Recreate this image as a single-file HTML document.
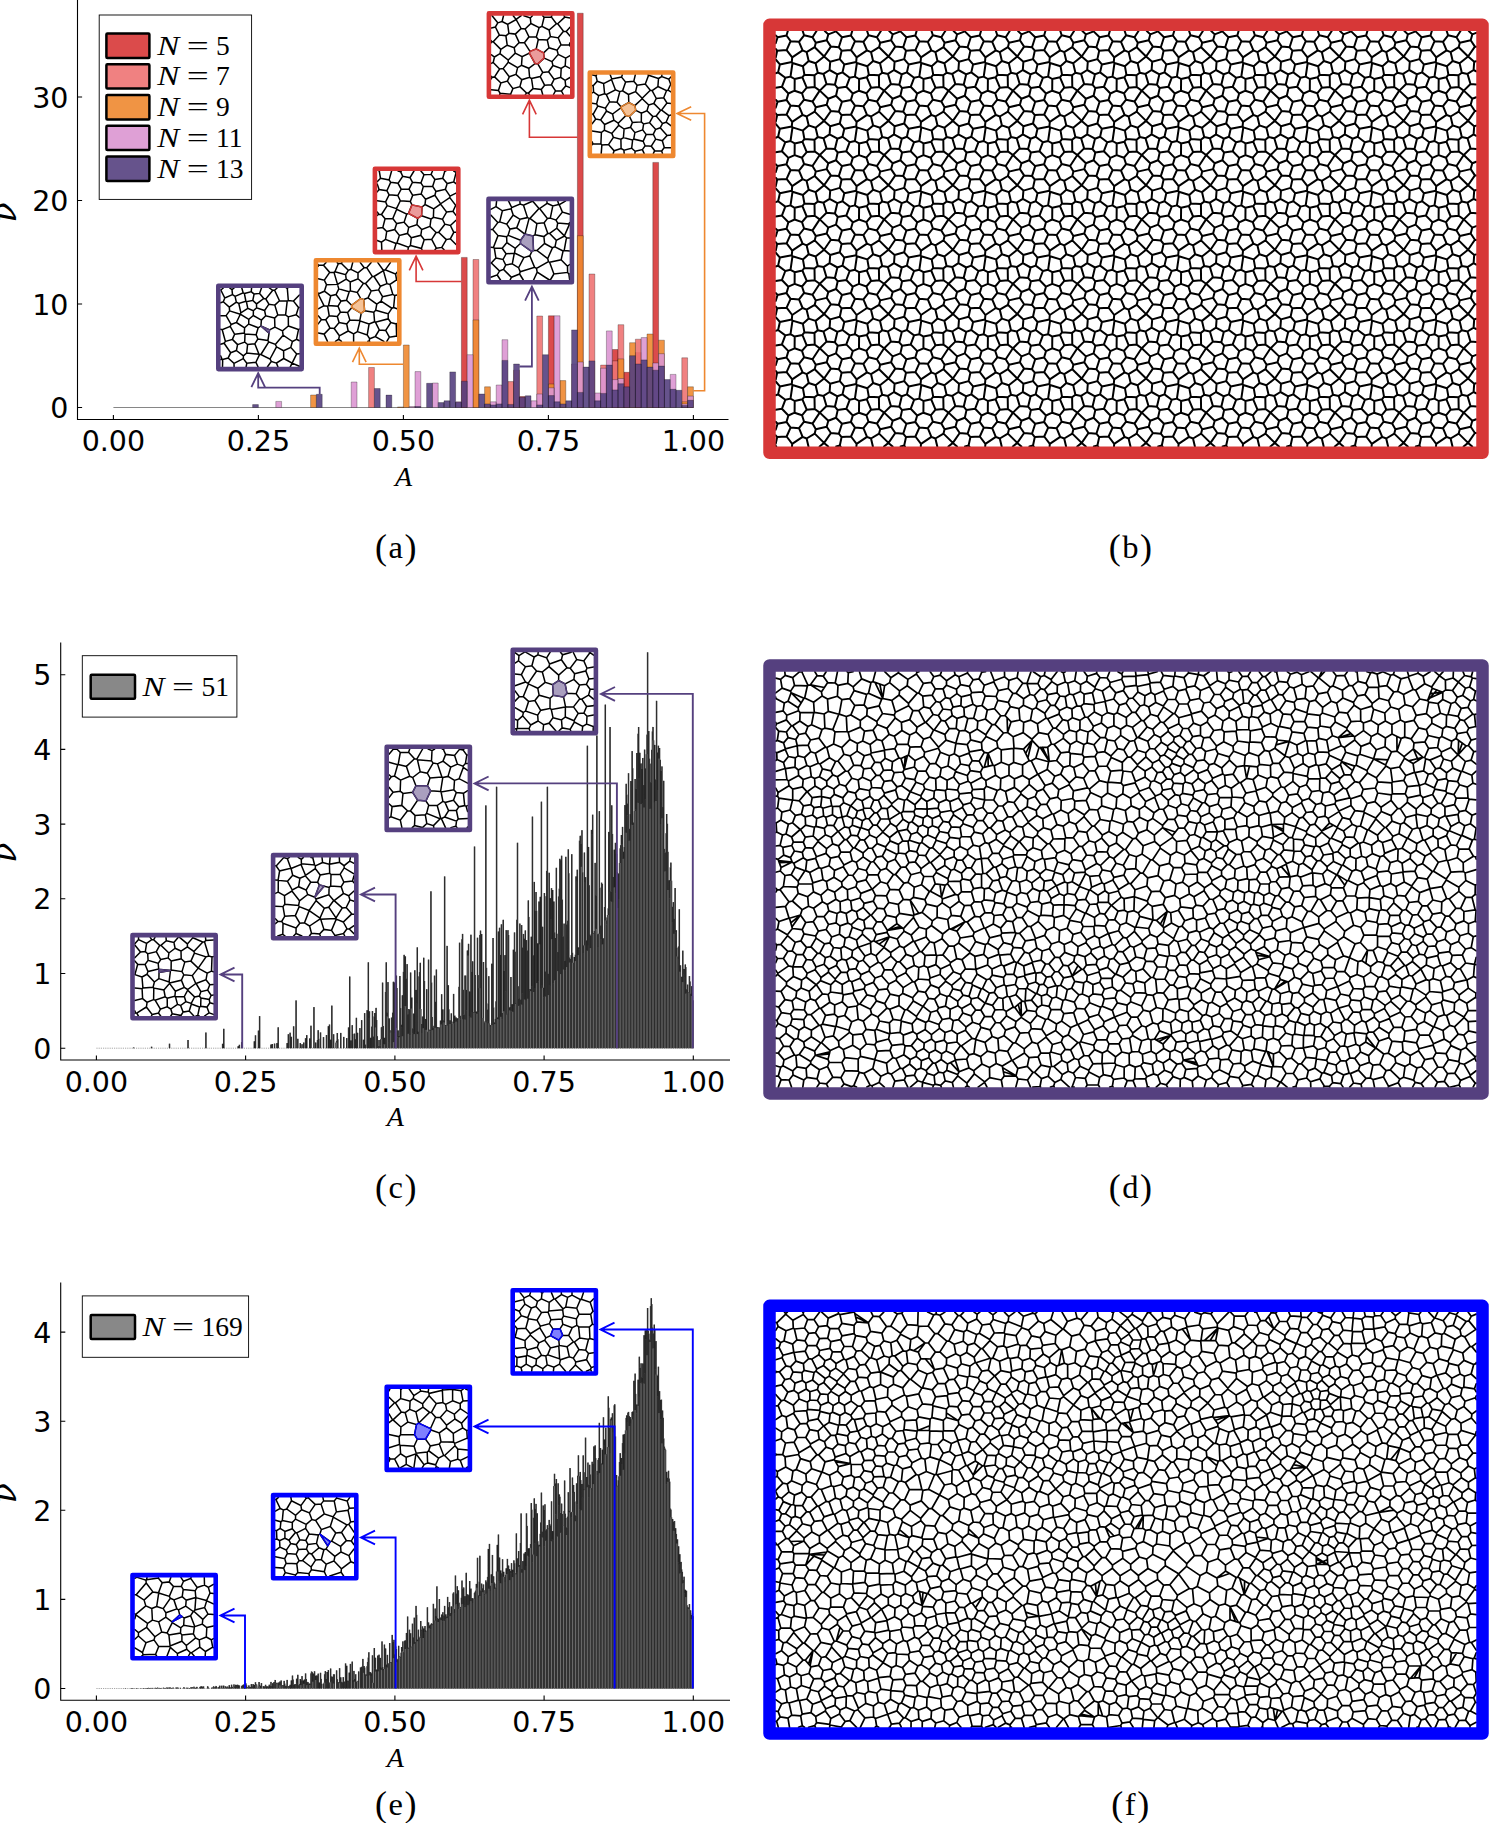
<!DOCTYPE html>
<html><head><meta charset="utf-8"><title>figure</title>
<style>html,body{margin:0;padding:0;background:#fff}svg{display:block}</style></head>
<body>
<svg width="1489" height="1823" viewBox="0 0 1489 1823">
<rect width="1489" height="1823" fill="#fff"/>
<path d="M77.5 -2 V419.5 H728.5" fill="none" stroke="#000" stroke-width="1.1"/>
<path d="M113.4 419.5v-4.6M258.4 419.5v-4.6M403.4 419.5v-4.6M548.4 419.5v-4.6M693.4 419.5v-4.6M77.5 407.5h4.6M77.5 304h4.6M77.5 200.5h4.6M77.5 97h4.6" fill="none" stroke="#000" stroke-width="1.1"/>
<g font-family='"DejaVu Sans","Liberation Sans",sans-serif' font-size="28.5" fill="#000">
<text x="113.4" y="451.3" text-anchor="middle">0.00</text>
<text x="258.4" y="451.3" text-anchor="middle">0.25</text>
<text x="403.4" y="451.3" text-anchor="middle">0.50</text>
<text x="548.4" y="451.3" text-anchor="middle">0.75</text>
<text x="693.4" y="451.3" text-anchor="middle">1.00</text>
<text x="68.4" y="418.1" text-anchor="end">0</text>
<text x="68.4" y="314.6" text-anchor="end">10</text>
<text x="68.4" y="211.1" text-anchor="end">20</text>
<text x="68.4" y="107.6" text-anchor="end">30</text>
</g>
<path d="M113.4 407.5H693.4" stroke="#000" stroke-width="0.6" stroke-opacity="0.8"/>
<path d="M461.4 407.5v-150.1h5.8v150.1zM519.4 407.5v-10.9h5.8v10.9zM548.4 407.5v-91.7h5.8v91.7zM577.4 407.5v-394.3h5.8v394.3zM612.2 407.5v-58h5.8v58zM623.8 407.5v-35.2h5.8v35.2zM635.4 407.5v-54.9h5.8v54.9zM652.8 407.5v-245.1h5.8v245.1z" fill="#D73737" fill-opacity="0.9" stroke="#000" stroke-opacity="0.55" stroke-width="0.5"/>
<path d="M368.6 407.5v-40h5.8v40zM473 407.5v-148h5.8v148zM507.8 407.5v-25.9h5.8v25.9zM513.6 407.5v-37.3h5.8v37.3zM536.8 407.5v-91.5h5.8v91.5zM589 407.5v-133.5h5.8v133.5zM600.6 407.5v-42.4h5.8v42.4zM612.2 407.5v-46.6h5.8v46.6zM618 407.5v-82.8h5.8v82.8zM635.4 407.5v-68.3h5.8v68.3zM681.8 407.5v-49.7h5.8v49.7z" fill="#EE7373" fill-opacity="0.9" stroke="#000" stroke-opacity="0.55" stroke-width="0.5"/>
<path d="M310.6 407.5v-12.5h5.8v12.5zM397.6 407.5v-0.6h5.8v0.6zM403.4 407.5v-62.5h5.8v62.5zM473 407.5v-87.6h5.8v87.6zM484.6 407.5v-20.7h5.8v20.7zM548.4 407.5v-23.5h5.8v23.5zM560 407.5v-26.9h5.8v26.9zM577.4 407.5v-171.8h5.8v171.8zM618 407.5v-48.6h5.8v48.6zM629.6 407.5v-64.8h5.8v64.8zM647 407.5v-73.5h5.8v73.5zM658.6 407.5v-67.3h5.8v67.3zM681.8 407.5v-5.7h5.8v5.7zM687.6 407.5v-20.7h5.8v20.7z" fill="#EE8830" fill-opacity="0.9" stroke="#000" stroke-opacity="0.55" stroke-width="0.5"/>
<path d="M275.8 407.5v-6.1h5.8v6.1zM351.2 407.5v-25.5h5.8v25.5zM409.2 407.5v-1h5.8v1zM415 407.5v-35.9h5.8v35.9zM432.4 407.5v-24.5h5.8v24.5zM455.6 407.5v-5.7h5.8v5.7zM467.2 407.5v-52.8h5.8v52.8zM490.4 407.5v-5.7h5.8v5.7zM496.2 407.5v-22.5h5.8v22.5zM502 407.5v-67.8h5.8v67.8zM531 407.5v-6.7h5.8v6.7zM536.8 407.5v-13.5h5.8v13.5zM548.4 407.5v-19.7h5.8v19.7zM554.2 407.5v-91.7h5.8v91.7zM571.6 407.5v-43.5h5.8v43.5zM577.4 407.5v-45.5h5.8v45.5zM594.8 407.5v-14.5h5.8v14.5zM600.6 407.5v-39.3h5.8v39.3zM606.4 407.5v-76.6h5.8v76.6zM612.2 407.5v-27.9h5.8v27.9zM618 407.5v-29h5.8v29zM641.2 407.5v-69.9h5.8v69.9zM652.8 407.5v-44.5h5.8v44.5zM658.6 407.5v-53.8h5.8v53.8zM670.2 407.5v-33.1h5.8v33.1zM681.8 407.5v-3.6h5.8v3.6zM687.6 407.5v-11.4h5.8v11.4z" fill="#DC96D2" fill-opacity="0.9" stroke="#000" stroke-opacity="0.55" stroke-width="0.5"/>
<path d="M252.6 407.5v-2.9h5.8v2.9zM316.4 407.5v-13.2h5.8v13.2zM374.4 407.5v-19h5.8v19zM386 407.5v-12.4h5.8v12.4zM415 407.5v-1h5.8v1zM426.6 407.5v-24.2h5.8v24.2zM438.2 407.5v-4.9h5.8v4.9zM444 407.5v-6.7h5.8v6.7zM449.8 407.5v-35.6h5.8v35.6zM455.6 407.5v-5.2h5.8v5.2zM461.4 407.5v-26.3h5.8v26.3zM478.8 407.5v-13.5h5.8v13.5zM484.6 407.5v-3.6h5.8v3.6zM490.4 407.5v-2.6h5.8v2.6zM496.2 407.5v-3.6h5.8v3.6zM502 407.5v-47.1h5.8v47.1zM507.8 407.5v-3.1h5.8v3.1zM513.6 407.5v-43.5h5.8v43.5zM519.4 407.5v-10.3h5.8v10.3zM525.2 407.5v-11.7h5.8v11.7zM536.8 407.5v-2.6h5.8v2.6zM542.6 407.5v-52.8h5.8v52.8zM548.4 407.5v-11.9h5.8v11.9zM554.2 407.5v-5.7h5.8v5.7zM560 407.5v-3.6h5.8v3.6zM565.8 407.5v-6.7h5.8v6.7zM571.6 407.5v-77.6h5.8v77.6zM577.4 407.5v-15.1h5.8v15.1zM583.2 407.5v-40.4h5.8v40.4zM589 407.5v-46.6h5.8v46.6zM594.8 407.5v-6.7h5.8v6.7zM600.6 407.5v-14.1h5.8v14.1zM606.4 407.5v-42.4h5.8v42.4zM612.2 407.5v-17.6h5.8v17.6zM618 407.5v-23.8h5.8v23.8zM623.8 407.5v-20.7h5.8v20.7zM629.6 407.5v-51.8h5.8v51.8zM635.4 407.5v-43.5h5.8v43.5zM641.2 407.5v-47.6h5.8v47.6zM647 407.5v-40.4h5.8v40.4zM652.8 407.5v-37.3h5.8v37.3zM658.6 407.5v-41.4h5.8v41.4zM664.4 407.5v-27.9h5.8v27.9zM670.2 407.5v-18.2h5.8v18.2zM676 407.5v-17.2h5.8v17.2zM681.8 407.5v-2.1h5.8v2.1zM687.6 407.5v-7.2h5.8v7.2z" fill="#55407F" fill-opacity="0.9" stroke="#000" stroke-opacity="0.55" stroke-width="0.5"/>
<path d="M577.4 137.3 L529.4 137.3 L529.4 100.2 M536.2 114.4 L529.4 100.2 L522.6 114.4" fill="none" stroke="#D73737" stroke-width="1.6" stroke-linejoin="miter"/>
<path d="M693.4 390.8 L704.6 390.8 L704.6 113.5 L677 113.5 M691.2 106.7 L677 113.5 L691.2 120.3" fill="none" stroke="#EE8830" stroke-width="1.6" stroke-linejoin="miter"/>
<path d="M461.4 281.5 L416.1 281.5 L416.1 256.2 M422.9 270.4 L416.1 256.2 L409.3 270.4" fill="none" stroke="#D73737" stroke-width="1.6" stroke-linejoin="miter"/>
<path d="M519.4 366.5 L531.9 366.5 L531.9 286.5 M538.7 300.7 L531.9 286.5 L525.1 300.7" fill="none" stroke="#55407F" stroke-width="1.8" stroke-linejoin="miter"/>
<path d="M403.4 364.2 L359.3 364.2 L359.3 348 M366.1 362.2 L359.3 348 L352.5 362.2" fill="none" stroke="#EE8830" stroke-width="1.6" stroke-linejoin="miter"/>
<path d="M319.7 394.2 L319.7 387.6 L258.2 387.6 L258.2 373 M265 387.2 L258.2 373 L251.4 387.2" fill="none" stroke="#55407F" stroke-width="1.8" stroke-linejoin="miter"/>
<rect x="486.6" y="11.1" width="88" height="88" fill="#fff"/>
<g transform="translate(491.2 15.7) scale(.1)"><path d="M0 122l42-9l24-41l-57-72M0 249l9 12l-9 8M0 390l33 23l55-34l8-42l64-42l-13-94l-65-7l-62 66l76 77M0 477l20-9l13-55M0 607l10 8l-10 17M0 740l72 7l17 28l105 10l23-56l70-20l19-69l78-24l19 12l15 101l83 9l14 50M9 261l11-1M10 615l24-3l63 61l65-19l55 75M20 468l64 65l35-4l62 82l-19 43M34 612l50-79M42 113l40 81M66 72l43-14l14-58M72 747l25-74M85 788l4-13M88 379l82 64l70-69l69 36l72-36l7-17l-56-87l-52-1l-50 52l10 53M109 58l56 28l84-48l50 90l-58 56l-64-8l-12-90M119 529l52-64l93 54l39-23l6-86M147 201l30-25M160 295l70 26M170 443l1 22M181 611l67-24l58 53M194 785l2 3M220 0l29 37l51-37M241 184l39 85M248 587l16-68M249 37l0 1M287 709l67 65l17 0l11 14M299 128l40 5l39 78l-46 59M303 496l73 30l63-47l-58-105M327 0l64 22l21-22M339 133l58-55l82 42l-28 94l20 24l-21 94l-62 25M342 788l12-14M371 774l47-45M376 526l8 90M378 211l73 3M391 22l6 56M403 628l87-19l25-42l59-6l55 75l-27 54l-68 5l-44-86M439 479l27 3l64-58l-6-52l-74-40M466 482l49 85M471 238l90 6l31-36l78 13l28 69l-39 55l-81-24l-17-77M479 120l28-13l72 36l73-63l-51-68l-72 4l-22 91M501 738l33-43M515 0l14 16M524 372l54-51M530 424l78 36l62-73l-11-42M574 561l44-63l-10-38M579 143l13 65M601 12l6-12M602 690l41 62l-20 36M618 498l82 30l40-26l5-78l43-25M629 636l66-19l44 29l49-28M643 752l59 1l19 35M652 80l13 1l58 75l27 1l38 45M665 81l71-67l52 8M670 221l53-65M670 387l75 37M695 617l5-89M698 290l82 2l8-21M702 753l43-51l43 17M728 0l8 14M739 646l6 56M740 502l48 24M750 157l38-41M780 292l8 11" fill="none" stroke="#000" stroke-width="15" stroke-linecap="round"/></g>
<polygon points="537.8,63.9 544.2,58.1 543.6,52.9 536.2,48.9 530,51.4 529.3,53.1 535.1,63.6" fill="#D73737" fill-opacity="0.5" stroke="#D73737" stroke-width="1.3" stroke-linejoin="round"/>
<rect x="488.9" y="13.4" width="83.4" height="83.4" fill="none" stroke="#D73737" stroke-width="4.6" stroke-linejoin="round"/>
<rect x="587.5" y="70.2" width="88" height="88" fill="#fff"/>
<g transform="translate(592.1 74.8) scale(.1)"><path d="M0 0l39 10l6-10M0 107l11 3l4 63l51 35l59-18l-10-102l-64-24l-40 46M0 181l15-8M0 285l45 7l21-84M0 393l10 2l47-83l-12-20M0 490l36-47l-26-48M0 562l93 15l-5 115l-79-1l-9-20M0 700l9-9M36 443l50 8l58-89l61 30l13 62l-93 43l-39-46M39 10l12 54M57 312l76 22l42-64l-33-73l92-46l43 17l-27 106l-75-4M88 692l10 9l-7 87M93 577l30-23l2-57M98 701l66-3l56 62l70-23l-2-91l-75-20l-49 72M115 88l79-40l40 103M123 554l74 32l70-81l-6-21l-43-30M125 190l17 7M133 334l11 28M181 0l16 42l98-19l7-23M194 48l3-6M197 586l16 40M205 392l83-62l1-10l-39-46M211 788l9-28M261 484l76-76l36 8l64-61l56 28l56-23l17-58l-65-63l-74 69l10 47M267 505l53 37l64-17l19-48l-30-61M277 168l28-8l59 37l3 80l-78 43M288 330l49 78M288 646l25-18l92 24l-9 82l-78 20l3 34M290 737l28 17M295 23l40 50l-30 87M313 628l7-86M335 73l82-9l15-64M364 197l71-29l66 67l0 4M367 277l60 31M384 525l44 53l-12 65l94 22l31-68l-35-46l-78 27M396 734l34 31l-2 23M403 477l89-6l1-88M405 652l11-9M417 64l33 40l-15 64M430 765l73-17l18 40M450 104l82-12l50 63l18 3l58-41l6-80l-99-33l-33 88M492 471l23 21l60-13l33-61l33-6l63 75l-23 43l-45 16l-61-67M501 235l81-80M503 748l27-38l62 4l34 45l-14 29M506 551l9-59M510 665l20 45M541 597l71-3l24 50l66 15l20 68l66 2M549 360l59 58M558 0l6 3l1-3M564 3l1 1M566 302l51-16l25-49l74-7l33 52l-54 70l73 57l20-7M592 714l44-70M600 158l42 79M612 594l24-48M617 286l68 68l10-2M626 759l70 3l26-35M641 412l44-58M658 117l86 42l-28 71M664 37l32-20l71 27l21-22M681 530l69 76l-48 53M696 17l2-17M696 762l8 26M704 487l36-13l28-65M740 474l48 34M744 159l15-6l29 18M749 282l39 5M750 606l36-4l2-4M759 153l27-59l-19-50M786 94l2 0M786 602l2 3" fill="none" stroke="#000" stroke-width="15" stroke-linecap="round"/></g>
<polygon points="620.9,107.8 621,106.8 628.8,102.5 634.8,105.6 635.8,110.3 629.4,116.4 625.8,115.6" fill="#EE8830" fill-opacity="0.5" stroke="#EE8830" stroke-width="1.3" stroke-linejoin="round"/>
<rect x="589.8" y="72.5" width="83.4" height="83.4" fill="none" stroke="#EE8830" stroke-width="4.6" stroke-linejoin="round"/>
<rect x="372.6" y="166.4" width="88" height="88" fill="#fff"/>
<g transform="translate(377.2 171) scale(.1)"><path d="M0 107l33-34l-12-72l-4-1M0 131l19 54l78 12l22 41l-35 71l-84-12M0 209l19-24M0 410l16 22l-16 13M0 572l56-6l39 39l-12 79l-40 28l-43-17M16 432l27 3l36 42l-23 89M21 1l2-1M33 73l86 16l16 24l-38 84M43 435l57-89l-16-37M43 712l3 75l-1 1M46 787l1 1M79 477l77-2l39-92l100 49l-26 80l-74 14l-39-51M83 684l106 41l-19 63M95 605l80-20l20-59M100 346l93 31l38-79l-25-53l-87-7M119 89l25-89M135 113l73 10l32 59l78 0l35-69l-25-46l-73-14l-47 70M175 585l47 59l81-20l38 44l-9 77l-20 17l-115-42l25-76M189 725l8-5M193 377l2 6M206 245l34-63M208 0l27 9l20 44M231 298l100 6l16 35l101 21l-4 87l-39 27l-92-50l34-85M235 9l6-9M269 512l46 52l82-28l8-62M295 432l18-8M303 624l12-60M308 788l4-26M318 182l37 61l-24 61M328 67l40-67M332 745l110 29l6 14M341 668l95-25l9-58l83-31l61 61l-44 68l-75 4l-34-44M353 113l84 6l24 37l-21 73l44 53l-6 53l-30 25M355 243l85-14M397 536l48 49M437 0l31 38l71-4l14-34M437 119l31-81M442 774l28-87M444 447l94 34l-10 73M461 156l94-3l22-68l-38-51M478 335l87 44l68-48l61 79l-41 72l24 50l55 13l56-53M484 282l93-39l57 85l92-62l2-15l-46-68l-95 21l-10 39M538 481l24-18l91 19M545 683l46 89l-13 16M555 153l32 51M562 463l3-84M577 85l78-12l21-70l-3-3M589 615l26-2l62-81M591 772l55-8l45-78l40-8l57 57M615 613l76 73M633 331l1-3M646 764l23 24M655 73l45 53l65-17l23-90M676 3l11-3M682 183l18-57M694 410l64-7l30 41M726 266l59 77l-27 60M728 251l60-30M731 678l35-65l22-1M732 545l34 68M765 0l23 14M765 109l23 18M785 343l3-1" fill="none" stroke="#000" stroke-width="15" stroke-linecap="round"/></g>
<polygon points="421.6,215.7 422,207 411.9,204.9 408.5,213.4 417.7,218.4" fill="#D73737" fill-opacity="0.5" stroke="#D73737" stroke-width="1.3" stroke-linejoin="round"/>
<rect x="374.9" y="168.7" width="83.4" height="83.4" fill="none" stroke="#D73737" stroke-width="4.6" stroke-linejoin="round"/>
<rect x="486.2" y="196.6" width="88" height="88" fill="#fff"/>
<g transform="translate(490.8 201.2) scale(.1)"><path d="M0 82l52-28l6-54M0 138l70 76l-51 68l-19 2M0 461l26 2l9 7l79 0l47-56l84 58l51-49l2-32l-125-50l-15 14l3 59M0 617l5 0l82 81l-23 40l-64 23M5 617l46-49l-16-98M19 282l53 62l-46 119M51 568l71 15l31-57l-39-56M52 54l64 42l87-20l6-13l84-35l34 13l88-41M64 738l33 50M70 214l19-7l27-111M72 344l86 11M87 698l40-16l79 79l82-33l37 60M89 207l70 22l65-90l68 42l75-17l-40-123M122 583l27 55l-22 44M149 638l66-12l20-106l2-2l94 46l-53 102l-63-40M153 526l82-6M159 229l33 50l67-13l33-85M173 341l19-62M178 0l31 63M193 788l13-27M203 76l21 63M237 518l8-46M259 266l82 64l1-1l41-157l-16-8M278 666l16 40l144-44l19 11l120-68l11 6l43 117l137-16l-1-61l21-18M288 728l6-22M291 0l2 28M296 423l114 81l17-11l34 0l108 80l48-107l-79-43l-77 70M298 391l43-61M331 564l59-18l20-42M342 329l79 18l21-11l19-112l-70-52l91-99l-62-73M383 172l8 0M390 546l48 116M421 347l6 146M428 788l36-79l123 79M442 336l89 18l39-32l-37-107l-72 9M457 673l7 36M482 73l6 0l75-52l-2-21M488 73l78 101l-33 41M531 354l7 69M563 21l57 26l60-14l-10-33M566 174l29-5l25-122M569 573l8 32M570 322l19 0l66 69l82-43l20 17l31 3M588 611l115-25l20-88l11-5l23-128M589 322l71-52l76 77l49-113l-2-6l-114-9l-9 51M595 169l57 20l17 30M595 788l36-60M617 466l25-10l13-65M642 456l81 42M652 189l64-80l72 21M680 33l5 2l61-35M685 35l31 74M703 586l64 65M734 493l54 4M736 347l1 1M768 712l13 18l7-2M781 730l7 53M783 228l5-14M785 234l3 2" fill="none" stroke="#000" stroke-width="15" stroke-linecap="round"/></g>
<polygon points="520.6,240.3 524.9,234.2 525,234.1 532.9,235.9 533.5,250.5 531.8,251.6 520.4,243.5" fill="#55407F" fill-opacity="0.5" stroke="#55407F" stroke-width="1.3" stroke-linejoin="round"/>
<rect x="488.5" y="198.9" width="83.4" height="83.4" fill="none" stroke="#55407F" stroke-width="4.6" stroke-linejoin="round"/>
<rect x="313.6" y="258" width="88" height="88" fill="#fff"/>
<g transform="translate(318.2 262.6) scale(.1)"><path d="M0 20l4 5l-4 12M0 161l61 15l54-78l-62-71l-49-2M0 304l5 7l-3 8l56 112l-58 31M0 320l2-1M0 532l32 38l-32 43M0 705l59 10l59-60l-43-84l-43-1M5 311l57-25l63 46l-22 98l95 6l24 59l-31 44l-81-8l-16-95l9-6M53 27l26-27M58 431l36 5M59 715l34 73M61 176l22 45l110-3l-35-120l-43 0M62 286l21-65M75 571l35-40M118 655l42 4l49-60l76 15l15 70l-88 48l-52-73M125 332l53-13l28-56l104 28l-27 86l-55 8l-50-66M158 98l9-7l34-80l-11-11M167 91l107 30l27-44l27-10l17-67M172 788l33-22l28 22M191 539l18 60M198 436l30-51M201 11l29-4l7-7M205 766l7-34M206 263l-13-45l87-52l40 28l2 89l68 15l62-90l21 1l68-71l17 1l64 98l-18 36l-74 11l-57-75M222 495l72 5l41-49l-1-24l91-68l30 10l9 112l-34 26l-95-56M230 7l71 70M274 121l6 45M283 377l51 50M285 614l32-39l99 5l2 3l91 31l-19 109l-98-33l26-107M294 500l23 75M300 684l54 28l38-22M310 291l12-8M320 194l78-32l54 46M328 67l70 36l62-52l25 0l45-51M354 712l0 76M390 298l35 61M398 103l0 59M416 580l14-73M421 0l39 51M455 369l43-16l88 62l-11 61l-19 20l8 95l8 5l128-34l0-49l-125-37M464 481l92 15M485 51l56 87M490 723l25 39l56-23l86 49M496 788l14-8l5 8M498 353l32-69M509 614l55-23M510 780l5-18M558 139l94-59l36 130l29 8l67-44l-10-59l-104-42l-17 6l-1 1M571 739l40-66l-39-77M586 415l43-30l108 72l-37 56M596 0l57 79M604 273l39 68l-14 44M611 673l64 5l37 68l72-12l-4-121l-54-14l-51 79M622 237l66-27M643 341l103-23l-29-100M670 73l52-73M686 788l26-42M700 562l26 37M737 457l17-8l12-119l-20-12M754 449l34 12M766 330l22-5M774 115l14-18M780 613l8-4M784 174l4 2M784 734l4 2" fill="none" stroke="#000" stroke-width="15" stroke-linecap="round"/></g>
<polygon points="361.2,313.3 351.7,307.7 351.6,305.3 360.7,298.5 363.7,299.5 364.6,310.7" fill="#EE8830" fill-opacity="0.5" stroke="#EE8830" stroke-width="1.3" stroke-linejoin="round"/>
<rect x="315.9" y="260.3" width="83.4" height="83.4" fill="none" stroke="#EE8830" stroke-width="4.6" stroke-linejoin="round"/>
<rect x="216" y="283.4" width="88" height="88" fill="#fff"/>
<g transform="translate(220.6 288) scale(.1)"><path d="M0 20l2 0l25-20M0 147l27-9l60 53l3 38l-35 47l-55 2M0 413l16 5l80-34l44 78l-22 52l-70 20l-32-116M0 563l35-11l66 95l-26 53l-54 15l-6-3l-15-33M0 715l15-3M2 20l40 80l77-34l-5-50l-23-16M19 788l2-73M27 138l15-38M35 552l13-18M55 276l50 89l-9 19M75 700l59 53l93-47l1-27l-70-54l12-59l-52-52M87 191l70-49l-12-58l81-35l12 6l15 78l-71 22l-25-13M90 229l107 33l-39 83l-53 20M101 647l57-22M114 16l21-16M119 66l26 18M134 753l1 35M140 462l97-11l3-53l-82-53M170 566l71-26l29 25l72-7l31-49l-18-41l-111-7l-3 79M182 155l21 93l69-44l56 23l-1 48l-45 38l-85-51l6-14M212 0l14 49M227 706l35 47l91-11l21 46M228 679l33-29l123 12l5 4l-36 76M237 451l7 10M238 55l68-19l4-36M240 398l41-38l95 38l-21 70M253 133l5 4l64-13l13-63l-29-25M255 788l7-35M258 137l14 67M261 650l9-85M281 360l1-47M322 124l37 35l73-54l20 5l70-87l18-1l49 105l77 4l11-6l-10-122l-9-3M327 275l81 46l-5 59l87 39l-17 107l9 13l65 25l12 24l71 40l1 77l-73 46l15 37M328 227l32-29l80 27l43-63l59 9l30 99l78-1l27 20l1 91l-59 49l-76-38l-3-90l32-31M335 61l55-7l19-54M342 558l42 104M359 159l1 39M373 509l100 17M376 398l27-18M389 666l14-1l91 45l13 24l51 17M390 54l42 51M403 665l79-126M408 321l43-43l89 23M440 225l11 53M452 110l31 52M469 788l38-54M488 0l34 23M490 419l53-28M494 710l65-122M540 22l25-22M542 171l47-44M547 564l78-92l93 63l-16 59l59 65l27-2M619 429l6 43M630 628l72-34M631 705l84 46l-18 37M650 269l16-138M667 3l5-3M677 125l52 6l50 64l-23 72l32 28M677 289l79-22M678 380l101 36l-20 97l29 14M718 535l41-22M729 131l59-61M761 659l-46 92l73 32M779 195l9-1M779 416l9-6M403 380L485 451" fill="none" stroke="#000" stroke-width="15" stroke-linecap="round"/></g>
<polygon points="260.9,326 269.6,329.9 269.1,333.1" fill="#55407F" fill-opacity="0.5" stroke="#55407F" stroke-width="1.3" stroke-linejoin="round"/>
<rect x="218.3" y="285.7" width="83.4" height="83.4" fill="none" stroke="#55407F" stroke-width="4.6" stroke-linejoin="round"/>
<rect x="99.2" y="15" width="152.4" height="184.4" fill="#fff" stroke="#000" stroke-width="0.9"/>
<rect x="106.4" y="33.6" width="43" height="24.3" rx="1" fill="#D73737" fill-opacity="0.9" stroke="#000" stroke-width="2.5" stroke-linejoin="round"/>
<g font-family='"Liberation Serif","DejaVu Serif",serif' font-size="27.5" fill="#000"><text transform="translate(157.2 54.6) scale(1.2 1)" font-style="italic">N</text><text transform="translate(186.8 54.6) scale(1.42 1)">=</text><text x="216.1" y="54.6">5</text></g>
<rect x="106.4" y="64.3" width="43" height="24.3" rx="1" fill="#EE7373" fill-opacity="0.9" stroke="#000" stroke-width="2.5" stroke-linejoin="round"/>
<g font-family='"Liberation Serif","DejaVu Serif",serif' font-size="27.5" fill="#000"><text transform="translate(157.2 85.3) scale(1.2 1)" font-style="italic">N</text><text transform="translate(186.8 85.3) scale(1.42 1)">=</text><text x="216.1" y="85.3">7</text></g>
<rect x="106.4" y="95.1" width="43" height="24.3" rx="1" fill="#EE8830" fill-opacity="0.9" stroke="#000" stroke-width="2.5" stroke-linejoin="round"/>
<g font-family='"Liberation Serif","DejaVu Serif",serif' font-size="27.5" fill="#000"><text transform="translate(157.2 116.1) scale(1.2 1)" font-style="italic">N</text><text transform="translate(186.8 116.1) scale(1.42 1)">=</text><text x="216.1" y="116.1">9</text></g>
<rect x="106.4" y="125.8" width="43" height="24.3" rx="1" fill="#DC96D2" fill-opacity="0.9" stroke="#000" stroke-width="2.5" stroke-linejoin="round"/>
<g font-family='"Liberation Serif","DejaVu Serif",serif' font-size="27.5" fill="#000"><text transform="translate(157.2 146.8) scale(1.2 1)" font-style="italic">N</text><text transform="translate(186.8 146.8) scale(1.42 1)">=</text><text x="216.1" y="146.8">11</text></g>
<rect x="106.4" y="156.6" width="43" height="24.3" rx="1" fill="#55407F" fill-opacity="0.9" stroke="#000" stroke-width="2.5" stroke-linejoin="round"/>
<g font-family='"Liberation Serif","DejaVu Serif",serif' font-size="27.5" fill="#000"><text transform="translate(157.2 177.6) scale(1.2 1)" font-style="italic">N</text><text transform="translate(186.8 177.6) scale(1.42 1)">=</text><text x="216.1" y="177.6">13</text></g>
<text x="403.5" y="486.3" text-anchor="middle" font-family='"Liberation Serif","DejaVu Serif",serif' font-style="italic" font-size="28">A</text>
<text transform="translate(16 222.4) rotate(-90)" font-family='"DejaVu Serif","Liberation Serif",serif' font-style="italic" font-size="33">ν</text>
<path d="M96.4 1048.2H693.3" stroke="#000" stroke-width="0.5" stroke-dasharray="1.2 1" stroke-opacity="0.7"/>
<path d="M133.41 1048.2V1047.5H134.00V1048.2ZM151.31 1048.2V1046.7H151.91V1048.2ZM169.22 1048.2V1043.7H169.82V1048.2ZM187.73 1048.2V1040H188.32V1048.2ZM205.63 1048.2V1032.5H206.23V1048.2ZM222.35 1048.2V1043.8H222.94V1048.2ZM223.54 1048.2V1028.8H224.14V1048.2ZM237.87 1048.2V1046.2H238.46V1048.2ZM239.06 1048.2V1044.8H239.66V1048.2ZM241.45 1048.2V1042.2H242.04V1048.2ZM253.98 1048.2V1041.3H254.58V1048.2ZM255.18 1048.2V1035.3H255.77V1048.2ZM258.16 1048.2V1030.6H258.76V1048.2ZM259.35 1048.2V1016.1H259.95V1048.2ZM270.69 1048.2V1044.6H271.29V1048.2ZM271.89 1048.2V1044H272.49V1048.2ZM274.28 1048.2V1043.6H274.87V1048.2ZM276.66 1048.2V1043.1H277.26V1048.2ZM277.86 1048.2V1027.3H278.45V1048.2ZM286.81 1048.2V1043.1H287.41V1048.2ZM288.00 1048.2V1034.2H288.60V1048.2ZM289.80 1048.2V1032.7H290.39V1048.2ZM290.99 1048.2V1036.8H291.59V1048.2ZM293.38 1048.2V1026.3H293.97V1048.2ZM295.76 1048.2V1000.4H296.36V1048.2ZM297.56 1048.2V1038.8H298.15V1048.2ZM299.94 1048.2V1043.1H300.54V1048.2ZM301.73 1048.2V1044.2H302.33V1048.2ZM303.52 1048.2V1042.5H304.12V1048.2ZM305.31 1048.2V1038.2H305.91V1048.2ZM306.51 1048.2V1035.1H307.11V1048.2ZM309.49 1048.2V1038.4H310.09V1048.2ZM310.69 1048.2V1025.7H311.28V1048.2ZM313.67 1048.2V1007.1H314.27V1048.2ZM315.46 1048.2V1042.5H316.06V1048.2ZM317.25 1048.2V1040H317.85V1030.2H318.45V1038.7H319.04V1048.2ZM320.24 1048.2V1032.4H320.83V1048.2ZM323.22 1048.2V1037.1H323.82V1048.2ZM326.21 1048.2V1035H326.80V1048.2ZM328.00 1048.2V1026.2H328.59V1048.2ZM329.19 1048.2V1024.5H329.79V1048.2ZM330.38 1048.2V1039.7H330.98V1048.2ZM331.58 1048.2V1005.6H332.18V1048.2ZM333.37 1048.2V1034.2H333.97V1048.2ZM335.76 1048.2V1042.6H336.35V1040.8H336.95V1033H337.55V1039.2H338.14V1048.2ZM340.53 1048.2V1032.9H341.13V1048.2ZM343.52 1048.2V1036.9H344.11V1048.2ZM346.50 1048.2V1038.1H347.10V1048.2ZM348.29 1048.2V1027.4H348.89V1048.2ZM349.49 1048.2V976.5H350.08V1048.2ZM350.68 1048.2V1040.4H351.28V1048.2ZM351.87 1048.2V1025.2H352.47V1033.8H353.07V1048.2ZM354.26 1048.2V1033.6H354.86V1048.2ZM355.45 1048.2V1039.2H356.05V1017.8H356.65V1048.2ZM357.25 1048.2V1032.8H357.84V1048.2ZM359.63 1048.2V1028.1H360.23V1048.2ZM361.42 1048.2V1020.1H362.02V1048.2ZM363.21 1048.2V1039.7H363.81V1048.2ZM364.41 1048.2V1013.1H365.00V1044.6H365.60V1048.2ZM366.80 1048.2V1010.2H367.39V1048.2ZM367.99 1048.2V962.3H368.59V1018.6H369.18V1011.3H369.78V1048.2ZM370.38 1048.2V1037.8H370.97V1048.2ZM371.57 1048.2V1026.6H372.17V1011H372.76V1047.7H373.36V1036.4H373.96V1016.5H374.56V1013H375.15V1027.5H375.75V1007.9H376.35V1020H376.94V1036.1H377.54V1046.3H378.14V1045.9H378.73V1040.1H379.33V1045.5H379.93V1045.6H380.52V1039.2H381.12V1027.3H381.72V1026.8H382.32V982.6H382.91V1026H383.51V1044.3H384.11V1037.8H384.70V1044.5H385.30V991.9H385.90V962.3H386.49V1016.6H387.09V1012.5H387.69V982.1H388.28V1042.8H388.88V1018.4H389.48V1033H390.07V1032.8H390.67V1030.2H391.27V1017.6H391.87V1018.7H392.46V1012.7H393.06V981.7H393.66V1042.2H394.25V982.5H394.85V1033.7H395.45V1027.9H396.04V975.6H396.64V988H397.24V1037.4H397.83V1030.4H398.43V1035.9H399.03V1037.4H399.63V976H400.22V1008.1H400.82V1024.7H401.42V1027.3H402.01V995.3H402.61V1036.3H403.21V971.9H403.80V954.8H404.40V1006.2H405.00V956.3H405.59V978.8H406.19V1006.5H406.79V964.2H407.38V1014.2H407.98V1033.9H408.58V1009H409.18V1009.5H409.77V1035.5H410.37V972.5H410.97V1008.7H411.56V997.6H412.16V1033.5H412.76V1028.5H413.35V1013.6H413.95V1034.2H414.55V970.2H415.14V1032.8H415.74V989.9H416.34V1003.9H416.94V947.4H417.53V1034.1H418.13V1031.5H418.73V976.3H419.32V972.1H419.92V962.8H420.52V1008.9H421.11V1024H421.71V1033H422.31V1016.5H422.90V1028.3H423.50V957.7H424.10V981H424.70V1030.1H425.29V1019H425.89V1029.9H426.49V989.2H427.08V1031.7H427.68V1032.2H428.28V959.6H428.87V1030.6H429.47V1029.7H430.07V1031.3H430.66V891.3H431.26V982.5H431.86V1017H432.45V1030.2H433.05V1027.6H433.65V1025.8H434.25V975.6H434.84V1001.8H435.44V1027.9H436.04V969.5H436.63V1028H437.23V1027.1H437.83V1028.4H438.42V1027.3H439.02V1027.4H439.62V1028.5H440.21V1020.6H440.81V1024.6H441.41V994.2H442.01V1023.1H442.60V1009.4H443.20V1022.5H443.80V1020.3H444.39V876.4H444.99V1026.3H445.59V1025H446.18V1025.5H446.78V945.9H447.38V1021H447.97V985.2H448.57V1009.3H449.17V1024H449.76V1020.3H450.36V1020.2H450.96V1013.3H451.56V1023.8H452.15V1023.5H452.75V1021.6H453.35V993.9H453.94V1023.2H454.54V1015.7H455.14V1021H455.73V1017.4H456.33V1021.8H456.93V1018.4H457.52V1020.3H458.12V1017.9H458.72V986.8H459.32V942.7H459.91V1015.8H460.51V1019.3H461.11V1019.2H461.70V939.2H462.30V933.9H462.90V989.8H463.49V1014.7H464.09V1019.6H464.69V975.5H465.28V975.6H465.88V989.9H466.48V1010.3H467.07V950.5H467.67V955.7H468.27V943.8H468.87V1016.1H469.46V991.5H470.06V1017.7H470.66V934.7H471.25V971.8H471.85V1012H472.45V961.3H473.04V1012.8H473.64V1012H474.24V846.5H474.83V975H475.43V1013.4H476.03V1011.6H476.63V1013.8H477.22V937.7H477.82V975.1H478.42V1012.3H479.01V988.2H479.61V935H480.21V930.6H480.80V1018.1H481.40V934.1H482.00V1018.1H482.59V1018.2H483.19V962H483.79V1021.4H484.38V1022.4H484.98V1022.5H485.58V805.4H486.18V967.8H486.77V1009.6H487.37V1021.6H487.97V1003.5H488.56V976.1H489.16V1023.4H489.76V1027.7H490.35V1025H490.95V1025H491.55V963.7H492.14V1025H492.74V938H493.34V1007.4H493.94V1024.2H494.53V1022.4H495.13V1019H495.73V1001.2H496.32V786.8H496.92V1017.4H497.52V1019.1H498.11V931.5H498.71V1020.5H499.31V927.7H499.90V954.9H500.50V1016.9H501.10V924.3H501.70V1019.2H502.29V1013.1H502.89V919.8H503.49V1011.4H504.08V971.1H504.68V955.1H505.28V991.5H505.87V930.1H506.47V1013.9H507.07V1014.5H507.66V930.2H508.26V934.9H508.86V1007.6H509.45V1010.5H510.05V1006.9H510.65V977H511.25V1011.4H511.84V1004.2H512.44V1011.8H513.04V949.7H513.63V1006.6H514.23V932.4H514.83V951.7H515.42V1004H516.02V1003.4H516.62V919.7H517.21V842.8H517.81V986.2H518.41V998.5H519.01V1005.9H519.60V923.6H520.20V999.6H520.80V1004.7H521.39V925.1H521.99V993.3H522.59V947.6H523.18V934H523.78V999.6H524.38V938.6H524.97V930.4H525.57V1000.8H526.17V940.1H526.76V950.5H527.36V998.8H527.96V900.4H528.56V916.9H529.15V990.5H529.75V989.2H530.35V991.2H530.94V936.7H531.54V986.2H532.14V816.6H532.73V955.3H533.33V992H533.93V881.9H534.52V988H535.12V910.7H535.72V892H536.32V910.7H536.91V983.1H537.51V943.3H538.11V981.7H538.70V901.5H539.30V944.4H539.90V896.8H540.49V988.9H541.09V801.7H541.69V985.1H542.28V926.8H542.88V987.8H543.48V997.7H544.08V893H544.67V996.6H545.27V971.6H545.87V896.1H546.46V871H547.06V786.8H547.66V995.1H548.25V973.7H548.85V872.7H549.45V985.9H550.04V898.1H550.64V919.2H551.24V888.1H551.83V939.2H552.43V890.1H553.03V983.2H553.63V901.5H554.22V932.3H554.82V980.4H555.42V938H556.01V867.8H556.61V933.7H557.21V952.1H557.80V971.1H558.40V896.4H559.00V888.6H559.59V858.8H560.19V860.2H560.79V974.1H561.39V855.7H561.98V899.5H562.58V936.5H563.18V969.6H563.77V923.6H564.37V960.7H564.97V970.5H565.56V856.8H566.16V924.6H566.76V967.1H567.35V920.8H567.95V849.3H568.55V873.2H569.14V957.5H569.74V962.6H570.34V958.9H570.94V955.1H571.53V854.2H572.13V952.7H572.73V962.8H573.32V962.6H573.92V957H574.52V961.1H575.11V954.5H575.71V876.5H576.31V881.9H576.90V869.7H577.50V955.1H578.10V947.4H578.70V949.5H579.29V840.7H579.89V835.7H580.49V843.9H581.08V866.9H581.68V830.2H582.28V872.3H582.87V953.6H583.47V945.4H584.07V852.6H584.66V882.8H585.26V877.2H585.86V940.4H586.45V950.8H587.05V745.7H587.65V945.9H588.25V846.9H588.84V885.2H589.44V934.3H590.04V935.6H590.63V948.1H591.23V829.9H591.83V834.2H592.42V814.7H593.02V933.2H593.62V933.8H594.21V931.1H594.81V862.9H595.41V928.9H596.01V895.4H596.60V727H597.20V934.2H597.80V947H598.39V933.8H598.99V811.1H599.59V887.6H600.18V925.6H600.78V939.2H601.38V882.7H601.97V883.9H602.57V944.5H603.17V938.6H603.76V938H604.36V907H604.96V704.6H605.56V920.5H606.15V924.4H606.75V917.4H607.35V915H607.94V908.3H608.54V831.9H609.14V892.6H609.73V727H610.33V901.7H610.93V891.5H611.52V805.3H612.12V833.9H612.72V902.8H613.32V877H613.91V849.7H614.51V887.5H615.11V842.9H615.70V893.6H616.30V854H616.90V872.2H617.49V908H618.09V873.4H618.69V899H619.28V863H619.88V848.3H620.48V845.2H621.08V835H621.67V844.4H622.27V826.9H622.87V851.8H623.46V858.9H624.06V846.9H624.66V805.1H625.25V832.8H625.85V783.8H626.45V794.6H627.04V815.4H627.64V803.6H628.24V773.2H628.83V828.8H629.43V840.8H630.03V814.1H630.63V781.1H631.22V824.9H631.82V751.1H632.42V768.2H633.01V825.2H633.61V822.5H634.21V811.1H634.80V779H635.40V809.5H636.00V788.9H636.59V753H637.19V802.9H637.79V733.7H638.39V727H638.98V778.1H639.58V752.7H640.18V804.1H640.77V763.4H641.37V769H641.97V803.6H642.56V757.9H643.16V785H643.76V807.6H644.35V749.6H644.95V799.6H645.55V768.5H646.14V754.2H646.74V734.6H647.34V652.3H647.94V731.8H648.53V731H649.13V758.6H649.73V763.6H650.32V808.9H650.92V782.3H651.52V749.8H652.11V731.3H652.71V727H653.31V740.3H653.90V802.9H654.50V744.9H655.10V801H655.70V779.4H656.29V700.8H656.89V752.5H657.49V790.1H658.08V745.7H658.68V758.7H659.28V748H659.87V759.8H660.47V824H661.07V770.7H661.66V766.4H662.26V818.3H662.86V807.1H663.45V780.8H664.05V848.9H664.65V852.4H665.25V871.5H665.84V833.2H666.44V814H667.04V823.7H667.63V851.8H668.23V890H668.83V880.2H669.42V898.2H670.02V867.4H670.62V862.6H671.21V880.7H671.81V922H672.41V906.8H673.01V902.2H673.60V933.9H674.20V919H674.80V888H675.39V932.2H675.99V930.2H676.59V947.6H677.18V956.4H677.78V959.1H678.38V946.3H678.97V909.2H679.57V971.8H680.17V965.3H680.77V977.9H681.36V976.7H681.96V982.1H682.56V950.6H683.15V974.9H683.75V968.9H684.35V977.8H684.94V964.4H685.54V967.1H686.14V993.6H686.73V989.3H687.33V984.6H687.93V992.5H688.52V992.2H689.12V976.1H689.72V981.4H690.32V993.6H690.91V996.1H691.51V986.1H692.11V995.9H692.70V1000.3H693.30V1048.2Z" fill="#8c8c8c"/>
<path d="M317.85 1048.2v-8.2M318.45 1048.2v-9.5M336.35 1048.2v-5.6M336.95 1048.2v-7.4M337.55 1048.2v-9M352.47 1048.2v-14.4M356.05 1048.2v-9M365.00 1048.2v-3.6M368.59 1048.2v-29.6M369.18 1048.2v-29.6M372.17 1048.2v-21.6M372.76 1048.2v-.5M373.36 1048.2v-.5M373.96 1048.2v-11.8M374.56 1048.2v-31.7M375.15 1048.2v-20.7M375.75 1048.2v-20.7M376.35 1048.2v-28.2M376.94 1048.2v-12.1M377.54 1048.2v-1.9M378.14 1048.2v-1.9M378.73 1048.2v-2.3M379.33 1048.2v-2.7M379.93 1048.2v-2.6M380.52 1048.2v-2.6M381.12 1048.2v-9M381.72 1048.2v-20.9M382.32 1048.2v-21.4M382.91 1048.2v-22.2M383.51 1048.2v-3.9M384.11 1048.2v-3.9M384.70 1048.2v-3.7M385.30 1048.2v-3.7M385.90 1048.2v-56.3M386.49 1048.2v-31.6M387.09 1048.2v-31.6M387.69 1048.2v-35.7M388.28 1048.2v-5.4M388.88 1048.2v-5.4M389.48 1048.2v-15.2M390.07 1048.2v-15.2M390.67 1048.2v-15.4M391.27 1048.2v-18M391.87 1048.2v-29.5M392.46 1048.2v-29.5M393.06 1048.2v-35.5M393.66 1048.2v-6M394.25 1048.2v-6M394.85 1048.2v-14.5M395.45 1048.2v-14.5M396.04 1048.2v-20.3M396.64 1048.2v-60.2M397.24 1048.2v-10.8M397.83 1048.2v-10.8M398.43 1048.2v-12.3M399.03 1048.2v-10.8M399.63 1048.2v-10.8M400.22 1048.2v-40.1M400.82 1048.2v-23.5M401.42 1048.2v-20.9M402.01 1048.2v-20.9M402.61 1048.2v-11.9M403.21 1048.2v-11.9M403.80 1048.2v-76.3M404.40 1048.2v-42M405.00 1048.2v-42M405.59 1048.2v-69.4M406.19 1048.2v-41.7M406.79 1048.2v-41.7M407.38 1048.2v-34M407.98 1048.2v-14.3M408.58 1048.2v-14.3M409.18 1048.2v-38.7M409.77 1048.2v-12.7M410.37 1048.2v-12.7M410.97 1048.2v-39.5M411.56 1048.2v-39.5M412.16 1048.2v-14.7M412.76 1048.2v-14.7M413.35 1048.2v-19.7M413.95 1048.2v-14M414.55 1048.2v-14M415.14 1048.2v-15.4M415.74 1048.2v-15.4M416.34 1048.2v-44.3M416.94 1048.2v-44.3M417.53 1048.2v-14.1M418.13 1048.2v-14.1M418.73 1048.2v-16.7M419.32 1048.2v-71.9M419.92 1048.2v-76.1M420.52 1048.2v-39.3M421.11 1048.2v-24.2M421.71 1048.2v-15.2M422.31 1048.2v-15.2M422.90 1048.2v-19.9M423.50 1048.2v-19.9M424.10 1048.2v-67.2M424.70 1048.2v-18.1M425.29 1048.2v-18.1M425.89 1048.2v-18.3M426.49 1048.2v-18.3M427.08 1048.2v-16.5M427.68 1048.2v-16M428.28 1048.2v-16M428.87 1048.2v-17.6M429.47 1048.2v-17.6M430.07 1048.2v-16.9M430.66 1048.2v-16.9M431.26 1048.2v-65.7M431.86 1048.2v-31.2M432.45 1048.2v-18M433.05 1048.2v-18M433.65 1048.2v-20.6M434.25 1048.2v-22.4M434.84 1048.2v-46.4M435.44 1048.2v-20.3M436.04 1048.2v-20.3M436.63 1048.2v-20.2M437.23 1048.2v-20.2M437.83 1048.2v-19.8M438.42 1048.2v-19.8M439.02 1048.2v-20.8M439.62 1048.2v-19.7M440.21 1048.2v-19.7M440.81 1048.2v-23.6M441.41 1048.2v-23.6M442.01 1048.2v-25.1M442.60 1048.2v-25.1M443.20 1048.2v-25.7M443.80 1048.2v-25.7M444.39 1048.2v-27.9M444.99 1048.2v-21.9M445.59 1048.2v-21.9M446.18 1048.2v-22.7M446.78 1048.2v-22.7M447.38 1048.2v-27.2M447.97 1048.2v-27.2M448.57 1048.2v-38.9M449.17 1048.2v-24.2M449.76 1048.2v-24.2M450.36 1048.2v-27.9M450.96 1048.2v-28M451.56 1048.2v-24.4M452.15 1048.2v-24.4M452.75 1048.2v-24.7M453.35 1048.2v-26.6M453.94 1048.2v-25M454.54 1048.2v-25M455.14 1048.2v-27.2M455.73 1048.2v-27.2M456.33 1048.2v-26.4M456.93 1048.2v-26.4M457.52 1048.2v-27.9M458.12 1048.2v-27.9M458.72 1048.2v-30.3M459.32 1048.2v-61.4M459.91 1048.2v-32.4M460.51 1048.2v-28.9M461.11 1048.2v-28.9M461.70 1048.2v-29M462.30 1048.2v-109M462.90 1048.2v-58.4M463.49 1048.2v-33.5M464.09 1048.2v-28.6M464.69 1048.2v-28.6M465.28 1048.2v-72.6M465.88 1048.2v-58.3M466.48 1048.2v-37.9M467.07 1048.2v-37.9M467.67 1048.2v-92.5M468.27 1048.2v-92.5M468.87 1048.2v-32.1M469.46 1048.2v-32.1M470.06 1048.2v-30.5M470.66 1048.2v-30.5M471.25 1048.2v-76.4M471.85 1048.2v-36.2M472.45 1048.2v-36.2M473.04 1048.2v-35.4M473.64 1048.2v-35.4M474.24 1048.2v-36.2M474.83 1048.2v-73.2M475.43 1048.2v-34.8M476.03 1048.2v-34.8M476.63 1048.2v-34.4M477.22 1048.2v-34.4M477.82 1048.2v-73.1M478.42 1048.2v-35.9M479.01 1048.2v-35.9M479.61 1048.2v-60M480.21 1048.2v-113.2M480.80 1048.2v-30.1M481.40 1048.2v-30.1M482.00 1048.2v-30.1M482.59 1048.2v-30M483.19 1048.2v-30M483.79 1048.2v-26.8M484.38 1048.2v-25.8M484.98 1048.2v-25.7M485.58 1048.2v-25.7M486.18 1048.2v-80.4M486.77 1048.2v-38.6M487.37 1048.2v-26.6M487.97 1048.2v-26.6M488.56 1048.2v-44.7M489.16 1048.2v-24.8M489.76 1048.2v-20.5M490.35 1048.2v-20.5M490.95 1048.2v-23.2M491.55 1048.2v-23.2M492.14 1048.2v-23.2M492.74 1048.2v-23.2M493.34 1048.2v-40.8M493.94 1048.2v-24M494.53 1048.2v-24M495.13 1048.2v-25.8M495.73 1048.2v-29.2M496.32 1048.2v-47M496.92 1048.2v-30.8M497.52 1048.2v-29.1M498.11 1048.2v-29.1M498.71 1048.2v-27.7M499.31 1048.2v-27.7M499.90 1048.2v-93.3M500.50 1048.2v-31.3M501.10 1048.2v-31.3M501.70 1048.2v-29M502.29 1048.2v-29M502.89 1048.2v-35.1M503.49 1048.2v-36.8M504.08 1048.2v-36.8M504.68 1048.2v-77.1M505.28 1048.2v-56.7M505.87 1048.2v-56.7M506.47 1048.2v-34.3M507.07 1048.2v-33.7M507.66 1048.2v-33.7M508.26 1048.2v-113.3M508.86 1048.2v-40.6M509.45 1048.2v-37.7M510.05 1048.2v-37.7M510.65 1048.2v-41.3M511.25 1048.2v-36.8M511.84 1048.2v-36.8M512.44 1048.2v-36.4M513.04 1048.2v-36.4M513.63 1048.2v-41.6M514.23 1048.2v-41.6M514.83 1048.2v-96.5M515.42 1048.2v-44.2M516.02 1048.2v-44.2M516.62 1048.2v-44.8M517.21 1048.2v-128.5M517.81 1048.2v-62M518.41 1048.2v-49.7M519.01 1048.2v-42.3M519.60 1048.2v-42.3M520.20 1048.2v-48.6M520.80 1048.2v-43.5M521.39 1048.2v-43.5M521.99 1048.2v-54.9M522.59 1048.2v-54.9M523.18 1048.2v-100.6M523.78 1048.2v-48.6M524.38 1048.2v-48.6M524.97 1048.2v-109.6M525.57 1048.2v-47.4M526.17 1048.2v-47.4M526.76 1048.2v-97.7M527.36 1048.2v-49.4M527.96 1048.2v-49.4M528.56 1048.2v-131.3M529.15 1048.2v-57.7M529.75 1048.2v-57.7M530.35 1048.2v-57M530.94 1048.2v-57M531.54 1048.2v-62M532.14 1048.2v-62M532.73 1048.2v-92.9M533.33 1048.2v-56.2M533.93 1048.2v-56.2M534.52 1048.2v-60.2M535.12 1048.2v-60.2M535.72 1048.2v-137.5M536.32 1048.2v-137.5M536.91 1048.2v-65.1M537.51 1048.2v-65.1M538.11 1048.2v-66.5M538.70 1048.2v-66.5M539.30 1048.2v-103.8M539.90 1048.2v-103.8M540.49 1048.2v-59.3M541.09 1048.2v-59.3M541.69 1048.2v-63.1M542.28 1048.2v-63.1M542.88 1048.2v-60.4M543.48 1048.2v-50.5M544.08 1048.2v-50.5M544.67 1048.2v-51.6M545.27 1048.2v-51.6M545.87 1048.2v-76.6M546.46 1048.2v-152.1M547.06 1048.2v-177.2M547.66 1048.2v-53.1M548.25 1048.2v-53.1M548.85 1048.2v-74.5M549.45 1048.2v-62.3M550.04 1048.2v-62.3M550.64 1048.2v-129M551.24 1048.2v-129M551.83 1048.2v-109M552.43 1048.2v-109M553.03 1048.2v-65M553.63 1048.2v-65M554.22 1048.2v-115.9M554.82 1048.2v-67.8M555.42 1048.2v-67.8M556.01 1048.2v-110.2M556.61 1048.2v-114.5M557.21 1048.2v-96.1M557.80 1048.2v-77.1M558.40 1048.2v-77.1M559.00 1048.2v-151.8M559.59 1048.2v-159.6M560.19 1048.2v-188M560.79 1048.2v-74.1M561.39 1048.2v-74.1M561.98 1048.2v-148.7M562.58 1048.2v-111.7M563.18 1048.2v-78.6M563.77 1048.2v-78.6M564.37 1048.2v-87.5M564.97 1048.2v-77.7M565.56 1048.2v-77.7M566.16 1048.2v-123.6M566.76 1048.2v-81.1M567.35 1048.2v-81.1M567.95 1048.2v-127.4M568.55 1048.2v-175M569.14 1048.2v-90.7M569.74 1048.2v-85.6M570.34 1048.2v-85.6M570.94 1048.2v-89.3M571.53 1048.2v-93.1M572.13 1048.2v-95.5M572.73 1048.2v-85.4M573.32 1048.2v-85.4M573.92 1048.2v-85.6M574.52 1048.2v-87.1M575.11 1048.2v-87.1M575.71 1048.2v-93.7M576.31 1048.2v-166.3M576.90 1048.2v-166.3M577.50 1048.2v-93.1M578.10 1048.2v-93.1M578.70 1048.2v-98.7M579.29 1048.2v-98.7M579.89 1048.2v-207.5M580.49 1048.2v-204.3M581.08 1048.2v-181.3M581.68 1048.2v-181.3M582.28 1048.2v-175.9M582.87 1048.2v-94.6M583.47 1048.2v-94.6M584.07 1048.2v-102.8M584.66 1048.2v-165.4M585.26 1048.2v-165.4M585.86 1048.2v-107.8M586.45 1048.2v-97.4M587.05 1048.2v-97.4M587.65 1048.2v-102.3M588.25 1048.2v-102.3M588.84 1048.2v-163M589.44 1048.2v-113.9M590.04 1048.2v-112.6M590.63 1048.2v-100.1M591.23 1048.2v-100.1M591.83 1048.2v-214M592.42 1048.2v-214M593.02 1048.2v-115M593.62 1048.2v-114.4M594.21 1048.2v-114.4M594.81 1048.2v-117.1M595.41 1048.2v-119.3M596.01 1048.2v-119.3M596.60 1048.2v-152.8M597.20 1048.2v-114M597.80 1048.2v-101.2M598.39 1048.2v-101.2M598.99 1048.2v-114.4M599.59 1048.2v-160.6M600.18 1048.2v-122.6M600.78 1048.2v-109M601.38 1048.2v-109M601.97 1048.2v-164.3M602.57 1048.2v-103.7M603.17 1048.2v-103.7M603.76 1048.2v-109.6M604.36 1048.2v-110.2M604.96 1048.2v-141.2M605.56 1048.2v-127.7M606.15 1048.2v-123.8M606.75 1048.2v-123.8M607.35 1048.2v-130.8M607.94 1048.2v-133.2M608.54 1048.2v-139.9M609.14 1048.2v-155.6M609.73 1048.2v-155.6M610.33 1048.2v-146.5M610.93 1048.2v-146.5M611.52 1048.2v-156.7M612.12 1048.2v-214.3M612.72 1048.2v-145.4M613.32 1048.2v-145.4M613.91 1048.2v-171.2M614.51 1048.2v-160.7M615.11 1048.2v-160.7M615.70 1048.2v-154.6M616.30 1048.2v-154.6M616.90 1048.2v-176M617.49 1048.2v-140.2M618.09 1048.2v-140.2M618.69 1048.2v-149.2M619.28 1048.2v-149.2M619.88 1048.2v-185.2M620.48 1048.2v-199.9M621.08 1048.2v-203M621.67 1048.2v-203.8M622.27 1048.2v-203.8M622.87 1048.2v-196.4M623.46 1048.2v-189.3M624.06 1048.2v-189.3M624.66 1048.2v-201.3M625.25 1048.2v-215.4M625.85 1048.2v-215.4M626.45 1048.2v-253.6M627.04 1048.2v-232.8M627.64 1048.2v-232.8M628.24 1048.2v-244.6M628.83 1048.2v-219.4M629.43 1048.2v-207.4M630.03 1048.2v-207.4M630.63 1048.2v-234.1M631.22 1048.2v-223.3M631.82 1048.2v-223.3M632.42 1048.2v-280M633.01 1048.2v-223M633.61 1048.2v-223M634.21 1048.2v-225.7M634.80 1048.2v-237.1M635.40 1048.2v-238.7M636.00 1048.2v-238.7M636.59 1048.2v-259.3M637.19 1048.2v-245.3M637.79 1048.2v-245.3M638.39 1048.2v-314.5M638.98 1048.2v-270.1M639.58 1048.2v-270.1M640.18 1048.2v-244.1M640.77 1048.2v-244.1M641.37 1048.2v-279.2M641.97 1048.2v-244.6M642.56 1048.2v-244.6M643.16 1048.2v-263.2M643.76 1048.2v-240.6M644.35 1048.2v-240.6M644.95 1048.2v-248.6M645.55 1048.2v-248.6M646.14 1048.2v-279.7M646.74 1048.2v-294M647.34 1048.2v-313.6M647.94 1048.2v-316.4M648.53 1048.2v-316.4M649.13 1048.2v-289.6M649.73 1048.2v-284.6M650.32 1048.2v-239.3M650.92 1048.2v-239.3M651.52 1048.2v-265.9M652.11 1048.2v-298.4M652.71 1048.2v-316.9M653.31 1048.2v-307.9M653.90 1048.2v-245.3M654.50 1048.2v-245.3M655.10 1048.2v-247.2M655.70 1048.2v-247.2M656.29 1048.2v-268.8M656.89 1048.2v-295.7M657.49 1048.2v-258.1M658.08 1048.2v-258.1M658.68 1048.2v-289.5M659.28 1048.2v-289.5M659.87 1048.2v-288.4M660.47 1048.2v-224.2M661.07 1048.2v-224.2M661.66 1048.2v-277.5M662.26 1048.2v-229.9M662.86 1048.2v-229.9M663.45 1048.2v-241.1M664.05 1048.2v-199.3M664.65 1048.2v-195.8M665.25 1048.2v-176.7M665.84 1048.2v-176.7M666.44 1048.2v-215M667.04 1048.2v-224.5M667.63 1048.2v-196.4M668.23 1048.2v-158.2M668.83 1048.2v-158.2M669.42 1048.2v-150M670.02 1048.2v-150M670.62 1048.2v-180.8M671.21 1048.2v-167.5M671.81 1048.2v-126.2M672.41 1048.2v-126.2M673.01 1048.2v-141.4M673.60 1048.2v-114.3M674.20 1048.2v-114.3M674.80 1048.2v-129.2M675.39 1048.2v-116M675.99 1048.2v-116M676.59 1048.2v-100.6M677.18 1048.2v-91.8M677.78 1048.2v-89.1M678.38 1048.2v-89.1M678.97 1048.2v-101.9M679.57 1048.2v-76.4M680.17 1048.2v-76.4M680.77 1048.2v-70.3M681.36 1048.2v-70.3M681.96 1048.2v-66.1M682.56 1048.2v-66.1M683.15 1048.2v-73.3M683.75 1048.2v-73.3M684.35 1048.2v-70.4M684.94 1048.2v-70.4M685.54 1048.2v-81.1M686.14 1048.2v-54.6M686.73 1048.2v-54.6M687.33 1048.2v-58.9M687.93 1048.2v-55.7M688.52 1048.2v-55.7M689.12 1048.2v-56M689.72 1048.2v-66.8M690.32 1048.2v-54.6M690.91 1048.2v-52.1M691.51 1048.2v-52.1M692.11 1048.2v-52.3M692.70 1048.2v-47.9" fill="none" stroke="#000" stroke-width="0.5"/>
<path d="M133.41 1048.2v-.7M134.00 1048.2v-.7M151.31 1048.2v-1.5M151.91 1048.2v-1.5M169.22 1048.2v-4.5M169.82 1048.2v-4.5M187.73 1048.2v-8.2M188.32 1048.2v-8.2M205.63 1048.2v-15.7M206.23 1048.2v-15.7M222.35 1048.2v-4.4M222.94 1048.2v-4.4M223.54 1048.2v-19.4M224.14 1048.2v-19.4M237.87 1048.2v-2M238.46 1048.2v-2M239.06 1048.2v-3.4M239.66 1048.2v-3.4M241.45 1048.2v-6M242.04 1048.2v-6M253.98 1048.2v-6.9M254.58 1048.2v-6.9M255.18 1048.2v-12.9M255.77 1048.2v-12.9M258.16 1048.2v-17.6M258.76 1048.2v-17.6M259.35 1048.2v-32.1M259.95 1048.2v-32.1M270.69 1048.2v-3.6M271.29 1048.2v-3.6M271.89 1048.2v-4.2M272.49 1048.2v-4.2M274.28 1048.2v-4.6M274.87 1048.2v-4.6M276.66 1048.2v-5.1M277.26 1048.2v-5.1M277.86 1048.2v-20.9M278.45 1048.2v-20.9M286.81 1048.2v-5.1M287.41 1048.2v-5.1M288.00 1048.2v-14M288.60 1048.2v-14M289.80 1048.2v-15.5M290.39 1048.2v-15.5M290.99 1048.2v-11.4M291.59 1048.2v-11.4M293.38 1048.2v-21.9M293.97 1048.2v-21.9M295.76 1048.2v-47.8M296.36 1048.2v-47.8M297.56 1048.2v-9.4M298.15 1048.2v-9.4M299.94 1048.2v-5.1M300.54 1048.2v-5.1M301.73 1048.2v-4M302.33 1048.2v-4M303.52 1048.2v-5.7M304.12 1048.2v-5.7M305.31 1048.2v-10M305.91 1048.2v-10M306.51 1048.2v-13.1M307.11 1048.2v-13.1M309.49 1048.2v-9.8M310.09 1048.2v-9.8M310.69 1048.2v-22.5M311.28 1048.2v-22.5M313.67 1048.2v-41.1M314.27 1048.2v-41.1M315.46 1048.2v-5.7M316.06 1048.2v-5.7M317.25 1048.2v-8.2M317.85 1040v-9.8M318.45 1038.7v-8.5M319.04 1048.2v-9.5M320.24 1048.2v-15.8M320.83 1048.2v-15.8M323.22 1048.2v-11.1M323.82 1048.2v-11.1M326.21 1048.2v-13.2M326.80 1048.2v-13.2M328.00 1048.2v-22M328.59 1048.2v-22M329.19 1048.2v-23.7M329.79 1048.2v-23.7M330.38 1048.2v-8.5M330.98 1048.2v-8.5M331.58 1048.2v-42.6M332.18 1048.2v-42.6M333.37 1048.2v-14M333.97 1048.2v-14M335.76 1048.2v-5.6M336.35 1042.6v-1.8M336.95 1040.8v-7.8M337.55 1039.2v-6.2M338.14 1048.2v-9M340.53 1048.2v-15.3M341.13 1048.2v-15.3M343.52 1048.2v-11.3M344.11 1048.2v-11.3M346.50 1048.2v-10.1M347.10 1048.2v-10.1M348.29 1048.2v-20.8M348.89 1048.2v-20.8M349.49 1048.2v-71.7M350.08 1048.2v-71.7M350.68 1048.2v-7.8M351.28 1048.2v-7.8M351.87 1048.2v-23M352.47 1033.8v-8.7M353.07 1048.2v-14.4M354.26 1048.2v-14.6M354.86 1048.2v-14.6M355.45 1048.2v-9M356.05 1039.2v-21.4M356.65 1048.2v-30.4M357.25 1048.2v-15.4M357.84 1048.2v-15.4M359.63 1048.2v-20.1M360.23 1048.2v-20.1M361.42 1048.2v-28.1M362.02 1048.2v-28.1M363.21 1048.2v-8.5M363.81 1048.2v-8.5M364.41 1048.2v-35.1M365.00 1044.6v-31.5M365.60 1048.2v-3.6M366.80 1048.2v-38M367.39 1048.2v-38M367.99 1048.2v-85.9M368.59 1018.6v-56.3M369.18 1018.6v-7.3M369.78 1048.2v-36.9M370.38 1048.2v-10.4M370.97 1048.2v-10.4M371.57 1048.2v-21.6M372.17 1026.6v-15.6M372.76 1047.7v-36.6M373.36 1047.7v-11.2M373.96 1036.4v-20M374.56 1016.5v-3.5M375.15 1027.5v-14.5M375.75 1027.5v-19.6M376.35 1020v-12.2M376.94 1036.1v-16.1M377.54 1046.3v-10.1M378.14 1046.3v-.4M378.73 1045.9v-5.9M379.33 1045.5v-5.5M380.52 1045.6v-6.4M381.12 1039.2v-11.9M381.72 1027.3v-.4M382.32 1026.8v-44.2M382.91 1026v-43.4M383.51 1044.3v-18.3M384.11 1044.3v-6.5M384.70 1044.5v-6.7M385.30 1044.5v-52.6M385.90 991.9v-29.6M386.49 1016.6v-54.3M387.09 1016.6v-4.1M387.69 1012.5v-30.4M388.28 1042.8v-60.7M388.88 1042.8v-24.4M389.48 1033v-14.6M390.67 1032.8v-2.6M391.27 1030.2v-12.6M391.87 1018.7v-1.1M392.46 1018.7v-6.1M393.06 1012.7v-30.9M393.66 1042.2v-60.5M394.25 1042.2v-59.7M394.85 1033.7v-51.3M395.45 1033.7v-5.8M396.04 1027.9v-52.3M396.64 988v-12.4M397.24 1037.4v-49.4M397.83 1037.4v-7M398.43 1035.9v-5.5M399.03 1037.4v-1.5M399.63 1037.4v-61.4M400.22 1008.1v-32.1M400.82 1024.7v-16.6M401.42 1027.3v-2.6M402.01 1027.3v-32M402.61 1036.3v-41.1M403.21 1036.3v-64.5M403.80 971.9v-17M404.40 1006.2v-51.4M405.00 1006.2v-49.9M405.59 978.8v-22.4M406.19 1006.5v-27.8M406.79 1006.5v-42.4M407.38 1014.2v-50.1M407.98 1033.9v-19.6M408.58 1033.9v-24.9M409.18 1009.5v-.5M409.77 1035.5v-26M410.37 1035.5v-63M410.97 1008.7v-36.2M411.56 1008.7v-11.1M412.16 1033.5v-36M412.76 1033.5v-5.1M413.35 1028.5v-14.9M413.95 1034.2v-20.6M414.55 1034.2v-63.9M415.14 1032.8v-62.6M415.74 1032.8v-42.9M416.34 1003.9v-14M416.94 1003.9v-56.6M417.53 1034.1v-86.8M418.13 1034.1v-2.6M418.73 1031.5v-55.2M419.32 976.3v-4.2M419.92 972.1v-9.3M420.52 1008.9v-46.1M421.11 1024v-15M421.71 1033v-9M422.31 1033v-16.5M422.90 1028.3v-11.8M423.50 1028.3v-70.6M424.10 981v-23.3M424.70 1030.1v-49.1M425.29 1030.1v-11.1M425.89 1029.9v-11M426.49 1029.9v-40.7M427.08 1031.7v-42.5M427.68 1032.2v-.5M428.28 1032.2v-72.6M428.87 1030.6v-71M429.47 1030.6v-.9M430.07 1031.3v-1.5M430.66 1031.3v-140M431.26 982.5v-91.2M431.86 1017v-34.5M432.45 1030.2v-13.2M433.05 1030.2v-2.6M433.65 1027.6v-1.8M434.25 1025.8v-50.2M434.84 1001.8v-26.1M435.44 1027.9v-26.1M436.04 1027.9v-58.4M436.63 1028v-58.5M437.23 1028v-.9M437.83 1028.4v-1.2M438.42 1028.4v-1M439.62 1028.5v-1.1M440.21 1028.5v-7.9M440.81 1024.6v-4M441.41 1024.6v-30.4M442.01 1023.1v-28.9M442.60 1023.1v-13.7M443.20 1022.5v-13.1M443.80 1022.5v-2.2M444.39 1020.3v-143.9M444.99 1026.3v-149.9M445.59 1026.3v-1.3M446.18 1025.5v-.5M446.78 1025.5v-79.7M447.38 1021v-75.1M447.97 1021v-35.8M448.57 1009.3v-24.1M449.17 1024v-14.7M449.76 1024v-3.7M450.96 1020.2v-6.9M451.56 1023.8v-10.4M452.75 1023.5v-1.9M453.35 1021.6v-27.7M453.94 1023.2v-29.3M454.54 1023.2v-7.5M455.14 1021v-5.4M455.73 1021v-3.6M456.33 1021.8v-4.4M456.93 1021.8v-3.4M457.52 1020.3v-1.9M458.12 1020.3v-2.3M458.72 1017.9v-31.1M459.32 986.8v-44.1M459.91 1015.8v-73.2M460.51 1019.3v-3.5M461.70 1019.2v-80M462.30 939.2v-5.3M462.90 989.8v-55.9M463.49 1014.7v-24.9M464.09 1019.6v-4.9M464.69 1019.6v-44.1M465.88 989.9v-14.4M466.48 1010.3v-20.4M467.07 1010.3v-59.8M467.67 955.7v-5.3M468.27 955.7v-11.9M468.87 1016.1v-72.2M469.46 1016.1v-24.6M470.06 1017.7v-26.2M470.66 1017.7v-83M471.25 971.8v-37.1M471.85 1012v-40.2M472.45 1012v-50.7M473.04 1012.8v-51.5M473.64 1012.8v-.7M474.24 1012v-165.5M474.83 975v-128.5M475.43 1013.4v-38.4M476.03 1013.4v-1.8M476.63 1013.8v-2.2M477.22 1013.8v-76.1M477.82 975.1v-37.4M478.42 1012.3v-37.2M479.01 1012.3v-24.1M479.61 988.2v-53.2M480.21 935v-4.4M480.80 1018.1v-87.5M481.40 1018.1v-84M482.00 1018.1v-84.1M483.19 1018.2v-56.2M483.79 1021.4v-59.4M484.38 1022.4v-1M485.58 1022.5v-217.1M486.18 967.8v-162.4M486.77 1009.6v-41.8M487.37 1021.6v-12M487.97 1021.6v-18.2M488.56 1003.5v-27.3M489.16 1023.4v-47.2M489.76 1027.7v-4.3M490.35 1027.7v-2.7M491.55 1025v-61.3M492.14 1025v-61.3M492.74 1025v-87M493.34 1007.4v-69.4M493.94 1024.2v-16.8M494.53 1024.2v-1.8M495.13 1022.4v-3.5M495.73 1019v-17.7M496.32 1001.2v-214.5M496.92 1017.4v-230.6M497.52 1019.1v-1.7M498.11 1019.1v-87.6M498.71 1020.5v-89M499.31 1020.5v-92.7M499.90 954.9v-27.2M500.50 1016.9v-62M501.10 1016.9v-92.6M501.70 1019.2v-94.9M502.29 1019.2v-6.2M502.89 1013.1v-93.3M503.49 1011.4v-91.6M504.08 1011.4v-40.4M504.68 971.1v-15.9M505.28 991.5v-36.4M505.87 991.5v-61.4M506.47 1013.9v-83.7M507.07 1014.5v-.7M507.66 1014.5v-84.3M508.26 934.9v-4.8M508.86 1007.6v-72.6M509.45 1010.5v-3M510.05 1010.5v-3.7M510.65 1006.9v-29.9M511.25 1011.4v-34.4M511.84 1011.4v-7.2M512.44 1011.8v-7.6M513.04 1011.8v-62.1M513.63 1006.6v-56.9M514.23 1006.6v-74.2M514.83 951.7v-19.3M515.42 1004v-52.3M516.02 1004v-.6M516.62 1003.4v-83.7M517.21 919.7v-76.9M517.81 986.2v-143.5M518.41 998.5v-12.3M519.01 1005.9v-7.4M519.60 1005.9v-82.4M520.20 999.6v-76M520.80 1004.7v-5.1M521.39 1004.7v-79.6M521.99 993.3v-68.2M522.59 993.3v-45.7M523.18 947.6v-13.7M523.78 999.6v-65.6M524.38 999.6v-60.9M524.97 938.6v-8.2M525.57 1000.8v-70.4M526.17 1000.8v-60.7M526.76 950.5v-10.4M527.36 998.8v-48.3M527.96 998.8v-98.4M528.56 916.9v-16.6M529.15 990.5v-73.6M529.75 990.5v-1.3M530.35 991.2v-2.1M530.94 991.2v-54.5M531.54 986.2v-49.5M532.14 986.2v-169.6M532.73 955.3v-138.7M533.33 992v-36.7M533.93 992v-110.1M534.52 988v-106.1M535.12 988v-77.3M535.72 910.7v-18.7M536.32 910.7v-18.7M536.91 983.1v-72.4M537.51 983.1v-39.7M538.11 981.7v-38.4M538.70 981.7v-80.2M539.30 944.4v-42.9M539.90 944.4v-47.6M540.49 988.9v-92.1M541.09 988.9v-187.2M541.69 985.1v-183.5M542.28 985.1v-58.4M542.88 987.8v-61M543.48 997.7v-9.9M544.08 997.7v-104.7M544.67 996.6v-103.6M545.27 996.6v-25.1M545.87 971.6v-75.4M546.46 896.1v-25.2M547.06 871v-84.2M547.66 995.1v-208.4M548.25 995.1v-21.4M548.85 973.7v-101M549.45 985.9v-113.1M550.04 985.9v-87.7M550.64 919.2v-21M551.24 919.2v-31M551.83 939.2v-51.1M552.43 939.2v-49.2M553.03 983.2v-93.2M553.63 983.2v-81.7M554.22 932.3v-30.8M554.82 980.4v-48M555.42 980.4v-42.4M556.01 938v-70.2M556.61 933.7v-65.9M557.21 952.1v-18.4M557.80 971.1v-19M558.40 971.1v-74.7M559.00 896.4v-7.8M559.59 888.6v-29.8M560.19 860.2v-1.4M560.79 974.1v-113.9M561.39 974.1v-118.4M561.98 899.5v-43.8M562.58 936.5v-36.9M563.18 969.6v-33.1M563.77 969.6v-46M564.37 960.7v-37.1M564.97 970.5v-9.8M565.56 970.5v-113.7M566.16 924.6v-67.8M566.76 967.1v-42.6M567.35 967.1v-46.4M567.95 920.8v-71.5M568.55 873.2v-23.9M569.14 957.5v-84.3M569.74 962.6v-5.1M570.34 962.6v-3.7M570.94 958.9v-3.8M571.53 955.1v-100.9M572.13 952.7v-98.5M572.73 962.8v-10.1M573.92 962.6v-5.7M574.52 961.1v-4.1M575.11 961.1v-6.5M575.71 954.5v-78.1M576.31 881.9v-5.5M576.90 881.9v-12.2M577.50 955.1v-85.4M578.10 955.1v-7.7M578.70 949.5v-2.1M579.29 949.5v-108.9M579.89 840.7v-4.9M580.49 843.9v-8.2M581.08 866.9v-23M581.68 866.9v-36.7M582.28 872.3v-42.1M582.87 953.6v-81.3M583.47 953.6v-8.2M584.07 945.4v-92.9M584.66 882.8v-30.3M585.26 882.8v-5.7M585.86 940.4v-63.2M586.45 950.8v-10.4M587.05 950.8v-205.1M587.65 945.9v-200.2M588.25 945.9v-99M588.84 885.2v-38.2M589.44 934.3v-49.1M590.04 935.6v-1.3M590.63 948.1v-12.5M591.23 948.1v-118.2M591.83 834.2v-4.3M592.42 834.2v-19.5M593.02 933.2v-118.6M593.62 933.8v-.6M594.21 933.8v-2.8M594.81 931.1v-68.2M595.41 928.9v-66.1M596.01 928.9v-33.5M596.60 895.4v-168.5M597.20 934.2v-207.2M597.80 947v-12.8M598.39 947v-13.3M598.99 933.8v-122.6M599.59 887.6v-76.5M600.18 925.6v-38M600.78 939.2v-13.7M601.38 939.2v-56.6M601.97 883.9v-1.2M602.57 944.5v-60.6M603.17 944.5v-5.9M603.76 938.6v-.6M604.36 938v-31M604.96 907v-202.4M605.56 920.5v-215.9M606.15 924.4v-3.9M606.75 924.4v-7M607.35 917.4v-2.4M607.94 915v-6.7M608.54 908.3v-76.4M609.14 892.6v-60.7M609.73 892.6v-165.6M610.33 901.7v-174.7M610.93 901.7v-10.2M611.52 891.5v-86.2M612.12 833.9v-28.6M612.72 902.8v-68.9M613.32 902.8v-25.8M613.91 877v-27.3M614.51 887.5v-37.9M615.11 887.5v-44.7M615.70 893.6v-50.8M616.30 893.6v-39.7M616.90 872.2v-18.2M617.49 908v-35.8M618.09 908v-34.5M618.69 899v-25.5M619.28 899v-36M619.88 863v-14.7M620.48 848.3v-3.1M621.08 845.2v-10.2M621.67 844.4v-9.4M622.27 844.4v-17.5M622.87 851.8v-24.9M623.46 858.9v-7.2M624.06 858.9v-12M624.66 846.9v-41.8M625.25 832.8v-27.7M625.85 832.8v-49M626.45 794.6v-10.8M627.04 815.4v-20.8M627.64 815.4v-11.8M628.24 803.6v-30.4M628.83 828.8v-55.6M629.43 840.8v-12M630.03 840.8v-26.7M630.63 814.1v-33.1M631.22 824.9v-43.8M631.82 824.9v-73.8M632.42 768.2v-17.1M633.01 825.2v-57M633.61 825.2v-2.7M634.21 822.5v-11.4M634.80 811.1v-32.1M635.40 809.5v-30.5M636.00 809.5v-20.6M636.59 788.9v-35.9M637.19 802.9v-49.9M637.79 802.9v-69.2M638.39 733.7v-6.7M638.98 778.1v-51.1M639.58 778.1v-25.4M640.18 804.1v-51.3M640.77 804.1v-40.6M641.37 769v-5.6M641.97 803.6v-34.6M642.56 803.6v-45.6M643.16 785v-27.1M643.76 807.6v-22.5M644.35 807.6v-58M644.95 799.6v-50M645.55 799.6v-31.2M646.14 768.5v-14.3M646.74 754.2v-19.6M647.34 734.6v-82.3M647.94 731.8v-79.5M648.53 731.8v-.7M649.13 758.6v-27.6M649.73 763.6v-5M650.32 808.9v-45.3M650.92 808.9v-26.6M651.52 782.3v-32.5M652.11 749.8v-18.4M652.71 731.3v-4.4M653.31 740.3v-13.3M653.90 802.9v-62.6M654.50 802.9v-58M655.10 801v-56.1M655.70 801v-21.6M656.29 779.4v-78.6M656.89 752.5v-51.6M657.49 790.1v-37.6M658.08 790.1v-44.4M658.68 758.7v-13M659.28 758.7v-10.7M659.87 759.8v-11.8M660.47 824v-64.2M661.07 824v-53.3M661.66 770.7v-4.3M662.26 818.3v-51.9M662.86 818.3v-11.2M663.45 807.1v-26.3M664.05 848.9v-68.1M664.65 852.4v-3.6M665.25 871.5v-19M665.84 871.5v-38.3M666.44 833.2v-19.2M667.04 823.7v-9.7M667.63 851.8v-28.1M668.23 890v-38.2M668.83 890v-9.7M669.42 898.2v-18M670.02 898.2v-30.9M670.62 867.4v-4.8M671.21 880.7v-18.1M671.81 922v-41.3M672.41 922v-15.2M673.01 906.8v-4.7M673.60 933.9v-31.8M674.20 933.9v-15M674.80 919v-30.9M675.39 932.2v-44.2M675.99 932.2v-2M676.59 947.6v-17.4M677.18 956.4v-8.8M677.78 959.1v-2.6M678.38 959.1v-12.7M678.97 946.3v-37.1M679.57 971.8v-62.5M680.17 971.8v-6.5M680.77 977.9v-12.6M681.36 977.9v-1.1M681.96 982.1v-5.3M682.56 982.1v-31.4M683.15 974.9v-24.3M683.75 974.9v-6M684.35 977.8v-8.8M684.94 977.8v-13.3M685.54 967.1v-2.7M686.14 993.6v-26.5M686.73 993.6v-4.3M687.33 989.3v-4.7M687.93 992.5v-7.9M688.52 992.5v-.4M689.12 992.2v-16.1M689.72 981.4v-5.3M690.32 993.6v-12.2M690.91 996.1v-2.5M691.51 996.1v-9.9M692.11 995.9v-9.8M692.70 1000.3v-4.4M693.30 1048.2v-47.9" fill="none" stroke="#000" stroke-width="0.7"/>
<path d="M336.65 1048.2v-5.6M375.45 1048.2v-20.7M381.42 1048.2v-9M384.40 1048.2v-3.7M387.39 1048.2v-31.6M390.37 1048.2v-15.2M393.36 1048.2v-6M396.34 1048.2v-20.3M399.33 1048.2v-10.8M402.31 1048.2v-11.9M405.30 1048.2v-42M408.28 1048.2v-14.3M411.26 1048.2v-39.5M414.25 1048.2v-14M417.23 1048.2v-14.1M420.22 1048.2v-39.3M423.20 1048.2v-19.9M426.19 1048.2v-18.3M429.17 1048.2v-17.6M432.16 1048.2v-18M435.14 1048.2v-20.3M438.13 1048.2v-19.8M441.11 1048.2v-23.6M444.09 1048.2v-25.7M447.08 1048.2v-22.7M450.06 1048.2v-24.2M453.05 1048.2v-24.7M456.03 1048.2v-26.4M459.02 1048.2v-30.3M462.00 1048.2v-29M464.99 1048.2v-28.6M467.97 1048.2v-92.5M470.95 1048.2v-30.5M473.94 1048.2v-35.4M476.92 1048.2v-34.4M479.91 1048.2v-60M482.89 1048.2v-30M485.88 1048.2v-25.7M488.86 1048.2v-24.8M491.85 1048.2v-23.2M494.83 1048.2v-24M497.82 1048.2v-29.1M500.80 1048.2v-31.3M503.78 1048.2v-36.8M506.77 1048.2v-33.7M509.75 1048.2v-37.7M512.74 1048.2v-36.4M515.72 1048.2v-44.2M518.71 1048.2v-42.3M521.69 1048.2v-43.5M524.68 1048.2v-48.6M527.66 1048.2v-49.4M530.64 1048.2v-57M533.63 1048.2v-56.2M536.61 1048.2v-65.1M539.60 1048.2v-103.8M542.58 1048.2v-60.4M545.57 1048.2v-51.6M548.55 1048.2v-53.1M551.54 1048.2v-109M554.52 1048.2v-67.8M557.51 1048.2v-77.1M560.49 1048.2v-74.1M563.47 1048.2v-78.6M566.46 1048.2v-81.1M569.44 1048.2v-85.6M572.43 1048.2v-85.4M575.41 1048.2v-87.1M578.40 1048.2v-93.1M581.38 1048.2v-181.3M584.37 1048.2v-102.8M587.35 1048.2v-97.4M590.33 1048.2v-100.1M593.32 1048.2v-114.4M596.30 1048.2v-119.3M599.29 1048.2v-114.4M602.27 1048.2v-103.7M605.26 1048.2v-127.7M608.24 1048.2v-133.2M611.23 1048.2v-146.5M614.21 1048.2v-160.7M617.20 1048.2v-140.2M620.18 1048.2v-185.2M623.16 1048.2v-189.3M626.15 1048.2v-215.4M629.13 1048.2v-207.4M632.12 1048.2v-223.3M635.10 1048.2v-237.1M638.09 1048.2v-245.3M641.07 1048.2v-244.1M644.06 1048.2v-240.6M647.04 1048.2v-294M650.02 1048.2v-239.3M653.01 1048.2v-307.9M655.99 1048.2v-247.2M658.98 1048.2v-289.5M661.96 1048.2v-229.9M664.95 1048.2v-176.7M667.93 1048.2v-158.2M670.92 1048.2v-167.5M673.90 1048.2v-114.3M676.89 1048.2v-91.8M679.87 1048.2v-76.4M682.85 1048.2v-66.1M685.84 1048.2v-54.6M688.82 1048.2v-55.7M691.81 1048.2v-52.1" fill="none" stroke="#848484" stroke-width="0.72"/>
<path d="M60.7 642.5 V1060 H730" fill="none" stroke="#000" stroke-width="1.1"/>
<path d="M96.4 1060v-4.6M245.6 1060v-4.6M394.9 1060v-4.6M544.1 1060v-4.6M693.3 1060v-4.6M60.7 1048.2h4.6M60.7 973.5h4.6M60.7 898.8h4.6M60.7 824.1h4.6M60.7 749.4h4.6M60.7 674.7h4.6" fill="none" stroke="#000" stroke-width="1.1"/>
<g font-family='"DejaVu Sans","Liberation Sans",sans-serif' font-size="28.5" fill="#000">
<text x="96.4" y="1091.8" text-anchor="middle">0.00</text>
<text x="245.6" y="1091.8" text-anchor="middle">0.25</text>
<text x="394.9" y="1091.8" text-anchor="middle">0.50</text>
<text x="544.1" y="1091.8" text-anchor="middle">0.75</text>
<text x="693.3" y="1091.8" text-anchor="middle">1.00</text>
<text x="51.5" y="1058.8" text-anchor="end">0</text>
<text x="51.5" y="984.1" text-anchor="end">1</text>
<text x="51.5" y="909.4" text-anchor="end">2</text>
<text x="51.5" y="834.7" text-anchor="end">3</text>
<text x="51.5" y="760" text-anchor="end">4</text>
<text x="51.5" y="685.3" text-anchor="end">5</text>
</g>
<path d="M692.8 1048.2 L692.8 693.9 L601 693.9 M615 687 L601 693.9 L615 700.8" fill="none" stroke="#55407F" stroke-width="1.9" stroke-linejoin="miter"/>
<path d="M616.9 1048.2 L616.9 783.4 L474.6 783.4 M488.6 776.5 L474.6 783.4 L488.6 790.3" fill="none" stroke="#55407F" stroke-width="1.9" stroke-linejoin="miter"/>
<path d="M395.6 1048.2 L395.6 894.5 L361 894.5 M375 887.6 L361 894.5 L375 901.4" fill="none" stroke="#55407F" stroke-width="1.9" stroke-linejoin="miter"/>
<path d="M242.2 1048.2 L242.2 974.5 L220.5 974.5 M234.5 967.6 L220.5 974.5 L234.5 981.4" fill="none" stroke="#55407F" stroke-width="1.9" stroke-linejoin="miter"/>
<rect x="510.4" y="647.6" width="87.8" height="87.8" fill="#fff"/>
<g transform="translate(515 652.2) scale(.1)"><path d="M0 5l40 29l-5 52l-35 23M0 217l64 8l41 73l-105 37M0 387l43 59l40-2l51-127l94 44l73-60l75 23l60-41l1-54l-97-85l-67 54l28 103M0 489l43-43M0 555l84 48l-7 34l80 91l-16 35l-117-2l2-79l51-45M0 671l26 11M0 766l16 4l-1 16M16 770l8-9M35 86l70 59l64-10l47 53l57 10M40 34l55-34M64 225l41-80M83 444l53 48l63-9l58 98l93-19l1-102l-110-30l-42 53M84 603l21-15l122 41l30-48M105 298l26 14l3 5M105 588l31-96M106 0l86 48l-23 87M131 312l85-124M141 763l7 23M157 728l74-40l-4-59M192 48l37-21l87 30l30 61l118-43l56 80l-83 74M228 361l13 69M229 27l3-27M231 688l55 37l-6 61M286 725l55-15l67 76M316 57l36-57M340 144l6-26M341 710l39-55l-17-82l141-26l-1 101l-38 29l-85-22M350 562l13 11M351 460l32-29l-7-107M383 431l103 18l19 96l80 2l47 65l-42 73l-87-37M436 283l65 34l88-45l57 57l-35 87l-91-5l-19-94M441 786l30-29l80 14l6 15M455 0l21 26l86-26M464 75l12-49M465 677l6 80M486 449l34-38M504 547l1-2M520 155l32 5l65-87l71 14l61-82l2 0l3-5M551 771l43-72l83 42l39-23l67 26l-1 42M552 160l44 55l-7 57M582 0l35 73M585 547l63-80l19 3l69-41l15-58l35-1M590 685l4 14M596 215l112-28l31 80l47-4M611 416l37 51M632 612l57-3l27-66l70-8l0 1M646 329l68-9l37 51M667 470l49 73M672 786l5-45M688 87l32 73l66-12M689 609l31 32l66-12M708 187l12-27M714 320l25-53M716 718l4-77M736 429l50 40M743 0l6 5M751 5l35 24M783 744l3-2M786 534l0 1" fill="none" stroke="#000" stroke-width="15" stroke-linecap="round"/></g>
<polygon points="567,693.3 563.6,697.1 553.3,695.3 552.6,684.6 558.6,680.5 565.1,683.9" fill="#55407F" fill-opacity="0.5" stroke="#55407F" stroke-width="1.3" stroke-linejoin="round"/>
<rect x="512.7" y="649.9" width="83.2" height="83.2" fill="none" stroke="#55407F" stroke-width="4.6" stroke-linejoin="round"/>
<rect x="384.4" y="744.4" width="87.8" height="87.8" fill="#fff"/>
<g transform="translate(389 749) scale(.1)"><path d="M0 52l44-52M0 132l87 25l5-3l21-119l-33-32l-34-3M0 257l23 21l-23 31M0 382l41 50l-41 54M0 548l31 28l97-12l57 54l-72 94l-94-35l12-101M0 688l19-11M23 278l32-7l61 40l-4 111l28 22l-12 120M41 432l71-10M55 271l32-114M80 3l2-3M92 154l82 20l33 99l-91 38M113 35l83-2l11-33M113 712l16 74M140 444l96-11l50 79l-72 107l-29-1M174 174l81-76l-59-65M207 273l30 12l32 83l116-1l25-77l-27-48l-71-15l-75 58M214 619l46 45l-5 102l-23 20M236 433l33-65M255 98l23 3l58-101M255 766l80 20l43-41l67 21l66-69l-135-53l-13 14l15 87M260 664l103-6M278 101l6 6l141 12l5-103l27-16M284 107l28 120M286 512l83 8l48-102l-32-51M369 520l28 42l-21 82M383 242l58-102l-16-21M391 0l39 16M397 562l85 3l36 130l6 1l33-16l39-64l-36-82l-21-10l-57 41M410 290l119-10l9 4l-22 141l5 5l128-23l24 29l71 7l13 123l-59 12l-53-66l28-76M417 418l99 7M441 140l44 8l44 132M445 766l3 20M485 148l55-27l26-67l90 10l28 87l-67 31l-77-61M511 697l7-2M521 430l18 94M524 696l41 90M532 0l12 5l6-5M538 284l52-10l65 40l-6 93M544 5l22 49M557 680l118 41l17-21l94-6M560 534l85-22M590 274l27-92M596 616l78-1l24-37M619 786l50-15l11 15M655 314l46-17l85 44M656 64l50-62l-1-2M669 771l6-50M674 615l18 85M684 151l56 21l24-27l22-1M701 297l42-113l43 30M706 2l34 7l38 53l8-1M740 9l10-9M740 172l3 12M744 443l42-26M757 566l14 6l15-6M764 145l14-83M771 572l15 53M782 786l4-6" fill="none" stroke="#000" stroke-width="15" stroke-linecap="round"/></g>
<polygon points="427.5,785.7 430.7,790.8 425.9,801 417.6,800.2 412.6,792.3 415.9,785.8" fill="#55407F" fill-opacity="0.5" stroke="#55407F" stroke-width="1.3" stroke-linejoin="round"/>
<rect x="386.7" y="746.7" width="83.2" height="83.2" fill="none" stroke="#55407F" stroke-width="4.6" stroke-linejoin="round"/>
<rect x="270.8" y="852.8" width="87.8" height="87.8" fill="#fff"/>
<g transform="translate(275.4 857.4) scale(.1)"><path d="M0 84l8 2l76-85l0-1M0 227l27 1l15-93l112-26l3 2l16 68l-52 60l-92-9l-2-2M0 360l28-13l1-117M0 488l76 4l17 97l-30 51l-37 1l-26-27M0 662l26-21M8 86l34 49M24 786l50-17l2-109l131 46l-1 55l59 25M28 347l63 36l3 85l138 13l9-47l-76-97l-74 46M63 640l13 20M74 769l23 17M76 492l18-24M84 1l36 12l20-13M93 589l106-7l45 76l47-4l47-122l-1-1l70-99l82 76l-43 98l-108-74M120 13l34 96M121 239l48 87l63-33l75 34l16 44l71 28l46-124l97 25l16-14l105 7l27-46l-37-79l-92 3l-3 115M157 111l99-40l4-8l132 13l-18-72l3-4M165 337l4-11M173 179l72 30l-13 84M182 786l24-25M199 582l39-90l99 39M207 706l37-48M228 0l31 20l1 43M232 481l6 11M241 434l82-63M245 209l54-25l54 63l69 2l26-73l95-17l13 12M256 71l45 108l98-67l49 64M259 20l21-20M291 654l51 32l19 73l-21 27M299 184l2-5M307 327l46-80M342 686l106-72l-2-8M355 0l19 4M361 759l81 7l8 20M392 76l8 9l72-34l-6-51M394 399l12 17l129-42l2-74M399 112l1-27M406 416l1 16M422 249l18 26M442 766l43-46l76 10l48-113l-3-6l-153 7l32 102M448 614l5 4M472 51l68 19l3 89M489 508l44-10l73 107l63-99l-82-74l-4 0l-50 66M535 374l48 58M540 70l1-1l101-20l-3-49M541 69l6-69M561 730l35 51l-2 5M587 432l94-72l-23-67M596 781l85-20l12 25M606 605l0 6M609 617l70 29l85-81l-56-64l-39 5M642 49l45 34l56-45l43 21M648 168l40-63l98 59M679 646l37 68l23 1l47 49M681 360l52 24l53-48M681 761l35-47M685 247l86-11l15-53M687 83l1 22M708 501l38-76l-13-41M739 715l47-32M743 38l7-38M746 425l40 13M764 565l22 4M771 236l15 19M394 399L488 287" fill="none" stroke="#000" stroke-width="15" stroke-linecap="round"/></g>
<polygon points="314.8,897.3 319.4,884.9 324.2,886.1" fill="#55407F" fill-opacity="0.5" stroke="#55407F" stroke-width="1.3" stroke-linejoin="round"/>
<rect x="273.1" y="855.1" width="83.2" height="83.2" fill="none" stroke="#55407F" stroke-width="4.6" stroke-linejoin="round"/>
<rect x="130.2" y="932.8" width="87.8" height="87.8" fill="#fff"/>
<g transform="translate(134.8 937.4) scale(.1)"><path d="M0 64l38-42l-1-22M0 77l57 69l-57 58M0 235l29 33l74 2l29 72l107-26l-5-56l-101-31l-30 41M0 372l1 0l28-104M0 507l73 6l8-8l102-7l13-52l-74-77l-50 27l9 109M0 632l78-20l45 37l-7 47l-97 62l-11-3l-8-20M0 759l8-4M1 372l71 24M19 758l17 28M38 22l80 38l51-37l19 1l61 56l-34 63l-86 21l4 65M57 146l48-4l24 22M73 513l5 99M105 142l13-82M116 696l58 75l-8 15M122 369l10-27M123 649l65-27l2-115l101 19l13 68l-101 34l-15-6M154 0l15 23M174 771l63-15l22 30M183 498l7 9M188 24l14-24M196 446l45-34l2-92l114 11l-14 114l-102-33M203 628l53 90l69-24l-1-86l-20-14M215 143l44 79l-25 38M237 756l19-38M239 316l4 4M249 80l12-1l80 77l-7 50l-75 16M261 79l54-45l-3-34M291 526l56-66l1-5l-5-10M315 34l76 17l42-51M324 608l77-20l5-49l-59-79M325 694l35 22l14 47l-14 23M334 206l30 30l-1 89l-6 6M341 156l62-47l-12-58M348 455l118-27l29 72l-89 39M360 716l67-46l-20-76l-6-6M363 325l109 17l18 31l-24 55M364 236l100-22l-2-77l-59-28M374 763l87 18l2 5M407 594l88-2l34-64l69 68l-34 64l-53-18l-16-50M427 670l31 11l53-39M448 0l78 65l55-62l-1-3M458 681l25 66l61-11l47 50M461 781l22-34M462 137l64-43l0-29M464 214l36 33l-28 95M490 373l85 9l35 79l3 0l48 82l68-16l35 53l22-3M495 500l33 21l82-60M500 247l61-10l73 70l78-112l-116-38l-35 80M526 94l65 46l89-94l-99-43M528 521l1 7M544 736l22-69l81 30l-17 83l14 6M564 660l2 7M575 382l59-75l90 51l43-21l5-141l14-4M591 140l5 17M598 596l47-10l16-43M612 786l18-6M613 461l99-37l12-66M645 586l16 20l-2 83l62 8l30-43l-7-33l-83-15M647 697l12-8M680 46l17-2l13-14l-3-30M697 44l43 142l32 10M697 786l46-32l43 16M710 30l76-3M712 195l28-9M712 424l38 49l36-1M721 697l22 57M729 527l21-54M744 621l20-41M751 654l35 10M767 337l19 6M357 331L242 350" fill="none" stroke="#000" stroke-width="15" stroke-linecap="round"/></g>
<polygon points="170.5,970.5 159.1,969.4 159,972.4" fill="#55407F" fill-opacity="0.5" stroke="#55407F" stroke-width="1.3" stroke-linejoin="round"/>
<rect x="132.5" y="935.1" width="83.2" height="83.2" fill="none" stroke="#55407F" stroke-width="4.6" stroke-linejoin="round"/>
<rect x="82.3" y="655.7" width="154.6" height="61.4" fill="#fff" stroke="#000" stroke-width="0.9"/>
<rect x="90.7" y="674.8" width="44.3" height="23.9" rx="1" fill="#888" stroke="#000" stroke-width="2.5" stroke-linejoin="round"/>
<g font-family='"Liberation Serif","DejaVu Serif",serif' font-size="27.5" fill="#000"><text transform="translate(142.5 695.8) scale(1.2 1)" font-style="italic">N</text><text transform="translate(172.1 695.8) scale(1.42 1)">=</text><text x="201.4" y="695.8">51</text></g>
<text x="395.3" y="1126" text-anchor="middle" font-family='"Liberation Serif","DejaVu Serif",serif' font-style="italic" font-size="28">A</text>
<text transform="translate(16 862.8) rotate(-90)" font-family='"DejaVu Serif","Liberation Serif",serif' font-style="italic" font-size="33">ν</text>
<path d="M96.4 1688.5H693.3" stroke="#000" stroke-width="0.5" stroke-dasharray="1.2 1" stroke-opacity="0.7"/>
<path d="M124.45 1688.5V1688.2H125.05V1688.2H125.65V1688.5ZM131.02 1688.5V1688.1H131.62V1688.1H132.21V1688.5ZM132.81 1688.5V1688.2H133.41V1688.5ZM135.80 1688.5V1688.2H136.39V1688.5ZM136.99 1688.5V1688.2H137.59V1688.5ZM140.57 1688.5V1688.2H141.17V1688.5ZM142.96 1688.5V1688.1H143.56V1688.5ZM144.15 1688.5V1688.2H144.75V1688.5ZM145.94 1688.5V1688.1H146.54V1688.5ZM147.14 1688.5V1688H147.73V1688.5ZM148.33 1688.5V1687.8H148.93V1687.9H149.52V1688.1H150.12V1688.5ZM150.72 1688.5V1687.9H151.31V1688.5ZM152.51 1688.5V1687.9H153.11V1688.5ZM154.90 1688.5V1687.8H155.49V1687.7H156.09V1688H156.69V1688.5ZM157.28 1688.5V1687.6H157.88V1688.5ZM159.07 1688.5V1687.9H159.67V1688.5ZM160.27 1688.5V1688.1H160.87V1687.9H161.46V1688.5ZM163.25 1688.5V1687.6H163.85V1687.8H164.45V1688H165.04V1688.1H165.64V1687.9H166.24V1687.5H166.83V1687.6H167.43V1688.5ZM168.03 1688.5V1687.7H168.62V1688.2H169.22V1687.5H169.82V1687.4H170.42V1688.5ZM171.01 1688.5V1687.9H171.61V1687.9H172.21V1688H172.80V1687.6H173.40V1688.5ZM175.79 1688.5V1687.5H176.38V1688.5ZM176.98 1688.5V1687.6H177.58V1687.5H178.18V1688.5ZM179.97 1688.5V1687.8H180.56V1688.5ZM183.55 1688.5V1687.3H184.14V1687.6H184.74V1688.5ZM186.53 1688.5V1687.7H187.13V1688.5ZM187.73 1688.5V1687.8H188.32V1688.5ZM189.52 1688.5V1688H190.11V1688H190.71V1687.2H191.31V1687.6H191.90V1687.2H192.50V1688.5ZM193.69 1688.5V1686.7H194.29V1688.5ZM194.89 1688.5V1687.9H195.49V1688.5ZM196.08 1688.5V1687.2H196.68V1686.9H197.28V1688.5ZM199.66 1688.5V1687.1H200.26V1686.5H200.86V1688.5ZM201.45 1688.5V1686.3H202.05V1686.8H202.65V1687.8H203.25V1686.4H203.84V1688.5ZM207.42 1688.5V1686.3H208.02V1687.4H208.62V1688.5ZM211.60 1688.5V1687.6H212.20V1688.5ZM212.80 1688.5V1687.4H213.39V1686.3H213.99V1687.4H214.59V1688.5ZM215.18 1688.5V1687H215.78V1685.9H216.38V1687.1H216.97V1688.5ZM218.17 1688.5V1687.2H218.76V1688.5ZM219.36 1688.5V1685.7H219.96V1688.5ZM221.15 1688.5V1685.7H221.75V1688.5ZM222.94 1688.5V1685.6H223.54V1685.7H224.14V1688.5ZM225.33 1688.5V1686.3H225.93V1687.6H226.52V1687.2H227.12V1686.6H227.72V1687.5H228.31V1688.5ZM228.91 1688.5V1685.2H229.51V1688.5ZM230.11 1688.5V1687.4H230.70V1688.5ZM231.30 1688.5V1684.7H231.90V1686.8H232.49V1688.5ZM233.69 1688.5V1684.4H234.28V1686.3H234.88V1686.6H235.48V1684.8H236.07V1688.5ZM236.67 1688.5V1684.9H237.27V1684.6H237.87V1688.5ZM238.46 1688.5V1685.2H239.06V1685.4H239.66V1688.5ZM241.45 1688.5V1686.1H242.04V1685.3H242.64V1687.1H243.24V1684.5H243.83V1688.5ZM244.43 1688.5V1685.3H245.03V1688.5ZM245.62 1688.5V1683.4H246.22V1685.3H246.82V1687H247.42V1688.5ZM248.61 1688.5V1685.4H249.21V1688.5ZM249.80 1688.5V1686.9H250.40V1687H251.00V1684H251.59V1686.4H252.19V1688.5ZM252.79 1688.5V1684.1H253.38V1688.5ZM253.98 1688.5V1684.9H254.58V1688.5ZM255.18 1688.5V1682.2H255.77V1685.1H256.37V1684.5H256.97V1688.5ZM258.16 1688.5V1686.4H258.76V1682H259.35V1684.9H259.95V1688.5ZM260.55 1688.5V1686H261.14V1683.1H261.74V1688.5ZM262.94 1688.5V1686.2H263.53V1686.2H264.13V1688.5ZM264.73 1688.5V1686.4H265.32V1684.8H265.92V1686.3H266.52V1688.5ZM267.11 1688.5V1686.2H267.71V1686.4H268.31V1688.5ZM268.90 1688.5V1684.7H269.50V1685.9H270.10V1688.5ZM270.69 1688.5V1681.9H271.29V1688.5ZM271.89 1688.5V1686.1H272.49V1683.2H273.08V1688.5ZM273.68 1688.5V1682.1H274.28V1683.5H274.87V1680H275.47V1683.4H276.07V1684.1H276.66V1682.7H277.26V1683.7H277.86V1683.3H278.45V1682.5H279.05V1685.5H279.65V1681.5H280.25V1681.5H280.84V1680.5H281.44V1688.5ZM282.63 1688.5V1685H283.23V1685.8H283.83V1680.8H284.42V1683.5H285.02V1685.8H285.62V1685.8H286.21V1688.5ZM286.81 1688.5V1679.9H287.41V1688.5ZM288.60 1688.5V1686H289.20V1688.5ZM289.80 1688.5V1684.8H290.39V1688.5ZM290.99 1688.5V1680.4H291.59V1688.5ZM292.18 1688.5V1675.6H292.78V1679.5H293.38V1684.7H293.97V1688.5ZM294.57 1688.5V1684.2H295.17V1685.6H295.76V1684H296.36V1678.7H296.96V1683.1H297.56V1674.8H298.15V1688.5ZM298.75 1688.5V1685.2H299.35V1683.8H299.94V1679H300.54V1685.1H301.14V1680.3H301.73V1676.1H302.33V1685.1H302.93V1680.5H303.52V1683.9H304.12V1679.5H304.72V1688.5ZM305.31 1688.5V1673.4H305.91V1679H306.51V1681.7H307.11V1685.2H307.70V1682.1H308.30V1688.5ZM308.90 1688.5V1683.6H309.49V1683.6H310.09V1685H310.69V1673.3H311.28V1671.6H311.88V1672.1H312.48V1681.8H313.07V1673.5H313.67V1676H314.27V1671.3H314.87V1680H315.46V1675.7H316.06V1675.4H316.66V1688.5ZM317.25 1688.5V1675.5H317.85V1673.6H318.45V1688.5ZM319.04 1688.5V1682.5H319.64V1688.5ZM320.24 1688.5V1672.8H320.83V1679H321.43V1683.7H322.03V1688.5ZM323.22 1688.5V1683.8H323.82V1682.7H324.42V1674.2H325.01V1671.1H325.61V1688.5ZM326.21 1688.5V1679H326.80V1672H327.40V1688.5ZM328.00 1688.5V1670.1H328.59V1683.3H329.19V1684.2H329.79V1682.3H330.38V1668.5H330.98V1681.3H331.58V1676.4H332.18V1676.7H332.77V1683.6H333.37V1674.2H333.97V1674.3H334.56V1688.5ZM336.35 1688.5V1670.3H336.95V1679.3H337.55V1682H338.14V1682.3H338.74V1683.2H339.34V1668.2H339.94V1681.1H340.53V1677.3H341.13V1681.7H341.73V1688.5ZM342.32 1688.5V1682.3H342.92V1677.1H343.52V1681.8H344.11V1688.5ZM344.71 1688.5V1681.4H345.31V1663.4H345.90V1688.5ZM346.50 1688.5V1665.8H347.10V1682.8H347.69V1680.7H348.29V1688.5ZM348.89 1688.5V1672.6H349.49V1681.1H350.08V1663.9H350.68V1688.5ZM351.87 1688.5V1661.6H352.47V1680.1H353.07V1682.1H353.66V1671H354.26V1678.7H354.86V1681.7H355.45V1674.2H356.05V1688.5ZM356.65 1688.5V1681.7H357.25V1681.3H357.84V1680.7H358.44V1671.4H359.04V1688.5ZM359.63 1688.5V1688.2H360.23V1667.5H360.83V1687.8H361.42V1666.8H362.02V1667.2H362.62V1658.9H363.21V1672.9H363.81V1666.1H364.41V1667.4H365.00V1675.7H365.60V1674.5H366.20V1675.9H366.80V1666.2H367.39V1661.9H367.99V1657.5H368.59V1652.3H369.18V1675.5H369.78V1671.9H370.38V1672.5H370.97V1676H371.57V1673.3H372.17V1655.3H372.76V1682.8H373.36V1682.7H373.96V1648H374.56V1668.7H375.15V1657.8H375.75V1671.6H376.35V1669.6H376.94V1671.9H377.54V1655.6H378.14V1671.5H378.73V1654.7H379.33V1669.3H379.93V1657.9H380.52V1669.9H381.12V1667.4H381.72V1641.4H382.32V1667H382.91V1670.8H383.51V1668.9H384.11V1644.6H384.70V1667.3H385.30V1648.5H385.90V1664.5H386.49V1667.6H387.09V1654.9H387.69V1664.7H388.28V1663.8H388.88V1663H389.48V1643H390.07V1662.9H390.67V1662.1H391.27V1662H391.87V1634.9H392.46V1642H393.06V1658.4H393.66V1639.8H394.25V1658.1H394.85V1654.3H395.45V1646.4H396.04V1649H396.64V1662.1H397.24V1659.4H397.83V1658.8H398.43V1645.7H399.03V1656.2H399.63V1656.8H400.22V1658.4H400.82V1652.7H401.42V1647H402.01V1651.4H402.61V1641.4H403.21V1653.8H403.80V1652.2H404.40V1640.7H405.00V1649H405.59V1640.2H406.19V1632.9H406.79V1648.1H407.38V1616.5H407.98V1648.8H408.58V1647.7H409.18V1629.7H409.77V1643.8H410.37V1633.2H410.97V1647.4H411.56V1646.7H412.16V1623.7H412.76V1645.8H413.35V1637.3H413.95V1617.7H414.55V1643.9H415.14V1642.1H415.74V1605.9H416.34V1614.8H416.94V1641.3H417.53V1639.6H418.13V1629.7H418.73V1641.1H419.32V1637.7H419.92V1636.5H420.52V1621H421.11V1631.9H421.71V1629.7H422.31V1626.3H422.90V1638H423.50V1628.5H424.10V1632.3H424.70V1626H425.29V1630.1H425.89V1632H426.49V1631.6H427.08V1607.2H427.68V1625.5H428.28V1622.4H428.87V1628.4H429.47V1625.4H430.07V1624.6H430.66V1629.4H431.26V1623.3H431.86V1625.2H432.45V1624.3H433.05V1603.9H433.65V1621.8H434.25V1620.6H434.84V1608.5H435.44V1618H436.04V1616.2H436.63V1586.3H437.23V1618.1H437.83V1622H438.42V1618.9H439.02V1599.1H439.62V1617.7H440.21V1620.1H440.81V1617.2H441.41V1614.5H442.01V1621.5H442.60V1612.2H443.20V1620.9H443.80V1615.5H444.39V1605.9H444.99V1619.7H445.59V1614.4H446.18V1616.4H446.78V1618.1H447.38V1596.9H447.97V1615.5H448.57V1607.1H449.17V1602.1H449.76V1613H450.36V1616.1H450.96V1606.4H451.56V1614.8H452.15V1606.5H452.75V1593.5H453.35V1592.4H453.94V1613.6H454.54V1609.1H455.14V1575.5H455.73V1593.6H456.33V1604.4H456.93V1586.2H457.52V1606.1H458.12V1590.3H458.72V1602.7H459.32V1608.9H459.91V1608.7H460.51V1606.9H461.11V1597.8H461.70V1580.5H462.30V1604.2H462.90V1588.8H463.49V1587.4H464.09V1605.9H464.69V1596.2H465.28V1607.1H465.88V1572.8H466.48V1594.1H467.07V1605.3H467.67V1594.6H468.27V1595.2H468.87V1604.8H469.46V1581H470.06V1601.1H470.66V1588.6H471.25V1598.6H471.85V1598.1H472.45V1603H473.04V1599H473.64V1598.3H474.24V1592.9H474.83V1591.8H475.43V1590.6H476.03V1583.9H476.63V1587.8H477.22V1557.8H477.82V1595.3H478.42V1598.9H479.01V1581.5H479.61V1555.7H480.21V1596H480.80V1590.4H481.40V1583.6H482.00V1588.2H482.59V1592.3H483.19V1584.4H483.79V1590.2H484.38V1595.5H484.98V1594.2H485.58V1580.4H486.18V1593.2H486.77V1582.3H487.37V1576.8H487.97V1549H488.56V1588.8H489.16V1543.9H489.76V1591H490.35V1585.8H490.95V1574.3H491.55V1583H492.14V1555H492.74V1577.8H493.34V1576.3H493.94V1582.5H494.53V1583.7H495.13V1588.8H495.73V1587.6H496.32V1571.4H496.92V1544.9H497.52V1571.7H498.11V1534.6H498.71V1581.7H499.31V1557.6H499.90V1583.4H500.50V1570.5H501.10V1577H501.70V1573.3H502.29V1559.2H502.89V1576.3H503.49V1571.8H504.08V1577H504.68V1582.1H505.28V1574.8H505.87V1568.3H506.47V1574.1H507.07V1558.9H507.66V1571.6H508.26V1565.6H508.86V1580.1H509.45V1569.1H510.05V1570.9H510.65V1573.2H511.25V1563.1H511.84V1577.2H512.44V1569.7H513.04V1572.5H513.63V1560.4H514.23V1563.2H514.83V1573.3H515.42V1574.3H516.02V1533.3H516.62V1572.6H517.21V1558.4H517.81V1559H518.41V1551.1H519.01V1566.9H519.60V1565H520.20V1543.1H520.80V1513.4H521.39V1572.8H521.99V1569.1H522.59V1561.1H523.18V1569.1H523.78V1553.5H524.38V1570.2H524.97V1552H525.57V1566H526.17V1513.4H526.76V1525.8H527.36V1555.8H527.96V1548.3H528.56V1557.5H529.15V1548.5H529.75V1547.9H530.35V1544H530.94V1503H531.54V1509.5H532.14V1562.7H532.73V1554.6H533.33V1517.7H533.93V1498.3H534.52V1543.2H535.12V1508.7H535.72V1503.9H536.32V1556.2H536.91V1513.3H537.51V1541.2H538.11V1545.3H538.70V1544.8H539.30V1546.5H539.90V1533.8H540.49V1522.4H541.09V1492.6H541.69V1537.6H542.28V1531.6H542.88V1505.4H543.48V1510H544.08V1546.2H544.67V1504.3H545.27V1530.3H545.87V1540.8H546.46V1529.3H547.06V1525.1H547.66V1529.2H548.25V1528.6H548.85V1519.9H549.45V1523.9H550.04V1525.5H550.64V1541.4H551.24V1501.3H551.83V1539.6H552.43V1531.1H553.03V1540.3H553.63V1486.1H554.22V1473.8H554.82V1483.4H555.42V1514.4H556.01V1479H556.61V1536.6H557.21V1518.9H557.80V1483.2H558.40V1505.5H559.00V1494.4H559.59V1496.7H560.19V1512.9H560.79V1532.9H561.39V1503.6H561.98V1513.9H562.58V1525.4H563.18V1525.1H563.77V1510.9H564.37V1480.5H564.97V1513.8H565.56V1517.7H566.16V1535H566.76V1527.5H567.35V1516.5H567.95V1492.3H568.55V1512.4H569.14V1510.7H569.74V1468.1H570.34V1512.6H570.94V1517.6H571.53V1511.9H572.13V1477.5H572.73V1493.6H573.32V1484.9H573.92V1492H574.52V1501.4H575.11V1521.3H575.71V1515.4H576.31V1483.4H576.90V1504.2H577.50V1475.7H578.10V1455.3H578.70V1476.3H579.29V1509.3H579.89V1472H580.49V1480H581.08V1510.4H581.68V1483.9H582.28V1497.9H582.87V1455.4H583.47V1490.1H584.07V1489.5H584.66V1472.2H585.26V1437.7H585.86V1476.8H586.45V1477H587.05V1487.4H587.65V1462.6H588.25V1497.3H588.84V1484.7H589.44V1464.8H590.04V1474.4H590.63V1488.1H591.23V1490.8H591.83V1461.8H592.42V1463.9H593.02V1484.1H593.62V1446.4H594.21V1460.8H594.81V1445.4H595.41V1458.1H596.01V1470.8H596.60V1471H597.20V1475.6H597.80V1459.9H598.39V1457.9H598.99V1422.9H599.59V1473.2H600.18V1448H600.78V1463.4H601.38V1464.1H601.97V1449.7H602.57V1464.6H603.17V1417.3H603.76V1445.8H604.36V1439.5H604.96V1454.5H605.56V1427.8H606.15V1455.4H606.75V1454.3H607.35V1447.1H607.94V1396.3H608.54V1407.8H609.14V1427.9H609.73V1453.8H610.33V1419H610.93V1417.5H611.52V1420.5H612.12V1413.2H612.72V1432.9H613.32V1427H613.91V1405.4H614.51V1404.3H615.11V1436.4H615.70V1478.3H616.30V1474.9H616.90V1485.8H617.49V1486.4H618.09V1480.2H618.69V1476.3H619.28V1462H619.88V1453.1H620.48V1475.9H621.08V1458H621.67V1464.6H622.27V1443H622.87V1434.7H623.46V1469.9H624.06V1434.1H624.66V1453.9H625.25V1430.4H625.85V1417.8H626.45V1415.4H627.04V1422.8H627.64V1412.7H628.24V1411.9H628.83V1415.9H629.43V1426H630.03V1417.1H630.63V1423.8H631.22V1419.3H631.82V1412.1H632.42V1411.5H633.01V1415.1H633.61V1380.8H634.21V1410H634.80V1373.6H635.40V1394H636.00V1413.4H636.59V1404.5H637.19V1405.9H637.79V1379.7H638.39V1396.9H638.98V1356.7H639.58V1367.8H640.18V1383.4H640.77V1363.3H641.37V1382.3H641.97V1377.4H642.56V1363.5H643.16V1383.7H643.76V1335.2H644.35V1373.5H644.95V1330.4H645.55V1339.4H646.14V1330.2H646.74V1355.3H647.34V1308H647.94V1330.7H648.53V1333.6H649.13V1342H649.73V1339.6H650.32V1306.1H650.92V1298.2H651.52V1304.1H652.11V1327.5H652.71V1333.4H653.31V1348.5H653.90V1324.6H654.50V1329.6H655.10V1369.2H655.70V1341.1H656.29V1374.5H656.89V1375.7H657.49V1396.7H658.08V1366.7H658.68V1413.1H659.28V1391.1H659.87V1399.9H660.47V1419.3H661.07V1399.7H661.66V1443.5H662.26V1410.5H662.86V1417.8H663.45V1438.4H664.05V1446.6H664.65V1448.6H665.25V1449.9H665.84V1484.2H666.44V1471.9H667.04V1481.9H667.63V1477.8H668.23V1470.8H668.83V1478.5H669.42V1481.6H670.02V1508.5H670.62V1509.6H671.21V1517.3H671.81V1521H672.41V1519H673.01V1530.9H673.60V1521.7H674.20V1521H674.80V1537.9H675.39V1528.2H675.99V1533.9H676.59V1543.7H677.18V1539.3H677.78V1562.4H678.38V1546.3H678.97V1564.6H679.57V1554.2H680.17V1573.5H680.77V1561.9H681.36V1569.3H681.96V1571.8H682.56V1580.1H683.15V1583.4H683.75V1576.7H684.35V1593.7H684.94V1589.7H685.54V1597.1H686.14V1590.7H686.73V1605.2H687.33V1607.1H687.93V1608.8H688.52V1607.5H689.12V1604.1H689.72V1610.1H690.32V1610.3H690.91V1619.5H691.51V1615.1H692.11V1613.2H692.70V1616.2H693.30V1688.5Z" fill="#8c8c8c"/>
<path d="M125.05 1688.5v-.3M131.62 1688.5v-.4M148.93 1688.5v-.6M149.52 1688.5v-.4M155.49 1688.5v-.7M156.09 1688.5v-.5M160.87 1688.5v-.4M163.85 1688.5v-.7M164.45 1688.5v-.5M165.04 1688.5v-.4M165.64 1688.5v-.4M166.24 1688.5v-.6M166.83 1688.5v-.9M168.62 1688.5v-.3M169.22 1688.5v-.3M169.82 1688.5v-1M171.61 1688.5v-.6M172.21 1688.5v-.5M172.80 1688.5v-.5M177.58 1688.5v-.9M184.14 1688.5v-.9M190.11 1688.5v-.5M190.71 1688.5v-.5M191.31 1688.5v-.9M191.90 1688.5v-.9M196.68 1688.5v-1.3M200.26 1688.5v-1.4M202.05 1688.5v-1.7M202.65 1688.5v-.7M203.25 1688.5v-.7M208.02 1688.5v-1.1M213.39 1688.5v-1.1M213.99 1688.5v-1.1M215.78 1688.5v-1.5M216.38 1688.5v-1.4M223.54 1688.5v-2.8M225.93 1688.5v-.9M226.52 1688.5v-.9M227.12 1688.5v-1.3M227.72 1688.5v-1M231.90 1688.5v-1.7M234.28 1688.5v-2.2M234.88 1688.5v-1.9M235.48 1688.5v-1.9M237.27 1688.5v-3.6M239.06 1688.5v-3.1M242.04 1688.5v-2.4M242.64 1688.5v-1.4M243.24 1688.5v-1.4M246.22 1688.5v-3.2M246.82 1688.5v-1.5M250.40 1688.5v-1.5M251.00 1688.5v-1.5M251.59 1688.5v-2.1M255.77 1688.5v-3.4M256.37 1688.5v-3.4M258.76 1688.5v-2.1M259.35 1688.5v-3.6M261.14 1688.5v-2.5M263.53 1688.5v-2.3M265.32 1688.5v-2.1M265.92 1688.5v-2.2M267.71 1688.5v-2.1M269.50 1688.5v-2.6M272.49 1688.5v-2.4M274.28 1688.5v-5M274.87 1688.5v-5M275.47 1688.5v-5.1M276.07 1688.5v-4.4M276.66 1688.5v-4.4M277.26 1688.5v-4.8M277.86 1688.5v-4.8M278.45 1688.5v-5.2M279.05 1688.5v-3M279.65 1688.5v-3M280.25 1688.5v-7M280.84 1688.5v-7M283.23 1688.5v-2.7M283.83 1688.5v-2.7M284.42 1688.5v-5M285.02 1688.5v-2.7M285.62 1688.5v-2.7M292.78 1688.5v-9M293.38 1688.5v-3.8M295.17 1688.5v-2.9M295.76 1688.5v-2.9M296.36 1688.5v-4.5M296.96 1688.5v-5.4M297.56 1688.5v-5.4M299.35 1688.5v-3.3M299.94 1688.5v-4.7M300.54 1688.5v-3.4M301.14 1688.5v-3.4M301.73 1688.5v-8.2M302.33 1688.5v-3.4M302.93 1688.5v-3.4M303.52 1688.5v-4.6M304.12 1688.5v-4.6M305.91 1688.5v-9.5M306.51 1688.5v-6.8M307.11 1688.5v-3.3M307.70 1688.5v-3.3M309.49 1688.5v-4.9M310.09 1688.5v-3.5M310.69 1688.5v-3.5M311.28 1688.5v-15.2M311.88 1688.5v-16.4M312.48 1688.5v-6.7M313.07 1688.5v-6.7M313.67 1688.5v-12.5M314.27 1688.5v-12.5M314.87 1688.5v-8.5M315.46 1688.5v-8.5M316.06 1688.5v-12.8M317.85 1688.5v-13M320.83 1688.5v-9.5M321.43 1688.5v-4.8M323.82 1688.5v-4.7M324.42 1688.5v-5.8M325.01 1688.5v-14.3M326.80 1688.5v-9.5M328.59 1688.5v-5.2M329.19 1688.5v-4.3M329.79 1688.5v-4.3M330.38 1688.5v-6.2M330.98 1688.5v-7.2M331.58 1688.5v-7.2M332.18 1688.5v-11.8M332.77 1688.5v-4.9M333.37 1688.5v-4.9M333.97 1688.5v-14.2M336.95 1688.5v-9.2M337.55 1688.5v-6.5M338.14 1688.5v-6.2M338.74 1688.5v-5.3M339.34 1688.5v-5.3M339.94 1688.5v-7.4M340.53 1688.5v-7.4M341.13 1688.5v-6.8M342.92 1688.5v-6.2M343.52 1688.5v-6.7M345.31 1688.5v-7.1M347.10 1688.5v-5.7M347.69 1688.5v-5.7M349.49 1688.5v-7.4M350.08 1688.5v-7.4M352.47 1688.5v-8.4M353.07 1688.5v-6.4M353.66 1688.5v-6.4M354.26 1688.5v-9.8M354.86 1688.5v-6.8M355.45 1688.5v-6.8M357.25 1688.5v-6.8M357.84 1688.5v-7.2M358.44 1688.5v-7.8M360.23 1688.5v-.3M360.83 1688.5v-.7M361.42 1688.5v-.7M362.02 1688.5v-21.3M362.62 1688.5v-21.3M363.21 1688.5v-15.6M363.81 1688.5v-15.6M364.41 1688.5v-21.1M365.00 1688.5v-12.8M365.60 1688.5v-12.8M366.20 1688.5v-12.6M366.80 1688.5v-12.6M367.39 1688.5v-22.3M367.99 1688.5v-26.6M368.59 1688.5v-31M369.18 1688.5v-13M369.78 1688.5v-13M370.38 1688.5v-16M370.97 1688.5v-12.5M371.57 1688.5v-12.5M372.17 1688.5v-15.2M372.76 1688.5v-5.7M373.36 1688.5v-5.7M373.96 1688.5v-5.8M374.56 1688.5v-19.8M375.15 1688.5v-19.8M375.75 1688.5v-16.9M376.35 1688.5v-16.9M376.94 1688.5v-16.6M377.54 1688.5v-16.6M378.14 1688.5v-17M378.73 1688.5v-17M379.33 1688.5v-19.2M379.93 1688.5v-19.2M380.52 1688.5v-18.6M381.12 1688.5v-18.6M381.72 1688.5v-21.1M382.32 1688.5v-21.5M382.91 1688.5v-17.7M383.51 1688.5v-17.7M384.11 1688.5v-19.6M384.70 1688.5v-21.2M385.30 1688.5v-21.2M385.90 1688.5v-24M386.49 1688.5v-20.9M387.09 1688.5v-20.9M387.69 1688.5v-23.8M388.28 1688.5v-23.8M388.88 1688.5v-24.7M389.48 1688.5v-25.5M390.07 1688.5v-25.6M390.67 1688.5v-25.6M391.27 1688.5v-26.4M391.87 1688.5v-26.5M392.46 1688.5v-46.5M393.06 1688.5v-30.1M393.66 1688.5v-30.1M394.25 1688.5v-30.4M394.85 1688.5v-30.4M395.45 1688.5v-34.2M396.04 1688.5v-39.5M396.64 1688.5v-26.4M397.24 1688.5v-26.4M397.83 1688.5v-29.1M398.43 1688.5v-29.7M399.03 1688.5v-32.3M399.63 1688.5v-31.7M400.22 1688.5v-30.1M400.82 1688.5v-30.1M401.42 1688.5v-35.8M402.01 1688.5v-37.1M402.61 1688.5v-37.1M403.21 1688.5v-34.7M403.80 1688.5v-34.7M404.40 1688.5v-36.3M405.00 1688.5v-39.5M405.59 1688.5v-39.5M406.19 1688.5v-48.3M406.79 1688.5v-40.4M407.38 1688.5v-40.4M407.98 1688.5v-39.7M408.58 1688.5v-39.7M409.18 1688.5v-40.8M409.77 1688.5v-44.7M410.37 1688.5v-44.7M410.97 1688.5v-41.1M411.56 1688.5v-41.1M412.16 1688.5v-41.8M412.76 1688.5v-42.7M413.35 1688.5v-42.7M413.95 1688.5v-51.2M414.55 1688.5v-44.6M415.14 1688.5v-44.6M415.74 1688.5v-46.4M416.34 1688.5v-73.7M416.94 1688.5v-47.2M417.53 1688.5v-47.2M418.13 1688.5v-48.9M418.73 1688.5v-47.4M419.32 1688.5v-47.4M419.92 1688.5v-50.8M420.52 1688.5v-52M421.11 1688.5v-56.6M421.71 1688.5v-56.6M422.31 1688.5v-58.8M422.90 1688.5v-50.5M423.50 1688.5v-50.5M424.10 1688.5v-56.2M424.70 1688.5v-56.2M425.29 1688.5v-58.4M425.89 1688.5v-56.5M426.49 1688.5v-56.5M427.08 1688.5v-56.9M427.68 1688.5v-63M428.28 1688.5v-63M428.87 1688.5v-60.1M429.47 1688.5v-60.1M430.07 1688.5v-63.1M430.66 1688.5v-59.1M431.26 1688.5v-59.1M431.86 1688.5v-63.3M432.45 1688.5v-63.3M433.05 1688.5v-64.2M433.65 1688.5v-66.7M434.25 1688.5v-66.7M434.84 1688.5v-67.9M435.44 1688.5v-70.5M436.04 1688.5v-70.5M436.63 1688.5v-72.3M437.23 1688.5v-70.4M437.83 1688.5v-66.5M438.42 1688.5v-66.5M439.02 1688.5v-69.6M439.62 1688.5v-70.8M440.21 1688.5v-68.4M440.81 1688.5v-68.4M441.41 1688.5v-71.3M442.01 1688.5v-67M442.60 1688.5v-67M443.20 1688.5v-67.6M443.80 1688.5v-67.6M444.39 1688.5v-73M444.99 1688.5v-68.8M445.59 1688.5v-68.8M446.18 1688.5v-72.1M446.78 1688.5v-70.4M447.38 1688.5v-70.4M447.97 1688.5v-73M448.57 1688.5v-73M449.17 1688.5v-81.4M449.76 1688.5v-75.5M450.36 1688.5v-72.4M450.96 1688.5v-72.4M451.56 1688.5v-73.7M452.15 1688.5v-73.7M452.75 1688.5v-82M453.35 1688.5v-95M453.94 1688.5v-74.9M454.54 1688.5v-74.9M455.14 1688.5v-79.4M455.73 1688.5v-94.9M456.33 1688.5v-84.1M456.93 1688.5v-84.1M457.52 1688.5v-82.4M458.12 1688.5v-82.4M458.72 1688.5v-85.8M459.32 1688.5v-79.6M459.91 1688.5v-79.6M460.51 1688.5v-79.8M461.11 1688.5v-81.6M461.70 1688.5v-90.7M462.30 1688.5v-84.3M462.90 1688.5v-84.3M463.49 1688.5v-99.7M464.09 1688.5v-82.6M464.69 1688.5v-82.6M465.28 1688.5v-81.4M465.88 1688.5v-81.4M466.48 1688.5v-94.4M467.07 1688.5v-83.2M467.67 1688.5v-83.2M468.27 1688.5v-93.3M468.87 1688.5v-83.7M469.46 1688.5v-83.7M470.06 1688.5v-87.4M470.66 1688.5v-87.4M471.25 1688.5v-89.9M471.85 1688.5v-89.9M472.45 1688.5v-85.5M473.04 1688.5v-85.5M473.64 1688.5v-89.5M474.24 1688.5v-90.2M474.83 1688.5v-95.6M475.43 1688.5v-96.7M476.03 1688.5v-97.9M476.63 1688.5v-100.7M477.22 1688.5v-100.7M477.82 1688.5v-93.2M478.42 1688.5v-89.6M479.01 1688.5v-89.6M479.61 1688.5v-107M480.21 1688.5v-92.5M480.80 1688.5v-92.5M481.40 1688.5v-98.1M482.00 1688.5v-100.3M482.59 1688.5v-96.2M483.19 1688.5v-96.2M483.79 1688.5v-98.3M484.38 1688.5v-93M484.98 1688.5v-93M485.58 1688.5v-94.3M486.18 1688.5v-95.3M486.77 1688.5v-95.3M487.37 1688.5v-106.2M487.97 1688.5v-111.7M488.56 1688.5v-99.7M489.16 1688.5v-99.7M489.76 1688.5v-97.5M490.35 1688.5v-97.5M490.95 1688.5v-102.7M491.55 1688.5v-105.5M492.14 1688.5v-105.5M492.74 1688.5v-110.7M493.34 1688.5v-110.7M493.94 1688.5v-106M494.53 1688.5v-104.8M495.13 1688.5v-99.7M495.73 1688.5v-99.7M496.32 1688.5v-100.9M496.92 1688.5v-117.1M497.52 1688.5v-116.8M498.11 1688.5v-116.8M498.71 1688.5v-106.8M499.31 1688.5v-106.8M499.90 1688.5v-105.1M500.50 1688.5v-105.1M501.10 1688.5v-111.5M501.70 1688.5v-111.5M502.29 1688.5v-115.2M502.89 1688.5v-112.2M503.49 1688.5v-112.2M504.08 1688.5v-111.5M504.68 1688.5v-106.4M505.28 1688.5v-106.4M505.87 1688.5v-113.7M506.47 1688.5v-114.4M507.07 1688.5v-114.4M507.66 1688.5v-116.9M508.26 1688.5v-116.9M508.86 1688.5v-108.4M509.45 1688.5v-108.4M510.05 1688.5v-117.6M510.65 1688.5v-115.3M511.25 1688.5v-115.3M511.84 1688.5v-111.3M512.44 1688.5v-111.3M513.04 1688.5v-116M513.63 1688.5v-116M514.23 1688.5v-125.3M514.83 1688.5v-115.2M515.42 1688.5v-114.2M516.02 1688.5v-114.2M516.62 1688.5v-115.9M517.21 1688.5v-115.9M517.81 1688.5v-129.5M518.41 1688.5v-129.5M519.01 1688.5v-121.6M519.60 1688.5v-121.6M520.20 1688.5v-123.5M520.80 1688.5v-145.4M521.39 1688.5v-115.7M521.99 1688.5v-115.7M522.59 1688.5v-119.4M523.18 1688.5v-119.4M523.78 1688.5v-119.4M524.38 1688.5v-118.3M524.97 1688.5v-118.3M525.57 1688.5v-122.5M526.17 1688.5v-122.5M526.76 1688.5v-162.7M527.36 1688.5v-132.7M527.96 1688.5v-132.7M528.56 1688.5v-131M529.15 1688.5v-131M529.75 1688.5v-140M530.35 1688.5v-140.6M530.94 1688.5v-144.5M531.54 1688.5v-179M532.14 1688.5v-125.8M532.73 1688.5v-125.8M533.33 1688.5v-133.9M533.93 1688.5v-170.8M534.52 1688.5v-145.3M535.12 1688.5v-145.3M535.72 1688.5v-179.8M536.32 1688.5v-132.3M536.91 1688.5v-132.3M537.51 1688.5v-147.3M538.11 1688.5v-143.2M538.70 1688.5v-143.2M539.30 1688.5v-142M539.90 1688.5v-142M540.49 1688.5v-154.7M541.09 1688.5v-166.1M541.69 1688.5v-150.9M542.28 1688.5v-150.9M542.88 1688.5v-156.9M543.48 1688.5v-178.5M544.08 1688.5v-142.3M544.67 1688.5v-142.3M545.27 1688.5v-158.2M545.87 1688.5v-147.7M546.46 1688.5v-147.7M547.06 1688.5v-159.2M547.66 1688.5v-159.3M548.25 1688.5v-159.3M548.85 1688.5v-159.9M549.45 1688.5v-164.6M550.04 1688.5v-163M550.64 1688.5v-147.1M551.24 1688.5v-147.1M551.83 1688.5v-148.9M552.43 1688.5v-148.9M553.03 1688.5v-148.2M553.63 1688.5v-148.2M554.22 1688.5v-202.4M554.82 1688.5v-205.1M555.42 1688.5v-174.1M556.01 1688.5v-174.1M556.61 1688.5v-151.9M557.21 1688.5v-151.9M557.80 1688.5v-169.6M558.40 1688.5v-183M559.00 1688.5v-183M559.59 1688.5v-191.8M560.19 1688.5v-175.6M560.79 1688.5v-155.6M561.39 1688.5v-155.6M561.98 1688.5v-174.6M562.58 1688.5v-163.1M563.18 1688.5v-163.1M563.77 1688.5v-163.4M564.37 1688.5v-177.6M564.97 1688.5v-174.7M565.56 1688.5v-170.8M566.16 1688.5v-153.5M566.76 1688.5v-153.5M567.35 1688.5v-161M567.95 1688.5v-172M568.55 1688.5v-176.1M569.14 1688.5v-176.1M569.74 1688.5v-177.8M570.34 1688.5v-175.9M570.94 1688.5v-170.9M571.53 1688.5v-170.9M572.13 1688.5v-176.6M572.73 1688.5v-194.9M573.32 1688.5v-194.9M573.92 1688.5v-196.5M574.52 1688.5v-187.1M575.11 1688.5v-167.2M575.71 1688.5v-167.2M576.31 1688.5v-173.1M576.90 1688.5v-184.3M577.50 1688.5v-184.3M578.10 1688.5v-212.8M578.70 1688.5v-212.2M579.29 1688.5v-179.2M579.89 1688.5v-179.2M580.49 1688.5v-208.5M581.08 1688.5v-178.1M581.68 1688.5v-178.1M582.28 1688.5v-190.6M582.87 1688.5v-190.6M583.47 1688.5v-198.4M584.07 1688.5v-198.4M584.66 1688.5v-199M585.26 1688.5v-216.3M585.86 1688.5v-211.7M586.45 1688.5v-211.5M587.05 1688.5v-201.1M587.65 1688.5v-201.1M588.25 1688.5v-191.2M588.84 1688.5v-191.2M589.44 1688.5v-203.8M590.04 1688.5v-214.1M590.63 1688.5v-200.4M591.23 1688.5v-197.7M591.83 1688.5v-197.7M592.42 1688.5v-224.6M593.02 1688.5v-204.4M593.62 1688.5v-204.4M594.21 1688.5v-227.7M594.81 1688.5v-227.7M595.41 1688.5v-230.4M596.01 1688.5v-217.7M596.60 1688.5v-217.5M597.20 1688.5v-212.9M597.80 1688.5v-212.9M598.39 1688.5v-228.6M598.99 1688.5v-230.6M599.59 1688.5v-215.3M600.18 1688.5v-215.3M600.78 1688.5v-225.1M601.38 1688.5v-224.4M601.97 1688.5v-224.4M602.57 1688.5v-223.9M603.17 1688.5v-223.9M603.76 1688.5v-242.7M604.36 1688.5v-242.7M604.96 1688.5v-234M605.56 1688.5v-234M606.15 1688.5v-233.1M606.75 1688.5v-233.1M607.35 1688.5v-234.2M607.94 1688.5v-241.4M608.54 1688.5v-280.7M609.14 1688.5v-260.6M609.73 1688.5v-234.7M610.33 1688.5v-234.7M610.93 1688.5v-269.5M611.52 1688.5v-268M612.12 1688.5v-268M612.72 1688.5v-255.6M613.32 1688.5v-255.6M613.91 1688.5v-261.5M614.51 1688.5v-283.1M615.11 1688.5v-252.1M615.70 1688.5v-210.2M616.30 1688.5v-210.2M616.90 1688.5v-202.7M617.49 1688.5v-202.1M618.09 1688.5v-202.1M618.69 1688.5v-208.3M619.28 1688.5v-212.2M619.88 1688.5v-226.5M620.48 1688.5v-212.6M621.08 1688.5v-212.6M621.67 1688.5v-223.9M622.27 1688.5v-223.9M622.87 1688.5v-245.5M623.46 1688.5v-218.6M624.06 1688.5v-218.6M624.66 1688.5v-234.6M625.25 1688.5v-234.6M625.85 1688.5v-258.1M626.45 1688.5v-270.7M627.04 1688.5v-265.7M627.64 1688.5v-265.7M628.24 1688.5v-275.8M628.83 1688.5v-272.6M629.43 1688.5v-262.5M630.03 1688.5v-262.5M630.63 1688.5v-264.7M631.22 1688.5v-264.7M631.82 1688.5v-269.2M632.42 1688.5v-276.4M633.01 1688.5v-273.4M633.61 1688.5v-273.4M634.21 1688.5v-278.5M634.80 1688.5v-278.5M635.40 1688.5v-294.5M636.00 1688.5v-275.1M636.59 1688.5v-275.1M637.19 1688.5v-282.6M637.79 1688.5v-282.6M638.39 1688.5v-291.6M638.98 1688.5v-291.6M639.58 1688.5v-320.7M640.18 1688.5v-305.1M640.77 1688.5v-305.1M641.37 1688.5v-306.2M641.97 1688.5v-306.2M642.56 1688.5v-311.1M643.16 1688.5v-304.8M643.76 1688.5v-304.8M644.35 1688.5v-315M644.95 1688.5v-315M645.55 1688.5v-349.1M646.14 1688.5v-349.1M646.74 1688.5v-333.2M647.34 1688.5v-333.2M647.94 1688.5v-357.8M648.53 1688.5v-354.9M649.13 1688.5v-346.5M649.73 1688.5v-346.5M650.32 1688.5v-348.9M650.92 1688.5v-382.4M651.52 1688.5v-384.4M652.11 1688.5v-361M652.71 1688.5v-355.1M653.31 1688.5v-340M653.90 1688.5v-340M654.50 1688.5v-358.9M655.10 1688.5v-319.3M655.70 1688.5v-319.3M656.29 1688.5v-314M656.89 1688.5v-312.8M657.49 1688.5v-291.8M658.08 1688.5v-291.8M658.68 1688.5v-275.4M659.28 1688.5v-275.4M659.87 1688.5v-288.6M660.47 1688.5v-269.2M661.07 1688.5v-269.2M661.66 1688.5v-245M662.26 1688.5v-245M662.86 1688.5v-270.7M663.45 1688.5v-250.1M664.05 1688.5v-241.9M664.65 1688.5v-239.9M665.25 1688.5v-238.6M665.84 1688.5v-204.3M666.44 1688.5v-204.3M667.04 1688.5v-206.6M667.63 1688.5v-206.6M668.23 1688.5v-210.7M668.83 1688.5v-210M669.42 1688.5v-206.9M670.02 1688.5v-180M670.62 1688.5v-178.9M671.21 1688.5v-171.2M671.81 1688.5v-167.5M672.41 1688.5v-167.5M673.01 1688.5v-157.6M673.60 1688.5v-157.6M674.20 1688.5v-166.8M674.80 1688.5v-150.6M675.39 1688.5v-150.6M675.99 1688.5v-154.6M676.59 1688.5v-144.8M677.18 1688.5v-144.8M677.78 1688.5v-126.1M678.38 1688.5v-126.1M678.97 1688.5v-123.9M679.57 1688.5v-123.9M680.17 1688.5v-115M680.77 1688.5v-115M681.36 1688.5v-119.2M681.96 1688.5v-116.7M682.56 1688.5v-108.4M683.15 1688.5v-105.1M683.75 1688.5v-105.1M684.35 1688.5v-94.8M684.94 1688.5v-94.8M685.54 1688.5v-91.4M686.14 1688.5v-91.4M686.73 1688.5v-83.3M687.33 1688.5v-81.4M687.93 1688.5v-79.7M688.52 1688.5v-79.7M689.12 1688.5v-81M689.72 1688.5v-78.4M690.32 1688.5v-78.2M690.91 1688.5v-69M691.51 1688.5v-69M692.11 1688.5v-73.4M692.70 1688.5v-72.3" fill="none" stroke="#000" stroke-width="0.5"/>
<path d="M125.65 1688.5v-.3M131.02 1688.5v-.4M132.21 1688.5v-.4M132.81 1688.5v-.3M133.41 1688.5v-.3M135.80 1688.5v-.3M136.39 1688.5v-.3M136.99 1688.5v-.3M137.59 1688.5v-.3M140.57 1688.5v-.3M141.17 1688.5v-.3M142.96 1688.5v-.4M143.56 1688.5v-.4M144.15 1688.5v-.3M144.75 1688.5v-.3M145.94 1688.5v-.4M146.54 1688.5v-.4M147.14 1688.5v-.5M147.73 1688.5v-.5M148.33 1688.5v-.7M150.12 1688.5v-.4M150.72 1688.5v-.6M151.31 1688.5v-.6M152.51 1688.5v-.6M153.11 1688.5v-.6M154.90 1688.5v-.7M156.69 1688.5v-.5M157.28 1688.5v-.9M157.88 1688.5v-.9M159.07 1688.5v-.6M159.67 1688.5v-.6M160.27 1688.5v-.4M161.46 1688.5v-.6M163.25 1688.5v-.9M166.24 1687.9v-.4M167.43 1688.5v-.9M168.03 1688.5v-.8M168.62 1688.2v-.5M169.22 1688.2v-.8M170.42 1688.5v-1.1M171.01 1688.5v-.6M172.80 1688v-.5M173.40 1688.5v-.9M175.79 1688.5v-1M176.38 1688.5v-1M176.98 1688.5v-.9M178.18 1688.5v-1M179.97 1688.5v-.7M180.56 1688.5v-.7M183.55 1688.5v-1.2M184.14 1687.6v-.3M184.74 1688.5v-.9M186.53 1688.5v-.8M187.13 1688.5v-.8M187.73 1688.5v-.7M188.32 1688.5v-.7M189.52 1688.5v-.5M190.71 1688v-.8M191.31 1687.6v-.4M191.90 1687.6v-.4M192.50 1688.5v-1.3M193.69 1688.5v-1.8M194.29 1688.5v-1.8M194.89 1688.5v-.6M195.49 1688.5v-.6M196.08 1688.5v-1.3M196.68 1687.2v-.4M197.28 1688.5v-1.6M199.66 1688.5v-1.4M200.26 1687.1v-.6M200.86 1688.5v-2M201.45 1688.5v-2.2M202.05 1686.8v-.5M202.65 1687.8v-1M203.25 1687.8v-1.4M203.84 1688.5v-2.1M207.42 1688.5v-2.2M208.02 1687.4v-1.2M208.62 1688.5v-1.1M211.60 1688.5v-.9M212.20 1688.5v-.9M212.80 1688.5v-1.1M213.39 1687.4v-1.1M213.99 1687.4v-1.1M214.59 1688.5v-1.1M215.18 1688.5v-1.5M215.78 1687v-1.1M216.38 1687.1v-1.1M216.97 1688.5v-1.4M218.17 1688.5v-1.3M218.76 1688.5v-1.3M219.36 1688.5v-2.8M219.96 1688.5v-2.8M221.15 1688.5v-2.8M221.75 1688.5v-2.8M222.94 1688.5v-2.9M224.14 1688.5v-2.8M225.33 1688.5v-2.2M225.93 1687.6v-1.3M226.52 1687.6v-.3M227.12 1687.2v-.7M227.72 1687.5v-.9M228.31 1688.5v-1M228.91 1688.5v-3.3M229.51 1688.5v-3.3M230.11 1688.5v-1.1M230.70 1688.5v-1.1M231.30 1688.5v-3.8M231.90 1686.8v-2.1M232.49 1688.5v-1.7M233.69 1688.5v-4.1M234.28 1686.3v-1.9M234.88 1686.6v-.3M235.48 1686.6v-1.8M236.07 1688.5v-3.7M236.67 1688.5v-3.6M237.87 1688.5v-3.9M238.46 1688.5v-3.3M239.66 1688.5v-3.1M241.45 1688.5v-2.4M242.04 1686.1v-.8M242.64 1687.1v-1.8M243.24 1687.1v-2.6M243.83 1688.5v-4M244.43 1688.5v-3.2M245.03 1688.5v-3.2M245.62 1688.5v-5.1M246.22 1685.3v-1.9M246.82 1687v-1.7M247.42 1688.5v-1.5M248.61 1688.5v-3.1M249.21 1688.5v-3.1M249.80 1688.5v-1.6M251.00 1687v-2.9M251.59 1686.4v-2.3M252.19 1688.5v-2.1M252.79 1688.5v-4.4M253.38 1688.5v-4.4M253.98 1688.5v-3.6M254.58 1688.5v-3.6M255.18 1688.5v-6.3M255.77 1685.1v-2.9M256.37 1685.1v-.6M256.97 1688.5v-4M258.16 1688.5v-2.1M258.76 1686.4v-4.4M259.35 1684.9v-2.9M259.95 1688.5v-3.6M260.55 1688.5v-2.5M261.14 1686v-2.9M261.74 1688.5v-5.4M262.94 1688.5v-2.3M264.13 1688.5v-2.3M264.73 1688.5v-2.1M265.32 1686.4v-1.6M265.92 1686.3v-1.5M266.52 1688.5v-2.2M267.11 1688.5v-2.3M268.31 1688.5v-2.1M268.90 1688.5v-3.8M269.50 1685.9v-1.2M270.10 1688.5v-2.6M270.69 1688.5v-6.6M271.29 1688.5v-6.6M271.89 1688.5v-2.4M272.49 1686.1v-2.9M273.08 1688.5v-5.3M273.68 1688.5v-6.4M274.28 1683.5v-1.4M274.87 1683.5v-3.6M275.47 1683.4v-3.4M276.07 1684.1v-.7M276.66 1684.1v-1.4M277.26 1683.7v-1M277.86 1683.7v-.4M278.45 1683.3v-.8M279.05 1685.5v-3M279.65 1685.5v-4M280.84 1681.5v-1.1M281.44 1688.5v-8M282.63 1688.5v-3.5M283.23 1685.8v-.8M283.83 1685.8v-4.9M284.42 1683.5v-2.6M285.02 1685.8v-2.3M286.21 1688.5v-2.7M286.81 1688.5v-8.6M287.41 1688.5v-8.6M288.60 1688.5v-2.5M289.20 1688.5v-2.5M289.80 1688.5v-3.7M290.39 1688.5v-3.7M290.99 1688.5v-8.1M291.59 1688.5v-8.1M292.18 1688.5v-12.9M292.78 1679.5v-4M293.38 1684.7v-5.2M293.97 1688.5v-3.8M294.57 1688.5v-4.3M295.17 1685.6v-1.3M295.76 1685.6v-1.6M296.36 1684v-5.3M296.96 1683.1v-4.4M297.56 1683.1v-8.3M298.15 1688.5v-13.7M298.75 1688.5v-3.3M299.35 1685.2v-1.3M299.94 1683.8v-4.8M300.54 1685.1v-6.1M301.14 1685.1v-4.8M301.73 1680.3v-4.2M302.33 1685.1v-9M302.93 1685.1v-4.6M303.52 1683.9v-3.4M304.12 1683.9v-4.4M304.72 1688.5v-9M305.31 1688.5v-15.1M305.91 1679v-5.6M306.51 1681.7v-2.7M307.11 1685.2v-3.5M307.70 1685.2v-3M308.30 1688.5v-6.4M308.90 1688.5v-4.9M310.09 1685v-1.4M310.69 1685v-11.6M311.28 1673.3v-1.8M311.88 1672.1v-.6M312.48 1681.8v-9.6M313.07 1681.8v-8.2M313.67 1676v-2.5M314.27 1676v-4.8M314.87 1680v-8.7M315.46 1680v-4.3M316.66 1688.5v-13.1M317.25 1688.5v-13M317.85 1675.5v-1.8M318.45 1688.5v-14.9M319.04 1688.5v-6M319.64 1688.5v-6M320.24 1688.5v-15.7M320.83 1679v-6.2M321.43 1683.7v-4.8M322.03 1688.5v-4.8M323.22 1688.5v-4.7M323.82 1683.8v-1.1M324.42 1682.7v-8.5M325.01 1674.2v-3.1M325.61 1688.5v-17.4M326.21 1688.5v-9.5M326.80 1679v-7M327.40 1688.5v-16.5M328.00 1688.5v-18.4M328.59 1683.3v-13.2M329.19 1684.2v-.9M329.79 1684.2v-1.9M330.38 1682.3v-13.8M330.98 1681.3v-12.8M331.58 1681.3v-4.9M332.77 1683.6v-6.8M333.37 1683.6v-9.4M334.56 1688.5v-14.2M336.35 1688.5v-18.2M336.95 1679.3v-8.9M337.55 1682v-2.8M338.14 1682.3v-.3M338.74 1683.2v-.9M339.34 1683.2v-15.1M339.94 1681.1v-12.9M340.53 1681.1v-3.8M341.13 1681.7v-4.4M341.73 1688.5v-6.8M342.32 1688.5v-6.2M342.92 1682.3v-5.2M343.52 1681.8v-4.6M344.11 1688.5v-6.7M344.71 1688.5v-7.1M345.31 1681.4v-18M345.90 1688.5v-25.1M346.50 1688.5v-22.7M347.10 1682.8v-17.1M347.69 1682.8v-2.2M348.29 1688.5v-7.8M348.89 1688.5v-15.9M349.49 1681.1v-8.5M350.08 1681.1v-17.2M350.68 1688.5v-24.6M351.87 1688.5v-26.9M352.47 1680.1v-18.5M353.07 1682.1v-2M353.66 1682.1v-11.2M354.26 1678.7v-7.8M354.86 1681.7v-2.9M355.45 1681.7v-7.4M356.05 1688.5v-14.3M356.65 1688.5v-6.8M357.25 1681.7v-.4M357.84 1681.3v-.6M358.44 1680.7v-9.3M359.04 1688.5v-17.1M360.23 1688.2v-20.8M360.83 1687.8v-20.3M361.42 1687.8v-21M362.02 1667.2v-.4M362.62 1667.2v-8.3M363.21 1672.9v-14M363.81 1672.9v-6.7M364.41 1667.4v-1.3M365.00 1675.7v-8.2M365.60 1675.7v-1.2M366.20 1675.9v-1.5M366.80 1675.9v-9.7M367.39 1666.2v-4.3M367.99 1661.9v-4.4M368.59 1657.5v-5.2M369.18 1675.5v-23.3M369.78 1675.5v-3.6M370.38 1672.5v-.5M370.97 1676v-3.6M371.57 1676v-2.7M372.17 1673.3v-18M372.76 1682.8v-27.5M373.96 1682.7v-34.7M374.56 1668.7v-20.7M375.15 1668.7v-11M375.75 1671.6v-13.8M376.35 1671.6v-2M376.94 1671.9v-2.3M377.54 1671.9v-16.3M378.14 1671.5v-15.9M378.73 1671.5v-16.8M379.33 1669.3v-14.6M379.93 1669.3v-11.4M380.52 1669.9v-12M381.12 1669.9v-2.5M381.72 1667.4v-26M382.32 1667v-25.6M382.91 1670.8v-3.8M383.51 1670.8v-1.9M384.11 1668.9v-24.3M384.70 1667.3v-22.8M385.30 1667.3v-18.9M385.90 1664.5v-16M386.49 1667.6v-3.1M387.09 1667.6v-12.7M387.69 1664.7v-9.9M388.28 1664.7v-1M388.88 1663.8v-.8M389.48 1663v-20M390.07 1662.9v-19.9M390.67 1662.9v-.8M391.87 1662v-27.1M392.46 1642v-7.1M393.06 1658.4v-16.4M393.66 1658.4v-18.6M394.25 1658.1v-18.2M394.85 1658.1v-3.7M395.45 1654.3v-8M396.04 1649v-2.6M396.64 1662.1v-13.1M397.24 1662.1v-2.7M397.83 1659.4v-.6M398.43 1658.8v-13M399.03 1656.2v-10.4M399.63 1656.8v-.6M400.22 1658.4v-1.6M400.82 1658.4v-5.7M401.42 1652.7v-5.7M402.01 1651.4v-4.4M402.61 1651.4v-10M403.21 1653.8v-12.5M403.80 1653.8v-1.6M404.40 1652.2v-11.6M405.00 1649v-8.3M405.59 1649v-8.8M406.19 1640.2v-7.2M406.79 1648.1v-15.2M407.38 1648.1v-31.6M407.98 1648.8v-32.3M408.58 1648.8v-1.2M409.18 1647.7v-18M409.77 1643.8v-14.1M410.37 1643.8v-10.5M410.97 1647.4v-14.2M411.56 1647.4v-.7M412.16 1646.7v-23.1M412.76 1645.8v-22.1M413.35 1645.8v-8.4M413.95 1637.3v-19.7M414.55 1643.9v-26.2M415.14 1643.9v-1.8M415.74 1642.1v-36.2M416.34 1614.8v-8.9M416.94 1641.3v-26.5M417.53 1641.3v-1.7M418.13 1639.6v-9.9M418.73 1641.1v-11.5M419.32 1641.1v-3.5M419.92 1637.7v-1.1M420.52 1636.5v-15.5M421.11 1631.9v-10.9M421.71 1631.9v-2.3M422.31 1629.7v-3.3M422.90 1638v-11.7M423.50 1638v-9.5M424.10 1632.3v-3.8M424.70 1632.3v-6.2M425.29 1630.1v-4.1M425.89 1632v-1.9M426.49 1632v-.5M427.08 1631.6v-24.3M427.68 1625.5v-18.3M428.28 1625.5v-3.1M428.87 1628.4v-6M429.47 1628.4v-3M430.07 1625.4v-.8M430.66 1629.4v-4.8M431.26 1629.4v-6.1M431.86 1625.2v-1.9M432.45 1625.2v-.9M433.05 1624.3v-20.5M433.65 1621.8v-18M434.25 1621.8v-1.2M434.84 1620.6v-12.1M435.44 1618v-9.5M436.04 1618v-1.9M436.63 1616.2v-29.8M437.23 1618.1v-31.8M437.83 1622v-3.9M438.42 1622v-3.1M439.02 1618.9v-19.8M439.62 1617.7v-18.7M440.21 1620.1v-2.3M440.81 1620.1v-2.9M441.41 1617.2v-2.7M442.01 1621.5v-7M442.60 1621.5v-9.3M443.20 1620.9v-8.7M443.80 1620.9v-5.4M444.39 1615.5v-9.6M444.99 1619.7v-13.8M445.59 1619.7v-5.3M446.18 1616.4v-2.1M446.78 1618.1v-1.7M447.38 1618.1v-21.2M447.97 1615.5v-18.6M448.57 1615.5v-8.3M449.17 1607.1v-5M449.76 1613v-10.9M450.36 1616.1v-3M450.96 1616.1v-9.7M451.56 1614.8v-8.4M452.15 1614.8v-8.3M452.75 1606.5v-13M453.35 1593.5v-1.1M453.94 1613.6v-21.2M454.54 1613.6v-4.5M455.14 1609.1v-33.6M455.73 1593.6v-18.1M456.33 1604.4v-10.8M456.93 1604.4v-18.2M457.52 1606.1v-19.9M458.12 1606.1v-15.8M458.72 1602.7v-12.4M459.32 1608.9v-6.2M460.51 1608.7v-1.8M461.11 1606.9v-9.2M461.70 1597.8v-17.2M462.30 1604.2v-23.7M462.90 1604.2v-15.4M463.49 1588.8v-1.4M464.09 1605.9v-18.4M464.69 1605.9v-9.7M465.28 1607.1v-10.9M465.88 1607.1v-34.3M466.48 1594.1v-21.3M467.07 1605.3v-11.3M467.67 1605.3v-10.8M468.27 1595.2v-.6M468.87 1604.8v-9.6M469.46 1604.8v-23.8M470.06 1601.1v-20.1M470.66 1601.1v-12.4M471.25 1598.6v-10M471.85 1598.6v-.6M472.45 1603v-5M473.04 1603v-4M473.64 1599v-.6M474.24 1598.3v-5.4M474.83 1592.9v-1.1M475.43 1591.8v-1.2M476.03 1590.6v-6.7M476.63 1587.8v-3.9M477.22 1587.8v-30M477.82 1595.3v-37.5M478.42 1598.9v-3.6M479.01 1598.9v-17.3M479.61 1581.5v-25.8M480.21 1596v-40.2M480.80 1596v-5.5M481.40 1590.4v-6.8M482.00 1588.2v-4.6M482.59 1592.3v-4M483.19 1592.3v-7.8M483.79 1590.2v-5.8M484.38 1595.5v-5.3M484.98 1595.5v-1.4M485.58 1594.2v-13.8M486.18 1593.2v-12.8M486.77 1593.2v-11M487.37 1582.3v-5.4M487.97 1576.8v-27.9M488.56 1588.8v-39.8M489.16 1588.8v-44.9M489.76 1591v-47.1M490.35 1591v-5.3M490.95 1585.8v-11.4M491.55 1583v-8.7M492.14 1583v-28.1M492.74 1577.8v-22.8M493.34 1577.8v-1.5M493.94 1582.5v-6.2M494.53 1583.7v-1.2M495.13 1588.8v-5.1M495.73 1588.8v-1.2M496.32 1587.6v-16.2M496.92 1571.4v-26.5M497.52 1571.7v-26.9M498.11 1571.7v-37.2M498.71 1581.7v-47.2M499.31 1581.7v-24.2M499.90 1583.4v-25.8M500.50 1583.4v-12.9M501.10 1577v-6.6M501.70 1577v-3.7M502.29 1573.3v-14.1M502.89 1576.3v-17.1M503.49 1576.3v-4.5M504.08 1577v-5.2M504.68 1582.1v-5.1M505.28 1582.1v-7.3M505.87 1574.8v-6.5M506.47 1574.1v-5.8M507.07 1574.1v-15.2M507.66 1571.6v-12.7M508.26 1571.6v-6.1M508.86 1580.1v-14.5M509.45 1580.1v-10.9M510.05 1570.9v-1.7M510.65 1573.2v-2.3M511.25 1573.2v-10.1M511.84 1577.2v-14M512.44 1577.2v-7.4M513.04 1572.5v-2.8M513.63 1572.5v-12.2M514.23 1563.2v-2.8M514.83 1573.3v-10.1M515.42 1574.3v-.9M516.02 1574.3v-40.9M516.62 1572.6v-39.2M517.21 1572.6v-14.2M517.81 1559v-.6M518.41 1559v-7.9M519.01 1566.9v-15.9M519.60 1566.9v-1.9M520.20 1565v-22M520.80 1543.1v-29.7M521.39 1572.8v-59.4M521.99 1572.8v-3.7M522.59 1569.1v-8M523.18 1569.1v-8M523.78 1569.1v-15.6M524.38 1570.2v-16.7M524.97 1570.2v-18.2M525.57 1566v-14M526.17 1566v-52.7M526.76 1525.8v-12.5M527.36 1555.8v-29.9M527.96 1555.8v-7.4M528.56 1557.5v-9.2M529.15 1557.5v-9.1M529.75 1548.5v-.6M530.35 1547.9v-3.9M530.94 1544v-40.9M531.54 1509.5v-6.5M532.14 1562.7v-53.1M532.73 1562.7v-8.1M533.33 1554.6v-36.9M533.93 1517.7v-19.3M534.52 1543.2v-44.9M535.12 1543.2v-34.5M535.72 1508.7v-4.9M536.32 1556.2v-52.3M536.91 1556.2v-42.9M537.51 1541.2v-27.9M538.11 1545.3v-4.1M538.70 1545.3v-.5M539.30 1546.5v-1.7M539.90 1546.5v-12.7M540.49 1533.8v-11.4M541.09 1522.4v-29.8M541.69 1537.6v-45M542.28 1537.6v-6M542.88 1531.6v-26.2M543.48 1510v-4.5M544.08 1546.2v-36.2M544.67 1546.2v-41.9M545.27 1530.3v-26M545.87 1540.8v-10.5M546.46 1540.8v-11.6M547.06 1529.3v-4.1M547.66 1529.2v-4.1M548.25 1529.2v-.6M548.85 1528.6v-8.7M549.45 1523.9v-4M550.04 1525.5v-1.6M550.64 1541.4v-15.9M551.24 1541.4v-40.1M551.83 1539.6v-38.3M552.43 1539.6v-8.5M553.03 1540.3v-9.2M553.63 1540.3v-54.2M554.22 1486.1v-12.3M554.82 1483.4v-9.6M555.42 1514.4v-31M556.01 1514.4v-35.4M556.61 1536.6v-57.6M557.21 1536.6v-17.7M557.80 1518.9v-35.6M558.40 1505.5v-22.2M559.00 1505.5v-11.1M559.59 1496.7v-2.3M560.19 1512.9v-16.2M560.79 1532.9v-19.9M561.39 1532.9v-29.3M561.98 1513.9v-10.3M562.58 1525.4v-11.5M563.18 1525.4v-.3M563.77 1525.1v-14.2M564.37 1510.9v-30.4M564.97 1513.8v-33.3M565.56 1517.7v-4M566.16 1535v-17.2M566.76 1535v-7.5M567.35 1527.5v-10.9M567.95 1516.5v-24.3M568.55 1512.4v-20.2M569.14 1512.4v-1.7M569.74 1510.7v-42.6M570.34 1512.6v-44.5M570.94 1517.6v-5.1M571.53 1517.6v-5.7M572.13 1511.9v-34.4M572.73 1493.6v-16.1M573.32 1493.6v-8.7M573.92 1492v-7M574.52 1501.4v-9.5M575.11 1521.3v-19.9M575.71 1521.3v-5.9M576.31 1515.4v-32.1M576.90 1504.2v-20.9M577.50 1504.2v-28.5M578.10 1475.7v-20.4M578.70 1476.3v-21M579.29 1509.3v-33M579.89 1509.3v-37.3M580.49 1480v-8.1M581.08 1510.4v-30.3M581.68 1510.4v-26.4M582.28 1497.9v-14M582.87 1497.9v-42.5M583.47 1490.1v-34.8M584.07 1490.1v-.6M584.66 1489.5v-17.3M585.26 1472.2v-34.6M585.86 1476.8v-39.2M587.05 1487.4v-10.4M587.65 1487.4v-24.8M588.25 1497.3v-34.8M588.84 1497.3v-12.6M589.44 1484.7v-19.9M590.04 1474.4v-9.6M590.63 1488.1v-13.7M591.23 1490.8v-2.7M591.83 1490.8v-29M592.42 1463.9v-2.1M593.02 1484.1v-20.2M593.62 1484.1v-37.7M594.21 1460.8v-14.4M594.81 1460.8v-15.4M595.41 1458.1v-12.8M596.01 1470.8v-12.7M597.20 1475.6v-4.6M597.80 1475.6v-15.8M598.39 1459.9v-1.9M598.99 1457.9v-35.1M599.59 1473.2v-50.4M600.18 1473.2v-25.2M600.78 1463.4v-15.4M601.38 1464.1v-.7M601.97 1464.1v-14.4M602.57 1464.6v-14.9M603.17 1464.6v-47.4M603.76 1445.8v-28.5M604.36 1445.8v-6.3M604.96 1454.5v-15M605.56 1454.5v-26.7M606.15 1455.4v-27.6M606.75 1455.4v-1.1M607.35 1454.3v-7.2M607.94 1447.1v-50.8M608.54 1407.8v-11.5M609.14 1427.9v-20.2M609.73 1453.8v-25.8M610.33 1453.8v-34.7M610.93 1419v-1.5M611.52 1420.5v-3M612.12 1420.5v-7.2M612.72 1432.9v-19.7M613.32 1432.9v-5.9M613.91 1427v-21.7M614.51 1405.4v-1.1M615.11 1436.4v-32.1M615.70 1478.3v-41.9M616.30 1478.3v-3.3M616.90 1485.8v-10.8M617.49 1486.4v-.6M618.09 1486.4v-6.2M618.69 1480.2v-3.9M619.28 1476.3v-14.3M619.88 1462v-8.8M620.48 1475.9v-22.7M621.08 1475.9v-17.9M621.67 1464.6v-6.6M622.27 1464.6v-21.5M622.87 1443v-8.4M623.46 1469.9v-35.3M624.06 1469.9v-35.8M624.66 1453.9v-19.8M625.25 1453.9v-23.5M625.85 1430.4v-12.5M626.45 1417.8v-2.5M627.04 1422.8v-7.4M627.64 1422.8v-10.1M628.24 1412.7v-.8M628.83 1415.9v-4M629.43 1426v-10.1M630.03 1426v-8.9M630.63 1423.8v-6.7M631.22 1423.8v-4.5M631.82 1419.3v-7.3M632.42 1412.1v-.5M633.01 1415.1v-3.6M633.61 1415.1v-34.3M634.21 1410v-29.2M634.80 1410v-36.4M635.40 1394v-20.4M636.00 1413.4v-19.5M636.59 1413.4v-8.9M637.19 1405.9v-1.4M637.79 1405.9v-26.2M638.39 1396.9v-17.2M638.98 1396.9v-40.2M639.58 1367.8v-11.1M640.18 1383.4v-15.5M640.77 1383.4v-20.1M641.37 1382.3v-19M641.97 1382.3v-4.9M642.56 1377.4v-14M643.16 1383.7v-20.2M643.76 1383.7v-48.5M644.35 1373.5v-38.3M644.95 1373.5v-43.1M645.55 1339.4v-9M646.14 1339.4v-9.3M646.74 1355.3v-25.2M647.34 1355.3v-47.3M647.94 1330.7v-22.7M648.53 1333.6v-2.9M649.13 1342v-8.4M649.73 1342v-2.4M650.32 1339.6v-33.5M650.92 1306.1v-7.9M651.52 1304.1v-5.9M652.11 1327.5v-23.4M652.71 1333.4v-5.9M653.31 1348.5v-15.1M653.90 1348.5v-23.9M654.50 1329.6v-5M655.10 1369.2v-39.5M655.70 1369.2v-28M656.29 1374.5v-33.4M656.89 1375.7v-1.2M657.49 1396.7v-21.1M658.08 1396.7v-30M658.68 1413.1v-46.4M659.28 1413.1v-21.9M659.87 1399.9v-8.8M660.47 1419.3v-19.4M661.07 1419.3v-19.6M661.66 1443.5v-43.9M662.26 1443.5v-33M662.86 1417.8v-7.3M663.45 1438.4v-20.6M664.05 1446.6v-8.2M664.65 1448.6v-2M665.25 1449.9v-1.3M665.84 1484.2v-34.4M666.44 1484.2v-12.4M667.04 1481.9v-10M667.63 1481.9v-4.1M668.23 1477.8v-7M668.83 1478.5v-7.7M669.42 1481.6v-3.1M670.02 1508.5v-26.9M670.62 1509.6v-1.1M671.21 1517.3v-7.7M671.81 1521v-3.7M672.41 1521v-2M673.01 1530.9v-11.8M673.60 1530.9v-9.2M674.20 1521.7v-.7M674.80 1537.9v-16.9M675.39 1537.9v-9.7M675.99 1533.9v-5.7M676.59 1543.7v-9.8M677.18 1543.7v-4.3M677.78 1562.4v-23.1M678.38 1562.4v-16.1M678.97 1564.6v-18.3M679.57 1564.6v-10.4M680.17 1573.5v-19.3M680.77 1573.5v-11.6M681.36 1569.3v-7.4M681.96 1571.8v-2.5M682.56 1580.1v-8.3M683.15 1583.4v-3.3M683.75 1583.4v-6.7M684.35 1593.7v-17M684.94 1593.7v-3.9M685.54 1597.1v-7.4M686.14 1597.1v-6.4M686.73 1605.2v-14.5M687.33 1607.1v-1.9M687.93 1608.8v-1.6M688.52 1608.8v-1.3M689.12 1607.5v-3.4M689.72 1610.1v-6M690.91 1619.5v-9.1M691.51 1619.5v-4.4M692.11 1615.1v-1.8M692.70 1616.2v-3M693.30 1688.5v-72.3" fill="none" stroke="#000" stroke-width="0.7"/>
<path d="M256.07 1688.5v-3.4M259.06 1688.5v-2.1M276.96 1688.5v-4.4M279.95 1688.5v-3M300.84 1688.5v-3.4M303.82 1688.5v-4.6M306.81 1688.5v-3.3M309.79 1688.5v-3.5M312.78 1688.5v-6.7M315.76 1688.5v-8.5M324.71 1688.5v-5.8M330.68 1688.5v-6.2M333.67 1688.5v-4.9M339.64 1688.5v-5.3M354.56 1688.5v-6.8M357.54 1688.5v-6.8M363.51 1688.5v-15.6M366.50 1688.5v-12.6M369.48 1688.5v-13M372.47 1688.5v-5.7M375.45 1688.5v-16.9M378.44 1688.5v-17M381.42 1688.5v-18.6M384.40 1688.5v-19.6M387.39 1688.5v-20.9M390.37 1688.5v-25.6M393.36 1688.5v-30.1M396.34 1688.5v-26.4M399.33 1688.5v-31.7M402.31 1688.5v-37.1M405.30 1688.5v-39.5M408.28 1688.5v-39.7M411.26 1688.5v-41.1M414.25 1688.5v-44.6M417.23 1688.5v-47.2M420.22 1688.5v-50.8M423.20 1688.5v-50.5M426.19 1688.5v-56.5M429.17 1688.5v-60.1M432.16 1688.5v-63.3M435.14 1688.5v-67.9M438.13 1688.5v-66.5M441.11 1688.5v-68.4M444.09 1688.5v-67.6M447.08 1688.5v-70.4M450.06 1688.5v-72.4M453.05 1688.5v-82M456.03 1688.5v-84.1M459.02 1688.5v-79.6M462.00 1688.5v-84.3M464.99 1688.5v-81.4M467.97 1688.5v-83.2M470.95 1688.5v-87.4M473.94 1688.5v-89.5M476.92 1688.5v-100.7M479.91 1688.5v-92.5M482.89 1688.5v-96.2M485.88 1688.5v-94.3M488.86 1688.5v-99.7M491.85 1688.5v-105.5M494.83 1688.5v-99.7M497.82 1688.5v-116.8M500.80 1688.5v-105.1M503.78 1688.5v-111.5M506.77 1688.5v-114.4M509.75 1688.5v-108.4M512.74 1688.5v-111.3M515.72 1688.5v-114.2M518.71 1688.5v-121.6M521.69 1688.5v-115.7M524.68 1688.5v-118.3M527.66 1688.5v-132.7M530.64 1688.5v-140.6M533.63 1688.5v-133.9M536.61 1688.5v-132.3M539.60 1688.5v-142M542.58 1688.5v-150.9M545.57 1688.5v-147.7M548.55 1688.5v-159.3M551.54 1688.5v-147.1M554.52 1688.5v-202.4M557.51 1688.5v-151.9M560.49 1688.5v-155.6M563.47 1688.5v-163.1M566.46 1688.5v-153.5M569.44 1688.5v-176.1M572.43 1688.5v-176.6M575.41 1688.5v-167.2M578.40 1688.5v-212.2M581.38 1688.5v-178.1M584.37 1688.5v-198.4M587.35 1688.5v-201.1M590.33 1688.5v-200.4M593.32 1688.5v-204.4M596.30 1688.5v-217.5M599.29 1688.5v-215.3M602.27 1688.5v-223.9M605.26 1688.5v-234M608.24 1688.5v-241.4M611.23 1688.5v-268M614.21 1688.5v-261.5M617.20 1688.5v-202.1M620.18 1688.5v-212.6M623.16 1688.5v-218.6M626.15 1688.5v-258.1M629.13 1688.5v-262.5M632.12 1688.5v-269.2M635.10 1688.5v-278.5M638.09 1688.5v-282.6M641.07 1688.5v-305.1M644.06 1688.5v-304.8M647.04 1688.5v-333.2M650.02 1688.5v-346.5M653.01 1688.5v-340M655.99 1688.5v-314M658.98 1688.5v-275.4M661.96 1688.5v-245M664.95 1688.5v-238.6M667.93 1688.5v-206.6M670.92 1688.5v-171.2M673.90 1688.5v-157.6M676.89 1688.5v-144.8M679.87 1688.5v-115M682.85 1688.5v-105.1M685.84 1688.5v-91.4M688.82 1688.5v-79.7M691.81 1688.5v-69" fill="none" stroke="#848484" stroke-width="0.72"/>
<path d="M60.7 1282.5 V1700.2 H730" fill="none" stroke="#000" stroke-width="1.1"/>
<path d="M96.4 1700.2v-4.6M245.6 1700.2v-4.6M394.9 1700.2v-4.6M544.1 1700.2v-4.6M693.3 1700.2v-4.6M60.7 1688.5h4.6M60.7 1599.4h4.6M60.7 1510.3h4.6M60.7 1421.2h4.6M60.7 1332.1h4.6" fill="none" stroke="#000" stroke-width="1.1"/>
<g font-family='"DejaVu Sans","Liberation Sans",sans-serif' font-size="28.5" fill="#000">
<text x="96.4" y="1732" text-anchor="middle">0.00</text>
<text x="245.6" y="1732" text-anchor="middle">0.25</text>
<text x="394.9" y="1732" text-anchor="middle">0.50</text>
<text x="544.1" y="1732" text-anchor="middle">0.75</text>
<text x="693.3" y="1732" text-anchor="middle">1.00</text>
<text x="51.5" y="1699.1" text-anchor="end">0</text>
<text x="51.5" y="1610" text-anchor="end">1</text>
<text x="51.5" y="1520.9" text-anchor="end">2</text>
<text x="51.5" y="1431.8" text-anchor="end">3</text>
<text x="51.5" y="1342.7" text-anchor="end">4</text>
</g>
<path d="M692.8 1688.5 L692.8 1329.5 L600.5 1329.5 M614.5 1322.6 L600.5 1329.5 L614.5 1336.4" fill="none" stroke="#0000FF" stroke-width="1.9" stroke-linejoin="miter"/>
<path d="M614.6 1688.5 L614.6 1426.5 L474.5 1426.5 M488.5 1419.6 L474.5 1426.5 L488.5 1433.4" fill="none" stroke="#0000FF" stroke-width="1.9" stroke-linejoin="miter"/>
<path d="M395.6 1688.5 L395.6 1537.5 L361 1537.5 M375 1530.6 L361 1537.5 L375 1544.4" fill="none" stroke="#0000FF" stroke-width="1.9" stroke-linejoin="miter"/>
<path d="M245 1688.5 L245 1615.5 L220.5 1615.5 M234.5 1608.6 L220.5 1615.5 L234.5 1622.4" fill="none" stroke="#0000FF" stroke-width="1.9" stroke-linejoin="miter"/>
<rect x="510.4" y="1288" width="87.8" height="87.8" fill="#fff"/>
<g transform="translate(515 1292.6) scale(.1)"><path d="M0 91l86-21l13 45l65 39l-37 98l-64-21l-20-44l56-72M0 169l43 18M0 291l63-60M0 334l22 27l-21 86l-1 0M0 560l103-12l-3-69l-99-32M0 633l20 17l93-16l-1 82l-52 34l-42-17l2-83M0 741l18-8M22 361l86-4l26-95l-7-10M51 0l41 53l-6 17M60 750l9 36M92 53l53-25l80 61l-15 50l-46 15M100 479l52-55l87 79l58-26l12-24l-61-100l-95 59l-1 12M103 548l20 25l99-27l43 80l-50 39l-96-38l4-54M108 357l45 55M112 716l59 32l-4 38M113 634l6-7M134 262l86 14l45-76l-55-61M145 28l10-28M171 748l38-25l69 38l0 25M209 723l6-58M220 276l33 60l91-25l15-40l-29-76l-65 5M222 546l17-43M225 89l39-26l78 35l-3 85l138-11l4-9l-81-98l-10-1l-48 34M248 353l5-17M263 0l7 6l10-6M264 63l6-57M265 626l43 8l19-12l119 41l8 9l89-31l40 14l57-86l-46-75l-10-1l-63 48l22 100M278 761l44-38l67 23l56-31l61 71M297 477l58 76l83-19l8 129M308 634l14 89M309 453l46-22l26-66l69-3l27 64l-39 50l-83-45M327 622l28-69M330 195l9-12M344 311l37 54M359 271l110-7l9 53l94 34l46-23l-4-66l-129-27l-16 29M364 0l26 64M384 786l5-40M400 65l65-45l61 28l-19 97l-26 18M438 476l5 52l78 13M438 534l5-6M445 715l9-43M450 362l28-45M463 0l2 20M477 172l8 63M477 426l60 2l47 65M507 145l110 11l37-86l-84-45l0-25M526 48l44-23M537 428l35-77M545 786l59-62l69 62M583 655l24 38l-3 31M594 494l54-41l-12-112l-18-13M607 693l108-22l48 79l23-9M614 262l27-47l-24-59M636 341l108 3l30-29l12 4M640 569l67 7l28-109l-87-14M641 215l116 1l23-30l-28-89l-89-31l22-66M654 70l9-4M707 576l28 32l-20 63M713 786l42-18l9 18M735 467l14-8l-5-115M735 608l51-6M749 459l37 9M752 97l34-36M755 768l8-18M757 216l17 99M780 186l6 0" fill="none" stroke="#000" stroke-width="15" stroke-linecap="round"/></g>
<polygon points="558.8,1340.2 562.7,1335.2 560,1328.8 553.1,1329.1 550.5,1335.7" fill="#0000FF" fill-opacity="0.5" stroke="#0000FF" stroke-width="1.3" stroke-linejoin="round"/>
<rect x="512.7" y="1290.3" width="83.2" height="83.2" fill="none" stroke="#0000FF" stroke-width="4.6" stroke-linejoin="round"/>
<rect x="384.4" y="1384.4" width="87.8" height="87.8" fill="#fff"/>
<g transform="translate(389 1389) scale(.1)"><path d="M0 20l9-20M0 83l56 55l-56 54M0 249l36 59l4 1l83-78l-59-93l-8 0M0 337l36-29M0 454l101 23l4 78l-105 32M0 685l11 12l-11 28M11 697l45 3l44 86M40 309l79 71l-3 78l-15 19M56 700l60-52l56 35l0 71l61 32M64 138l53-43l94 26l31-26l94 53l65-81l0-23l133-31l3-3l-3-10M105 555l6 7l5 86M111 562l140 11l21 69l110-12l15-12l99 74l50-29l-43-113l-90 19l-16 49M114 0l4 3l8-3M116 458l139-1l20-102l-87-24l-69 49M116 786l56-32M117 95l1-92M123 231l39 6l26 94M162 237l45-33l4-83M172 683l97-35l-20 138M202 0l46 67l-6 28M207 204l62 25l27 112l2 0l108-108l-66-52l-71 48M248 67l70-47l-9-20M251 573l32-71l83 0l47 67M255 457l28 45M269 648l1-1l81 110l-19 29M270 647l2-5M275 355l21-14M298 341l117 55l51-114l-42-47l49-89l-72-79M318 20l74 12l4-32M336 148l4 33M351 757l35-18l80 19l30-66M366 502l54-92l-5-14M382 630l4 109M392 32l9 12M406 233l18 2M420 410l83 29l71-51l69 55l3 88l-126-4l-17-88M466 282l46 3l65-74l76 41l6 48l66 42l61-68M466 758l6 18l22 10M467 786l5-10M473 146l66-10l-5-123M503 550l17-23M512 285l64 77l83-62M537 10l98-6l1-4M539 136l27 17l70-35l0-114l84 13l20 102l-28 27l-76-28M546 663l10 2l104-97l27 31l0 102l-72 24l-59-60M566 153l11 58M574 388l2-26M604 786l11-61M635 4l1 0M643 443l94-54l-12-47M646 531l11 13l3 24M653 252l60-56l73 49M657 544l126-53l3 3M687 599l99 12M687 701l26 14l73-37M712 146l1 50M713 715l26 71M720 17l24-17M737 389l41 28l8-4M740 119l46-2M766 0l20 9M776 786l10-6M778 417l5 74" fill="none" stroke="#000" stroke-width="15" stroke-linecap="round"/></g>
<polygon points="418.6,1423.1 416.5,1424.5 414.5,1434.7 417.3,1439.2 425.6,1439.2 431,1430 430.5,1428.6 418.8,1423.1" fill="#0000FF" fill-opacity="0.5" stroke="#0000FF" stroke-width="1.3" stroke-linejoin="round"/>
<rect x="386.7" y="1386.7" width="83.2" height="83.2" fill="none" stroke="#0000FF" stroke-width="4.6" stroke-linejoin="round"/>
<rect x="270.8" y="1492.8" width="87.8" height="87.8" fill="#fff"/>
<g transform="translate(275.4 1497.4) scale(.1)"><path d="M0 21l6 1l42 89l-48 27M0 229l55 15l14-12l10-107l-31-14M0 331l11 2l37-24l47 32l0 68l-53 24l-27-17l-4-83M0 419l15-3M0 529l45-32l64 30l11 33l-27 53l-93-19M0 702l82 5l25-48l-14-46M6 22l24-22M42 433l3 64M48 309l7-65M69 232l100 19l0 63l32 37l-65 77l17 34l55 10l36-48l-31-70l-12-3M79 125l34-9l89 64l60-57l-7-41l-94-48l-48 82M80 786l18-34l103 25l0 9M82 707l16 45M95 341l74-27M95 409l41 19M107 659l107 5l10 88l-23 25M109 527l44-65M120 560l87 8l23-48l-22-48M154 0l1 1l2-1M155 1l6 33M169 251l32-34l107 53l-6 40l36 55l-34 65l-60-6M201 217l1-37M207 568l30 65l-23 31M213 354l89-44M224 752l111 10l5 24M230 520l81-4l14-46l-21-40M237 633l34-3l86 66l45-69l-40-61l-28-8l-63 72M255 82l54-74l-9-8M262 123l78 32l58-85l58-3l33 98l88 30l1 3l-29 92l-89 32l-15 44l104 77l14-5l41-83l-55-65M308 270l57-49l37 9l87-65M309 8l19-4l3-4M311 516l23 42M325 470l86-10l19-84l-92-11M328 4l70 66M335 762l25-38l129 20l20 42M340 155l25 66M357 696l3 28M362 566l74-62l-25-44M402 230l58 92M402 627l57-5l49 46l78-32l9-46l-88-74l-22 7l-26 99M430 376l15-10M436 504l49 19M456 67l26-32l106 0l22 110l116-17l13-20l47-3M475 0l7 35M489 744l19-76M507 516l42-73M544 786l113-39l3-33l95-71l-20-61l51-66M563 438l89 52l4 55l79 37M577 195l33-50M578 198l137 78l19-6l52 78M586 636l74 78M588 35l24-28l106 30l21 71M595 590l61-45M604 355l57-5l49 82l-58 58M612 7l1-7M657 747l25 39M661 350l54-74M710 432l49 4l27 37M718 37l26-37M726 128l26 118l34-6M734 270l18-24M755 643l31 13M759 436l27-48M445 366L524 486" fill="none" stroke="#000" stroke-width="15" stroke-linecap="round"/></g>
<polygon points="319.9,1534 330.3,1541.7 327.8,1546" fill="#0000FF" fill-opacity="0.5" stroke="#0000FF" stroke-width="1.3" stroke-linejoin="round"/>
<rect x="273.1" y="1495.1" width="83.2" height="83.2" fill="none" stroke="#0000FF" stroke-width="4.6" stroke-linejoin="round"/>
<rect x="130.2" y="1572.8" width="87.8" height="87.8" fill="#fff"/>
<g transform="translate(134.8 1577.4) scale(.1)"><path d="M0 9l18-9M0 174l14 0l100-118l67 89l-88 82l-79-53M0 365l9 4l2 6l-11 39M0 521l37 31l-1 34l-36 32M0 705l77 47l5 21l-4 9l-10 4M9 369l101-84l60 26l6 116l-48 33l-10 39l83 95l68-48l-30-102l-63-17M11 375l117 85M24 0l88 28l6-5l4-23M36 586l76 67l80-28l9-31M37 552l81-53M77 752l35-99M78 782l1 4M82 773l126-4l10 17M93 227l17 58M112 28l2 28M118 23l116-17l2-6M170 311l49-20l20-134l106 33l11 19l-72 103l-65-21M181 145l56 9l37-101l70-8l43 46l-42 99M192 625l47 67l-31 77M234 6l40 47M237 154l2 3M239 444l71-47l63 48l2 7l-52 103l18 20l12 111l118-48l44 43l5 38l-94 42l1 25M239 692l112-2l4 10l-33 86M269 546l54 9M284 312l27 42l110-39l-30-90l-35-16M310 397l1-43M341 575l116-18l3-53l29-26l107 19l-10 67l-115 11l-14-18M344 45l16-45M351 690l2-4M355 700l71 61M373 445l76-70l44 31l-4 72M375 452l85 52M387 91l78-3l19 32l-10 72l-83 33M421 315l16 10l12 50M437 325l72-37l76 53l5-2l11-12l9-125l0-1l-96 27l-5 60M461 0l26 39l72-29l4-10M465 88l22-49M471 575l0 63M474 192l40 36M484 120l120 14l20-33l-65-91M493 406l65-23l42 109l75-25l45 35l-5 94l50 28l14 74l-72 43l-57-43l-5-73l70-29M515 681l94-75l36 19M520 719l36 34l-19 33M556 753l10 1l84-56M558 383l27-42M566 754l28 32M586 564l23 42M590 339l90 81l-5 47M596 497l4-5M601 327l97-25l34 64l54 4M604 134l6 67M610 202l108 29l34-75l34 6M624 101l73-24l38 22l17 57M680 420l52-54M695 0l2 77M698 302l21-68l67 31M704 786l3-45M718 231l1 3M720 502l66-17M735 99l51-30M765 624l21-12M779 698l7 4M373 445L473 392" fill="none" stroke="#000" stroke-width="15" stroke-linecap="round"/></g>
<polygon points="172.1,1621.9 179.7,1614.9 182.1,1616.6" fill="#0000FF" fill-opacity="0.5" stroke="#0000FF" stroke-width="1.3" stroke-linejoin="round"/>
<rect x="132.5" y="1575.1" width="83.2" height="83.2" fill="none" stroke="#0000FF" stroke-width="4.6" stroke-linejoin="round"/>
<rect x="82.3" y="1295.9" width="166.3" height="61.4" fill="#fff" stroke="#000" stroke-width="0.9"/>
<rect x="90.7" y="1315" width="44.3" height="23.9" rx="1" fill="#888" stroke="#000" stroke-width="2.5" stroke-linejoin="round"/>
<g font-family='"Liberation Serif","DejaVu Serif",serif' font-size="27.5" fill="#000"><text transform="translate(142.5 1336) scale(1.2 1)" font-style="italic">N</text><text transform="translate(172.1 1336) scale(1.42 1)">=</text><text x="201.4" y="1336">169</text></g>
<text x="395.3" y="1766.5" text-anchor="middle" font-family='"Liberation Serif","DejaVu Serif",serif' font-style="italic" font-size="28">A</text>
<text transform="translate(16 1503.3) rotate(-90)" font-family='"DejaVu Serif","Liberation Serif",serif' font-style="italic" font-size="33">ν</text>
<g transform="translate(775.7 31) scale(.1)"><path d="M0 44l19 19l89-18l13-45M0 123l19-60M0 179l15 18l94-6l40-89l84 6l36 86l-104 70l-56-73M0 265l15-68M0 285l42 49l119-24l7 10l104 32l58-52l69 23l22 94l-33 26l-101-6l-20 26l43 104l80-7l-2-117M0 423l24-9l18-80M0 568l62-10l34-90l52-12l42 24l-1 117l-62 28l-65-67M0 688l19 19l-19 60M0 823l15 18l-15 68M0 929l42 49l119-24l4-46l-56-73l40-89l84 6l36 86l-104 70M0 1067l24-9l72 54l-34 90l-62 10M0 1332l19 19l-19 60M0 1467l15 18l-15 68M0 1573l42 49l119-24l4-46l-56-73l-94 6M0 1711l24-9l18-80M0 1856l62-10l65 67l62-28l1-117l-42-24l-52 12l-34 90M0 1976l19 19l89-18l19-64M0 2055l19-60M0 2111l15 18l-15 68M0 2217l42 49l-18 80l-24 9M0 2500l62-10l65 67l62-28l1-117l-42-24l-52 12l-34 90M0 2620l19 19l-19 60M0 2755l15 18l94-6l40-89l-41-57l-89 18M0 2841l15-68M0 2861l42 49l-18 80l72 54l52-12l20-136l-7-10l-119 24M0 2999l24-9M0 3144l62-10l65 67l-19 64l-89 18l-19-19M0 3343l19-60M0 3399l15 18l-15 68M0 3505l42 49l-18 80l-24 9M0 3788l62-10l65 67l-19 64l-89 18l-19-19M0 3987l19-60M0 4043l15 18l-15 68M0 4149l5 6M15 841l94-6M15 2129l94-6l40-89l84 6l36 86l-104 70l-56-73M15 3417l94-6l56 73l104-70l-36-86l-84-6l-40 89M15 4061l94-6l56 73l104-70l-36-86l-84-6l-40 89M19 707l89-18l19-64M19 1351l89-18l41 57l-40 89M24 414l72 54M24 1058l18-80M24 1702l72 54M24 2346l72 54M24 3634l72 54l52-12l42 24l-1 117l-62 28M42 2266l119-24l7 10l-20 136M42 3554l119-24l7 10l-20 136M62 1202l65 67l-19 64M62 3134l34-90M62 3778l34-90M96 1112l52-12l20-136l-7-10M108 45l41 57M108 689l41 57M108 1977l41 57M108 2621l19-64M108 3265l41 57M108 3909l41 57M109 2767l56 73l-4 46M127 1269l62-28l74 26l21 64l84 19l33 56l-11 44l94 93l-85 68l-69-23l-21-89l81-49M127 3201l62-28l1-117l-42-24M148 456l20-136M148 1100l42 24l77-17l20-26l101 6l33-26l-22-94l85-68l-94-93l11-44l-33-56l72-110l1 0l85 82l-16 59l-109 25M148 1744l20-136l-7-10M149 1390l84 6l36 86l-104 70M149 2678l84 6l36 86l-104 70M161 310l4-46M161 2242l4-46M161 3530l4-46M163 4155l2-27M168 964l104 32l15 85M168 1608l104 32l15 85l-20 26l43 104l-47 56l-74-26M168 2252l104 32l58-52l69 23l85-68l61 53l96-27l18-84l-28-34l32-100l-60-59l-77 30l-16 59l42 63l79 7M168 2896l104 32l15 85l-20 26l-77 17M168 3540l104 32l15 85l-20 26l-77 17M189 597l74 26l21 64l84 19M189 1241l1-117M189 2529l74 26l47-56l80-7l50 36l-72 110l-84-19l-21-64M189 3173l74 26l47-56l80-7l50 36l-72 110l-84-19l-21-64M189 3817l74 26l47-56l80-7l50 36l-72 110l-84-19l-21-64M190 480l77-17M190 1768l77-17M190 2412l77-17l43 104M233 108l51-65l-14-43M233 752l51-65M233 1396l51-65M233 2040l51-65l-21-64M233 2684l51-65M233 3328l51-65M233 3972l51-65M263 623l47-56M263 1267l47-56l80-7l-2-117M267 1107l43 104M267 2395l20-26l101 6l33-26l-22-94M267 3039l43 104M267 3683l43 104M269 194l40 17l21 89M269 838l40 17l81-49M269 1482l40 17M269 2126l40 17l21 89M269 2770l40 17l21 89l-58 52M269 3414l40 17l21 89l-58 52M269 4058l40 17l81-49l11-44l109-25l42 63l-68 99l-94-93M272 352l15 85M272 996l58-52l69 23M272 1640l58-52M272 2284l15 85M284 43l84 19l33 56l109-25l16-59l-35-34M284 1975l84 19l72-110l-50-36l-80 7M287 1725l101 6l2 117M287 3013l101 6l33-26l-22-94l-69-23M287 3657l101 6l33-26l-22-94l-69-23M309 211l81-49l94 93l61 53l96-27l45 53l-18 80l-51 19l-78-43l6-82M309 855l21 89M309 2143l81-49l94 93l68-99M309 2787l81-49l11-44l109-25l42 63l-68 99l-94-93M309 3431l81-49l11-44l-33-56M309 4075l19 80M368 62l40-62M368 1350l72-110l-50-36M368 1994l33 56l109-25M368 2638l33 56M368 3926l33 56M388 1731l33-26l57 12l30 101l84 7l28 34l-17 77M388 2375l2 117M388 3019l2 117M388 3663l2 117M390 162l11-44M390 560l50 36M390 2094l11-44M390 3382l94 93l-85 68M399 323l85-68l68-99l79 7l28 34l-18 84M399 1611l22 94M399 2899l85-68l61 53l96-27l45 53l119-24l4-46l-56-73l40-89l-41-57l-89 18l-32 100l28 34l94-6M401 1406l109-25l42 63l-68 99l61 53l-6 82l78 43l-25 104M401 3338l109-25l42 63l79 7l32-100l-60-59l-77 30l-16 59M421 417l57 12l61-39M421 1061l57 12l30 101l84 7l25-104l-78-43l-61 39M421 2349l57 12l30 101l84 7l25-104l-78-43l-61 39M421 2993l57 12l61-39l6-82M421 3637l57 12l61-39l6-82l96-27l45 53l119-24l4-46l104-70l-36-86l-84-6l-40 89l56 73M439 4155l45-36l41 36M440 1240l1 0l85 82l-16 59M440 1884l1 0l85 82M440 2528l1 0l85 82l-16 59M440 3172l1 0l67-66l-30-101M440 3816l1 0l85 82l-16 59M441 596l67-66l84 7l25-104M441 1240l67-66M441 1884l67-66M441 2528l67-66M441 3172l85 82M441 3816l67-66l-30-101M478 429l30 101M478 1717l61-39M508 3106l84 7l25-104l51-19l72 54l52-12l20-136l104 32l58-52l69 23l85-68l-94-93l-81 49l21 89M508 3750l84 7l25-104l-78-43M510 93l42 63M510 737l42 63l-68 99l61 53l96-27l18-84l94-6l56 73l-4 46l-119 24l-45-53M526 34l77-30l1-4M526 678l77-30l60 59l89-18l19-64l-65-67l-86 13l-17 77M526 1322l77-30l17-77l86-13l65 67l-19 64l-89 18l-60-59M526 2610l77-30l60 59M526 3898l77-30l60 59l89-18l19-64l-65-67l-86 13l-17 77M539 1034l6-82M539 2322l6-82M539 2966l78 43M545 1596l96-27l45 53l-18 80l-51 19M545 3528l-61-53l68-99M552 800l79 7l32-100M552 1444l79 7l28 34l-18 84M552 2732l79 7M552 4020l79 7l28 34l-18 84l-36 10M592 537l28 34M592 1181l28 34M592 2469l28 34l-17 77M592 3113l28 34l86-13l34-90M592 3757l28 34M603 4l60 59l89-18l13-45M603 3224l17-77M617 1077l51-19l18-80M617 2365l51-19l72 54l52-12l20-136l104 32l58-52l-21-89l-40-17l-104 70l-4 46l7 10M617 3653l51-19l18-80M620 1859l86-13l65 67l62-28l74 26l21 64l-51 65l-84-6l-41-57l19-64M620 2503l86-13l65 67l-19 64M631 163l32-100M631 807l28 34M631 1451l32-100M631 3383l28 34l94-6M631 4027l32-100M641 2213l45 53l119-24M641 2857l18-84M641 3501l18-84M641 4145l8 10M659 197l94-6l40-89l84 6l36 86l-104 70l-56-73M659 1485l94-6l56 73l-4 46l-119 24M659 2129l94-6l56 73M659 4061l94-6l40-89l84 6l36 86l-104 70l-56-73M663 1995l89-18M663 3283l89-18l19-64l62-28l1-117l77-17l20-26l-15-85M668 414l72 54l52-12l20-136l-7-10l-119 24M668 1058l72 54l52-12l20-136l104 32l58-52l69 23l22 94l-33 26l-101-6l-15-85M668 1702l72 54l-34 90M668 2346l18-80M668 2990l18-80M668 3634l72 54l52-12l42 24l77-17l20-26l-15-85l-104-32l-20 136M706 558l34-90M706 1202l34-90M706 2490l34-90M706 3134l65 67M706 3778l34-90M740 1756l52-12l42 24l77-17l20-26l101 6l2 117l-80 7l-43-104M752 45l41 57M752 689l41 57l84 6l36 86l40 17l81-49l11-44l109-25l42 63l-68 99l-94-93M752 1333l41 57l84 6l36 86l40 17l21 89l69 23l22 94l-33 26M752 3265l41 57M752 3909l41 57M753 835l40-89M753 1479l40-89M753 2123l40-89M771 625l62-28l74 26l47-56l-43-104l-77 17l-1 117M771 1269l62-28l1-117l77-17l43 104l-47 56l-74-26M771 2557l62-28l1-117l77-17l20-26l-15-85M771 3845l62-28l74 26l21 64l84 19l72-110l-50-36l-80 7l-47 56M792 456l42 24M792 1100l42 24M792 1744l20-136l-7-10M792 2388l42 24M792 3032l42 24M793 2678l84 6l36 86l-104 70M805 310l4-46M805 954l7 10M805 2886l7 10M805 3530l7 10M807 4155l2-27M809 908l104-70M809 1552l104-70M812 320l104 32l58-52l69 23l22 94l-33 26l-101-6l-15-85M812 1608l104 32l15 85M833 1885l1-117M833 2529l74 26l47-56l80-7l50 36l-72 110l-84-19l-21-64M833 3173l74 26l47-56l80-7l50 36l-72 110l-84-19l-21-64M833 3817l1-117M877 108l51-65l84 19l40-62M877 752l51-65l84 19l33 56M877 1396l51-65l-21-64M877 2040l36 86M877 2684l51-65M877 3328l51-65M877 3972l51-65M907 623l21 64M907 1911l47-56M911 463l20-26M911 1107l20-26M911 2395l43 104M911 3039l43 104M911 3683l43 104M913 194l40 17l81-49l94 93l68-99l-42-63l-109 25l-11 44M913 2770l40 17M913 3414l40 17l21 89l69 23l85-68l61 53l96-27l45 53l-18 80l72 54l52-12l20-136l-7-10l-119 24M913 4058l40 17l81-49l11-44l109-25l16-59l-85-82l-1 0M914 0l14 43M916 1640l58-52M916 3572l58-52M928 1331l84 19l72-110l1 0l85 82l-16 59l-109 25l-33-56M928 1975l84 19l33 56l-11 44l-81 49M931 2369l101 6l33-26l-22-94l-69-23M931 3013l101 6l33-26l-22-94M931 3657l101 6l2 117M953 211l21 89M953 855l21 89M953 1499l81-49l94 93l61 53l96-27l45 53l119-24l7 10l-20 136l-52 12l-72-54l18-80M953 3431l81-49l94 93l68-99l79 7l28 34l94-6l40-89l-41-57l-89 18l-32 100M953 4075l19 80M954 567l80-7l50 36l-72 110M954 1211l80-7l-2-117M1012 62l33 56M1012 1994l72-110l1 0l85 82l-16 59l-109 25M1012 2638l33 56l-11 44M1012 3282l33 56l109-25l16-59l77-30l17-77l-28-34l-84-7l-30-101l61-39l78 43l-25 104M1012 3926l33 56M1032 443l2 117M1032 2375l2 117M1032 3019l2 117M1032 3663l33-26l57 12l61-39l78 43l-25 104l-84-7l-30-101M1034 1204l50 36M1034 1450l11-44M1034 1848l50 36M1034 2094l94 93l-85 68M1034 3382l11-44M1034 4026l94 93l-45 36M1043 323l85-68l61 53l96-27l18-84l-28-34l-79-7M1043 967l85-68l61 53l-6 82l78 43l51-19l18-80l-45-53l-96 27M1043 1611l85-68l68-99l79 7l32-100l89-18l19-64l-65-67l-86 13l-28-34l25-104M1043 3543l22 94M1045 2694l109-25l42 63l79 7l32-100l-60-59l-77 30l-16 59M1065 417l57 12l61-39l78 43l-25 104l28 34l-17 77l-77 30l-16 59M1065 1061l57 12l61-39M1065 1705l57 12l30 101l84 7l25-104l-78-43l-61 39M1065 2349l57 12l61-39l78 43l51-19l18-80l119-24l4-46l-56-73l-94 6l-18 84l45 53M1065 2993l57 12M1084 596l1 0l85 82M1084 2528l1 0l67-66l-30-101M1084 3172l1 0l67-66M1085 596l67-66l84 7M1085 1240l67-66l84 7M1085 1884l67-66M1085 2528l85 82M1085 3172l85 82M1085 3816l67-66M1122 429l30 101M1122 1073l30 101M1135 0l35 34l-16 59M1152 2462l84 7l25-104M1154 1381l42 63M1154 2025l42 63l-68 99l61 53l96-27M1154 3313l42 63M1154 3957l42 63l79 7l32-100l-60-59l17-77l86-13l65 67l-19 64l-89 18M1169 4155l-41-36l68-99M1170 34l77-30l60 59l-32 100M1170 1322l77-30l17-77M1170 1966l77-30l60 59l-32 100l28 34M1170 3898l77-30M1183 390l6-82M1183 1678l6-82M1183 2322l6-82M1183 2966l6-82l96-27l18-84l94-6l56 73l-4 46l-119 24l-45-53M1183 3610l6-82M1189 2884l-61-53l68-99M1196 800l79 7l28 34l94-6l40-89l84 6l36 86l-104 70l-56-73M1196 2088l79 7M1236 1825l28 34l-17 77M1236 2469l28 34l86-13l34-90l52-12l20-136l-7-10M1236 3757l28 34M1247 4l1-4M1247 648l60 59l-32 100M1247 1292l60 59M1247 2580l17-77M1247 3224l60 59M1249 4155l36-10l18-84l94-6l56 73l-2 27M1261 433l51-19l72 54l-34 90l-86 13M1261 1721l51-19M1261 3009l51-19l18-80M1261 3653l51-19M1264 1859l86-13l65 67l62-28l74 26l21 64l-51 65l-84-6l-41-57l19-64M1264 3147l86-13l65 67l62-28l1-117l-42-24l-52 12l-34 90M1275 1451l28 34l94-6l40-89l-41-57M1275 2739l28 34M1275 4027l28 34M1285 281l45 53l119-24l4-46l-56-73l-94 6M1285 925l18-84M1285 1569l18-84M1285 3501l18-84M1285 4145l8 10M1307 63l89-18l41 57l-40 89M1307 707l89-18l41 57M1307 1995l89-18M1307 2639l89-18l41 57l-40 89M1312 414l18-80M1312 1058l72 54l-34 90M1312 2346l72 54M1312 2990l72 54M1330 978l119-24l4-46M1350 558l65 67l-19 64M1350 1846l34-90M1350 2490l65 67l62-28l1-117l-42-24M1350 3778l34-90M1384 468l52-12l20-136l104 32l15 85l-20 26l-77 17l-42-24M1384 1112l52-12l20-136l104 32l15 85l-20 26l-77 17l-42-24M1396 45l13-45M1396 2621l19-64M1396 3265l19-64M1396 3909l41 57l-40 89M1397 1479l56 73l104-70l-36-86l-84-6M1397 2123l40-89M1397 3411l56 73l104-70l-36-86l-84-6M1415 625l62-28l74 26l21 64l84 19l33 56l-11 44l-81 49l21 89l69 23l85-68l-94-93M1415 1269l62-28l1-117M1415 3845l62-28l1-117l-42-24M1436 1744l42 24l77-17l20-26l101 6l2 117l-80 7l-43-104M1436 3032l20-136l-7-10M1437 102l84 6l51-65l-14-43M1437 2678l84 6l36 86l-104 70M1437 3966l84 6l36 86l-104 70M1449 310l7 10M1449 954l7 10M1449 1598l4-46M1449 3530l4-46M1453 264l104-70l-36-86M1453 2196l104-70l40 17l21 89l-58 52l-104-32M1456 1608l104 32l15 85M1456 2896l104 32l58-52l69 23l85-68l-94-93l-81 49l21 89M1456 3540l104 32l58-52l-21-89l-40-17M1477 597l1-117M1477 1241l74 26l21 64l-51 65M1477 1885l1-117M1477 2529l74 26l47-56l-43-104l-77 17M1477 3173l74 26l21 64l-51 65M1477 3817l74 26l21 64l-51 65M1478 3056l77-17l43 104l80-7l50 36l-72 110l33 56l-11 44l-81 49M1478 3700l77-17l20-26l101 6l2 117l-80 7l-43-104M1521 752l51-65M1521 2040l36 86M1521 2684l51-65l-21-64M1551 623l47-56l80-7l50 36l1 0l85 82l-16 59l-109 25M1551 1267l47-56l-43-104M1551 1911l47-56M1551 3199l47-56M1551 3843l47-56M1555 463l43 104M1555 2395l20-26l-15-85M1555 3039l20-26l101 6l33-26l-22-94M1557 194l40 17l81-49l11-44l-33-56l40-62M1557 838l40 17M1557 1482l40 17l21 89l69 23l22 94l-33 26M1557 2770l40 17M1557 4058l40 17l81-49l11-44l-33-56l72-110l1 0l85 82l-16 59l-109 25M1560 352l58-52l69 23l85-68l68-99l-42-63l-109 25M1560 996l58-52M1560 1640l58-52M1560 2928l15 85M1560 3572l15 85M1572 43l84 19M1572 1331l84 19l72-110l-50-36l-2-117l33-26l-22-94M1572 1975l84 19l33 56l-11 44l-81 49M1572 2619l84 19l72-110l1 0l85 82l-16 59l-109 25l-33-56M1572 3263l84 19M1572 3907l84 19M1575 437l101 6l2 117M1575 1081l101 6M1575 2369l101 6l2 117l-80 7M1597 211l21 89M1597 1499l81-49l94 93l-85 68M1597 4075l19 80M1598 1211l80-7M1618 2232l69 23l22 94l-33 26M1618 3520l69 23l85-68l-94-93M1656 706l72-110M1656 1350l33 56l-11 44M1656 1994l72-110l-50-36M1676 443l33-26l57 12l61-39l78 43l-25 104l28 34l86-13l34-90l-72-54l-51 19M1676 3019l2 117M1676 3663l33-26l-22-94M1678 162l94 93l61 53l96-27l18-84l-28-34l32-100l-60-59l1-4M1678 2094l94 93l-85 68M1678 2492l50 36M1678 2738l11-44M1678 3780l50 36M1678 4026l94 93l-45 36M1687 323l22 94M1689 1406l109-25l16-59l-85-82l67-66l84 7l25-104l-78-43l-61 39l30 101M1689 2050l109-25l16-59l-85-82l-1 0M1689 3338l109-25l42 63l-68 99l61 53l96-27l45 53l-18 80l72 54l-34 90l65 67l62-28l74 26l21 64l-51 65l36 86l-104 70l-56-73l40-89l84 6M1709 1061l57 12M1709 1705l57 12l30 101l-67 66M1709 2349l57 12l30 101l-67 66M1709 2993l57 12l61-39l6-82l-61-53l68-99l79 7l28 34l-18 84l-96 27M1709 3637l57 12l61-39l78 43l-25 104l-84-7l-30-101M1728 1240l1 0M1728 3172l1 0l85 82l77-30l17-77l-28-34l-84-7l-67 66M1729 596l67-66l84 7M1729 3816l67-66M1766 429l30 101M1766 1717l61-39l78 43l51-19l18-80l-45-53l-96 27l-6 82M1766 2361l61-39l6-82l-61-53l68-99l-42-63M1766 3005l30 101M1779 0l35 34l-16 59M1796 1818l84 7l28 34l-17 77l-77 30M1796 2462l84 7l28 34l-17 77l60 59l-32 100M1798 737l42 63l-68 99l61 53l-6 82M1798 1381l42 63l79 7l32-100l89-18l19-64l-65-67l-86 13l-17 77l60 59M1798 2669l42 63M1798 3313l16-59M1798 3957l42 63l79 7l28 34l94-6M1813 4155l-41-36l68-99M1814 34l77-30M1814 678l77-30l60 59l-32 100l-79-7M1814 1322l77-30M1814 2610l77-30M1814 3898l77-30l60 59l89-18l41 57M1827 390l6-82M1827 2322l78 43l-25 104M1827 2966l78 43l51-19l18-80l-45-53M1827 3610l6-82M1833 952l96-27l18-84l-28-34M1833 1596l-61-53l68-99M1833 2240l96-27l18-84l-28-34l-79-7M1840 156l79 7M1840 3376l79 7l28 34l94-6l40-89l-41-57l-89 18l-32 100M1880 1181l28 34M1880 1825l25-104M1880 3113l25-104M1880 3757l28 34l86-13M1891 648l17-77M1891 1936l60 59l-32 100M1891 3224l60 59M1891 3868l17-77M1893 4155l36-10l18-84M1905 1077l51-19l18-80l-45-53M1905 2365l51-19l72 54l-34 90l65 67l-19 64l-89 18M1905 3653l51-19M1908 1859l86-13l65 67l-19 64l-89 18M1908 2503l86-13M1908 3147l86-13l65 67l62-28l1-117l77-17l43 104l-47 56l-74-26M1919 1451l28 34l94-6l40-89l84 6l36 86l-104 70l-56-73M1919 4027l32-100M1929 281l45 53l119-24l4-46l104-70l-36-86l-84-6l-40 89l56 73M1929 1569l18-84M1929 2213l45 53l-18 80M1929 3501l18-84M1929 4145l8 10M1947 197l94-6M1947 841l94-6l40-89l-41-57l-89 18M1947 2129l94-6l40-89l84 6l36 86l-104 70l-56-73M1947 2773l94-6l56 73l104-70l-36-86l-84-6l-40 89M1951 63l89-18l13-45M1956 414l18-80M1956 1058l72 54l-34 90M1956 1702l72 54l52-12l20-136l-7-10l4-46M1956 2990l72 54l52-12l42 24M1974 978l119-24l4-46l104-70l40 17l21 89l-58 52l-104-32l-7-10M1974 1622l119-24M1974 2266l119-24l7 10l-20 136l-52 12M1974 2910l119-24l4-46M1974 3554l119-24l7 10l-20 136l42 24l-1 117M1994 558l65 67l-19 64M1994 1846l34-90M1994 3134l34-90M2028 468l52-12l20-136l-7-10M2028 1112l52-12l42 24l77-17l43 104l-47 56l-74-26l1-117M2028 3688l52-12M2040 45l41 57M2040 1333l41 57M2040 1977l41 57M2040 2621l41 57M2040 3265l19-64M2040 3909l19-64M2041 835l56 73M2041 3411l56 73l-4 46M2059 625l62-28l1-117l-42-24M2059 1269l62-28M2059 1913l62-28l1-117l-42-24M2059 2557l62-28l1-117l77-17l43 104l-47 56l-74-26M2080 1100l20-136M2080 2388l42 24M2080 3032l20-136l104 32l58-52l69 23l22 94l-33 26l-101-6l-15-85M2081 746l84 6l51-65l-21-64l-74-26M2081 3322l84 6l51-65l84 19l33 56l-11 44l-81 49l-40-17l-36-86M2093 2242l4-46M2093 2886l7 10M2095 4155l2-27M2097 3484l104-70M2100 320l104 32l58-52l-21-89l81-49l11-44l-33-56l-84-19l-14-43M2100 1608l104 32l58-52l-21-89l-40-17M2100 2252l104 32l15 85l101 6l33-26l57 12l61-39l6-82l-61-53l68-99l-42-63l16-59l77-30l60 59l-32 100l-79-7M2100 3540l104 32l15 85l101 6l2 117l-80 7l-47 56M2121 1885l74 26l47-56l80-7l-2-117l-101-6l-20 26l-77 17M2122 480l77-17l43 104l80-7l-2-117l-101-6l-20 26M2122 3700l77-17l43 104M2165 108l51-65M2165 752l36 86M2165 1396l51-65l84 19l33 56l109-25l16-59l-85-82l-1 0l-72 110M2165 2040l51-65l84 19l72-110l1 0l85 82M2165 2684l51-65l84 19l33 56l-11 44l94 93l-85 68M2195 623l47-56M2195 1267l21 64M2195 1911l21 64M2195 2555l21 64M2195 3199l21 64M2199 1107l20-26l101 6l2 117l-80 7M2199 1751l43 104M2199 2395l20-26M2199 3039l20-26M2199 3683l20-26M2201 194l40 17M2201 2126l40 17l81-49l11-44l109-25M2201 2770l40 17l21 89M2201 4058l40 17l81-49l94 93l-45 36M2204 352l15 85M2204 996l15 85M2204 1640l15 85M2204 2284l58-52l69 23l22 94M2204 3572l58-52l69 23l22 94l57 12l30 101l-67 66l85 82l-16 59l-109 25l-33-56l72-110l1 0M2216 687l84 19l33 56l109-25l42 63l-68 99l-94-93l11-44M2216 3907l84 19M2241 855l81-49M2241 1499l81-49l11-44M2241 2143l21 89M2241 2787l81-49M2241 3431l21 89M2241 4075l19 80M2242 2499l80-7l50 36l-72 110M2242 3143l80-7l-2-117M2262 300l69 23l85-68l68-99l79 7l32-100l89-18l41 57l-40 89l-94 6l-28-34M2262 944l69 23l85-68l61 53l96-27l45 53l-18 80l-51 19l-25 104l-84-7l-30-101l61-39l78 43M2262 1588l69 23l22 94l-33 26M2300 62l40-62M2300 706l72-110l1 0l85 82l77-30l17-77l-28-34l-84-7l-67 66M2300 1994l33 56M2300 3282l72-110l1 0l67-66l84 7l25-104l-78-43l-61 39l30 101M2320 443l33-26l57 12l30 101M2320 1087l33-26l57 12M2320 2375l2 117M2320 3663l33-26M2322 162l94 93l61 53l96-27l18-84M2322 560l50 36M2322 1204l50 36M2322 1450l94 93l-85 68M2322 1848l50 36M2322 2094l94 93l-85 68M2322 3136l50 36M2322 3382l94 93l-85 68M2322 3780l50 36M2322 4026l11-44M2331 323l22 94M2331 967l22 94M2333 118l109-25l16-59l77-30l60 59M2333 2694l109-25l42 63l-68 99l61 53l96-27l18-84l-28-34l-79-7M2333 3338l109-25l42 63l-68 99l61 53l-6 82l-61 39M2353 1705l57 12l30 101l-67 66M2353 2993l57 12M2372 2528l1 0l85 82l-16 59M2373 1240l67-66M2373 2528l67-66l84 7l28 34l86-13l34-90l52-12l42 24l-1 117l-62 28l-65-67M2373 3172l85 82l77-30l17-77l-28-34M2410 429l61-39l78 43l-25 104M2410 1717l61-39l78 43l51-19l18-80l-45-53l-96 27l-6 82M2410 2361l30 101M2423 0l35 34M2440 1818l84 7l28 34l-17 77M2440 3750l84 7l25-104l-78-43M2442 93l42 63M2442 737l16-59M2442 1381l42 63l-68 99l61 53M2442 3313l16-59M2442 3957l42 63l-68 99l41 36M2458 1322l77-30l17-77l86-13l65 67l-19 64l-89 18l-60-59M2458 2610l77-30l17-77M2458 3898l77-30l60 59l-32 100l28 34l94-6l40-89l84 6l36 86l-104 70l-56-73M2471 390l6-82M2471 1034l6-82M2471 2322l78 43l51-19l18-80l-45-53l18-84l94-6l56 73l-4 46l-119 24M2471 2966l6-82M2477 2240l96-27M2477 3528l96-27l45 53l-18 80l-51 19M2484 800l79 7l28 34l-18 84M2484 1444l79 7l28 34l94-6l40-89l84 6l51-65l-21-64l47-56l-43-104l-77 17l-1 117l74 26M2484 3376l79 7l32-100l-60-59M2484 4020l79 7M2524 1181l28 34M2524 1825l25-104M2524 2469l25-104M2524 3757l28 34l-17 77M2535 4l1-4M2535 648l60 59l-32 100M2535 2580l60 59l89-18l19-64M2537 4155l36-10l8 10M2549 433l51-19l18-80l-45-53M2549 3009l51-19l72 54l-34 90l65 67l62-28l1-117l-42-24l-52 12M2552 571l86-13l34-90l-72-54M2552 1859l86-13l34-90l52-12l42 24l-1 117l-62 28l-65-67M2552 3147l86-13M2552 3791l86-13l65 67l-19 64l41 57M2563 1451l32-100M2563 2095l28 34M2563 2739l32-100M2563 3383l28 34l-18 84M2573 1569l18-84M2573 2857l45 53l119-24l7 10l104 32l58-52l-21-89l-40-17l-36-86l-84-6l-40 89l56 73l104-70M2573 4145l18-84M2591 841l94-6l56 73l-4 46l-119 24M2591 2773l94-6M2591 3417l94-6l40-89l84 6l36 86l-104 70l-56-73M2595 707l89-18l41 57l-40 89M2595 1995l89-18l41 57l-40 89M2595 3283l89-18l19-64M2595 3927l89-18M2600 1058l72 54l52-12l20-136l-7-10M2600 1702l72 54M2600 2346l72 54M2600 2990l18-80M2600 3634l72 54l-34 90M2618 334l119-24l4-46l-56-73M2618 1622l119-24l7 10l104 32l58-52l69 23l22 94l-33 26l-101-6l-15-85M2618 3554l119-24l7 10l-20 136l42 24l77-17l20-26l-15-85l-104-32M2638 558l65 67l-19 64M2638 1202l34-90M2672 468l52-12l20-136l-7-10M2672 3688l52-12M2684 45l13-45M2684 1333l41 57M2684 1977l19-64M2684 2621l41 57M2684 3265l41 57M2685 1479l56 73l104-70l40 17l81-49l11-44l109-25l42 63l-68 99l-94-93M2703 625l62-28l1-117l77-17l43 104l-47 56l-74-26M2703 1269l62-28M2703 3845l62-28l74 26l47-56l80-7l50 36l-72 110l-84-19l-21-64M2724 456l42 24M2724 1100l42 24M2724 1744l20-136M2724 2388l20-136l-7-10M2724 3032l20-136M2725 102l84 6l36 86l-104 70M2725 746l84 6l36 86l-104 70M2725 2034l84 6l36 86l40 17l81-49l11-44l-33-56l-84-19l-51 65M2737 1598l4-46M2737 2886l4-46M2737 3530l4-46M2739 4155l2-27M2741 2196l104-70M2744 320l104 32l58-52l-21-89l-40-17M2744 964l104 32l15 85l101 6l2 117l-80 7M2744 2252l104 32l15 85l-20 26l43 104l80-7l-2-117l-101-6M2765 1885l74 26l47-56l-43-104l-77 17M2765 2529l74 26l21 64l-51 65M2765 3173l74 26l47-56l-43-104l20-26l101 6l2 117l-80 7M2765 3817l1-117M2766 2412l77-17M2766 3056l77-17M2809 108l51-65l84 19l33 56l-11 44l-81 49M2809 752l51-65l-21-64M2809 1396l36 86M2809 3328l51-65l84 19l72-110l1 0l67-66l-30-101l61-39l6-82l-61-53l-85 68l22 94l57 12M2809 3972l51-65M2839 1911l21 64M2839 2555l47-56M2839 3199l21 64M2843 463l20-26l101 6l33-26l-22-94l85-68l-94-93M2843 1107l20-26M2843 1751l20-26M2843 3683l43 104M2845 838l40 17l21 89l69 23l22 94l57 12l61-39l78 43l-25 104l-84-7l-30-101M2845 3414l40 17l81-49l94 93l61 53l-6 82l78 43l51-19l18-80l-45-53l-96 27M2845 4058l40 17l19 80M2846 0l14 43M2848 352l15 85M2848 996l58-52M2848 2284l58-52l69 23l22 94l57 12l30 101l84 7l25-104l-78-43l-61 39M2848 2928l15 85M2848 3572l58-52l-21-89M2860 687l84 19l72-110l1 0l85 82l-16 59l-109 25l-33-56M2860 1331l84 19l72-110l-50-36M2860 2619l84 19l33 56l109-25l42 63l79 7l28 34l-18 84l45 53l119-24l7 10l104 32l15 85l101 6l33-26l-22-94l85-68l-94-93l-81 49l21 89l69 23M2863 3657l101 6l2 117M2885 855l81-49l94 93l61 53l-6 82M2885 1499l21 89M2885 2143l21 89M2885 2787l81-49l94 93l68-99M2885 4075l81-49l94 93l-45 36M2886 567l80-7l-2-117M2886 1855l80-7l-2-117M2906 300l69 23M2906 2876l69 23M2906 3520l69 23l85-68l68-99l-42-63l16-59l77-30l60 59l-32 100l-79-7M2944 62l40-62M2944 1350l33 56M2944 1994l72-110l1 0l67-66l84 7l28 34l86-13l34-90l-72-54l-51 19l-25 104M2944 2638l72-110l1 0l67-66M2944 3282l33 56l109-25M2944 3926l33 56l-11 44M2964 1087l33-26M2964 2375l33-26M2964 3019l33-26M2964 3663l33-26l57 12l61-39M2966 560l50 36M2966 806l11-44M2966 1848l50 36M2966 2094l94 93l61 53l96-27l18-84l94-6l40-89l-41-57l-89 18l-32 100l28 34M2966 2492l50 36M2966 2738l11-44M2966 3136l50 36M2966 3382l11-44M2975 967l85-68l68-99l79 7l28 34l94-6l40-89l-41-57l-89 18l-32 100M2975 1611l85-68l61 53l96-27l18-84l94-6l56 73l-4 46l-119 24l-45-53M2975 2255l85-68l68-99l79 7M2975 3543l22 94M2977 118l109-25l16-59l77-30l60 59l-32 100l-79-7l-42-63M2977 2050l109-25l42 63M2977 3982l109-25l42 63l79 7l32-100l-60-59l-77 30l-16 59M2997 417l57 12l30 101l84 7l25-104l-78-43l-61 39M2997 1705l57 12l30 101M3016 1240l1 0l67-66M3016 3816l1 0l67-66l-30-101M3017 596l67-66M3017 1240l85 82l77-30l17-77l86-13l34-90l-72-54l-51 19M3017 1884l85 82l77-30l17-77M3017 2528l85 82l-16 59M3017 3172l85 82M3017 3816l85 82M3054 1717l61-39l78 43M3067 0l35 34M3084 3106l84 7l25-104l51-19l18-80M3084 3750l84 7l25-104M3086 737l42 63M3086 1381l16-59M3086 2025l16-59M3101 4155l-41-36l68-99M3102 678l77-30l60 59M3102 2610l77-30l60 59l-32 100M3115 390l6-82l96-27l18-84l94-6l56 73l-4 46l-119 24l-45-53M3115 1678l6-82M3115 2322l6-82M3115 2966l78 43M3121 308l-61-53l68-99M3121 952l96-27l45 53l-18 80M3121 2884l96-27M3128 1444l79 7l28 34M3168 537l28 34l86-13l34-90l52-12l42 24l-1 117l-62 28l-65-67M3168 1181l28 34M3168 2469l28 34l86-13l34-90l-72-54l18-80l-45-53M3168 3113l28 34l-17 77M3168 3757l28 34l86-13l34-90l-72-54M3179 4l1-4M3179 648l17-77M3179 1292l60 59l89-18l41 57l84 6l51-65l-21-64l-74-26l-62 28l-19 64M3179 1936l60 59M3179 2580l17-77M3179 3868l17-77M3181 4155l36-10l8 10M3193 433l51-19l18-80M3193 2365l51-19M3196 3147l86-13l34-90l52-12l42 24l-1 117l-62 28l-65-67M3207 163l28 34M3207 1451l32-100M3207 3383l28 34l-18 84M3207 4027l28 34l94-6l40-89l84 6l36 86l40 17l19 80M3217 925l18-84M3217 4145l18-84M3235 2773l94-6l56 73l-4 46M3235 3417l94-6l56 73l-4 46l-119 24M3239 63l89-18l13-45M3239 2639l89-18l41 57l-40 89M3239 3283l89-18l41 57l-40 89M3239 3927l89-18l19-64l-65-67M3244 414l72 54M3244 1702l18-80M3244 2990l72 54M3262 978l119-24l7 10l-20 136l-52 12M3262 2266l119-24l4-46l-56-73M3282 1202l65 67M3282 1846l65 67l62-28l74 26l47-56l-43-104l-77 17l-1 117M3282 2490l65 67l-19 64M3316 1756l52-12l42 24M3316 2400l52-12l20-136l-7-10M3316 3688l52-12l20-136l-7-10M3328 45l41 57l84 6l36 86l-104 70M3328 689l19-64M3328 1977l19-64M3328 3265l19-64M3328 3909l41 57M3329 191l40-89M3329 835l56 73l-4 46M3329 1479l40-89M3329 4055l56 73l104-70M3347 2557l62-28l74 26l21 64l-51 65l36 86l40 17M3347 3845l62-28l1-117l77-17l43 104l-47 56l-74-26M3368 456l20-136l-7-10M3368 1100l42 24l-1 117M3368 1744l20-136l104 32l58-52l69 23l22 94l-33 26l-101-6l-15-85M3368 2388l42 24l-1 117M3368 3032l20-136M3368 3676l42 24M3369 746l84 6l51-65l84 19l33 56l-11 44l-81 49l-40-17l-36-86M3369 2034l84 6l51-65l84 19l72-110l-50-36l-80 7M3369 2678l84 6M3369 3322l84 6l36 86l-104 70M3381 1598l7 10M3383 4155l2-27M3385 908l104-70M3385 1552l104-70l40 17l81-49l94 93l68-99l-42-63l-109 25l-11 44M3385 2196l104-70l-36-86M3385 2840l104-70M3388 320l104 32l58-52l69 23l22 94l-33 26l-101-6l-15-85M3388 964l104 32l15 85l101 6l33-26l57 12l30 101l-67 66l-1 0l-72 110l33 56M3388 2252l104 32l58-52l-21-89l81-49l11-44l-33-56M3388 3540l104 32l58-52l-21-89l81-49l94 93l-85 68l-69-23M3409 597l74 26l47-56l-43-104l-77 17M3409 3173l74 26l21 64l84 19l72-110l-50-36l-80 7l-47 56M3410 1124l77-17l43 104l-47 56M3410 2412l77-17l43 104l80-7l-2-117l-101-6l-20 26M3410 3056l77-17l20-26M3453 108l51-65l84 19l33 56l-11 44l94 93l68-99l-42-63l-109 25M3453 1396l36 86M3453 3328l51-65M3453 3972l51-65l84 19l72-110l1 0l85 82l-16 59l-109 25l-33-56M3483 623l21 64M3483 1911l21 64M3483 2555l47-56M3483 3843l21 64M3487 463l20-26M3487 1107l20-26M3487 1751l20-26M3487 3039l43 104M3487 3683l20-26l101 6l33-26l-22-94M3489 194l40 17l21 89M3489 2126l40 17M3489 3414l40 17M3490 0l14 43M3492 996l58-52l69 23l22 94M3492 2284l15 85M3492 2928l58-52M3492 3572l15 85M3504 1331l84 19M3504 2619l84 19l33 56l-11 44M3529 211l81-49M3529 855l21 89M3529 1499l21 89M3529 4075l81-49l94 93l41 36M3530 567l80-7l-2-117M3530 1211l80-7l50 36M3530 3787l80-7l-2-117M3550 2232l69 23l85-68l68-99l-42-63l16-59l77-30l60 59l-32 100l-79-7M3588 62l40-62M3588 706l72-110l-50-36M3588 2638l72-110l1 0l85 82l77-30l60 59l-32 100l28 34l-18 84l-96 27l-61-53l68-99l79 7M3588 3282l33 56l-11 44M3608 1087l2 117M3608 1731l2 117M3608 2375l33-26l-22-94M3608 3019l2 117M3610 806l94 93l-85 68M3610 2094l94 93l61 53l96-27l18-84l-28-34M3610 2492l50 36M3610 3780l50 36M3610 4026l11-44M3619 323l85-68l61 53l96-27l45 53l-18 80l-51 19l-78-43l6-82M3619 1611l85-68l61 53l96-27l18-84l94-6l40-89l-41-57l-89 18l-32 100l28 34M3621 762l109-25l42 63l79 7l32-100l-60-59l-77 30l-16 59M3621 2050l109-25M3621 2694l109-25l42 63M3621 3338l109-25l42 63l-68 99l61 53l-6 82l-61 39l30 101l84 7l28 34l-17 77l60 59l89-18l19-64l-65-67l-86 13M3641 417l57 12l30 101l-67 66l-1 0M3641 1705l57 12l30 101l84 7l25-104l-78-43l-61 39M3641 2349l57 12l61-39l6-82M3641 2993l57 12l61-39l78 43l-25 104l-84-7l-30-101M3641 3637l57 12M3659 4155l45-36l68-99l79 7l28 34l-18 84l-36 10M3660 1884l1 0l67-66M3660 3172l1 0l85 82l77-30l17-77l86-13l34-90l52-12l42 24l77-17l20-26l-15-85l58-52l69 23l22 94l-33 26l-101-6M3661 596l85 82M3661 1240l85 82l77-30l60 59M3661 1884l85 82M3661 2528l67-66l84 7l25-104l51-19l72 54l-34 90l-86 13l-28-34M3661 3172l67-66M3661 3816l67-66M3698 429l61-39M3698 1073l61-39l78 43l-25 104l-84-7M3698 2361l30 101M3711 0l35 34l77-30l60 59l89-18l13-45M3728 530l84 7l28 34l-17 77M3730 93l16-59M3730 1381l16-59M3730 2669l16-59M3730 3313l16-59M3730 3957l42 63M3746 3898l77-30M3759 1034l6-82l-61-53l68-99M3759 1678l6-82M3759 2322l78 43M3759 2966l6-82M3759 3610l78 43l-25 104M3765 952l96-27l45 53l-18 80l72 54l-34 90l65 67l62-28l1-117l-42-24l-52 12M3765 3528l96-27l18-84l-28-34l32-100l-60-59M3772 156l79 7l32-100M3772 1444l79 7M3772 3376l79 7M3812 537l25-104M3812 1181l28 34l-17 77M3812 1825l28 34l-17 77M3812 3113l28 34M3823 4l1-4M3823 2580l17-77M3837 1077l51-19M3837 1721l51-19l18-80l119-24l7 10l104 32l58-52l69 23l85-68l-94-93l-81 49l21 89M3837 3009l51-19l72 54M3837 3653l51-19l72 54l-34 90M3840 571l86-13l34-90l52-12l20-136l104 32l58-52l69 23l22 94l-33 26l-101-6l-15-85M3840 1215l86-13M3840 1859l86-13l34-90l-72-54M3851 163l28 34l94-6l40-89l84 6l36 86l-104 70l-56-73M3851 807l28 34l94-6l56 73l-4 46l7 10l104 32l15 85l101 6l2 117l-80 7l-43-104l20-26M3851 4027l32-100M3861 281l18-84M3861 925l18-84M3861 1569l45 53M3861 2213l45 53l-18 80M3861 2857l45 53l119-24l7 10l-20 136M3861 3501l45 53l-18 80M3861 4145l8 10M3879 2129l94-6l40-89l84 6l36 86l-104 70l-56-73M3879 2773l94-6l56 73l-4 46M3879 3417l94-6l56 73l104-70l-36-86l-84-6l-40 89M3879 4061l94-6l40-89l84 6l36 86l-104 70l-56-73M3883 707l89-18l41 57l-40 89M3883 1995l89-18l19-64l-65-67M3883 2639l89-18l41 57l-40 89M3883 3283l89-18l19-64l62-28l1-117M3888 414l72 54M3888 2990l18-80M3906 334l119-24l4-46M3906 978l119-24M3906 2266l119-24l7 10l-20 136l-52 12M3906 3554l119-24l7 10l-20 136l-52 12M3926 558l65 67l62-28l1-117l-42-24M3926 2490l65 67l-19 64M3926 3134l65 67M3960 1756l52-12l20-136M3972 45l41 57M3972 689l19-64M3972 1333l19-64M3972 1977l41 57M3972 3265l41 57M3972 3909l41 57M3973 1479l56 73l104-70l40 17M3991 1913l62-28l1-117l77-17l20-26l-15-85M3991 2557l62-28l1-117l-42-24M3991 3845l62-28l1-117l-42-24M4012 1100l20-136M4012 1744l42 24M4013 746l84 6l36 86l40 17l21 89l69 23l85-68l68-99l79 7l32-100l-60-59l-77 30l-16 59l42 63M4013 1390l84 6l36 86M4013 2678l84 6l51-65l84 19l33 56l-11 44l-81 49l-40-17l-36-86M4025 310l7 10M4025 1598l4-46M4025 2242l4-46M4025 3530l4-46M4027 4155l2-27M4029 908l104-70M4029 2840l104-70M4032 2252l104 32l15 85l-20 26l-77 17M4032 2896l104 32M4032 3540l104 32l15 85l101 6l2 117l-80 7l-43-104l20-26M4053 597l74 26l47-56l80-7l50 36l-72 110l-84-19l-21-64M4053 1241l74 26l21 64l-51 65M4053 1885l74 26l47-56l80-7l-2-117l33-26l57 12l30 101l-67 66l-1 0l-50-36M4053 2529l74 26l47-56l-43-104M4053 3173l74 26l21 64l84 19l72-110l-50-36l-80 7l-47 56M4053 3817l74 26l47-56M4054 480l77-17l20-26M4054 1124l77-17M4054 3700l77-17M4097 108l51-65l84 19l40-62M4097 752l51-65M4097 2040l51-65l84 19l33 56l109-25l42 63l79 7l32-100l89-18l41 57l-40 89l-94 6l-28-34M4097 3328l51-65M4097 3972l51-65l-21-64M4127 1267l47-56M4127 1911l21 64M4127 2555l21 64M4131 463l43 104M4131 1751l43 104M4131 3039l43 104M4133 194l40 17l21 89M4133 2126l40 17l21 89l-58 52M4133 3414l40 17l21 89l69 23l85-68l-94-93l-81 49M4133 4058l40 17l81-49l11-44l-33-56l-84-19M4134 0l14 43M4136 996l58-52M4136 3572l58-52M4148 1331l84 19l33 56l109-25l16-59l77-30l60 59l-32 100l-79-7l-42-63M4151 1725l101 6M4151 2369l101 6l2 117l-80 7M4173 211l81-49l94 93l68-99l-42-63l-109 25l-11 44M4173 855l81-49l94 93l61 53l-6 82l78 43l51-19l18-80l-45-53l-96 27M4173 2143l81-49l94 93l-85 68l22 94l57 12l61-39l6-82l-61-53l68-99M4173 2787l21 89M4173 4075l19 80M4194 2232l69 23M4232 62l33 56M4232 706l33 56l109-25M4232 1350l72-110l1 0l85 82M4232 1994l72-110M4232 2638l72-110l-50-36M4232 3282l33 56l-11 44M4232 3926l72-110l-50-36M4252 443l2 117M4252 1087l33-26l57 12l30 101l-67 66M4252 2375l33-26M4252 3019l2 117M4252 3663l33-26l57 12l61-39l6-82l96-27l45 53l119-24l4-46l104-70l40 17l21 89l-58 52l-104-32l-7-10M4254 806l11-44M4254 1204l50 36M4254 1450l11-44M4254 2094l11-44M4254 2738l94 93l-85 68M4254 4026l94 93l-45 36M4263 323l85-68l61 53l-6 82l-61 39l30 101l-67 66l85 82M4263 967l22 94M4263 1611l22 94M4263 3543l22 94M4265 2694l109-25l42 63l79 7l28 34l-18 84l-96 27l-6 82l78 43l51-19l18-80l-45-53M4265 3338l109-25l42 63l79 7l32-100l-60-59l-77 30l-16 59M4265 3982l109-25l16-59l77-30l60 59l-32 100l-79-7l-42-63M4285 417l57 12M4285 2993l57 12l61-39M4304 596l1 0M4304 2528l1 0l85 82l77-30l60 59l-32 100M4304 3172l1 0l67-66l84 7l25-104M4304 3816l1 0l67-66l-30-101M4305 1884l85 82l77-30l60 59M4305 2528l67-66l84 7l25-104l51-19l72 54l-34 90l65 67l-19 64l-89 18M4305 3172l85 82M4305 3816l85 82M4342 1073l61-39M4342 1717l61-39l6-82l-61-53l68-99M4342 2361l30 101M4342 3005l30 101M4355 0l35 34l77-30l60 59l-32 100l-79-7M4372 530l84 7l28 34l86-13l65 67l-19 64l-89 18M4372 1174l84 7l28 34l-17 77M4372 1818l84 7l28 34l86-13l65 67l-19 64M4372 3750l84 7l25-104l51-19l72 54l-34 90l-86 13l-28-34M4374 93l16-59M4374 2025l16-59M4374 2669l16-59M4389 4155l-41-36l68-99M4403 390l78 43l-25 104M4403 1678l78 43l51-19l18-80l119-24l7 10l104 32l58-52l-21-89l-40-17l-104 70l-4 46M4403 2322l78 43M4403 3610l78 43M4409 308l96-27l45 53l-18 80l-51 19M4409 1596l96-27l45 53M4409 2240l96-27l18-84M4409 2884l-61-53l68-99M4409 3528l-61-53l68-99M4456 1181l25-104M4456 1825l25-104M4456 2469l28 34l86-13M4456 3113l28 34l86-13l34-90l52-12l20-136l-7-10l-119 24M4467 4l1-4M4467 648l17-77M4467 1936l17-77M4467 2580l17-77M4467 3224l17-77M4467 3868l17-77M4469 4155l36-10l18-84l94-6l56 73l-2 27M4484 1215l86-13l65 67l-19 64l41 57l-40 89l56 73M4495 163l28 34l-18 84M4495 807l28 34l94-6l40-89l-41-57M4495 1451l28 34l-18 84M4495 3383l28 34l-18 84M4495 4027l28 34M4505 925l18-84M4505 2213l45 53l119-24l4-46l-56-73M4505 4145l8 10M4523 197l94-6l56 73l-4 46l7 10l-20 136l42 24l-1 117l74 26l47-56l80-7l50 36l-72 110l-84-19l-21-64M4523 1485l94-6M4523 2773l94-6l56 73l104-70l-36-86l-84-6l-40 89M4523 3417l94-6l56 73M4527 63l89-18l41 57l-40 89M4527 1351l89-18M4527 3283l89-18l19-64l-65-67M4527 3927l89-18l41 57l84 6l51-65l-21-64l-74-26l-62 28l-19 64M4532 414l72 54l-34 90M4532 1058l72 54l-34 90M4532 1702l72 54l52-12l20-136M4532 2346l18-80M4532 2990l72 54M4532 3634l18-80M4550 334l119-24M4550 978l119-24l7 10l104 32l15 85l-20 26l-77 17l-42-24l20-136M4570 1846l34-90M4570 3778l65 67M4604 468l52-12M4604 1112l52-12M4604 2400l52-12l42 24l77-17l43 104l-47 56l-74-26l1-117M4604 3688l52-12l42 24l77-17l20-26l101 6l33-26l-22-94l85-68l61 53l-6 82l-61 39l-57-12M4616 45l13-45M4616 2621l41 57M4616 3265l41 57l84 6l36 86M4617 835l56 73l-4 46M4617 3411l40-89M4617 4055l40-89M4635 625l62-28M4635 1269l62-28l74 26l47-56l80-7l50 36l-72 110l-84-19l-21-64M4635 1913l62-28l74 26l47-56l-43-104l-77 17l-1 117M4635 2557l62-28M4635 3201l62-28l1-117l-42-24M4656 1744l42 24M4656 2388l20-136l-7-10M4656 3676l20-136M4657 102l84 6l36 86l-104 70M4657 746l84 6l36 86l40 17l81-49l94 93l68-99l79 7l28 34l-18 84l-96 27l-61-53l-85 68l22 94l57 12l61-39l78 43l51-19l18-80l-45-53M4657 1390l84 6l36 86M4657 2034l84 6l51-65l-21-64M4669 2886l4-46M4673 908l104-70M4673 2196l104-70l-36-86M4673 4128l104-70l-36-86M4676 320l104 32l15 85l-20 26l43 104M4676 2252l104 32l58-52l69 23l22 94l-33 26l-101-6l-15-85M4676 2896l104 32l58-52l69 23l22 94l-33 26l-101-6l-15-85M4697 1241l1-117M4697 3173l74 26l47-56l-43-104l-77 17M4697 3817l1-117M4698 480l77-17M4741 108l51-65l84 19l33 56l-11 44l94 93l-85 68l-69-23l-21-89l81-49M4741 752l51-65M4741 1396l51-65M4741 2684l51-65l84 19l72-110l-50-36l-80 7M4741 3328l51-65l84 19l72-110l1 0l67-66l84 7l25-104l51-19l18-80l-45-53l18-84l-28-34l-79-7l-68 99l61 53l96-27M4771 2555l21 64M4771 3199l21 64M4771 3843l47-56l-43-104M4775 1107l43 104M4775 1751l20-26l101 6l33-26l-22-94l-69-23M4775 2395l20-26M4775 3039l20-26M4777 194l40 17M4777 2126l40 17l81-49l11-44l109-25l42 63l-68 99l-94-93M4777 2770l40 17l81-49l11-44l109-25l42 63M4777 4058l40 17l81-49l11-44l-33-56l-84-19M4778 0l14 43M4780 352l58-52M4780 996l58-52l69 23M4780 1640l15 85M4780 3572l15 85M4792 1975l84 19l72-110l-50-36l-2-117M4795 437l101 6l2 117M4795 1081l101 6l33-26M4817 855l21 89M4817 1499l81-49l94 93l68-99l-42-63l-109 25l-11 44M4817 2143l21 89M4817 2787l21 89M4817 3431l81-49l11-44l109-25l16-59l-85-82M4817 4075l19 80M4818 1855l80-7M4818 3143l80-7l50 36M4818 3787l80-7l-2-117M4838 3520l69 23M4876 62l40-62M4876 706l33 56l-11 44M4876 1350l33 56M4876 1994l33 56M4876 2638l33 56M4876 3282l33 56M4876 3926l72-110l-50-36M4896 443l33-26l57 12l61-39l78 43l-25 104l-84-7l-67 66l85 82l77-30l17-77l-28-34M4896 1087l2 117M4896 2375l2 117M4896 3019l2 117M4898 2738l94 93l-85 68M4898 3382l94 93l68-99l-42-63M4898 4026l94 93l-45 36M4907 323l22 94M4907 1611l85-68l61 53l-6 82l78 43l-25 104l-84-7l-30-101l61-39M4907 2255l85-68l61 53l96-27l18-84l94-6l56 73l104-70l-36-86l-84-6l-40 89M4909 118l109-25l42 63l79 7l32-100l-60-59l-77 30l-16 59M4909 762l109-25l42 63M4909 3982l109-25l42 63l79 7l32-100l-60-59l-77 30l-16 59M4929 1705l57 12M4929 2349l57 12l30 101l-67 66l-1 0M4929 2993l57 12l30 101M4948 596l1 0M4948 1240l1 0l67-66l84 7l25-104M4948 1884l1 0l67-66M4948 3816l1 0l67-66l-30-101M4949 1240l85 82l-16 59M4949 1884l85 82l77-30l17-77l-28-34M4949 2528l85 82l-16 59M4949 3816l85 82M4986 429l30 101M4986 1073l30 101M4986 2361l61-39l78 43l-25 104l-84-7M4986 3005l61-39l78 43M4999 0l35 34M5016 3750l84 7l25-104l51-19l18-80l-45-53l-96 27M5018 737l16-59M5018 2025l16-59M5033 4155l-41-36l68-99M5034 1322l77-30l60 59l89-18l19-64l-65-67l-86 13l-17 77M5034 2610l77-30l60 59l-32 100M5034 3254l77-30l17-77l-28-34M5047 390l6-82l96-27l45 53l119-24l7 10l-20 136l-52 12l-34 90l65 67l-19 64l-89 18l-32 100M5047 1034l6-82M5047 2322l6-82M5047 2966l6-82M5047 3610l78 43M5053 308l-61-53l68-99M5053 1596l96-27l45 53l-18 80l-51 19M5060 1444l79 7l28 34l-18 84M5060 2088l79 7l28 34M5060 3376l79 7l32-100l89-18l41 57l-40 89l-94 6l-28-34M5100 1181l28 34M5100 2469l28 34l-17 77M5100 3757l28 34l86-13l34-90l52-12l42 24l-1 117l74 26l21 64l84 19l33 56l109-25l16-59l-85-82l67-66l84 7l28 34l-17 77l-77 30M5111 4l1-4M5111 648l60 59M5111 1936l60 59l89-18l19-64l62-28l1-117l-42-24l20-136l-7-10l-119 24M5111 3224l60 59M5111 3868l17-77M5113 4155l36-10l8 10M5125 433l51-19l72 54M5125 2365l51-19l72 54l52-12l20-136l-7-10l-119 24l-18 80M5128 571l86-13M5128 1859l86-13l34-90l-72-54M5128 2503l86-13l65 67l-19 64l-89 18M5128 3147l86-13l34-90l-72-54M5139 163l28 34l94-6l56 73l104-70l-36-86l51-65l84 19l33 56l-11 44l-81 49l-40-17M5139 1451l32-100M5139 2095l32-100M5139 4027l28 34l94-6l56 73l104-70l40 17l81-49l11-44M5149 281l18-84M5149 2213l45 53M5149 3501l18-84M5149 4145l18-84M5167 841l94-6l40-89l-41-57M5167 1485l94-6l56 73l-4 46M5167 2773l94-6l40-89l-41-57M5171 63l89-18l13-45M5171 3927l89-18l19-64l62-28M5176 414l18-80M5176 1058l72 54l-34 90M5176 3634l72 54M5194 978l119-24l4-46l104-70l40 17l21 89l-58 52l-104-32l-7-10M5194 2910l119-24l7 10l-20 136l-52 12M5194 3554l119-24l4-46l-56-73M5214 1846l65 67M5214 2490l34-90M5214 3134l65 67l-19 64M5214 3778l65 67M5248 1112l52-12l42 24l-1 117l-62 28M5248 1756l52-12M5260 45l41 57l84 6M5260 1333l41 57l-40 89M5260 1977l41 57M5260 3909l41 57l84 6l51-65M5261 191l40-89M5261 835l56 73M5261 2767l56 73l-4 46M5261 4055l40-89M5279 625l62-28l74 26l21 64l84 19l72-110l-50-36l-80 7l-47 56M5279 2557l62-28l1-117l77-17l43 104l-47 56l21 64l84 19l72-110l-50-36l-80 7M5279 3201l62-28l74 26l47-56l-43-104l-77 17l-1 117M5300 456l42 24l-1 117M5300 1100l20-136M5300 2388l42 24M5300 3032l42 24M5300 3676l20-136l104 32l15 85l101 6l2 117l-80 7l-43-104l20-26M5301 746l84 6l51-65M5301 1390l84 6l36 86l-104 70M5301 2678l84 6l36 86l-104 70M5301 3322l84 6l51-65l-21-64M5313 310l4-46M5313 2242l4-46M5313 3530l7 10M5315 4155l2-27M5317 3484l104-70l-36-86M5320 320l104 32l15 85l101 6l2 117M5320 1608l104 32l15 85l-20 26l-77 17M5320 2252l104 32l15 85l101 6l33-26l-22-94l-69-23l-21-89l81-49l94 93l68-99l79 7l28 34l-18 84l-96 27l-61-53l-85 68M5320 2896l104 32l58-52l-21-89l-40-17M5341 1241l74 26l47-56l-43-104l-77 17M5341 1885l74 26l47-56l80-7l50 36l-72 110l-84-19l-21-64M5341 2529l74 26M5342 480l77-17l43 104M5342 3700l77-17M5385 752l36 86M5385 1396l51-65l-21-64M5385 2040l51-65M5385 2684l51-65M5385 3972l36 86M5415 3843l47-56M5419 463l20-26M5419 1107l20-26l101 6l2 117l-80 7M5419 1751l43 104M5419 2395l20-26M5419 3039l20-26l-15-85M5421 1482l40 17l81-49l94 93l61 53l-6 82l78 43l51-19l18-80l-45-53l-96 27M5421 2126l40 17M5421 3414l40 17l21 89l69 23l85-68l61 53l-6 82l-61 39l30 101M5422 0l14 43M5424 352l58-52l69 23l22 94l57 12l30 101l84 7l25-104l-78-43l-61 39M5424 996l15 85M5424 1640l58-52l-21-89M5424 2284l58-52M5424 3572l58-52M5436 1331l84 19l72-110l1 0l67-66l-30-101l61-39l78 43l-25 104l-84-7M5436 3263l84 19l33 56l109-25l16-59l-85-82l-1 0l-72 110M5439 1725l101 6l2 117M5439 3013l101 6l33-26l-22-94l-69-23M5461 211l21 89M5461 855l81-49l94 93l68-99l79 7l32-100l-60-59l-77 30l-16 59l42 63M5461 2787l81-49l11-44l109-25l42 63l-68 99l-94-93M5461 3431l81-49l94 93l68-99l79 7l28 34l-18 84l45 53l-18 80l72 54l-34 90l-86 13M5461 4075l19 80M5462 3143l80-7l-2-117M5482 944l69 23l85-68l61 53l96-27l18-84l-28-34M5482 1588l69 23l85-68l68-99l79 7l32-100l-60-59l-77 30l-16 59l42 63M5520 62l40-62M5520 706l33 56l109-25M5520 1350l33 56l109-25M5520 1994l33 56l-11 44M5520 2638l33 56M5520 3926l72-110l1 0M5540 443l33-26M5540 1087l33-26l57 12M5540 1731l33-26l57 12l61-39M5540 2375l2 117M5540 3663l33-26l57 12M5542 162l94 93l68-99l79 7l28 34l-18 84l-96 27l-6 82M5542 806l11-44M5542 1204l50 36M5542 1450l11-44M5542 3136l50 36M5542 3382l11-44M5542 3780l50 36M5542 4026l94 93l-45 36M5551 323l85-68l61 53M5551 967l22 94M5551 1611l22 94M5551 2899l85-68l61 53l96-27l18-84l-28-34l-79-7M5551 3543l22 94M5553 118l109-25l42 63M5553 2050l109-25l42 63M5573 2349l57 12l30 101l84 7l25-104l-78-43l-61 39M5573 2993l57 12l61-39l78 43l-25 104l-84-7l-30-101M5592 596l1 0l85 82M5592 1884l1 0l67-66l84 7l28 34l-17 77l-77 30l-85-82M5592 2528l1 0l85 82l-16 59M5593 596l67-66M5593 1240l85 82M5593 2528l67-66M5593 3172l67-66M5630 1717l30 101M5643 0l35 34l-16 59M5662 2025l16-59M5662 3313l42 63M5662 3957l42 63l79 7l32-100l-60-59M5677 4155l-41-36l68-99M5678 34l77-30l60 59l-32 100M5678 2610l77-30l60 59l-32 100M5678 3254l77-30l60 59l-32 100M5691 1034l6-82M5691 2322l6-82M5691 2966l6-82M5691 3610l78 43l-25 104M5697 3528l96-27M5744 537l28 34l-17 77M5744 1181l28 34l86-13l34-90l52-12l42 24l-1 117l-62 28l-65-67M5744 1825l25-104M5744 2469l28 34l-17 77M5744 3113l28 34l-17 77M5755 4l1-4M5755 1292l17-77M5755 1936l60 59l-32 100M5757 4155l36-10l18-84l-28-34M5769 433l51-19l18-80l-45-53M5769 1077l51-19l18-80l-45-53M5769 2365l51-19l18-80l119-24l4-46l-56-73l-94 6M5769 3009l51-19l18-80l-45-53M5769 3653l51-19M5772 571l86-13l34-90l-72-54M5772 1859l86-13l34-90l52-12l20-136l104 32l15 85l-20 26l-77 17l-42-24M5772 2503l86-13l34-90l-72-54M5772 3147l86-13l34-90l-72-54M5783 1451l28 34l-18 84M5793 2213l45 53M5793 4145l8 10M5811 197l94-6l56 73l-4 46l-119 24M5811 841l94-6l40-89l84 6l36 86l-104 70l-56-73M5811 1485l94-6l40-89l84 6l36 86l-104 70l-56-73M5811 2773l94-6l56 73l104-70l-36-86l51-65l-21-64l-74-26l-62 28l-19 64l41 57l84 6M5811 3417l94-6l40-89l84 6l36 86l-104 70l-56-73M5811 4061l94-6l40-89l-41-57l19-64l-65-67M5815 63l89-18l41 57l-40 89M5815 707l89-18l19-64l-65-67M5815 1351l89-18l19-64M5815 1995l89-18l41 57l84 6l51-65l-21-64l-74-26l-62 28l-19 64M5815 2639l89-18M5815 3283l89-18l41 57M5815 3927l89-18M5820 1058l72 54M5820 1702l72 54M5838 978l119-24l7 10l-20 136M5838 1622l119-24l7 10M5838 2910l119-24l4-46M5838 3554l119-24l4-46M5858 1846l65 67M5858 2490l65 67M5858 3134l65 67l-19 64M5892 468l52-12l20-136l104 32l15 85l-20 26l-77 17l-42-24M5892 2400l52-12l20-136l-7-10M5892 3044l52-12l20-136l104 32l15 85l-20 26l-77 17l-42-24M5892 3688l52-12l20-136l104 32l15 85l-20 26l-77 17l-42-24M5904 45l13-45M5904 689l41 57M5904 1333l41 57M5905 2123l40-89M5905 2767l40-89M5905 4055l56 73l104-70l-36-86l51-65l-21-64l-74-26l-62 28M5923 625l62-28l1-117M5923 3201l62-28l74 26l21 64l-51 65M5944 2388l42 24l77-17l43 104l80-7l-2-117l33-26l-22-94l-69-23l-58 52l15 85l101 6M5945 102l84 6l36 86l-104 70M5945 3966l84 6M5957 310l7 10M5957 954l4-46M5957 1598l4-46M5957 2886l7 10M5957 3530l7 10M5959 4155l2-27M5961 2196l104-70l40 17l21 89M5964 964l104 32l15 85l101 6l33-26l-22-94l-69-23l-58 52M5964 2252l104 32M5985 597l74 26l47-56l80-7l50 36l1 0l67-66l-30-101l-57-12l-33 26l2 117M5985 1241l74 26l47-56l80-7l-2-117M5985 1885l1-117M5985 2529l1-117M5985 3173l1-117M5985 3817l1-117M5986 1124l77-17l20-26M6029 108l51-65l84 19l33 56l109-25l16-59l-35-34M6029 752l51-65l-21-64M6029 1396l51-65l84 19l72-110l1 0l85 82l-16 59l-109 25l-33-56M6029 2040l36 86M6059 1267l21 64M6059 1911l47-56l-43-104M6059 2555l47-56M6059 3199l47-56l80-7l50 36l-72 110l33 56l109-25l16-59l-85-82l-1 0M6059 3843l47-56l80-7l50 36l1 0l85 82l-16 59l42 63l-68 99l-94-93l11-44l109-25M6063 463l43 104M6063 1107l43 104M6063 2395l20-26M6063 3039l43 104M6063 3683l43 104M6065 194l40 17l21 89l69 23l22 94M6065 838l40 17l21 89M6065 1482l40 17l21 89l69 23l85-68l-94-93l-81 49M6065 2770l40 17l81-49l11-44l109-25l16-59l-85-82l-1 0l-72 110l33 56M6065 3414l40 17l81-49l94 93l61 53l96-27l45 53l119-24l4-46l104-70l40 17l21 89l69 23l22 94l-33 26l-101-6l-15-85l58-52M6065 4058l40 17l81-49M6066 0l14 43M6068 352l58-52M6068 1640l58-52M6068 2928l58-52l-21-89M6068 3572l58-52l69 23l22 94l57 12l30 101l84 7l25-104l-78-43l-61 39M6080 687l84 19l72-110M6080 1975l84 19l33 56l109-25l16-59l-85-82l-1 0l-72 110M6080 2619l84 19M6080 3263l84 19M6080 3907l84 19l72-110M6083 437l101 6M6083 1725l101 6l33-26l-22-94M6083 3013l101 6l2 117M6083 3657l101 6l33-26M6105 211l81-49l94 93l61 53l-6 82l-61 39M6105 855l81-49l94 93l-85 68M6105 2143l81-49l94 93l68-99l79 7l28 34l94-6l56 73l104-70l-36-86l-84-6l-40 89M6105 3431l21 89M6105 4075l19 80M6106 1855l80-7l-2-117M6126 2876l69 23l85-68l-94-93M6164 62l40-62M6164 706l33 56l-11 44M6164 3926l33 56M6184 3019l33-26l57 12l61-39l78 43l-25 104l-84-7l-30-101M6184 3663l2 117M6186 162l11-44M6186 1204l50 36M6186 1450l11-44M6186 1848l50 36M6186 2094l11-44M6186 2492l50 36M6186 3382l11-44M6195 323l85-68l68-99l79 7l32-100l-60-59l1-4M6195 2255l85-68l61 53l-6 82l78 43l51-19l18-80l-45-53l-96 27M6195 2899l22 94M6195 3543l85-68l68-99l79 7l32-100l89-18l41 57l-40 89l-94 6l-28-34M6197 762l109-25l42 63l79 7l32-100l-60-59l-77 30l-16 59M6217 1061l57 12l30 101l84 7l25-104l-78-43l-61 39M6217 1705l57 12l61-39l78 43l-25 104l-84-7l-30-101M6217 2349l57 12l30 101l-67 66M6235 4155l45-36l41 36M6237 596l85 82M6237 1240l67-66M6237 1884l67-66M6237 3172l67-66M6237 3816l67-66M6274 2361l61-39M6304 530l84 7l25-104l-78-43M6304 2462l84 7l28 34l-17 77l60 59l-32 100l28 34l94-6l40-89l-41-57l-89 18M6306 93l42 63M6306 1381l42 63l-68 99l61 53l96-27l18-84l-28-34l-79-7M6306 2025l42 63M6306 2669l42 63l79 7M6306 3313l42 63M6322 34l77-30M6322 1322l77-30l17-77l86-13l65 67l62-28l74 26l21 64l-51 65l-84-6l-41-57l19-64M6322 1966l77-30l17-77l86-13l65 67l62-28l1-117l-42-24l-52 12l-34 90M6322 2610l77-30M6322 3254l77-30l60 59M6322 3898l77-30l17-77l86-13l65 67l-19 64l-89 18l-60-59M6335 1034l6-82l-61-53l68-99M6335 1678l6-82M6335 2966l6-82l-61-53l68-99M6335 3610l6-82M6341 308l96-27l18-84l94-6l56 73l-4 46l-119 24l-45-53M6341 952l96-27l18-84l94-6l56 73l-4 46l-119 24l-45-53M6341 2884l96-27l18-84M6348 4020l79 7l28 34l-18 84l-36 10M6388 537l28 34l86-13l34-90l-72-54l-51 19M6388 1181l28 34M6388 1825l28 34M6388 2469l25-104M6388 3113l28 34l-17 77M6388 3757l28 34M6399 648l17-77M6399 1292l60 59l-32 100M6399 1936l60 59l89-18l19-64M6413 1077l51-19l72 54l-34 90M6413 1721l51-19l18-80l-45-53M6413 3009l51-19l72 54l-34 90l-86 13M6413 3653l51-19l18-80M6416 2503l86-13l65 67l62-28l1-117l77-17l43 104l-47 56l-74-26M6427 163l28 34M6427 807l28 34M6427 2095l32-100M6427 4027l32-100M6437 2213l18-84M6437 2857l45 53l119-24l4-46l-56-73M6437 3501l18-84M6437 4145l8 10M6455 1485l94-6l56 73l-4 46l-119 24M6455 4061l94-6l56 73l104-70l-36-86l-84-6l-40 89M6459 63l89-18l13-45M6459 707l89-18l19-64l62-28l74 26l21 64l-51 65l-84-6l-41-57M6459 1351l89-18M6464 414l18-80M6464 1058l18-80M6464 1702l72 54M6464 2346l72 54l52-12l42 24M6464 2990l18-80M6464 3634l72 54l52-12l42 24l-1 117l74 26l47-56l-43-104l-77 17M6482 2266l119-24l7 10l-20 136M6502 558l65 67M6502 2490l34-90M6502 3134l65 67l-19 64M6502 3778l34-90M6536 468l52-12l20-136l104 32l15 85l101 6l33-26l-22-94l-69-23l-58 52M6536 1112l52-12l20-136l104 32l15 85l-20 26l-77 17l-42-24M6536 3044l52-12l20-136l104 32l15 85l-20 26l-77 17l-42-24M6548 45l41 57l84 6l36 86l-104 70M6548 1977l41 57M6548 2621l19-64M6548 3909l41 57M6549 191l40-89M6549 835l40-89M6549 1479l40-89M6549 3411l56 73M6567 3201l62-28l74 26l21 64l-51 65l-84-6M6567 3845l62-28M6588 456l42 24l77-17l20-26M6588 1744l20-136l-7-10M6588 3676l20-136l104 32M6589 2678l84 6l51-65l-21-64M6601 310l7 10M6601 954l7 10M6601 2242l4-46M6601 2886l7 10M6601 3530l7 10M6603 4155l2-27M6605 908l104-70l40 17l81-49l94 93l68-99l-42-63l16-59l-85-82l67-66l-30-101l61-39l26 14M6605 1552l104-70l40 17l21 89l-58 52l-104-32M6605 2840l104-70l-36-86M6608 2252l104 32l15 85l-20 26M6629 597l1-117M6629 1241l1-117M6629 1885l74 26l47-56l80-7l50 36l-72 110l-84-19l-21-64M6629 3173l1-117M6630 1768l77-17l43 104M6673 108l51-65l84 19l33 56l-11 44l94 93l-85 68M6673 752l36 86M6673 1396l36 86M6673 2040l51-65M6673 3328l36 86M6673 3972l51-65l-21-64M6703 623l47-56l-43-104M6703 1267l47-56l80-7l50 36l-72 110l-84-19M6703 3199l47-56l80-7l50 36l-72 110l-84-19M6707 1107l43 104M6707 1751l20-26l101 6l2 117M6707 3039l43 104M6707 3683l20-26M6709 194l40 17l81-49M6709 2126l40 17l21 89l69 23l85-68l-94-93l-81 49M6709 2770l40 17l81-49l94 93l-85 68l-69-23l-21-89M6709 4058l40 17l19 80M6710 0l14 43M6712 996l58-52l-21-89M6712 1640l15 85M6712 2284l58-52M6712 2928l58-52M6724 687l84 19l33 56l109-25M6724 2619l84 19l72-110l-50-36l-80 7M6724 3907l84 19l72-110l-50-36l-80 7M6727 1081l101 6l2 117M6727 2369l101 6l2 117M6727 3013l101 6l33-26l-22-94M6749 211l21 89M6749 1499l81-49l94 93l-85 68l22 94l57 12l61-39l6-82l-61-53l68-99l13 1M6749 3431l81-49l94 93l-85 68M6749 4075l81-49l94 93l68-99l-42-63l-109 25l-11 44M6750 567l80-7l-2-117M6770 944l69 23l85-68l61 53l20-6M6770 1588l69 23M6808 62l40-62M6808 706l72-110l1 0M6808 1350l33 56l-11 44M6808 1994l33 56l109-25l16-59l-85-82l-1 0M6808 2638l33 56l-11 44M6808 3282l33 56l-11 44M6808 3926l33 56M6828 1087l33-26l-22-94M6828 1731l33-26M6828 2375l33-26l57 12l30 101l57 5M6828 3019l2 117M6828 3663l2 117M6830 560l50 36M6830 806l11-44M6830 2094l11-44M6839 2255l22 94M6841 118l109-25l42 63l-68 99l61 53l-6 82M6841 1406l109-25l42 63M6841 2694l109-25l42 63l13 1M6841 3338l109-25l42 63l-68 99l61 53l20-6M6861 417l57 12M6861 1061l57 12l61-39l6-82M6861 2993l57 12l30 101l57 5M6861 3637l57 12l61-39l26 14M6879 4155l45-36l41 36M6880 1240l1 0l85 82l39-15M6880 2528l1 0l67-66M6880 3172l1 0l85 82l-16 59M6880 3816l1 0l85 82l39-15M6881 1240l67-66l57 5M6881 1884l67-66l57 5M6881 2528l85 82l39-15M6881 3172l67-66M6881 3816l67-66l57 5M6918 1073l30 101M6918 1717l30 101M6918 2361l61-39l26 14M6918 3005l61-39l26 14M6918 3649l30 101M6931 0l35 34l39-15M6948 530l57 5M6950 93l16-59M6950 1381l16-59M6950 2025l42 63l-68 99l61 53l-6 82M6950 2669l16-59M6950 3957l16-59M6966 678l39-15M6966 1966l39-15M6966 3254l39-15M6979 1034l26 14M6979 1678l26 14M6979 2966l6-82l20-6M6979 3610l6-82M6985 308l20-6M6985 1596l20-6M6985 2240l20-6M6985 2884l-61-53l68-99M6992 156l13 1M6992 800l13 1M6992 2088l13 1M6992 3376l13 1M6992 4020l13 1" fill="none" stroke="#000" stroke-width="20" stroke-linecap="round" stroke-linejoin="round"/></g>
<rect x="769.5" y="24.8" width="713" height="428" fill="none" stroke="#D73737" stroke-width="12.5" stroke-linejoin="round"/>
<g transform="translate(775.7 671.7) scale(.1)"><path d="M0 65l49 11l46-39l-4-37M0 212l64-48l-15-88M0 253l1 16l-1 1M0 407l74-16l12-77l-85-45M0 506l7 17l-7 21M0 559l30 35l77 9l50-63l-50-58l-100 41M0 694l16-7l63 25l18 60l-2 5l-85 35l-10-7M0 888l13-9l65 30l49-61l69 14l-3 93l33 28l86-46l-24-79l-65-16l-27 20M0 997l95-29l2 2l15 108l-112 4M0 1164l24 44l109-68l37 34l0 109l65 8l77-92l-44-47l-98 22M0 1245l18-2l6-35M0 1369l19-6l13-98l-14-22M0 1512l4 1l6 90l58 31l35-11l56 30l17 49l-15 36l-89 19l-28-20l24-103M0 1609l10-6M0 1743l44-6M0 1869l24 8l30 82l111-55l-17-45l39-66l79 13l11 54l34 26l-12 103l-7 2l-97-37l-14-39l96-55M0 2006l46-13l8-34M0 2164l17 17l25-2l35-31l16-110l-47-45M0 2205l17-24M0 2356l98-9l35 117l5 2l109-33l17-53l-97-87l-35 8l-34 46M0 2467l33 31l-15 76l-18 10M0 2718l4 10l-4 1M0 2785l10-54l40-4l71 70l-44 71l52 74l42 10l6 96l83 36l-7 79l-43 32l-102-60l0-30l69-57M0 2847l18 21l-18 42M0 2984l21 33l-1 10l-20 16M0 3195l53 2l40 82l71 12l38-34l99 46l-14 80l-107-7l-16-85M0 3345l31 9l62-75M0 3485l12 3l11 31l83 38l40-25l19-61l-17-48l-91-14l-45 79M0 3554l23-35M0 3657l4 7l33 6l66-55l83 63l35-11l13-81l-88-54M0 3668l4-4M0 3813l26 1l57 68l104-49l-46-85l45-70M0 3940l50 16l22-15l11-59M0 4044l26-2l24-86M4 1513l48-29l75 41l42-14l28-74l60-12l20-84l-42-50M4 2728l6 3M10 812l3 67M16 687l14-93M18 2574l99 57l1 9l-68 87M18 2868l59 0M19 1363l43 41l81-21l54 54M20 3027l88 78M21 3017l108-75M24 1877l56-43l68 25M26 3814l53-70l62 4M26 4042l28 37l-28 75M31 3354l26 55M32 1265l136 19l2-1M33 2498l100-34M37 3670l42 74M42 2179l90 122M52 1484l10-80M53 3197l55-62M54 4079l80 4l24 71M64 164l85 30l39-58l-18-77l-75-22M72 1757l8 77M72 3941l99 51l41-41l-10-112l-15-6M74 391l37 44l-4 47M77 2148l136 6l16-31l-5-28l68-104M78 909l17 59M79 712l45-53l-17-56M86 314l37-19l31-85l-5-16M93 2038l62-8l40-76M95 777l32 71M97 772l118-31l8 101M97 970l96-15M103 1623l24-98M103 3615l3-58M111 435l117-44l-3-30l58-95l7-3l89 42l7 101l-5 4l-137-1l-16-18M112 1078l15 14l102-54l46 40l-7 74M117 2631l50-63l98 11l18 42l116 22l28-49l77-16l56 75l78-27l57 39l39-15l32-95l-10-25l-35-16l-78 28l-5 84M118 2640l78 66l-31 85l43 38l-36 123l-1 0M121 2797l44-6M123 295l102 66M124 659l77 19l31-50l66-14l24-66l-81-55l-72 48l63 87M127 1092l6 48M134 4083l39-51l-2-40M138 2466l29 102M143 1383l25-99M148 3423l32-47M154 210l129 56M155 2030l69 65M157 540l12 1M159 1653l86-75l-76-67M161 1738l26 55M165 1904l16 11M165 3471l116 8l6 71l70 35l76-50l-80-105l-38-2l-34 51M167 2293l58-76l-12-63M170 59l67-58l-1-1M172 2952l96-1l47 64l-11 38l-44 31M173 4032l108 52l-10 70M176 1702l100 2l20-49l-48-76l-3-1M188 136l129 5l6-5l-61-133l4-3M196 2706l56-14l56 65l-35 71l34 50l-39 73M201 678l15 62l109-5l23-52l85-18l65 89l-102 62l-45-16l-26-65M202 3257l8-62M202 3839l33-11l54-77l-9-48l-59-36M208 2829l65-1M212 3951l92 15l46-46l0-22l-115-70M215 741l1-1M225 2217l95 33l58-48l-11-81l5-9l101-31l34 17l14 77l-69 60l-74-33M226 983l3 55M229 2123l138-2M234 3586l53-36M237 1l25 2M241 493l3-84M247 2433l53 75l76-9l51 95M248 1579l51-45l-4-81l-38-28M252 2692l31-71M253 3163l81 33l13 76l-46 31M264 2380l64-34l51 20l88-65l49 27l86-52l-13-72l76-58l52 34l4 94l-77 27l3 98l57 18l58-35l45 19l68-43l72 77l-66 53l-57-21l-17-66M265 2579l35-71M266 1806l32-47l72 6l37 85l-8 16l-88 20M275 1078l81-28l-13-99l82-35l18 7l24 49l-30 78l-48 18l-33-18M276 1704l22 55M277 1341l75-12l13-69l-49-60l-4-1M280 3703l76-53l1-65M281 4084l30-28l102 16l26 41l-27 41M287 3383l28 45M288 858l63-58M289 3751l101 43l59-82l-93-62M290 263l27-122M295 1453l74-20l14-73l-31-31M296 1655l79-12l48 47l74-59l-11-65l-84-20l-15 10l-12 87M298 614l50 69M299 1534l88 22M299 1989l41 18l94-48l-35-93M304 3053l101 77l-71 66M304 3966l7 90M307 2878l59 6l37 69l81-27l46 49l-3 30l68 68l58-69l-46-67l-77 38M308 2757l45-6l65 65l-52 68M312 937l31 14M315 3015l79-35l59 78l74-53M316 1200l77-56l65 37l0 65l-93 14M320 2250l8 96M322 548l37-18l104 49l-30 86M323 136l24-5l68-92l-23-39M340 2007l32 105M347 131l110 71l63-93l75 4l28 24l98-21l5-106l48-10M347 3272l50 17l71-67l-61-92l-2 0M350 3898l46-62l-6-42M350 3920l88 61l-25 91M353 2751l51-87l85 58l-48 93l56 44l-13 67M353 3430l83-66l-39-75M359 530l22-120M369 1433l41 35l-8 78M370 1765l53-67l86 71l-6 48l-96 33M376 2499l36-51l71 2l45 78l-24 50M379 305l86-63l-8-40M379 2366l33 82M383 1360l67-10l12-100l-4-4M386 406l99 17l7 141l79 15l22 22l-14 121l81 37l22 67l-59 67l75 100l-81 57l-46-18l-18-40l46-95l24-4M389 1068l4 76M394 2980l9-27M396 816l29 100M396 3836l127 41l22-88l89-41l42 31l15 81l-29 48l-127-2l-12-29M399 2643l5 21M407 3130l41-41l102 42l-2 72l-24 25l-56-6M410 1468l69-25l-7-77l88-25l9 7l-1 83l-67 25l-22-13M415 39l61 6l28-45M418 2816l23-1M423 1690l0 8M433 3535l17 1l17-12l31-88l-47-68l-15-4M434 1959l21 9l78-28l15-76l-45-47M437 1050l72 44l62-62M438 3981l80-33l53 107l-64 67l16 32M439 4113l68 9M443 923l95-62l61 36M448 3089l5-31M449 3712l9-2l36-52l-44-122M450 1350l22 16M451 3368l90-63l-17-77M452 2235l15 66M455 1968l18 113M458 1181l55-42l68 34l57-47l61 18l24 53l-52 65l-85-35l-5-54M458 3710l87 79M462 1250l85 16l39-39M463 579l29-15M465 242l53 32l8 123l105 29l4-2l27-145l-45-34l-99 29M467 972l86 20M467 3524l132 25l-22 93l51 53l111-88l-7-22l-129-39l-4 3M476 45l44 64M483 2450l48-58l83 26l33-19M485 423l41-26M486 1566l31-31l-16-79M489 2722l52-10l37 46l-33 87l73 53l42-23l-9-109l-73-8M494 3658l83-16M497 1631l58 25l67-60l4 1l63 83l-61 62l-58-20l-15-66M497 2859l48-14M498 754l13 3l27 104M498 3436l90-12l2-91l-49-28M507 2098l75-43l6-68l88-36l51 82l-68 71l-77-49M509 1094l4 45M509 1769l61-47M511 757l68-35M516 2328l15 64M517 1535l63 5l37-77l-49-32M518 3948l17-42M521 2175l68 29M528 2528l76-16l39 30M533 1940l55 47M541 2712l19-59M547 1266l13 75M548 1864l81-18l21-42l94-2l22 88l-84 42l-53-86M548 3203l119 16l-2-92l-69-40l-46 44M569 1348l73-3l38-35l-9-48M571 579l60-153M571 4055l81 5l40-70l133 4l11 12l-56 135l-24 8l-73-27l-31-62M580 1540l42 56M588 3424l32 30l70-16l30-82l91-13l14 132l51 19l83-71l-12-48l-106-51l-14 2l-16 17M590 3333l76-32l10-70l-9-12M593 601l121-3l11 8l17 71l-82 82M595 113l23-113M595 3073l1 14M602 2276l42 25M603 3546l17-92M604 2512l10-94M607 2937l11-39M617 245l6-108M617 1050l21 76M617 1463l47-9l47-13l61 29l-6 66l-32 25l-44-9l-26-98l-22-109M626 1597l64-45M628 1742l22 62M628 3695l6 53M635 424l71 24l8 150M651 2766l31-21l86 44l-7 61l-57 35l-44-10M653 3004l60 3l21-27l-30-95M658 4154l25-32M659 2104l6 42M662 279l79-9l50 67l93-5l25-105l-125-38l-43 81M662 3908l30 82M665 3127l70-39l-22-81M666 3301l54 55M676 1951l6-19M676 3231l96-17l11-19l-23-95l-25-12M676 3779l94-44l74 47l62-59l85 8l25 64l-25 84l1 1l116 34l64-55l30 9l43 96l-90 60l-34-12l-13-98M680 1310l68 31l3 0l61-73l-16-54l40-45l101 19l5 57l-79 46l-51-23M682 826l62 16l36 93l-56 61l-26-3M682 2745l13-80M689 1680l21 0l43-46l-19-73M690 3438l70 63l65-26M691 3860l134 13l23-27l143 33M699 1144l62-79l-37-69M704 2417l17 97M706 448l46-16l94 56l0 66l-121 52M710 1680l64 83l-30 39M711 1441l37-100M713 0l13 10M717 2180l85-29l50 66l-9 46l-93 29l12 90M721 116l53 36l86-80l-22-72M721 2274l29 18M723 1197l73 17M727 2033l44 5l44 66l-13 47M732 3585l28-84M734 2650l74 34l16 69l3 2l121-42l6-11l-87-77l-59 59M734 2980l68-10l28-70l-69-50M739 3607l32 25l97-10l38 101M742 677l75 42l-3 75l-70 48M751 1341l66 52l-18 63l-27 14M752 432l39-95M753 1634l65 7l27 38l41 5l54-51l-10-46l-75-27l-7 4l-30 77M755 4154l1-5M756 2530l68-63M760 3100l84-34l9-37l81-36l7-34l85-53l-23-66l-49-22l-61 25l-19 42l67 74M761 1065l64 18l11 86M766 1536l82 28M766 1890l39 16l20 62l-54 70M766 2555l102 38l26-28l77 4l34 61l-24 60l101 64l55-104l-24-44l-108 24M768 2789l56-36M770 3735l1-103M772 3214l55 112M774 152l10 37M774 1763l15-3l85 52l0 40l-69 54M780 935l72 4l28 32l73-8l52 73l-55 57l-84-38l14-84M780 4141l28 13M783 3195l101-23l29 59l77 19l38-69l-50-74l-82 31l-12 34M789 1760l56-81M799 1456l69 34l34-22l-29-91l-56 16M802 2970l51 59M814 794l72 47l-34 98M815 2104l87-22l61 92l-111 43M817 719l53-27l18-98l-42-40M825 1083l41-28M825 1968l80 20l19 41l99 3l26-47l-71-87l-27 7l-46 83M825 3873l0 121M827 2755l66 88M830 2900l44-15M836 4006l47 10l88-47l81 77l-18 61l-71 34l-18-5l-62-120M841 3324l72-93M843 2263l41 53l-9 42M844 3066l52 72M844 3782l4 64M846 488l65-49l4-70l119-28l34 77l-57 81l-100-60M855 1560l13-70M860 72l93 37l-25 106l132 59l10-6l19-128l-117-41l-19 10M863 1291l18 75l67-3l33-81l-39-37M867 2625l1-32M868 3622l36-46l87 10l16 118l-16 27M870 692l74 36l11 85l132-26l3-4l-28-92l-50-14l-68 51M873 1377l8-11M874 1812l53-49l38 3l49-47l84 33l5 21l108 52l-17 51l59 81l47-5l32-42l-34-88l-70-9l-17 12M874 1852l77 53M876 3494l28 82M881 2488l13 77M884 332l31 37M884 2316l92-22l40 70l-60 71l-9 0M886 841l62-17l43 80l-38 59M886 1684l41 79M888 594l86-10l42-56l-5-29M902 1468l30 4l56-62l25 2l46-48l56 6l43-34l3-17l-78-83l-56 49l32 79M902 2082l22-53M909 227l19-12M912 4154l33-18M930 1587l44-52l38-1l59 67l77-85l-12-38l-6-5l-81 0l-37 61M932 1472l42 63M934 2993l60 70l65-22l73 82l72-37l8-31l-47-73l-78-1l-28 60M937 1188l23-30l-10-65M940 1633l67 30l64-59l68 54l83-65l4 2l45 96l-44 36l-84-35l-4-34M947 3375l60-83l83 27l54-94l-29-54l-87 10M948 824l7-11M948 1363l40 47M948 2713l6 105M954 2702l27-12M956 2435l54 67l-39 67M959 3423l62 29l91-88l-22-45M960 1158l99 7l28 49l112-32l26 85l63 19l23-11l81 55l5 39l117 5l-3-76l70-36l5-67l18-16l93 10l9 90l35 20l13 89l-107 18l-23-42l10-53l72-32M963 2174l3 1l32 61l-22 58M963 4141l3 13M965 1766l44 88l57-10l37-71M966 2175l82-74l67 20l27 56l-35 64l-109-5M971 3969l21-89M972 99l26-99M974 584l38 93M978 1898l31-44M978 3107l16-44M981 1282l46 3M990 3250l17 42M991 904l58 5l29 77l82-5l8-81l-74-34l-45 43M991 3586l15-10l32-83l99 18l37-34l-34-101l-28-12M1003 2840l80-82l-1-4M1005 1036l37 0l43 61l-26 68M1006 3576l133 46l-10 51l33 64l115-13l-1-90l-32-28l-101 12l-4 4M1007 1663l7 56M1007 3704l122-31M1010 2502l53-2l54 87l95-66l65 48l7 26l70 39l80-79l-56-97l-101 111M1013 1412l36 61M1016 528l96 39l83-104l62 44l5 81l-76 58l-52-19l-22-60M1016 2364l67 8l25 64l95 21l9 64M1016 3795l127-8l29 72M1021 3452l17 41M1023 2032l25 69M1026 2906l28 13l98-75l-3-36l92-64l-26-71l-78-23M1034 341l26-67M1034 4107l53 47M1042 1036l36-50M1049 1985l56-18l73 62l-63 92M1052 4046l69-34M1054 2919l33 62M1062 691l72-64M1063 2500l45-64M1066 1844l56 62l72-30M1068 418l117 16l10 29M1070 268l92 19l35 118l132-64l-1-24l-94-84l5-41l-100-83l12-49l76-50l1-10M1071 1601l0 3M1083 1236l4-22M1083 2372l48-64l95 19l12 89l141 23l-1 19M1083 2758l66 50M1085 1097l76-10l52 65l45-13l39-74l93 15l13 26l-56 94l-2 1l-87-62M1087 787l7 79M1089 140l50-31M1090 0l61 60M1090 783l101-14l41 93l21 6l75-34l66 55l-7 64l34 42l81-1l39-73l-59-75l-88 43M1098 1752l45-60M1105 1967l17-61M1107 2241l24 67M1113 2606l4-19M1115 1370l15 103M1115 3171l17-48M1136 1478l106-66l-84-76M1137 3511l6 107M1140 3376l93-37l1-95l-90-19M1142 2177l92 5l42 95l68 5l34-26l7-101l-62-49l-41 9l-48 67M1143 3787l19-50M1148 1516l57 35l17 42M1152 2844l60 58l29-1l69 75l76-38l-17-89l-65-22l-63 74M1155 4024l37 70l94-13l35 73M1160 981l25 29l86-7l26 62M1161 1087l24-77M1161 1319l64-52M1162 287l72-54M1165 2982l47-80M1168 900l64-38M1173 4154l19-60M1174 3477l77 11l5 7l108 26l47-54l-4-20l-94-69l-21 5l-41 105M1178 2029l20-2l84 88M1185 434l12-29M1186 646l30 79l107 2l20 27l111-5l35 57l-7 40M1191 769l25-44M1198 2027l55-70M1199 1182l14-30M1202 3868l79-38l64 48l59-31l8-44l69-34l4-55l-69-49l-60 74l56 64M1203 2457l35-41M1204 3086l71 73l95-60l19 3l36 92l-56 67l-99-44l5-58M1205 1551l68-75l60 36l29-11l31-65l-11-37l-108-2l-19 16l18 63M1212 3055l89-45l9-34M1215 2673l69-78M1226 1595l89-18l39 48l-19 61l-12 9l12 94l75 12l31-82l-106-33M1226 2327l50-50M1227 10l95 67l85-54l70 94l78-11l26-56l-36-50M1227 1727l1 86M1233 3339l59 44M1234 3244l36-27M1239 192l76-52l7-63M1241 2744l39 17l96-68l-22-59M1242 1412l13 1M1244 3606l12-111M1245 3964l24 7l70-48l68 60l-20 51l-85 10l-33-73M1253 868l32 111l102-26M1257 507l83-28l74 76l79-48l-63-117l-58-1l-32 90M1262 588l79 45l-18 94M1271 1003l14-24M1271 1691l52 4M1274 1397l14-111M1276 3634l97-35l37 26l6 40M1277 3724l17 17l-13 89M1280 2761l24 66M1286 4081l16-37M1294 3741l62-2M1298 1822l37-33M1300 1952l52 79l97-25l5-37l-59-67l34-69l-19-32M1301 3010l69 89M1311 1275l34-74M1313 3378l63-86l-7-31M1315 140l101 74l14-1l47-96M1315 1577l18-65M1323 2106l29-75M1328 317l88-103M1328 834l15-80M1329 341l43 48M1332 1910l63-8M1339 3923l6-45M1341 633l62-31l76 72l-25 75M1344 2282l40 150l-5 7M1347 1200l104 40l40-69l95 24M1347 4154l73-63l48 15l48-89l68 21l46-34l47 9l33-26l109 41l15-27l-38-116l-77 39l-9 63M1354 1625l60-20l14-54l42-19l56 30l-6 71l-47 27l-59-55M1362 1501l66 50M1364 3521l9 78M1369 2849l71-52l-54-99l119-45l1-77l-72-21M1376 2693l10 5M1376 3292l97 55l2-1l52-79l-30-61l53-74l-15-51l-110-8l-36 29M1378 2256l114 24l45-82l10-3l48-74l99 14l-36 120l-111-60M1382 1399l15-30M1384 2432l80-25l103 85l-10 46l-51 38M1385 2155l73-25l79 68M1386 2938l45 20l-6 115M1387 4034l33 57M1390 1080l31-85M1392 1330l64-69l55 37M1393 1436l83 28l38-29l52 33l73-31l35 60l-49 65l-58-22l-1-72M1403 602l11-47M1403 1106l73 25l60-76l64 15l4 109M1404 3847l53 42l-5 75l52 25l12 28M1407 23l5-15l21-8M1407 3447l66-100M1407 3983l45-19M1408 0l4 8M1410 3625l85-46l5-72l-89-40M1425 3194l72 12M1429 1833l69 6l42-73l29-7l73 69l0 5l-91 76l-13-3l-40-67M1430 213l40 32l95-10l31-63l78 0l34-37l100 40l4 44l-69 50l-44-10l-25-87M1430 390l50-39l63 15l61-68l-39-63M1431 2958l52-17l11-104l-34-36l-20-4M1441 1719l20-12l79 59M1449 2006l32 42l-23 82M1451 1240l5 21M1454 1969l84-63M1457 3889l74-28l42 51l-69 77M1460 2801l82-100l-37-48M1461 1707l12-47M1464 2407l44-83l107 25l-1 107l-47 36M1465 4154l4-47l108 28l-5 19M1468 4106l1 1M1470 245l10 106M1470 1532l6-68M1475 3346l76 60l-24 85l105 37l33-50l-51-90l-63 18M1476 1131l15 40M1479 674l65-21l85 102l-2 11l19 39l91 36l49-21l16-104l-1-1l-98-31l-74 71M1481 2048l93-1l21 74M1481 3769l55 45l-5 47M1483 2941l36 18l26 104l-10 18M1485 3714l74-40l-2-45l-62-50M1489 806l138-40M1492 2280l16 44M1493 507l8 0l77 78l7-2l107 44l43-57l-41-75l-38-9l-71 97M1494 2837l110-5l7 6l61-7l58-90l-67-71l-79 42l20 120M1500 3507l27-16M1501 507l73-79l53 10l29 48M1502 994l34 61M1514 1374l1 1l109-11M1514 1435l1-60M1519 2959l82-30l47 43l95-44l35 72l-82 81l-52-53l4-56M1520 1633l79 35l40-70l-14-36M1526 1562l41-22M1527 3267l62 7l40 88l69-18l16-96l-71-27l-54 53M1536 3814l60-32l64 38l-5 58l64 46M1541 921l58-5l56 50l-13 79l-42 25M1542 2701l42 11M1543 366l31 62M1544 653l34-68M1545 3063l99-35M1550 3132l80 32l13 57M1551 1909l57 78l82-50l63 49l-31 84l-117-63l3-20M1555 106l41 66M1557 2538l114 85l64-52l-15-93l-106-22M1557 3629l81-62l-6-39M1559 3674l38 32l-1 76M1569 1759l35-73l102 31l7 30l72 42l58-41l-4-78l19-22l92 4l25 82l62 14l58-39l-26-87l-83-18l-36 48M1573 3912l23 4l34 88M1574 2047l31-40M1577 4135l16-10l-9-87M1581 50l64-16l63 56l0 45M1581 1262l53 49M1593 4125l56 11l46-44l71 16l55-66l91 72l3 26l21 14M1596 3916l59-38M1597 3706l88-21l9-77l67-23l55 39l-3 79l-99 13l-29-31M1599 916l47-111M1599 1668l5 18M1601 2929l10-91M1604 298l39 8l56-47M1614 3388l15-26M1615 2349l49-38l79 53l14 72l-37 42M1627 438l45-65l82 10l20-29l-31-85M1630 3164l69-68l60 41l95-81l44 51l-48 82l-79-18l-12-34M1638 3567l56 41M1639 1437l8-31M1639 1598l86 16l31-62l88 5l14 91M1642 1045l72 41l-1 87l106 11l19-56l-59-75l-65 33M1642 1828l71-81M1642 1833l50 49l92-31l1-62M1643 306l29 67M1645 34l12-34M1649 4136l7 18M1655 966l68-23l73 45l2 11l118 39l30-49l-13-49l-85-17l-52 65M1658 2255l9 18l131-46l-80-107l10-22l119-4l19-22l-8-57l-74-40l30-93l53 2l42 77l46 1l47-82l-81-53l-54 57M1660 3820l45-27l78 38l14 51l113-9l23 89l-99 39M1663 2670l8-47M1664 2311l3-38M1665 3478l77-14l3-89l-47-31M1672 2831l77 77l-6 20M1674 1497l59 9l45-76l-4-24l93-49l46 78l-41 59l-94-64M1677 4013l18 79M1690 1937l2-55M1692 627l11 57M1694 495l72-57l48 29l-9 100l-70 3M1694 2135l24-15M1696 3081l3 15M1697 1189l16-16M1705 3793l9-77M1706 1717l35-60l98 13M1708 90l87-60l-8-30M1714 3248l22-9l84 57l53-61l-23-46M1722 2070l6 28M1723 943l14-102M1725 1614l16 43M1730 2741l53 3l46-31l16-50l128-21l26 57l-60 100l2 14l-78 66l34 92l104 5l-10-130l89-20l42 42l-3 65l-117 44l-1-1M1733 1506l23 46M1735 2571l77 23l81-94l-43-53l-93-11M1736 3239l35-68M1741 1299l87-36l48 69l-9 25M1742 3464l34 26l51-10l77 73l65-48l70 23l14 29l91 25l55-74l47 4l52 72l-15 56l-61 29l-57-21l-21-66M1743 2364l92-68l52 44l-37 107M1745 3375l77-34l-2-45M1749 2908l61-38l53 9M1753 1986l31-11M1754 383l12 55M1754 1388l20 18M1761 3585l15-95M1766 4108l11 46M1774 354l78-15l4-87l93-22l24 95l-91 37l-30-23M1778 3000l71 28l5 28M1779 1053l19-54M1783 2744l27 126M1783 3831l64-91l10 2l107-75l34 7l3 4l-19 141l-48 13l-77-90M1784 1851l30 31M1786 820l48 30l99-36l32 75l69 5l52-87l-23-28l-126 23l-4 12M1795 30l37 21l85-38l3-13M1796 3885l1-3M1798 2227l26 8l11 61M1801 715l36-122l55-7l29-118l-34-24l-73 23M1802 716l113 13l22 73M1805 567l32 26M1808 175l40-46l89 18l23 63l109-8l26 39l-32 97l53 45l72-13l34-84l104 20l20 44l-53 88l-43 3l-62-71M1812 219l44 33M1812 2594l33 69M1813 3703l34 37M1816 3624l82-38l6-33M1819 1184l18 38l-9 41M1819 4028l2 14M1822 3341l38 28l90-52l50 67l-45 58l-84-29l-11-44M1824 2235l33-33l-10-108M1827 3480l44-67M1829 2713l110 86M1832 51l16 78M1834 850l14 73M1837 1222l119-13l16 49l117 24l-4-110l-116 7l-13 30M1838 1128l86-33l26 20l19 64M1843 1748l75 37l57-51M1844 1557l30-36l100 36l12 47M1849 3028l48-57M1857 2202l100-2l22-31l-33-82l55-65l-46-60M1858 2015l51-54M1866 2072l80 15M1872 1494l2 27M1873 3235l60 11l35-113l-9-16l-61-10M1876 1332l73-22l50 68l-23 51l41 60l56 0l45-74l-47-57l-72 20M1882 362l5 82M1887 2340l65-6l34-34l71 3l35 106l-49 44l-51-7l-40-112M1892 586l49 30l8 66l-34 47M1893 2500l22 3l70 105l100-45l10 3l45 95l-20 55l104 63l54-69l-27-75l-111 26M1898 3586l66 81M1898 4154l17-14M1910 3873l24-41M1912 4114l74-92l104 80l50-43l116 24l13 71M1913 1435l63-6M1915 2503l77-57M1916 1038l8 57M1917 13l57 68l-37 66M1918 1785l3 42M1921 468l59-4l31-117l52-9M1933 940l32-51M1933 3246l23 26l65-14l34-86l-87-39M1933 3962l48 28l5 32M1941 616l74-42l86 57l63-101l-67-57l-76 22l-6 79M1941 2813l50 33M1946 989l102 16l14 51l39 32l98-53l-13-94l-13-6l-102 24l-23 46M1949 230l11-20M1949 682l109 27l5 70M1949 1310l23-52M1950 1115l112-59M1950 3317l6-45M1955 3442l14 63M1957 2200l29 100M1959 3117l54-93l-11-47M1973 325l38 22M1973 2642l12-34M1974 81l58-9l54 63l95-33l45 88l99-22l47 49l-46 89M1974 1557l43-68M1979 2169l80-13l28 16l46-11l37-70l-66-73l-32 0l-14 8l1 130M1980 464l41 31M1981 3990l81-67l76 35l2 101M1982 3819l67 30l68-54l78 19l36-29l88 11l43 90l-96 58l19 100l-29 39M1998 3674l55-117M1999 2699l99 30l-18 97M2000 3384l51-1l42-68l-72-57M2001 2022l57 4M2001 3678l92 29l24 88M2002 1880l54-11l-19-121M2013 3024l97 56l30-10l65 90l-20 46l-48 8l-69-46l42-88M2024 4154l65-47l24 47M2032 72l29-67l38-5M2034 894l37 65M2039 3528l50-82l73 3l31-68l-26-44l57-79l47 10l5 110l-83 3M2043 2453l42 110M2049 3849l13 74M2051 3383l38 63M2055 3172l13-4M2057 0l4 5M2057 2303l26-22l98 11l13 18l87 12l26 32l59 3l45-42l-2-76l-95-33l-33 116M2058 709l46-61l106 49l68-84l-86-86l58-86M2069 202l17-67M2069 1622l57-60l22 0l67-75l-43-73l-54 1M2071 1358l19-75l-1-1M2072 2018l-16-149l67-4l45-50l-37-96l-36-10M2073 1489l53 73M2083 2281l4-109M2085 1172l21-26l-5-58M2086 807l37 8l50 120M2089 4107l1-5M2090 1283l90 0l46 59l45 1l50-44l-23-102l-52-24l-30 14l-36 96M2092 2409l68 3l24 26l87-8l39 62l-61 72l-73-42l8-84M2093 3315l3-1l41-100M2093 3707l72-59M2095 241l109 7l18 38M2095 2566l81-44M2096 3314l71 23M2097 473l19-90M2098 2729l22-13M2101 631l3 17M2104 2018l76-65l-57-88M2106 1146l110 41M2119 2933l44 41l94-44l-18-96l110-9l39 74l-108 45l-23-14M2122 2868l109-41l8 7M2123 815l99-56l33 23l1 124l-70 35M2131 1719l73-44l73 54l72-87l-8-35l-46-24l-86 44l-5 48M2133 2161l66 51l68-28l42 15l5 7M2138 3958l67-40l61 26M2140 3070l25-35l-2-61M2148 1562l61 65M2150 0l35 91l-4 11M2160 2412l34-102M2162 3449l37 59M2164 530l28-3M2165 3035l113 22l25-32l-23-81M2168 1815l64 2l47-76l91 44l11 47l-7 14l-104 30l-38-59M2170 2091l59-10l38 103M2172 1414l54-72M2180 1953l22 2l59-35l63 53l-20 75l60 46l39-6l34 18l12 102l64 13l58-54l-11-55l-52-32l-71 26M2181 2292l18-80M2185 91l104-40l44 36l81-27l57 54l-68 101l76 56l64-43l-31-112l-41-2M2185 3206l39 52M2195 3814l10 104M2199 1035l52 34l82-33l0-101l-77-29M2202 1955l42 107l60-14M2204 248l22-58M2205 3160l80-29l-7-74M2210 697l12 62M2215 1487l55 8l52-46l47 3l44 92l56 10l20 93l-51 52l81 96l53-35l3-97l-86-16M2222 3669l9 116M2224 2779l7 48M2229 2081l15-19M2246 1173l5-104M2246 3512l62-71l95 58l-10 53l50 62l-46 95l88 63l2 41l-120 74l-5-1M2249 2564l12 51l133-9l-25-107l43-40l53-1l54 86l-81 72l-34-2l-10-8M2251 2635l10-20M2255 782l124-15l4-3l-8-113l-56-43l-41 5M2261 1920l9-44M2270 1495l25 88M2271 1343l51 106M2271 2430l36-76M2271 3268l45-22l-14-102l-17-13M2276 3378l28 19l4 44M2277 1729l2 12M2278 2710l81 20l17 26l-27 69M2283 3640l92 74l22-5M2285 4044l118-3l20 31l-22 82M2288 0l1 51M2293 438l61 63l-35 107M2298 1197l89-40l63 48l85-78l0-50l85-51l4 0l70 112l71-24l66 66l-12 74l-76 17l-69-97l20-36M2298 3584l95-32M2302 3144l94-16l18-69l72-16l6-9l-12-92l85-33l31 101l-104 24M2303 3025l78 1l27-118l-20-9M2304 3397l72-43l14 2l66 90l-1 11l-52 42M2309 2199l55-105M2310 2492l59 7M2316 3246l20 7l40 101M2319 3796l56-82M2321 1299l62 9l70-85l-3-18M2324 1973l75-23l20 11l-16 127M2325 168l8-81M2333 935l46-28l0-140M2333 1036l54 36l82-35l66 40M2336 3253l65-23l25-62l76 3l-7 121l-5 4l-25-1l-64-65M2341 1607l72-63M2346 350l86 19l10 114l-88 18M2349 1642l82 58l7-1M2359 2730l45-116M2366 2357l46 102M2367 3887l55 80l-19 74M2369 1452l64-61l24 1l69 110l86-64l59 33l6 89l-53 39l-100-89l2-8M2370 1785l61-85M2372 217l31-2M2374 1846l25 104M2375 651l100-42l88 66l1 11l-86 88l57 115l21 2l45-26l32-106l-69-73M2376 2756l89 9l32-73l-59-76M2379 907l90 26l66-44M2381 1832l126 0l12-37M2381 3026l33 33M2383 764l95 10M2383 1308l50 83M2387 1072l0 85M2390 3356l75-61M2396 3128l30 40M2408 2908l9-1l63 35M2409 2239l40-31M2411 2315l104 39l4 34l116 61l17-14l10-110l86-21l28 30l-9 107l-115-6M2414 60l10-60M2417 2907l73-103l44 14l34 85l-3 6M2419 1961l43-4l51-109l80 50l76-33l-12-77l-85-28M2422 3967l94-20l18-87l90-9l30 83l-65 72l-17 1l-56-60M2423 4072l95 11l30 71M2432 369l45-34l91 42l-20 107l-68 23l-5 102M2442 483l38 24M2443 3614l87-6l34 96l-79 68M2453 1223l68 52l74-27l55 81l-45 58l-90-37l6-75M2455 3457l91 61l10 51l-26 39M2456 3446l57-59l89 11l12 37l-68 83M2457 1392l58-42M2462 1957l53 38l66-21l12-76M2465 2458l54-70M2465 2765l25 39M2469 933l0 104M2469 1554l55-44M2477 335l2-64M2486 3043l41 83l73-23l4-88l-8-5M2487 3813l47 47M2490 3296l23 91M2495 3292l63-8l62 73l41-24l-4-90l54-19l53 41l-31 82l-72-14M2497 2692l96-15l5-9l92-31l67 86l-20 47l-72 23l-53-30l-19-86M2502 3171l10-7l15-38M2507 1832l6 16M2508 2080l7-85M2512 116l1 0l109 3l28-68l-74-51M2512 3164l91 57l8-2l26-88l-37-28M2513 116l40-116M2513 2221l34 87l-32 46M2518 4083l54-76M2519 2544l31 5l75-51l10-49M2534 2818l78-55M2535 1127l81 70l58-23M2543 228l42 10l65-68l37 9l34 51l93-18l3-77l-56-36l-74 80M2547 2308l80-11l35 28M2548 484l69 36l12 89l-66 66M2550 2549l48 119M2556 891l64 135M2556 3569l105 7l44 64l-2 14l64 74l89-25l40 73l-44 55l-101-28l-12 10l19 134l24 1l81-61l-11-56M2558 3284l45-63M2560 2112l83-63l0-26l-62-49M2564 3704l54 16l33 94l-27 37M2568 377l35-17l18-57l88-23l41 54l-59 81l-88-55M2568 2903l86-19l11-91M2571 2167l71 30l-15 100M2571 4154l72-6l6 6M2575 1663l39-29l102 89l-59 65M2585 238l36 65M2589 4006l69 63l67-23l21-91l12-8M2595 1248l21-51M2601 865l128 36l-14 76l-91 49M2602 3398l18-41M2604 3015l52-8l42-84l-44-39M2605 1387l7 51M2611 3219l46 24M2614 1634l10-35M2614 3435l86 43l-39 98M2617 520l86-56l-12-49M2618 3720l85-66M2622 119l28 51M2625 2498l84 87l73-33l4-92l-19-19M2629 609l95 17l33 97l-37 31l-87 5M2637 3131l42-7l28-70l49-8l47 93l-82 24l-42-39M2642 2197l35-15l9-88l79-12l39 57l-89 58l-38-15M2643 2023l59-48l-15-98l-18-12M2643 2049l43 45M2643 4148l15-79M2650 51l35-13l69 41l7 20M2650 1329l60-5l54 97l-93 50M2651 3814l88-1M2654 3934l92 21M2656 3007l51 47M2677 1560l75 22l61-53l62 15l25 118l-8 7l-118 4l-22-91M2685 38l8-38M2687 1877l111-17l16-44l75-31l63 35l15 60l-34 51l-113-28l-22-43M2690 2637l19-52M2698 2923l35-1l60-68l46 5l51-52l100 39l-9 52l78 77l18 1l39 62l116-35l5-19l-32-58l-99 9l-29 41M2700 3478l22-8l87 52l51-28l21-75l98-10l38 119l6 1l55 99l102-26l9-23l-64-99l-102 49M2702 1975l84 23l34-95M2703 464l17 7l54 94l27 0l69-85l-37-56l-113 47M2705 3640l95-51l74 65l-18 49M2709 280l12-50M2710 1324l33-53M2711 3224l10-61M2715 977l75 68l-25 69M2715 2197l40 72l-7 35M2716 1723l24-5l74 98M2720 754l15 142l-6 5M2722 3470l32-90l98 0l29 39M2724 626l50-61M2725 4046l66 61l60-30l16-48l-85-81M2733 2922l58 79l36-3l48-63l49 7l41 101l0 2l-86 17l-52-64M2733 3347l21 33M2735 896l74-8l68 69l-27 67l87 88l-2 19l-104 49M2737 2770l56 84M2740 1718l34-45M2748 4154l32-11l11-36M2750 334l41 3l51-94l53 7l16 103l-73 34l-47-50M2751 3803l16-75M2754 79l60-79M2755 2269l83-49l46 20l-1 90l1 0l110 10l26-56l79-8l36-90l-97-38l-2-5l63-124l41 28l96-9l28 73l-105 44l-19-108M2756 3046l35-45M2757 723l27 4l67 85l-42 76M2757 2723l76-25l52 31l73-33l16-69l77-22l23-57l108 0l10-11l103 7l31 74l2 1l38 109l25 10l85-82l-47-66l-101 29M2764 1421l13 4l36 104M2764 3265l42-12l11-109l-14-5M2765 2082l24-76l81 23l21 73l26 12l48-13l23-89l-52-48l-66 65M2776 2334l107-4M2777 1425l75-41l3-96l-36-34M2780 4143l6 11M2782 2552l57 37l76-23l59 61M2784 727l92-60l3-41l58-42l70 19l2 91l-63 34l-70-61M2786 1998l3 8M2786 2460l93-23l5-107M2790 1045l60-21M2800 3589l9-67M2801 565l78 61M2804 2139l2 1l85-38M2806 2140l32 80M2806 3253l68 34l20-9l92 26l24 63l80 6l44 84l-9 23M2814 212l28 31M2817 135l79-32l-20-93l20-10M2817 3144l32-9l30-73M2833 424l5-37M2833 2698l6-109M2839 2859l36 76M2849 3135l67 44l-22 99M2851 812l82-10l13 15l-5 121l39 19l90-41l13-62l-17-25l-120-12M2851 4077l85 77M2852 1384l72 35l11 81l64 24l26 70l-48 65l-77 3M2852 3380l22-93M2855 1288l115-20l7-77l-42-60M2857 0l19 10M2860 3494l91 65l66-31M2863 3887l52 26l72-45l40 13l16 64l-66 70l-52-19l-10-83M2867 4029l58-33M2870 480l51 12l45-31l-4-89l51-31l39 3l41 109l-50 34l-77-26M2874 3654l51-22l97 78l-73 71l-53-5M2875 1544l60-44M2877 957l64-19M2879 2437l59 40l68-105l-12-32M2884 2240l34-22l74 13l46-83M2885 2729l5 78M2889 1785l3-116M2895 250l43-27l36 8l39 110M2896 103l24 12l70-24l15-91M2911 353l51 19M2915 2566l27-80l112 22l20 40M2916 3179l44-14l72 67l35-9l65 30l40-32l91 10l22 42l110-12l22-67l-50-41l-81 22l-23 56M2917 2114l1 104M2920 115l18 108M2921 492l16 92M2924 1419l63-48l99 60l53-54l-34-91l-114 8l-4 77M2924 2942l57-44M2925 3632l26-73M2933 802l13-74M2933 1931l3 33M2937 1112l65-61l77 14l39 96l-141 30M2938 2477l4 9M2949 3781l38 87M2952 1820l82-76l31 5l43 84l73 6l30 80l-114 63l-34-87l45-62M2958 2696l66 53l79-39l6-28l80-42l-7-92M2960 3165l30-68l91 14l29-19l62 37l0 92M2961 4154l4-3l33-93l98 8l19 67l-13 21M2965 2101l71 42M2965 3043l94-68M2965 3045l25 52M2965 4151l20 3M2967 1880l96 15M2970 1268l21 26M2974 231l73-34l37 27l-2 96l-30 24M2977 1659l57 85M2977 4015l21 43M2979 3409l31-42M2980 957l22 94M2986 3304l46-72M2988 2012l104-8l7 15M2990 91l59 38l-2 68M2990 2846l26-19l76 24l59-39l65 70l72-39l-9-75l-33-22l-12-80l92-48M2992 2231l28 53M2999 1524l85-74l2-19M3006 2372l88 44l6-2l88 43l53-41l-29-94l-72 6l-40 86M3007 603l35-25l1-91M3009 694l73 34l-16 101M3016 2827l8-78M3022 3710l15-1l12-9l29-72M3025 1594l85 12l55-61l-81-95M3027 3881l56-43l-46-129M3042 578l82 25l-11 109l70 19l34 78l-23 37l-111 8M3043 3945l87 41l3 18l107 53l-15 74l-110 2M3049 129l60-34l83 60l51-97l-34-41l-92 28l-8 50M3049 3700l131 36l33-57l-33-77M3051 2605l58 77M3054 2508l40-92M3065 1749l68-58l-23-85M3067 3223l14-112M3070 916l63 77l-54 72M3082 320l100 10l5 72l-68 54l-26-3M3082 728l31-16M3083 3838l48 4l42 79l89-4l5-103l-78-35l-58 63M3084 0l33 45M3084 224l83-14l25 108l102-20l23 111l65 18l32-17l23-76l66-20l61 93l-58 50l-92-47M3090 3373l49-63l111 46l-22 72l57 72l103-46l0-1l-21-66l-102-41l-15 10M3092 2004l5-22M3092 2851l14 84M3096 4066l37-62M3099 2276l41 52M3103 2710l55 71l88-35M3105 1286l43-78l-11-34l-19-13M3110 3092l6-54M3119 456l59 90l78-33l63 51l-24 93l-49 3l-81-79l13-35M3124 603l41-22M3130 3986l43-65M3132 3253l7 57M3133 993l60-3l45 100l-101 84M3133 1691l60 17l66-44l74 83l-18 56l-103-3l-19-92M3134 3457l94-29M3135 2186l9-4l15-27M3139 1377l80 6l41-41l-2-83l61-46l92 44l-8 105l93 26l20 108l59 8l52 110l85-33l74 53l4 64l52 46l126-87l-1-18l-98-79l-83 74M3144 2182l78 53l71-45l-9-66l88-40l58 94l101-62l-49-82l-100 22l-10 28M3148 1208l110 51M3151 2812l7-31M3165 1545l21-2l59-65l-26-95M3167 210l29-39l70 22l30 102l84-22l57 61M3172 3129l68-24l46 70M3180 3736l9 43M3181 1839l31-39M3182 330l10-12M3183 731l63-71M3186 1543l81 91l65-35l12-102l15-11l21-108l23-16M3187 402l77 40l53-33M3188 2457l4 80M3189 2640l45 26M3189 3579l86-38l10-41M3192 155l4 16M3193 990l34-44l-33-100M3205 2926l11-44M3209 17l2-17M3211 1919l36 19l18 43l87 17l30 58M3212 2322l14-16l101 1l3-89l-37-28M3213 3679l97 3l26-71l-61-70M3217 809l73-9l28-119l-23-24M3222 2235l4 71M3225 4131l14 23M3227 946l86-3l37 52l-26 110l131 9l19-121l-8-9l-116 11M3232 3003l23 63l108 1l4 86M3236 2038l29-57M3237 2984l82-27l21-80l-52-34M3238 1090l81 19l0 104M3240 3105l15-39M3240 4057l36-27l-11-111l126-6l12 18l-47 116l-80-17M3241 2416l48 9l66-89l-28-29M3243 58l71 5l30 45l116-33l31 77l-15 37l-75 23l-21 61M3245 1478l99 19M3247 1938l91-89l41 19l25 48l-52 82M3256 513l8-71M3259 1664l8-30M3260 1342l120 36M3262 3917l3 2M3264 2111l20 13M3265 3346l20-73M3266 193l74-51l61 70M3267 3814l48-27l18-65l101-1l27 82l73 17l3 109l58 25l-5 119l109-3l12-19l-61-113l24-28l92 16l13 96l-68 29M3279 2768l87-40M3289 2425l39 58l-33 61M3290 800l62 43l68-73l61 12l39 69l-54 56l-111-49l-3-15M3294 298l2-3M3310 3682l23 40M3313 943l42-85M3314 63l25-63M3315 1803l23 46M3315 3787l84 64l62-48M3318 681l72 12l60-56l-1-62l-67-34l0-114M3319 564l63-23M3319 1109l5-4M3319 2957l77 69l-33 41M3328 2483l62-4l55 54l-16 57M3330 2218l96-25l4-15M3332 1599l81 45l56-38l103 66l30-8l73 77l115-43M3333 1747l74-34l74 63l18 2l37 50l-61 108l-71-20M3336 3611l74-18l25-53l-47-86M3340 142l4-34M3340 2877l40-10l62 63l89-20l1-4l-61-104l-47-6l-44 71M3340 4154l27-9l7 9M3355 2336l3 0l97-82l29 16l3 115l-64 10l-65-59M3356 4047l22 29l-11 69M3359 1486l119 40l38-30M3367 3387l50-76l-22-50M3378 4076l106-13l31 27l-24 64M3379 1868l102-92M3388 3453l125-48l1-70l-97-24M3390 693l30 77M3390 2479l33-84M3391 2738l33 58M3391 3913l8-62M3396 3026l7-2l70 31l25 56l75 10l34-29l-6-94l72-26l79 86l-62 53l-83-19M3403 3024l39-94M3403 3931l82 25l52-27M3407 1713l6-69M3410 3593l54 80l75-9l22 137l70-3l29-107l-92-52l-29 25M3411 1257l60-36l78 45l82-54l69 86l-11 44l-53 35l-81-35l-6-76M3417 3194l33-10l48-73M3422 0l39 22l12-22M3426 2193l29 61M3434 3721l30-48M3435 3540l77-7l59 80l90-72l-43-86l58-70l-17-42l54-113l-14-15l-108-5l-41 47l-1 44l110 42M3445 2533l60-23l88 48l7-5l41-106l132 35l-43 86l-130-15M3449 575l60-40l-3-78M3450 637l89 59l48-8l25-29l-45-103l90-70l23 5l34 62l-88 104l-14 2M3450 3184l100 73M3455 1114l22 26l-6 81M3460 75l9-25l-8-28M3466 907l0 77M3469 50l133-6l2-3l-6-41M3469 1606l9-80M3471 2802l74-59l-36-79l-33-8M3473 3055l85-80l43 23M3474 993l87 10l37 96l-4 13l-117 28M3475 1936l26 41l-19 57M3476 189l54 80l-27 45M3481 782l58-86M3484 2270l102-20l1 1l129 43l41-95l-45-56l-119 37l-7 70M3484 4063l1-107M3487 2385l33 20l62-15l5-139M3491 152l114-16l11 12l6 55l-51 60l73 80l42-12l7-90l-71-38M3496 1388l59-46M3499 1778l73-106M3501 1977l99-8l47 42l-97 111l43 58M3505 2510l15-105M3509 535l58 21M3509 2664l78-67l79 93l79-63l67 29l66-57l3-39l77-46l74 39l-53 116l-101-70M3512 3533l42-79l64 1M3513 3405l41 49M3514 3335l35-34M3515 4090l58-2l26 66M3520 851l30 3l68-69l82 26l2 41l-85 78l-67-76M3530 269l41-6M3531 2116l19 6M3531 2910l27 65M3532 2906l69-53l-22-98l83-41l50 55l-28 100l-83-16M3534 3820l27-19M3536 1828l71 22l-7 119M3545 2743l34 12M3561 1003l57-61l76 51l68-40l54 57l-31 80l-32 11l-59-47l0-61M3564 407l35 0l45-64M3568 3639l3-26M3573 3121l18 89M3573 4088l17-15M3575 1504l63-48l84 39l-10 86M3582 2390l44 22l99-93l-9-25M3587 688l31 97M3587 2597l6-39M3594 1112l42 83l-5 17M3595 3954l55-16M3598 1099l96-45M3599 407l58 79M3602 44l3 92M3602 1664l25-50M3604 41l120-11l22 81l-6 10l14 88l-61 32M3607 1850l57-26l85 58l-77 132l48 48l103-23l58 53l-38 102l-86 5M3616 148l124-27M3617 930l1 12M3626 657l94 39l21 72l48 5l68-68l-10-47l-60-30l-67 68M3626 2412l15 35M3631 3798l36 28l88-31l-3-113l37-9l84 51l8 44l-78 56l-48-29M3636 1195l100-37l61 85l-7 13l-90 42M3636 1377l2 79M3647 2011l25 3M3660 3691l66-21l26 12M3661 3541l41 12l69-41l-31-112l67-42l66 15l-3 117l-49 36l-50-14M3662 2714l4-24M3664 1824l11-83M3667 3826l7 84M3673 2972l28-78l78 5l37 54l-41 104l25 19l92-3l38-89l-28-33l-86 2M3676 3385l64 15M3680 491l68-65l72 21l58-95l98 67l14-1l43-95l88-2l37 101l-2 5l-125 34l-41-43M3684 2869l17 25M3686 331l44 22l70-45l-10-78l89-37l6-17l87-29l54 45l-28 84l-78 2l-41-85M3689 1342l94 68l-14 57l100 70l52-60l67-2l40 88l58 1l53 74l49-10l65 34l-19 84l-80 35l-43-94l28-49M3690 3111l9 104M3699 4070l19 79l15 5M3700 811l41-43M3702 852l68 62l63-33l63 77l39-9l27-32l0-31l-77-54l-38 14l-14 35M3702 3553l24 117M3712 2143l8-81M3712 2769l88-8l24-40l-12-65M3713 3230l61 6l39-27l65 5l63-81l-49-60M3713 4154l5-5M3714 553l56 23l17 52M3722 0l5 24l88-24M3722 1495l47-28M3724 30l3-6M3725 2319l40 28l8 135l35 5l73 73M3730 353l18 73M3730 2568l15 59M3736 1158l17-57M3746 111l101-6l38 71M3749 1882l20-1l70 60l-16 98M3752 3058l23-1M3754 209l36 21M3762 953l8-39M3765 2347l110-21l41 70l-108 91M3766 3926l46-40l62 27l66-43l73 55l-54 89l-71-28l-14-73M3769 1881l76-117l103 72l-12 81l-97 24M3770 576l78-75l-28-54M3774 3236l33 122M3779 2899l47-69l96 19l-20 102M3779 4022l41 15l68-51M3783 1410l53-37l41 3l44 101M3785 1090l67 32l17 62l91-16l18-54l-20-37l-47-6l-59 51M3789 773l58 73M3789 3673l50-81l-18-66M3790 1256l46 117M3797 1243l55-23l74 66l0 49l82 30l47-44l-16-82l-43-9l-70 56M3800 308l76 35l44-65M3800 2761l26 69M3800 3076l13 133M3803 3824l9 62M3805 4154l42-38l59 16l12 22M3816 1010l52-9l28-43M3820 4037l27 79M3824 2721l104 16l10 101l66 9l48-42l-32-105l-37-18l-55 55M3839 3592l113 41l10-17l-14-106l-78-20M3842 1744l3 20M3843 2194l53 65l-21 67M3847 105l29-69l107 13l7-6l92 16l47-48l-3-11M3847 658l77-61l62 60l56-21l29-68l-40-47l-106 49l-1 27M3848 501l31 9l97-91M3852 1220l17-36M3856 0l20 36M3857 705l61 37l4 28l-37 62M3868 1001l43 70M3869 1537l0 23M3873 3373l16-8l36-84l-47-67M3873 3724l79-89l0-2M3876 343l2 9M3877 1376l49-41M3879 510l46 60M3881 2092l60-11l37-122l-42-42M3881 3768l63 35l-4 67M3889 3365l110 48l-2 59l-49 38M3896 2259l93-22l14-114l-62-42M3906 4132l68-83l72 27l37-19l82 36l60-50l-10-77l-114 10l-18 81M3916 2396l34 15l8 103M3918 742l59-45l67 63l-37 54l1 23l74 40l49-50l33-2l47 67l74-11l50 51l-16 47l50 86l102-43l-11-60l-75-45l-50 15M3922 770l85 44M3922 2849l16-11M3925 3281l94-11l-3-100l-37-36l-38-1M3930 2984l63 3l43-56l-32-84M3935 949l49 80l63-21l5-59l32-31l92 41l35-67M3944 3803l44-23l73 33l15 72l110-22l40 83l-11 20M3948 1836l59-36l80 33l65-46l80 99l49-19l15-75l-62-46M3950 2411l77-26l63 105l-27 54l67 68l-16 63l46 59l-60 75l-48-4M3952 3635l53 69l-17 76M3958 1077l26-48M3959 4014l15 35M3960 1168l36 62M3962 886l46-49M3962 917l90 32M3962 3616l95-30l8-73l-68-41M3967 1639l61-76M3968 1657l41 41l102-11M3972 147l11-98M3977 697l9-40M3978 1114l98 7l-8 96l103 18l6 27l90 51l24-5l47 41l86-26l42 53l-14 69l-61 19l-55-52l2-63M3978 1959l80 1l35-46l-6-81M3979 2669l4 13M3979 3134l48-88l-34-59M3988 1475l32-40l91 11l19 53l-44 65M3989 2237l51 37l9 77l-22 34M3990 43l4-43M3998 276l35 47M3999 3413l40-36l86 24l5 83l-65 29M4003 2123l66-19l24-76l-35-68M4005 3704l94-13l3-69l-45-36M4007 1800l2-102M4008 1365l12 70M4013 3925l47-9l41 60M4016 3170l107-25l-17-89l-79-10M4019 3270l13 10l7 97M4020 2700l94-25M4026 192l75-18l12-17l-31-98M4031 461l0 60M4032 2553l31-9M4032 3280l89-15l61 65l-5 28l92 81l-24 45l-82 21l-33-21M4036 2931l76 5l26 84l97 4l8-12l-5-83l-61-47l-23 2l-42 52M4039 1239l29-22M4040 2274l96-52l-6-70l-61-48M4042 636l65 65l-34 53l58 73M4044 760l29-6M4044 4154l2-78M4047 1008l43 37l92-63l41 36l96-39M4049 2351l123 16l4 95l-86 28M4055 1321l72 20l50-79M4060 3916l16-31M4061 3813l59-54l0-44l106-27l13 11l12 91l-52 32l-79-63M4071 568l55 0l52-54l-22-87M4076 1121l19-18l68 19l27 76l93-18l35 49l-27 79M4082 877l2 41M4090 1045l5 58M4093 1914l115 18l24-46M4093 2028l122-5l11-16l-18-75M4099 3691l21 24M4100 2809l54 75M4101 174l42 113l94-19l11-80l90-38l48 76l-43 77l-61 10l-45-45M4102 3622l66-32l-5-85M4106 3056l32-36M4107 701l37-9l59 76l-39 57M4111 1446l37-58l65 8l54-83M4113 157l78-15l34-112l-96-19M4121 321l22-34M4121 3265l33-97l-31-23M4125 3401l52-43M4126 568l43 82l79-13l0-97l67-36l65 84l80-11l14-85l-82-58l-67 33l-10 37M4127 1341l21 47M4130 1499l85 19l-27 110M4130 2152l87-49l-2-80M4130 2612l80-23l27 17l18 67l-60 65l39 61l53 9l52-84l-10-24l56-89l87 51l-12 61l-52 30l-69-29M4136 2222l46 28l102-59l4-31l69-45l7-26l95-51l-1-48l-98-49l-3-29l53-54l63 14l41 58l-56 60M4144 692l25-42M4152 1787l2-6M4154 3168l37-3l63 48l99-55l45 46l-35 101l-35 12l-69-36l-5-68M4158 422l100-28l67 73M4160 2734l35 4M4163 1122l62-56l72 55l64-32l66 84l-13 45l-96 11M4165 4093l7 61M4168 3590l49 26l65-46l-37-86M4171 1235l19-37M4172 2367l31-33l-21-84M4176 959l6 23M4176 2462l32 22l2 105M4177 2882l57-83M4178 514l70 26M4182 3330l77-49M4186 3863l13-41M4191 142l57 46M4191 3165l56-94l103 52l3 35M4203 768l53-9l43 39l101-25l9-30l71-43l5-98l-25-25M4203 2334l69 10l66-71l34 5l45 107l-21 30l-78 13l-46-84M4208 2484l89-21l43 96l-103 47M4213 1396l38 55l85-39M4215 1518l28-14l44 29l89-32l42 101l58-11l58 118l-19 33l-31-1l-83-62l16-77l1 0M4217 2103l71 57M4217 3616l9 72M4223 1018l2 48M4225 30l2-1l2-29M4225 4043l81 41l-19 70M4226 2007l89 0l45-66M4226 3946l79-18l69 85l-15 47l-53 24M4227 29l54 12l59 100l-2 9M4235 3024l12 47M4238 2929l80-45l57 85l73-37l3-70l-42-31l-86 30l-5 23M4239 3699l113-27l8 6l105-36l13-35l73-16l68 48l3 7l-84 96l24 39l93 19l30-20l71 11l16 103l75 28l52-126l4-2l75 29l-2 123l90 7l44-79l-76-74l-56 23M4243 1504l8-53M4243 3012l125-23l7-20M4248 637l32 25l61-7l39-67M4251 3790l46 16l75-65l57 37l0 85l-98 12l-34-69M4253 1662l19-7l86 52l-9 62l-53 23M4255 2673l74 27M4256 759l24-97M4258 394l24-81M4269 3439l35-12l54 26l76-35l54 52l-43 84l-71-12l-16-89M4272 1655l32-53l113 0M4281 41l56-41M4281 1867l76 45M4282 3570l47 12l45-40M4283 1180l14-59M4284 2191l54 82M4285 881l14-83M4287 1533l17 69M4287 2808l36 53M4297 2463l21-35M4304 3427l24-110M4305 3928l26-53M4315 2007l49 82M4329 3582l23 90M4340 141l78-52l79 32l3 35l80 56l-11 54l-78 31l-11 42l56 57l98-49l3-10l-68-71M4340 2559l35 15l10 37M4341 655l68 88M4343 303l65 66l-16 65M4349 1769l49 33l86-61M4350 3123l43-59l113 9l2-3l136-23l6-38l-62-85l-81 46l1 100M4357 2115l91 78l45-27l86 39l40-23l70 30l-7 83l-58 28l-56-39l11-79M4358 1707l43-28M4359 4060l68 70l-6 24M4360 3678l12 63M4361 1089l8-24M4363 3305l81 48l66-36l63 81l-21 68l-64 4M4368 2989l25 75M4372 2278l65-44l75 72l56-22M4374 4013l63-32l12-100l-20-18M4375 2574l69-61l37 3l51 99l-4 14l-56 33M4376 1501l15-37M4385 917l38-99l112 34l43-57l-5-49l46-53l-16-98l-118 7M4386 226l59 2l46 69M4396 2415l48 98M4398 1802l12 56M4398 3204l60-1l57 100l75-41l7-77l58-30l58 48l-7 86l-37 21l-79-48M4400 773l23 45M4408 369l72-30M4408 2753l1 78M4409 0l9 89M4414 1218l24 42l-14 63M4417 2385l72-16l23-63M4427 1173l70-36l59 28l77-56l-59-85l-85 12l8 101M4427 4130l84-22l25 46M4429 3778l81-45l-45-91M4434 3418l10-65M4437 2234l11-41M4437 3981l96 46l42-104l74-9l40 29l6 47l-62 71l-92-14l-8-20M4438 1260l121-1l-6 93l-87 24M4445 228l55-72M4445 3554l33 53M4448 2932l59 38M4449 3881l78-7l35-93M4451 2862l79-37l10-39l57-36l8-34l-77-87M4452 1445l40 34l90-19l34 93l-17 23l-107-1l0-96M4458 3203l56-61l83 43M4459 2038l51 44l78-21l7-85l86-33l-29-118l-48 3l-67 102l58 46M4460 962l78-77l-3-33M4460 2723l80 63M4471 1022l18 14M4473 1872l54-99l77 55M4474 492l59-34l3-62M4476 1591l16-16M4480 700l93 46M4481 2516l53-45l86 46l32-22l83 30l52-55l-55-68l-71 20l-9 73M4489 2369l49 51l83-35l3-62M4493 2166l17-84M4497 121l36-36l95 18l19 73l-67 36M4506 3073l8 69M4510 3317l5-14M4510 3733l28 9M4511 4108l30-61M4514 1930l23 0M4515 1742l12 31M4521 0l13 11l-1 74M4527 3874l48 49M4530 2825l61 83l87-53l6-32l71-51l42 20l89-43l7-62l-56-55l-90 90l8 50M4532 2615l79-42l69 58l-2 37l-73 48M4533 458l69 38l67-49l65 15l-3 116l-118 3l-11-85M4534 11l28-11M4534 1709l80-37l44 20l74-42l82 49l2 29l-66 74l-71-4l-21-106M4534 2471l4-51M4538 885l72 67l76-13l9-101l-117-43M4551 3591l21-100l89 14l14 30l-56 104M4552 3466l20 25M4553 1352l57 54l18-3l64-93l89 37l7 59l-76 48l-84-51M4556 1165l9 88l110 8l17 49M4559 1259l6-6M4573 3398l81-25l45 56l-38 76M4574 1024l36-72M4582 1460l28-54M4588 2061l35 28l94-19l-7-113l-29-14M4588 2924l3-16M4597 2750l87 73M4599 1576l15 96M4603 595l10-14M4611 2573l9-56M4616 1553l95-13l24 21l97-21l0-102l105-29l7 5l15 113l5 3l14 125l98-44l2-88l-114 7M4619 693l116 17l8-8l3-110l114-20l32 77l-34 60l-115-7M4619 2182l4-93M4621 2385l40 37M4622 3646l45 25l18 109M4628 103l38-55l56-4l41 62l-44 71l60 58l-51 81l-48-3l-13-128l52-8M4632 0l34 48M4633 1109l16 1l53 104l-27 47M4633 4061l38 79l87-13l20 27M4634 347l35 100M4637 337l43-24M4644 3047l24 40l117-5l11 92l30 21l95-44l-24-91l-99 5l-13 17M4647 176l20 9M4649 1110l60-43l65 11l50-45l-6-82l20-24l109 11l24-22l-37-119l58-31l101 75l42-144l-117-14l-26 83M4649 3914l6-114M4650 3009l105-63l-77-91M4652 1825l27-27M4654 3373l15-63M4655 3155l13-68M4664 4154l7-14M4667 3671l88-28l38 30l-12 99l-25 19M4675 3535l80 27l0 81M4678 2668l69 54M4680 2631l61-51l95 45l33-60l-48-96l35-34l-18-94l42-27l1-77l56-26l59 33l-39 96l-77-26M4682 2295l71 40l-21 67M4686 939l0 1l132 11M4686 940l23 127M4689 2212l42-20l3-110l75-7l37 48l-26 81l-30 11l-59-23M4689 3943l83-49M4695 838l35-29l5-99M4695 3990l93 59l30-12l32-108l113 26l-10 101l-50 25l-85-44M4699 3429l65-2l32 103l73 7l23-100l64-15l9-99l-43-28l43-120l-44-24M4702 1214l101-21l31 99l-53 55M4706 3289l61 20l68-57l-9-57M4710 1957l81-28l15-36l70-28l20-80l-80-57M4711 1540l1-86M4713 3203l83-29M4717 2070l17 12M4722 44l26-44M4728 316l37 38l-8 94l-23 14M4730 809l98 34l61-56l45 10M4731 578l15 14M4732 1650l3-89M4735 2525l6 55M4750 1802l56 91M4753 2335l26-11l59 17M4755 2946l14 3l44-27l16-41l-32-89M4755 3562l41-32M4757 448l67 14l44 92l-8 18M4758 4127l30-78M4763 106l53 3l37 72l-44 51l-30 3M4764 3427l36-36l41 2l51 44M4765 354l96-20l25 70l-62 58M4767 3309l33 82M4769 2949l29 116M4774 1078l33 109l95-31l16-86l33-21l71 18l33 83l-84 67l-69-61M4779 2324l11-109M4781 3772l118 24M4787 2470l34-1M4788 1406l44 32M4791 1929l55 76l62-3l51-55l52 23l26 84l-33 44l-52 5l-44-101M4793 3673l74-18l49 32l-13 107M4803 1193l4-6M4809 232l59 86l-7 16M4809 2075l37-70M4813 2922l111 66l46-76l99 11l15 26l-49 100l-106-32l-5-29M4814 1699l53-53l106 20l5-11M4816 109l54-61l-35-48M4820 2204l61 33M4824 1033l94 37M4828 843l10 84M4829 2881l111-32l9-34l-63-66M4832 1540l21 15l14 91M4834 1292l71 13l32 104M4835 3252l68 44l19-1M4836 2625l1 7M4841 3393l62-97M4846 2123l88-2l3 90M4847 3922l3 7M4853 181l46 3l53-48l35 2l43 88l-73 55l-17-3l-41-94M4853 1555l106-28M4856 2435l70 2l40-80l80 20l55-72l-73-69l-32 8M4858 709l31 78M4867 3655l6-114l105 12l-2 112l54 22l70-74l70 23l20-12l9-116l-65-21l-57 70l23 56M4868 318l72-40M4868 554l84-38l76 36l-27 103l17 28M4869 2565l92-22l8-48l99-49l-22-69M4869 3537l4 4M4870 48l26 2l57-50M4876 1865l77 54l6 28M4886 404l58 20l8 92M4892 649l109 6M4893 2687l98-25l11-70l-41-49M4893 4154l10-73M4896 50l56 86M4896 1785l47-17l34-86l94 49l10 51l-36 45l-27 3l-75-62M4897 3060l32-43M4905 1305l65-60l84 68l-32 81l-78 20M4916 3687l60-22M4926 2437l43 58M4934 2121l18-18M4940 2849l30 63M4944 424l69-44l25 4l34 38l-34 125l-10 5M4947 938l4 111M4949 2815l66-33l79 54l47-21l17-109l-14-18l-117 16l-12 78M4953 1919l65-89M4953 4056l92 49l6-2l63 51M4956 3422l42 28l-1 89l80 18M4957 281l56 99M4957 2340l9 17M4963 3955l13-9M4965 3175l24-2l58-96l-12-28M4965 3323l74-13l9-90l-59-47M4970 1245l1-28M4971 916l65-2l59-69l43 14l49 107l-16 46l-88-8l-47-90M4973 1666l4 16M4978 3553l19-14M4987 138l43-42l86 11l31-82l66-21l44 27l8 94l-84 39l30 112l83-10l12-114l-41-27M4990 0l19 5l6-5M4991 2662l36 42M4998 3450l67-28l-6-96l93-12l38 43l-74 90l-51-25M5002 2592l104-27l7-93l-45-26M5004 2098l54 74l76-15l11-106l-3-2l-37-123l3-7l61-23l15-100l68-3l47 59l-26 64l90 65l51-88l-58-53l-57 12M5009 5l21 91M5011 1970l94-44M5015 4154l30-49M5022 1067l61-63M5022 1394l68 62l-6 61l116 33l2 6l-37 104l-34 0l-55-49M5028 2236l30-64M5030 226l39 8l32 56l84 16l26-30M5030 3687l25 56l107-7l8-100M5034 3800l21-57M5037 2054l105-5M5038 384l63-94M5038 547l110 22l15 33l-28 95l76 37l90-46l9 5l16 120l-55 30l-49-24l-11-85M5039 3310l20 16M5045 1827l63 92M5047 3077l78 27l64-48l-21-84l61-57l-9-59l73-67l68 24l78-86l-12-50l-116-26l-42 64l24 74M5048 3220l90-25l-13-91M5051 4103l53-86l-38-64M5054 1313l50-14l63 58l-3 52l73 55l-37 86M5055 1150l31 9l86-62l66 58l-21 66l-88 13l-43-75M5069 234l70-83l42 13M5069 2923l25-87M5071 1731l60-71M5072 422l81 7l30 71l-35 69M5078 1523l6-6M5081 1782l98 10l-1-119l-13-13M5084 2949l84 23M5090 1456l74-47M5093 841l2 4M5101 2305l33-2l46-106l60-5l45 66l-25 81l-70 12l-56-48M5104 1299l25-65M5104 4017l72 1l51-94l-69-59l-48 9M5106 2565l42 44l133-51l1 1l150-42l52 55l1 20l-58 85M5113 2472l49-21l101 50l18 57M5115 0l32 25M5116 107l23 44M5116 3447l18 40M5134 2157l46 40M5138 859l84-40M5138 3195l30 21l59-9l40-83l-20-47l-58-21M5141 2815l79 41M5144 2688l4-79M5145 2051l72-14l16-106l40-15M5152 3314l16-98M5153 429l43-57l116 38l26-111l58-14l74 72l-4 56l-24 24l2 106l103 16l21 81l58 20l87-79l-2-19l-116-59l-48 56M5158 2706l111 9M5158 3865l35-97l-31-32M5162 2451l28-100M5163 602l119 15l19 71M5167 1357l91-46l46 97l-32 46l-35 10M5169 1896l64 35M5171 1012l3 6l142 29l16-90l-57-39l-88 48M5172 1097l2-79M5173 4154l28-7l5 7M5176 4018l47 64l-22 65M5178 1673l94 9l39-60l-5-24l-104-42M5179 1792l5 4M5183 500l107-4l27 59l105 9l9 102l79 19l22 111l-5 10l10 30l120 55l43-86l-14-47l-31-18l-123 56M5185 306l11 66M5190 3357l37 7l60-58l85 48l64-74l-66-66l-83 48l0 44M5190 3624l88 14l-2 123l-83 7M5199 3508l15-6l80 35l-11 97l-5 4M5213 0l0 4M5214 3502l38-85l84 19l5 76l46 23l60-20l57 40l-52 93l-57 3l-12-11l4-105M5217 1221l49 68l66-21l71 60l-32 71l48 59l74-14l4-101l-41-29l-53 14M5217 2037l28 18l122-46l-4-28M5223 4082l87-19l39 38l2 53M5227 3207l60 55M5227 3364l25 53M5227 3924l29-4l70 70l66-26l15-91l-3-6l-101-11l-47 64M5229 2915l84 37l68-86l-20-53M5238 1155l69-24l53 69l79-12l2-118l-113 2l-21 59M5240 2192l30-51l104-7l26 23l94-38l52 21l62-109l-94-54l-45 46l25 96M5245 2055l25 86M5247 3077l80-81l-14-44M5252 1793l37-62l98 20l-31 89M5257 31l74-31M5258 1311l8-22M5260 2339l59 57l-56 105M5267 3124l108 24l14-12l-19-118l86-26l15-32l-19-67l-71-27M5271 843l4 75M5272 1454l72 81l-38 63M5272 1682l17 49M5276 3761l1 1l102-20l39 38l80-22l43 49l64-5l40-54l-67-78l-68 31l-12 57M5277 3762l26 94M5282 617l35-62M5282 2559l29 92M5283 3634l100 6M5285 2258l114-12l1-89M5290 496l27-75l125 16M5294 266l44 33M5294 3537l47-25M5304 1408l67-9M5306 152l70-10l50 79l92-16l37 91l-85 61M5310 693l95-4l26-23M5310 4063l16-73M5311 1622l88 38l4 81l37 13l86-42l16-41l-81-67l-62 56M5312 410l5 11M5316 1047l12 25M5319 2396l34-2l70-121l25 7l63 108l-81 64l-77-58M5326 813l64 16l14 100l22 11l78-19l33-85M5327 2996l43 22M5332 957l72-28M5332 1268l28-68M5336 3436l42-40l76 33l53-29l42 13l80-49l-26-77l45-64l88 19l40-74l-39-75l-118 54l0 1l29 75M5344 1535l47-11l28-66M5349 4101l93-29l45 73l-8 9M5352 0l75 62l5-1l57-61M5367 2009l3 2l4 123M5370 2011l99 12M5370 3214l5-66M5372 3354l6 42M5376 142l51-80M5379 3742l16-91M5387 1751l16-10M5389 3136l74-6l33-62l-40-76M5390 829l33-27l104 4M5391 1524l70 70l76-80l-13-47l109-68l0-5l120-55l39 50l-50 87l-74-16l-35-61M5392 3964l71 52l-21 56M5396 285l30-64M5399 2246l24 27M5404 3867l14-87M5405 689l18 113M5407 3873l102 14l32-80M5414 1893l34-6l29-54l94-13l7 77l-64 53l-66-63M5422 564l22-21M5426 940l23 124l-8 6M5430 2452l2 65M5432 61l113 93l-27 51M5436 3280l45-1l26 121M5439 1188l34 24l-17 102M5439 2727l79 46l4 57l-70 63M5440 1754l37 79M5447 3515l7-86M5448 2280l99-50l62 64l-56 99l-42-5M5449 1064l51-2l54 60l81-23l6-31l-83-73l-58 67M5452 3648l58 53M5461 1594l0 10M5463 3130l47 58l109-40M5463 4016l18-7l42-97l81 21l8 64l-54 42l-77-30M5466 413l125 40l4 50M5471 2960l114-2l14-78l-77-50M5473 1212l61-13l48 34l19 61l-9 28l41 72M5481 3279l17-14l105 22M5484 2572l118-74l88 98l-11 54l-55 39l-139-97M5487 4145l50 1l32-36l82 9l30-87l53-18l-31-121l39-31l48 4l52 75l-15 43l-80 35l-13-5M5493 1444l31 23M5496 3068l86-5l30-64l78 0l49-138l84 38l39-9l56-104l-71-78l-53 14l-57 137l2 2M5497 1343l95-21M5498 3265l12-77M5504 921l55 59l88-51l39 101l64 1l40-87l-131-45l-12 30M5504 3555l18-1l51-51l-24-90M5509 3887l14 25M5510 685l58-45M5514 1950l0 27M5518 2773l100-66l6-18M5522 3554l66 84l-10 32M5526 1712l51 99l-6 9M5534 1199l20-77M5537 1514l77 41l54-95M5537 4146l3 8M5542 1671l15-6l105 44l5 21l77 40l82-57l-43-56l-84-6l-20-59l86-66l47 23l-29 108M5545 154l28-12l94 44l4 77l107 44l41-65l-52-101l-33-4l-67 49M5546 2140l11 19l-10 71M5553 2393l54 65l-5 40M5555 296l54 18l22 90l-40 49M5557 1665l59-104l63 31M5557 2159l120 3l38-70l-101-63l-6 2M5558 995l1-15M5558 4039l11 71M5573 142l33-101l-32-41M5573 3503l80 12l10 84l43 25l75-13l4-5l4-70l-71-59l-27 2l-38 36M5577 1811l44-12l46-69M5578 1897l84 40l-48 92M5582 1233l95-70l30 11l85-75l-42-68M5582 3063l37 84M5585 2958l27 41M5588 3638l75-39M5599 2880l79-38l-60-135M5601 1294l140-32l10 8l2 69M5604 3933l46-43l53 3M5605 3802l45 88M5606 41l83-4l28-37M5607 2458l117-53l23 8l64-36l6-113l-20-21l-90 0l-37 47l54 115M5609 314l62-51M5609 2294l61-4M5612 3997l69 35M5614 1555l2 6M5621 1799l79 70l46-23l57 24l-2 109l-36 15l-93-61l28-64M5626 660l29 80M5629 3364l1 0l102-29l21-53l-17-40M5630 3364l61 115M5631 404l85 11l37 85l97-7l-1-115l-65-42l-68 79M5635 1099l42 64M5641 1068l45-38M5645 3748l41-7l29 14l27 107M5651 4119l23 35M5657 891l2 8M5662 1709l37-58M5662 1937l10-4M5677 2162l30 81M5678 2842l59 17M5679 2650l115 72M5686 758l104-75l63 64l90-35l13-65l-78-58l-89 63l1 31M5686 3741l20-117M5689 37l45 100M5690 2596l89-61l71 20l32 79l-35 74M5690 2999l56 58l67-29l10-129M5700 805l121 37l-16 93l107 54l68-117l-1-2l-137-45l-21 17M5707 1174l34 88M5711 562l42-62M5713 581l76 71M5715 2092l10-4l40-94M5715 3755l88-30l35 18l10 60l81 36l70-75l3-1l79 60l-40 103l-69 8l-35-27l-8-68M5718 3477l55-75l68 4l22 83l37 16l29 99l48 1l56 88l99-34l1-41l47-61l-43-88l-100 39l-4 48l100 62M5725 2088l96 48l58-26l8-23l-32-89l67-54l82 29l18 31l-11 34l-124 49M5732 3335l41 67M5737 3093l9-36M5740 4154l38-41l75 12l7 29M5742 1476l23 50M5744 1770l2 76M5747 2413l32 122M5747 4019l31 94M5751 1270l104-33l60 80l78-18l27-86l-23-50l-122 13l-20 61M5753 3282l95 10l16 87l90-1l20-94l-89-31l-37 39M5767 141l57-44l78 19l24 39l101 2l7 108l-68 52l-74-88l34-74M5776 3168l98 6l22-27l-18-93l71-50l0-56l68-50l-42-111l43-36l93 29l10 25l-47 104l-57-11M5778 307l6 29M5781 3611l22 114M5785 3606l125 16l19-18M5789 3536l74-47M5790 944l15-9M5790 3866l58-63M5792 1099l45 10l82-97l-7-23M5792 1389l89 10l34-82M5797 2243l24-107M5798 0l16 3l10 94M5801 1979l54 19M5803 1870l56-25l45 15l63-41l77 31l34-11l68 70l74-21l4-112l-16-7l-119 48l-11 22M5811 2377l82 27l16 86l102 18l15 19l97-7l31 30l98-43l45 30l-32 84l-102-10l-9-61M5812 1549l35-6l39-134l114 55l1 8l89 86l13-1l60-63l-9-55l-98-41l-56 66M5813 3028l65 26M5814 3l3-3M5817 2264l118-7l8-76l-64-71M5819 242l73-13M5826 1713l13 4l37-14l41-121l10-2l91 55l8 51l-68 49l-82-32M5827 3984l77 82l42-5l27 18l15 75M5837 1109l38 67M5838 3743l62-40l10-81M5839 1717l20 128M5841 3406l23-27M5842 825l11-78M5842 3941l95-34M5847 1543l70 39M5849 378l112-34l18 32l-26 111l-76 26l1 76M5850 493l27 20M5850 2555l59-65M5853 4125l51-59M5862 2890l87 58M5874 3174l11 79M5881 1399l5 10M5882 2634l126-1l11 13l-1 105M5893 2404l42-35l2-110l109 17l10 104l-19 12l-102-23M5896 3147l94 2l38-92l-79-53M5900 3505l86-51l1-36l101-49l54 85l103-49l0-24l-94-84l-56 40l-7 32M5900 3703l99 61M5902 116l47-103l16-6l0-7M5904 1860l18 84M5912 0l37 13M5918 2786l57 1M5919 1012l87 48l97-117l46 27l89-17l63 85l-20 48l-114 17l-18-133M5927 1580l74-108M5935 2257l2 2M5943 712l63 69l87-31l65 51l55-7l42-127l35-13l64 18l29 40l-6 59l-93 78l-71-55M5943 2181l104-44l-36-99M5946 4061l26-127M5953 487l74 46l-8 83l79 46l-5 88M5954 3378l33 40M5956 647l63-31M5958 1735l9 84M5961 344l5-27M5965 7l49 17l57-24l79 36l27-9l75 44l-32 125l-39 7l-70-63l39-104M5973 4079l104-27l52 95l-3 7M5974 3284l29-15l92 68M5977 3605l56-49M5979 376l112 37l5 79l66 36l86-44l-18-107l-80-24l-59 60M5979 870l27-89M5980 872l119 61l59-132M5986 3454l51 54M5990 3149l37 52l-24 68M5993 1299l60 57l3 42M5997 1163l24-61l140 10l6-9M6002 3763l31-70M6004 1973l40-123M6006 1060l15 42M6008 2633l18-106M6011 2508l26-116M6014 24l20 126l77-10M6018 1635l72-77M6019 2646l122 1l19 62l-49 71M6020 1213l137 19l-3 55l-101 69M6022 2004l104-12l30 31l-5 94l51 30l83-45l74 42l61-85l-28-64l-118 6l-3 4l14 97M6026 1686l41 22l93-31l48 92M6027 157l7-7M6027 533l69-41M6027 3201l79-10l50 87l-5 19M6028 3057l30-8l36-115l-20-25M6034 265l95 25l52-87M6041 3926l63 63l42-8l95 94l37-19l101 28l16 23l59 12l24 35M6046 2276l36-34l98 31l37-37l-15-89M6047 2137l24 13l80-33M6056 2380l56 10l69-79l86 77l-30 47l-94 1l-31-46M6058 3049l65 34l76-55l-1-28l-50-58l76-86l65 81l-91 63M6067 1708l22 109M6071 2150l11 92M6077 4052l27-63M6081 3823l45-8l65 40l82-58l-7-92l-103-10l-37 120M6094 2934l54 8M6098 662l65-38l92 43M6099 933l4 10M6103 1557l69 89l61-25l15-95l34-18l86 68l-48 89l-6 1l-81-45M6106 3191l30-47l-13-61M6121 2805l102 40l1 11M6123 2520l20-84M6126 1992l20-83M6129 290l21 63M6129 4147l96-37l16-35M6132 3659l31 36M6136 3144l112 19l-8 71l70 63l35-4l30-119l-115-22l-12 11M6137 3469l5-15M6141 2647l22-36M6146 3981l55-71l92 37l-15 109M6154 1287l66 81l-66 71M6156 2023l115-18M6156 3278l84-44M6157 1232l10-13l-6-107M6160 1677l12-31M6160 2709l73 19l56-60l-24-47M6162 528l1 96M6163 1494l85 32M6167 1219l128 3l22-73l-36-63M6177 27l8-27M6180 2273l1 38M6180 3557l81 0l33-104l-49-48M6191 3855l10 55M6199 3028l64 50l71-42l-31-96l-14-3M6217 2236l78 9l66-95l79 59l101-37l1-2l-27-96l52-76l12-3l47-89l-79-91l6-16l72-45l-3-79l86-36l44 92l-60 49l-67-26M6220 196l58 32l96-51l-48-124l5-7l92-31l51 31l16 74l-91 65l-25-8M6220 1368l26 1l56 88l-20 51M6220 1888l44 28l80-47l72 71l52-21l27-77l-92-56l-53 35l-6 48M6223 2845l34-41l-24-76M6224 1776l40-11l86 56M6225 4110l24 44M6230 377l64-48l-16-101M6237 2435l15 72M6238 953l49-87l87 53l13 88l-86 31M6245 3381l65-84M6246 1369l70-63l89 67l1 51l-5 7l-99 26M6248 484l43 22l91-20l47 76l77 17l56-63l110 54l-11 77l99 49l-8 62l-95 45l-38-45l17-93l25-18M6252 71l74-18M6257 2804l56-2l60 64l63-42l50 9l25 31l109-24l11-25l107-15l13-71l-57-53l15-74l80-26l54 65l-15 57l-77 31M6260 3152l3-74M6261 3557l31 38l-11 96l-15 14M6264 1765l50-99M6264 1916l10 85M6267 2388l35-10l31-70l93-11l14-88M6273 3797l72 42l-4 82l-48 26M6281 3691l127 21l31-77l-33-59l-114 19M6284 849l3 17M6289 2668l47 12l54-60l87 37l-2 40l-68 43l-45-12l-26-48M6290 654l1-148M6294 329l74 22l73-78l78 16l11 15l93 14l24 97l-87 51l-53-47l23-115M6294 3453l60-5l67 80l-15 48M6295 1222l24 40l-3 44M6295 2245l38 63M6297 2537l36-6l35-96l53-7l61 71l-11 25l-88 41l-50-34M6302 2378l66 57M6303 2940l64-42l6-32M6313 2802l49-74M6317 1149l118-13l-42-127l-6-2M6318 0l13 46M6319 1262l128-28l-9-96l-3-2M6320 1665l92 53l60-36l19 4l62 113M6334 3036l30 9l87-72l0-2l55-39l5-68M6341 3921l72 41l-34 122M6345 3293l54 37l102-76l59 78l-17 57l-44 24l-91-44l-9-39M6345 3839l83-49l63 90l82-15l30-54l-29-77l-141 37l-5 19M6354 672l75-110M6354 3448l54-79M6359 2144l2 6M6364 3045l40 78l-12 41l111 70l36-36l-3-109l-29-10l-103 44M6367 2898l84 73M6368 351l37 85l102-17M6368 1576l50-15l-17-130M6369 4154l26-47M6374 919l99-63l-96-85M6375 3174l17-10M6382 486l23-50M6383 712l109-11l37 65l90-8M6383 2565l7 55M6392 1995l24-55M6393 1009l86-17l21-122l-11-12l40-92M6399 185l42 88M6403 1786l9-68M6405 1373l67-63l84 61l-3 51l84 45l-14 76l-48 31l-63-36l7-90l34-26M6406 1424l113 24M6407 2740l29 84M6408 3712l25 59M6413 3962l46-12l80 78l-85 91M6418 1561l19 8l35 113M6420 2059l95 15M6421 2428l44-87l-39-44M6421 3528l64-30l93 55l-43 82l43 86l-4 13M6423 15l1-15M6437 1569l75-31M6438 1138l56-20l32-93l-47-33M6439 3635l96 0M6447 1234l25 25l0 51M6451 2973l56 106M6459 3950l32-70M6465 2341l51 0l55-58l-30-111M6468 1919l99 79M6471 2524l39 101l56-3l51 78l77-24M6472 1259l97-31l53 87l-66 56M6473 856l16 2M6474 46l71-46M6475 2697l48 51l75-7l33 74M6477 2657l33-32M6482 2499l59-18l27-56l89-15l4-107l-90-20M6485 3498l14-85M6486 2833l37-85M6490 120l69 33l77-113l2 0l59 44l2 98l-28 23l-106-40l-6-12M6491 1686l83-46l48 35M6492 701l33-63l111 27M6494 1118l93 44l33-78l-50-67l-44 8M6495 1842l52-27M6500 870l42 14l58 87l43-10l35-88l-23-37l-113 48M6501 3254l2-20M6506 579l19 59M6506 2932l78 37l65-33l-29-96M6516 2341l52 84M6519 289l46-124M6536 3089l37-20l74 21l56-44l48 8l37 56l121-29l-64-111l-31 1l-63 83M6539 3198l126 12l7-11l103-31l13-58M6539 4028l12 0l66 76l-23 50M6541 2481l70 75l40-5l58 51M6542 2170l121-21l43-66l-1-11l-126-77M6543 3389l79 63l-39 99l90 37l68-51l47 14l37 73l-81 86l-59-36l-12-86M6551 4028l70-75l54 4l44 63l-33 76l46 58M6560 466l2 50M6560 3332l96-27l30 125l23 9l75-43l99 57l41-66l81 3M6566 2622l45-66M6569 1228l22-54l-4-12M6570 1017l30-46M6573 3069l11-100M6573 3865l48 88M6574 1640l1-66M6578 3553l5-2M6578 3721l107-47M6590 0l46 40M6591 1174l110 21l23-105l95 9l19 32l-56 98l-69-17l-12-17M6598 2741l19-41M6603 3811l100 9l49-81l100 45l51-25l91 93l-4 13l-105 61l61 109l59-44M6617 4104l69-8M6620 1084l86-15l3-59l62-46l84 35l9-4l33-97l57-14l51 41M6622 1315l34 3l36 34l1 89l-56 26M6622 3452l64-22M6623 318l47-40l84 40l-31 110l101 19l20 33l-53 86l-86-20l4-110l14-8M6623 1543l101 55l-16 41M6626 1906l84-21l-18-105M6638 40l37-40M6643 961l66 49M6647 415l62 21M6647 3090l25 109M6649 2936l18 7l82-34l16-72l-27-37M6651 2551l47-106l37-1l68 78l-14 54M6655 836l2-33M6656 1318l57-106M6656 3305l17-23l116 30l-5 84M6657 2410l41 35M6661 2303l48-35l-46-119M6665 3210l8 72M6667 2943l36 103M6670 278l1-73M6672 570l33-24M6675 3957l53-78l103 21l10 15l44 11M6678 873l79 22l65-64l-70-73M6692 1352l96-23l17-64l118-1l11 11l71 6M6693 1441l10 5l120-20l12 78l-83 43l-49-101M6697 84l77-21l51 40l64-65l-16-38M6699 182l69 6l48 67l54-18l27-72l-71-60l-58 83M6703 3820l25 59M6705 2072l46-67l-32-115l-9-5M6706 1069l18 21M6706 2083l126 72l69-67l95 48l9-6M6709 2268l27 4l66 93l-67 79M6709 3439l32 98M6719 1890l96-30l18-86l-25-36l-56-7M6719 4020l72-5l57 72l-15 46l13 21M6724 1598l13-8l119 50l-48 98M6736 2272l96-75l0-42M6737 1590l15-43M6744 3710l8 29M6748 4154l85-21M6749 2909l65 62M6751 2005l126-8l-2-88l102-64l22 8l6 21M6754 318l41-15l60 64l-31 80M6757 895l14 69M6760 696l43-28l101 74l-79 89l-3 0M6765 2837l101-5l32-59l-70-75M6774 63l3-63M6775 3168l60 65l91-69l76 50l3-2M6782 1229l23 36M6788 1329l49 71l61-13l36-112M6788 3551l96-92l-1-6M6789 3312l46-38l75 42l90-60l5 5M6791 566l27 53l-15 49M6791 4015l50-100M6795 303l21-48M6802 2365l47 2l33 31l113-17l-32-126l-63 2l-51 110M6803 2522l78-30l47 29l-1 95l-84 25M6815 1860l60 49M6818 619l94-16l42 81l-27 54l54 61l24-3M6819 1099l36-100M6823 1426l14-26M6825 103l1 2M6825 831l72 67M6825 3624l56 11l47-43l77 18M6831 3900l21-116M6832 2197l68 60M6833 1774l101-2l43 73M6835 1504l55 36l57-19l57 43l-17 110l18 7M6835 3233l0 41M6838 1131l78 23l7 110M6844 480l40 9l47 75l-19 39M6845 2970l54-57l89 13l17 3M6848 4087l95-39l52 66l-21 40M6855 367l68-11l25-63l-78-56M6856 1640l6-3l105 47l-33 88M6862 1637l28-97M6864 995l97 40l44-41M6866 2832l33 81M6877 1997l17 16l111-34M6881 2492l1-94M6881 3635l35 88l89-23M6884 489l86-65l-47-68M6884 3459l41 41l80-6M6889 38l67 13l13-51M6894 2013l7 75M6897 165l42-12l27-90l39 6M6898 1387l65 49l42-17M6898 2773l57-14l21-109l-49-34M6903 3759l13-36M6904 742l23-4M6909 3081l4 2l13 81M6910 3316l14 71M6913 3083l65-35l27 11M6916 1154l56-40l33 12M6925 3500l3 92M6928 2521l67-25l10 6M6931 564l69-16l-12-119l17-5M6939 153l59 42l7-2M6943 4048l3-13M6947 1521l16-85M6948 293l31-14l19-84M6954 684l51-14M6954 884l27-85M6955 2759l50 33M6956 51l10 12M6961 1035l11 79M6963 2255l31-28l11 3M6967 1684l20-10M6970 424l18 5M6976 2650l29-8M6978 3048l10-122l17-70M6979 279l26 12M6990 3865l15 30M6994 2227l2-91M6994 3852l11-8M6995 2381l9 6l-9 109M6995 4114l10 1M6999 1853l6-4M7000 548l5 2M7000 3256l2-42M7004 1564l1 0M7004 2387l1 0M6377 771L6425 887M1285 979L1295 849M1285 979L1317 839M5614 2029L5691 2136M2319 608L2314 460M2123 815L2125 946M2123 815L2086 955M5980 872L6122 882M4964 1530L5077 1575M4964 1530L5076 1598M6473 856L6330 892M1344 2282L1431 2417M5999 3764L5907 3649M154 210L255 311M165 1904L36 1909M165 1904L29 1889M5432 61L5489 -65M5659 899L5769 989M5461 1594L5577 1536M5918 2786L5902 2917M247 2433L151 2512M247 2433L162 2553M4076 3885L4209 3910M4076 3885L4220 3934M2403 4041L2277 4000M2403 4041L2269 3959M1893 2500L1760 2579M1893 2500L1747 2575M5142 2049L5056 1949M6671 205L6545 219M6671 205L6526 271M5135 697L5003 732M3869 1560L3996 1603M3952 3635L3831 3699M3952 3635L3801 3681M3916 2396L3846 2526M3916 2396L3870 2549M1834 4001L1748 3909M2564 686L2500 818M2564 686L2522 862M2965 3043L3023 2939M347 131L487 158M6825 831L6866 714M6825 831L6829 687M2456 3446L2425 3327M2456 3446L2454 3304M4709 1067L4737 944M1137 2650L1035 2724M1137 2650L996 2700M5626 660L5754 619M5626 660L5778 641M4989 3173L5096 3094M4989 3173L5113 3100M2735 896L2668 757M2735 896L2646 758M1658 2255L1643 2128M1117 2587L1248 2547M1117 2587L1267 2562M6519 289L6612 183M4940 2849L4813 2837M4940 2849L4802 2805M396 3836L537 3822M396 3836L542 3802M4976 3946L4926 3803M4976 3946L4914 3798M1070 268L1041 123M1070 268L993 106M6213 794L6212 647" fill="none" stroke="#000" stroke-width="17" stroke-linecap="round" stroke-linejoin="round"/></g>
<rect x="769.5" y="665.5" width="713" height="427.9" fill="none" stroke="#55407F" stroke-width="12.5" stroke-linejoin="round"/>
<g transform="translate(775.7 1312.1) scale(.1)"><path d="M0 103l11 4l89-87l0-5l-12-15M0 183l24-40l79 44l-20 102l86 31l43-42l81 9l26 49l-24 55l-112 13l-2-1l-12-83M0 267l50 38l-17 49l-33 9M0 476l63-20l40 81l45 10l25 50l-28 67l-54 11l-53-77l65-61M0 591l5 4l33 3M0 605l5-10M0 740l1 1l60-13l60 72l-37 79l-28 9l-56-64M0 744l1-3M0 937l24-2l39 99l-63 41M0 1160l60 38l-4 69l-56 20M0 1418l6 7l-6 7M0 1581l18 13l-3 47l58 70l-73 74M0 1650l15-9M0 1793l26 55l-26 21M0 1976l32 7l44-88l77 33l-56 87l-38 2l-27-34M0 2091l36-13l58 61l-27 53l37 70l-83 65l-14-4l-7 4M0 2193l67-1M0 2307l7 16M0 2470l24 5l35-78l-38-70M0 2571l35-13l9-40l132-21l21 31l103 2l38-108l122 51l2 8l118 76l-64 84l35 68l-72 92l-16 1l-67-79l49-89l71 7M0 2696l41 8l27-91l107 3l22 39l-34 74l-119-20l-3-5M0 2796l33-15l54 58l-7 49l-80 15M0 2994l34 39l23-9l46-104l-23-32M0 3063l23-8l28 105l-21 24l-30-6M0 3281l32-8l-2-89M0 3416l58-30l68 60l-8 59l-40 28l-65-15l-13-51M0 3527l13-9M0 3661l18 5l69-38l51 21l75-38l-6-62l-89-44M0 3800l52-33l-34-101M0 3875l60 43l55-16l19 7l94-29l-21-114l-58-17l-52 30l18 123M0 3990l24 4l21 54l-36 44l-9 0M6 1425l64 0l28-116l86-9l49 106l-5 18l-135 23l-23-22M9 4092l17 60M11 107l13 36M18 1594l82-45l73 39l-15 99l-43 32l-42-8M23 3055l11-22M24 935l32-47M24 2475l20 43M24 3994l36-76M26 1848l34 13l72-63l-17-79M32 3273l44 35l33-8l71-96l0-13l-32-34l10-98l26-19l122 22l3-3l-20-127l-77-18l-30 22l2 104M33 354l40 78l-10 24M33 2781l11-72M35 2558l33 55M36 2078l23-61M45 4048l78 12l37-30l-26-121M50 305l33-16M51 3160l97-3M52 3767l45 12M56 1267l42 42M57 3024l101 35M58 3386l18-78M59 2397l110-1l10-59l-49-69l79-81l75 72l78-61l-10-60l-85-22l-58 67l0 4M60 1198l59-40l70 20l26 74l86 2l47 66l87-49l-12-80l-83-15l-39 78M60 1861l16 34M61 728l30-53M63 1034l41 14l15 110M73 432l108-29M78 3533l9 95M84 879l92 52l58-62l-9-55l-43-31l11-73l74-26l34 25l4 60l-80 45M87 2839l94-51l25 16l6 110M93 1447l7 102M94 2139l44-13l71 57M97 2015l62 43l-21 68M100 15l17-15M100 20l72 62l104-58l43 50l-31 85l41 53l-36 75M103 187l73-25l11 7l101-10M103 2920l79 16M104 1048l74-36l66 105l67-4l29 63M104 2262l26 6M109 3300l102 67l61-57l-92-106M121 800l61-17M123 4060l15 92M126 3446l80-44l5-35M132 1798l56 32l72-30l5-68l-107-45M138 3649l11 100M145 664l48 46M148 547l54-57l-19-86M153 1928l24-4l11-94M159 2058l36-15l54 18l61-65l30 4l46 93l78-10l20-35l-55-107l-14-2l-75 61M160 4030l90 7l15-16l-27-136l73-16l58 52l-16 84l-88 16M163 2729l18 59M169 2396l13 20l152-3l4 9M172 82l4 80M173 597l90 9l4 78M173 1588l32-13l97 45l58-54l-15-71l-97-30l-43 110M175 2616l22-88M176 931l12 63l121-8l11-13l-2-72l-84-32M176 2497l6-81M177 1924l18 12l73 0l42 60M178 1012l10-18M179 2337l103-48l2-30M180 3191l109-45l17-84M184 1300l31-48M187 169l25 109M189 1178l55-61M195 1936l0 107M197 2655l89 8l37 63l73-3M202 490l75 25l53-50l-35-74M206 2804l86-20l60 98l-63 50M206 3402l68 78l-67 69M207 3766l50-32l-4-98l-40-25M228 1424l20 41M228 3880l10 5M229 4152l37-15l22 15M233 1406l113-66l2-20M249 2061l18 55M250 4037l16 100M253 3636l80-22l47 54l73-6l34 38l2 40l-63 57l-76-21l-8-15l38-93M257 3734l85 27M260 1800l51 49l-43 87M263 606l21-23l-7-68M265 1732l43-39l-6-73M270 0l5 5l5-5M272 3310l15-1l86 77l-77 95l-22-1M275 5l1 19M282 2289l59 75l98-58l76 57l2 25l-57 85M284 583l100 21l-15 75l60 52l52-26l15-41l-94-74l-18 14M286 2663l45-86l79 6l52-102M287 3309l61-90l-59-73M292 2784l31-58M296 3481l56 66l-19 67M300 2530l31 47M301 709l68-30M305 769l37 27l0 83l-24 22M308 1693l99 31l54-124l3-1l74 32l19 105l-101 38l-27-8l-22-42M309 986l18 101l-16 26M309 3059l65-6l59-94l-45-73l-36-4M311 1849l43 1l61 89M311 3869l39-93M319 74l64 1l46 71l85-11l11-75l-65-60M319 336l89 0l30-70l-40-60l-69 6M320 973l120 10l10-51l76-32l49 33l-7 67l-24 17l-100-24l-4-10M327 1087l96-19l55 71l-55 52M329 4152l61-17l8 17M330 465l31 5l50 100l68-35l14-49l-62-60l-70 44M334 2413l7-49M342 796l75-22l30 44l-29 66l-76-5M345 1495l67-69l-66-86M348 3219l68-3l47-57l-8-37l-81-69M352 2138l34-45M352 3547l77-15l45 52l-21 78M353 4005l47 39l96-55l55 74l-11 60l-132-17l-8-62M354 1850l75-84M360 1566l101 34M362 2198l74 41l3 67M369 3921l87-31l45 76l92-33l51 47l59-29l3-107l-108 19l-5 70M373 3386l13 0l65-83l108 22l0 24l-60 97l-42 8l-71-68M383 75l57-75M388 2886l75-84M390 4135l18-29M398 206l31-60M402 590l9-20M408 336l31 48l103-22l9-66l98-20l14-39l-34-73l-87 1l-28-30M410 2583l35 51M412 1426l18 2l74-78l-16-54l-53-25M416 3216l35 87M417 774l12-43M418 884l32 48M423 1068l21-75M426 3797l31 88l108-55l33 33M429 1941l76-48l-49-119M429 3532l28-78M430 1428l64 69l92-22l9-25l-27-78l54-52l74 16l7 78l-108 36M431 426l8-42M433 2959l98 14l19-25l127 2l28-79l-67-54l-88 44l0 87M436 2239l78-58l10 2l77 93l-3 18l-83 69M438 266l82-5l22-96M447 818l75 6l31-31l1-13l60-65l78 47l55-69l-69-74l-66 72l-77-51l11-46l54-34l78 55l0 4M455 3122l85-102l-9-47M456 3890l1-5M463 3159l70 19l83-56l4-36l84-53l6-15l96-22l32-45l-2-10l81-108l-9-19l15-72l116-22l9 10l6 89l-71 54l-66-40M464 1599l30-102M464 2083l50 98M474 3584l82-16l48 54l-13 36l-104 42M478 1139l3 0l72 92l-65 65M479 535l67 59M479 2801l71 60M481 705l73 75M481 1139l53-36l95 28l-16 86l-16 15l-44-1M484 2048l92-30l-43-121l65-37l46 14l25 99l-80 50l-13-5M489 3740l74 54l2 36M493 486l55-21l56 49l-4 46M496 664l39-24M496 3989l5-23M499 3446l69 59l92-45l6 1l25 88l88 24l29-17l2-74l-118-40l-26 19M504 1350l64 22M505 1893l28 4M517 2388l113 69l-42 98l69 44l95-32l1-62l-81-68l-42 20M520 261l31 35M522 824l4 76M524 2183l98-72l-33-88M525 60l104-45l-3-15M533 3178l53 116l20-5l104 41l53-85l-27-56l29-49l88-23l3-8l95-55l-37-77l-76-26M534 1103l10-86M538 1631l80-41l59 60l79-20l-1-106l-8-9l-120 30l-9 45M539 4152l4-23l-3-6M540 3020l80 66M542 362l25 34l87 1l30-54l84 1l38 47l-20 52l55 87l-35 45l-81-11l-22-86l83-35M543 4129l113 21l39-57l-57-73l6-40M548 465l19-69M551 2709l89 17l16-12l1-115M551 4063l87-43M553 793l79 49l65-48l57 37l1 59l-69 41l-54-29l0-60M556 3568l12-63M557 1736l21 10l81-22l18-74M559 3325l27-31M559 3349l101 111M563 3794l61-56l-33-80M568 1000l74 33l52-29l57 28l15 33l-62 66l39 71l75-13l-30-113l-22-11M575 933l57-31M578 1746l20 114M580 2557l8-2M586 1475l41 70M597 1232l25 88M598 2294l90 89l-16 54M601 2276l72-46l-21-107l78-27l50 83l-54 63l-53-12M604 514l78-46l21 10M604 3622l42-10l91 73l17-4l47 26l85-32l-6-87l55-36l74 29l19 75l-2 6l-108 33l-32-20M606 3289l68-102l62 2M612 691l2 24M613 1217l106 21l10 66l-33 32M616 3122l58 65M622 2111l30 12M624 3738l55 11l33 89l60-3l39-31l-10-97M629 15l13 10l134-25M629 164l33-52l-20-87M629 1131l8-6l67 6M637 1125l5-92M638 2817l2-91M644 1874l59-35l11-66l-55-49M646 3612l45-63M649 276l35 67M654 397l28 71M656 2714l112 7l14 87l126 6M656 4150l1 2M662 112l122 20l27-35l-24-97M663 237l121-21l0-84M669 1973l39 12l30 95l86-24l55 47l6 0l63 85l45 4l28 34l-41 108l-81-18l-27-44l1-17l75-67M677 2950l33 68M678 615l47-51M679 3749l58-64M686 931l8 73M688 2383l59-35l93 68l5 23l-92 66M692 762l5 32M692 3442l31-79l105 10l17 71l85 17l39-32l105 75l0 2l-65 75M695 4093l47-7l47-97l-86-38M703 1414l38 31l94-53l-37-75l-69-13M703 1839l76 51l53-36l86 54l1 46l-87 31l-57-42l4-53M704 3033l61 107M705 2871l51-15l80 85M706 3844l6-6M708 1985l67-42M710 3330l13 33M714 1773l60-23l15-96l53-8l57 65l-18 56l-41 22l-66-39M719 1238l24-36M726 2242l31 62l-10 44M730 2096l8-16M741 1445l6 70M742 4086l67 66M747 693l47-2l31-40l93 6l26 88l-88 47l-20-6l-42-95M751 1032l71-92l30-1l37-48l-33-99M752 2567l26 24l-7 126l-3 4M754 831l82-45M754 3681l25-108M755 890l67 50M755 1524l106 0l24-39l86-5l29 58l66 8l42-36l76 26l-35 115l-46 7l-27 94l-58 9l-53-72l16-41l102-5l20 15M756 1630l33 24M756 2856l26-48M757 2304l115-32M763 3245l81 21l46-75l98 12l12-98l112-19l18 95l-137 28l-5-6M768 344l32-109l-16-19M771 2717l121-15l31 40M772 3835l55 128l74-50l76 26l2 110l-87 9l-71-81l6-14M778 2591l109-1l19-110l44-12l88 50l-6 92l-127 1l-18-21M780 2179l36 1l57 75M788 1076l90-16l20-42l-46-79M789 3989l32-12M798 1317l53-65l57 17l50-28l-12-93l-37-13l-86 56l28 61M800 235l105 18l43-60l114 18l19 77l-39 44l-52 10l-72-42l-13-47M806 391l50-7l82 77l-43 61l56 88l89-13l-31-119l-54-21l-17 4M806 575l19 76M806 2996l50 113M808 3556l72 32M810 3482l35-38M811 97l115 10l48-66l-19-41M811 3804l81 16l36-28l-10-97M816 2180l63-77M818 1189l5 2M824 2056l8-71M828 3373l38-56l64 11l44 79l-5 22M832 1854l8-65M835 1392l18 6l32 87M840 2416l59-100M841 530l54-8M842 1646l41-61l78 15l20 48M844 3266l22 51M845 2439l61 41M846 4152l46-94M853 1398l62-37l65 19l16 52l-25 48M853 3117l37 74M856 384l62-84M861 1524l22 61M878 1060l31 75M881 1767l94 60l43-66M885 2103l47-40l104 23l6-4l2-103l37-39l93 34l77-96l-77-71l-40 2l-58-57M889 891l105-5l8-12l-27-117l74-34l73 35l-4 91l-116 25M892 2702l13-91M892 3820l9 93M898 1018l103-9l15-16l82 7l65-70l-2-39l126-63l-17-70l68-85l13-1l110 88l-31 57l-123 25l-20-14M899 1711l66-22M908 1269l7 92M914 2977l74-72l-5-32M918 657l33-47M918 1908l58-64l-1-17M919 1954l9 10l116 15M926 107l22 86M928 1964l4 99M928 3792l83 17l41-39l98 14l22-107l-28-34l16-87l44-22l64 22l30 66l-22 49l-104 6M930 3328l68-73l74 59l-4 41l-94 52M930 3461l5 91M944 745l31 12M946 1148l60-32l-5-107M950 2468l47-109l94 17l2 3l0 102l74 31l67-52l-15-86l-126 5M951 3054l8 2l98-85l-69-66M955 457l35-115M958 1241l41 15l21 76l-40 48M959 3056l41 49M961 1600l39-62M974 41l62 4l45-45M976 1844l98 56l60-91M977 3939l50-36l-16-94M979 4049l18 15l122-42l38 99l-16 29l-6 2M980 2334l17 25M993 2192l43-106M993 3209l5 46M993 4152l16-13l21 13M994 886l22 107M996 1432l98 9l14 69M997 4064l12 75M999 1256l67-38l5-72l-65-30M1009 478l75-39l53 15l-3 67l92 70l-50 59l2 71l92 37M1020 1332l73 7l29 60l67-2l43 52l76-17l20-51l93-12l37 91l-94 47l-56-75M1021 2226l96 10l-26 140M1026 3662l26 108M1027 3903l59 16l33 102l93-33l19-68l-83-48l-62 47M1028 3656l116-13M1032 2610l6 7l144-5l-15-100M1036 45l72 100l43-5l66-122l-32-18M1038 2518l55-37M1038 2617l1 103M1040 597l9 4l3-1l124 50M1042 332l42 107M1042 2082l76 22l80-56l-24-74M1048 2730l124-6l10 93l-57 39l-71-37M1049 601l0 122M1052 600l82-79M1057 2971l1 0l69-45l66 35l59-31l0-86l-70-27M1058 2971l57 110l74-34l4-86M1062 211l46-66M1066 1218l65 50l-38 71M1066 1546l17 97M1068 3355l52 57l-46 92M1071 1146l67-35l6-15l114-52l34 42l-9 89l-8 9l-74 8l-63-81M1072 3314l69-42l68 46l69-35l35 12l30 109l-15 21l9 57l-69 74M1074 1900l7 40M1074 3506l86 50M1081 288l70 19l61-25l64 105l-86 51l-25-1l-14-130M1094 1441l28-42M1098 1000l46 96M1112 3086l3-5M1117 2236l22-13l53 10l29 138l-2 3M1118 849l43 42M1118 2104l21 119M1119 4021l0 1M1120 3412l76-7l14 14l-6 115M1122 758l56-37M1125 2856l2 70M1130 3181l12 11l107-18l29 109M1131 1268l34-7l59 60l-35 76M1137 454l28-17M1141 3272l1-80M1141 4150l1 2M1148 3872l3-87l-1-1M1149 1651l79 45l-54 111M1151 140l96 70l69-84l104 7l9 9l-13 101l-65 31l-102-53l-2-11M1151 3785l125 10l27-65l105 5l38-43l-53-82l-95 12M1157 4121l80-10l20 41M1163 930l97 73l65-56l89 30l54-60l-38-100M1165 1261l36-69M1172 2724l25-31l-4-71l89-30l76 54l6 33l-68 51l-99-37M1182 2612l11 10M1184 1536l24-9l24-78M1189 3047l63 34l14 68l107 8l19-22l-10-90l-54-30l-76 66M1190 438l82 104l49-33l91 16l14 53l-75 94M1192 2233l30-15l112 38l-13 85l56 53l-56 96l106 60l34-84l-58-73l-26 1M1196 3405l13-87M1198 2048l59 24l88-89l105 80l81-98l-75-77l-112 42l1 53M1208 1527l62 41l-13 121l-29 7M1210 3419l118 6M1212 282l37-61M1212 3988l66 70l17-3l59 39l78-26l-6-86l-47-29l-30 9l-54 93M1217 18l44-8l8-10M1221 2371l100-30M1222 2218l45-122l-10-24M1224 1321l66-10l38 70M1226 591l28-8l84 90M1231 3920l27-12l32-78l104 23l25-19l-11-99M1234 2460l70 35l17-5M1237 4111l41-53M1249 3174l17-25M1251 1878l38-1l55 53M1252 2844l47-30l70 27l16 60l-68 65l-65-36M1254 583l18-41M1257 1689l40 15l40 72l125 0l-34-145l-23-7l-108 80M1258 1044l2-41M1258 3908l91 54M1261 10l55 116M1267 2096l91 47l93-57l44 47l-34 124l-99-21l-4-93M1270 1568l83-23l11-38M1275 1184l27 105l-12 22M1276 387l31 5l14 117M1276 3671l27 59M1276 3795l14 35M1282 2592l22-97M1283 1175l131 15l6-6l117 0l7-114l-116-23l-22 30l14 107M1289 1877l48-101M1292 1086l114-9M1296 2730l3 84M1302 1289l102-28l41 58l-24 50M1307 392l33-19l86 27l25 66l97 3l49-69l-70-92l65-92l-67-77l56-111l23-8l38 12l50 85l70 10l62-92l-33-35M1307 842l18 105M1313 3295l77-44l-17-94M1317 2966l11 49M1334 2256l28-20M1337 3482l85 56l-29 72M1340 373l11-99M1343 3404l93-16l43 65l91-16l29 73l-65 65l-79-50l24-72M1353 1545l52 79M1353 4152l1-58M1358 2646l69-95l0-1M1364 2679l42 25l101-33l12-25l-22-58l-70-37M1369 2841l54-52l-17-85M1379 3953l15-100M1382 3045l74-37l52 53l-17 76l-99-2M1385 2901l79 33l5 9l106 8l34-66l-88-72l-6 2l-51 119M1390 3251l41 17l92-72l53 64l-37 71l-77 3l-31-66M1403 2393l61-58l98 69l-17 48l-84 14M1404 1261l10-71M1412 525l39-59M1414 977l14 70M1416 243l77 66l34-1M1419 3834l94 21l-3 94l48 40l99-37l-7-83l-125-23l-12 9M1420 133l4-133M1422 3538l33-13M1423 2789l92 26M1426 400l67-91M1426 578l89 41l-46 138l-8 3M1426 3982l84-33M1428 1631l78-37l82 33l16-4l10 4l74 102l-50 100l-110-57l60-145M1429 142l96-3M1432 4068l34 25l87-28l48 44l-10 43M1436 3388l26-54M1445 1319l91-12l5-119l131 5l3 78l-52 52l-67 1l-20-17M1446 3692l23-1l72-81l-7-35M1450 2063l1 23M1456 1888l16-105l56-11M1456 3008l13-65M1458 1460l34 12l14 122M1461 2257l11 14l-8 64M1462 1776l10 7M1465 4152l1-59M1468 917l100 11l30-80l117-12l19 105l-26 28l-135-32l-5-9M1469 757l96 21l33 70M1469 3691l74 65l-18 90M1472 2271l107-3l37 101l-54 35M1491 3137l33 42l94-48l-20-94l-90 24M1492 1472l50-24l95 30l-33 145M1495 2133l96 7l33 63l80 15l57-43l109 84l-7 34l-72 50l-69-26l-18-99M1497 2588l76-78l-28-58M1507 2671l39 94l101-23l13-47l-50-58l-91 9M1515 619l55-17l53 110l72 4l36-39l-53-117l-90 16l-18 26M1520 0l61 28M1521 2813l25-48M1523 3196l1-17M1531 1965l30-1l77-135l88 48l16 71l-72 86l-25 2l-84-72M1537 1184l4 4M1539 3331l50 69l-19 37M1541 3610l68 35l12 81l20 11l73-22l19-87l-62-28l-62 45M1542 1448l14-124M1543 3756l78-30M1544 1070l18-14l114 26l2 103l109 2l35 95l81-18l21-96l-92-45l-45 64M1548 469l40 107M1553 4065l5-76M1562 1056l11-119M1565 778l58-66M1573 2510l70 28l-33 99M1575 2951l31 73l-8 13M1576 3260l58 0l28 29l55 4l35 68l-61 54l-60-27l31-99M1579 2268l45-65M1589 3400l42-12M1591 2140l54-104M1592 216l30-1l70-98M1597 400l45-2l69-108l-89-75M1599 3510l59 16l53-42l-20-69M1601 4109l80-22l59 46l71-29l23-53l-59-84l-83 13l-11 107M1604 20l1-20M1606 3024l93-15l1-1l2-99l92-20l22-80l98 11l48-64l-16-61l-72-23l-28-103l111-31l47 40l3 53l-61 64M1609 2885l50-14l43 38M1614 1627l149-40l10-13l57 6l57 108l-81 53l-45-27l2-127M1616 2369l32 5l52 94l-30 61l76 67l91-32l-25-110l144-39l3 5l-2 118M1618 3131l54 28l28-7l69 82l26 0l52-58l-20-73l-104 19l-23 30M1623 1323l52 88l-34 65l-4 2M1634 3260l38-101M1641 1476l117 57l15 41M1641 3737l24 112l-15 20M1642 32l50-32M1642 398l67 64l92-46l-17-94l91-31l46 39l-12 74l-65 34l-43-22M1643 2538l27-9M1647 2742l32 55l122-11l4-60l69-54M1648 2374l74-57M1657 3952l35 28M1658 3526l13 74M1659 2871l20-74M1660 2695l70-29l75 60M1665 3849l93-17l55 62l49-8l40-85l109 14l6 77l29 25l-4 98l27 22l65-8l36-76l-41-46l-83 10M1670 2034l102 88l58-33l17-108l35-21l68 23l86-44l56 74l-52 92l-65-6l-25-116M1672 1193l6-8M1675 1271l82 43l-18 79l58 46l65-15l5-7l-47-131l-63 28M1675 1411l64-18M1676 1082l30-28l119 33l7 36M1678 560l29-33l109 33l40-43l86 23l54-37l6 3l142-45l-76-95l-18 0l-63-56l23-86l-101-45l12-67l-75-77l34-35M1688 1729l73-15M1695 716l30 104l103-15l37 81l-45 61l-86-6M1699 3009l24 113M1700 2468l102-21l10 7M1700 3008l93-1l43-56l-42-62M1706 1054l2-85M1707 527l2-65M1711 290l21-2l58-112l-28-49M1711 3484l33 8l38 56l-22 70l61 34l52-22l15-62l-22-32l-84 12M1714 3715l62 46l43-20l65 20l18 40M1715 836l10-16M1717 3293l52-59M1726 1877l90-62l69 39l72-38l45 11l43 77l-9 35M1730 2666l16-70M1731 677l55-6l60 101l-18 33M1732 288l52 34M1733 3628l27-10M1737 4152l3-19M1742 1948l105 33M1744 3492l78-63l52 61l79-36l3-44l-38-34l-94 30l-2 23M1752 3361l46 9l40-76l-43-60M1758 1533l39-94M1758 3832l18-71M1761 2175l11-53M1775 3967l38-73M1786 671l38-42l-8-69M1790 176l92 21l27-18M1791 2343l11 104M1793 3007l36 91l91-38l-34-105l-50-4M1798 3370l26 36M1801 2786l15 23M1806 1741l10 74M1811 4104l42 48M1819 3741l2-89M1820 947l39 83l-34 57M1820 1286l2-4M1824 35l22 0M1824 629l97 21l16-11l5-99M1827 3103l2-5M1830 1580l72-47l-40-109M1830 2089l101 45l44-35M1834 4051l88-24l17 10l103-22M1837 2564l9 5M1838 3294l76 2l12-13l-3-84l-76-23M1844 438l12 79M1846 772l63-23l12-99M1859 1030l79-9l56 67l-25 62l75 73l42-6l39-74l-75-69l-56 14M1862 3886l58 47l97-41M1863 2293l94 105l-1 17M1865 886l73 6l49-86l-9-21l-69-36M1866 3536l8-46M1867 1417l58-22l26-94l-48-37M1870 2259l56-42l103 45l48-45l5-63l94-32l-4-105l-80-4M1873 3630l64 55l-53 76M1875 291l7-94M1882 1960l3-106M1886 2955l63-48l-35-87M1887 1688l37 4l33 124M1888 3568l85-3l22 37l88 6l18 69l30 19l11 96l-125 15l-3-86l87-44M1902 1533l14 3l81-47l71 49l-92 92l-60-94M1909 404l75 47l12 52M1914 3296l4 80M1920 3060l37 15l29-13l36-74l-56-77l100-63l60 54l-43 80l-61 6M1920 3933l2 94M1921 112l89-44l55 61l80-12l30-43l-3-46l-37-28M1921 330l66-20M1923 3199l33-26l90 27l47-61l93 41l11 53l-61 49l-81-30l-9-52M1924 1168l45-18M1924 1692l51-36l74 34l20 64l-67 73M1925 1395l69 36l75-55l-68-82l-50 7M1926 2217l5-83M1926 3283l91 12l38-43M1937 639l89 19l36-67l-60-85M1937 3685l26-4l51 40M1938 892l34 53l-34 76M1939 4037l25 103l-10 12M1949 2907l17 4M1953 3454l41 47l75-12l35 85l84-13l19-78l-9-16l-112-5l-17 27M1956 3173l1-98M1956 3410l75-39l43 22l67-44l66 37l-9 81M1957 2398l75-84l97 54l-6 96l-3 4l-12 50l64 100l-60 66l3 55l-52 50l-101-33M1959 2420l161 48M1963 3681l32-79M1964 4140l93 3l10 9M1972 945l80 1l33 63l-35 65M1973 3565l21-64M1975 1656l1-26M1978 785l62-97l-14-30M1984 0l31 21l-5 47M1984 451l66-85M1986 3062l103 56l42-72l79-9l14-25l78-33l3-81l70-49l2-24l-95-91l-66 51l-1 70l90 43M1987 806l74 24l61-63l82 37l-41 91l-78-3l-24-62M1994 1431l3 58M2001 1294l43-71M2004 2578l104-60M2007 2631l105 53M2010 224l26-12l29-83M2011 3815l6-8M2015 21l26-21M2017 3295l14 76M2029 2262l3 52M2036 212l104 63l46-66l-41-92M2040 688l68 29l81-78l-63-58l26-116l-8-4M2040 2105l42 49M2045 1904l104-29l58 66l-5 52l-30 24M2049 1690l67-57l61 22l11 21l93 25l27-53l88-18l30 26l-38 101l-99-35l-8-21M2052 946l33-54M2057 4143l12-106M2062 591l64-10M2063 2789l3 59M2068 366l74-80l-2-11M2068 1538l14 0l33-107l89 5l-9 93l-106 14l-7-5M2069 1376l3 0l73-68l2-27l95-52l-13-46l-70-49l-34 9M2069 1754l78 19l20 30l85-4l59 78l-104 64M2072 1376l43 55M2074 3393l12 69M2077 2217l109 46l49-100l38-7l59 33l6 88l-84 54l-53-21l-15-47M2083 2982l48 64M2083 3608l21-34M2085 1009l71 0l32 56l-29 69M2086 1217l61 64M2089 1543l27 90M2089 3118l4 21M2098 4152l79-27l2-46l-45-50M2108 717l14 50M2115 2739l101 46M2123 2464l137 6l15 81l117 34l-7 72l-99 57l-66-96l55-67M2126 2902l40-2l49-45M2129 2368l72-58M2129 3907l33-96l50 0l46-42l5-70l108-18l17 112l49 10l45 96l-23 32l-88 10l-38-52l28-79l27-17M2131 3696l97-38l35 41M2136 3282l5 67M2142 286l76 62l-47 112l67 32l87-37l-19-98l-27-20l-61 11M2142 3792l20 19M2145 1308l86 73l46-48l101 13l8-75l-57-47l35-94l66 27l11 78l78 27l42-58l-65-84l-66 37M2147 1773l41-97M2149 1875l18-72M2152 465l19-5M2156 1009l40-65l-33-49M2166 2900l58 112M2170 3953l57-1l35-57l71-6M2172 28l35-28M2172 2618l48 0M2175 74l126 40l-16 92l9 12l109 17l58-79l-4-10l-133-52l-23 20M2176 2122l59 41M2177 1655l53-91l38 1l40 83M2177 4125l26 27M2179 4079l85-42l37 73l41 18l54-66l-44-71l-82 25l-6 21M2186 209l99-3M2186 3180l55-67l92 21l40-66l-11-51l-60-38M2188 1065l87-7l25 42l-71 83M2188 3561l44 55l-4 42M2189 639l2 0l60-53l-13-94M2191 639l61 82l49-2l55-70l-6-44l11-15l101-25l34 33l-10 84l-50 19l-80-52M2195 1529l35 35M2196 944l43 2l46 75l98-47l-91-79l-53 51M2197 3233l58 29l-6 101l80 29l20-10l26-75l-77-58l-43 13M2202 1993l96 46l58-24l42 24l92-31l50 40l-12 90l-62 34l-53-22l-15-111M2204 803l48-82M2204 803l0 1M2204 803l93 55l-5 37M2204 1436l24-21l80 44l-4 74l-36 32M2207 3386l42-23M2207 3483l100 7l22-98M2210 3037l31 76M2212 3811l50 84M2227 3952l43 64M2227 4152l74-42M2228 1415l3-34M2232 3616l94-49l63 87l-18 27M2242 1229l15 8l72-13M2251 586l99 19M2252 1799l37-77M2254 2331l32 103l83-3l65 115l37-3l50-120l-92-65l-60 73M2257 1237l20 96M2258 3769l103 41M2260 2470l26-36M2273 2156l25-117M2275 1058l10-37M2279 337l15-119M2282 2734l4-20M2287 0l44 45l-7 49M2297 858l59-39l73 105l43-13l31-83l-89-48l-52 24l-6 15M2298 3249l43-91l-8-24M2300 1100l58 21l6 9M2301 719l61 85M2304 1533l84 24l8 73M2306 357l119-37l-22-85M2307 3490l27 36l-8 41M2308 1459l52-26l84 65l-56 59M2311 1877l1 0l84-103l64 33l14 83l-119 31l-43-44M2325 455l19 10l80-15l22-115l61-4l51-93l86 17l26 77l-12 27l-112 12l-39-40M2331 45l60-45M2332 2189l81-39M2334 3526l84-21l17-76l-86-47M2338 2277l88 49l3 32M2341 3158l91 47l40-16l70 95l-64 44l-69-35l23-88M2342 4128l5 17l11 7M2343 4152l4-7M2344 465l17 125M2352 3991l19-50M2355 1921l1 94M2358 1121l54-96l98 38l-14 57M2360 1433l19-85l88 16l59-68l77 48l72-38l7-51l-78-61l-43 10M2362 3017l100-85l-87-83M2373 3068l120 23l23-36l-37-121l-17-2M2375 3307l34-14M2377 2825l95-85l-87-83M2378 1346l1 2M2383 974l6 0l23 51M2386 1271l55-36M2388 1757l8 17M2389 974l40-50M2389 3654l33-7l58-86l-62-56M2392 2585l42-39M2396 4062l62 1l26 89M2414 780l22-79M2422 3647l106 83l-91 73M2424 450l45 35l73-24l4-90M2425 320l21 15M2426 1656l47-3l57 49l4 49l82 51l24-9l36-105l-51-49l-95 63M2426 2326l52-53l107 16l16-14l9-92l-82-45M2429 0l49 42l93-32l23 8l19-18M2435 3429l45-23l-2-78M2444 1498l5 0l45-70l98 4l11 16l-44 106l-42 5l-68-61M2457 146l21-104M2458 4063l29-33l85 2l34 93l-8 13l-60 14M2459 3931l28 99M2460 1807l74-56M2461 156l67 24l99-90l-33-72M2462 565l7-80M2466 2172l12 101M2467 1364l27 64M2471 2543l48 29l20 118l-33 50l-34 0M2472 911l76 58l-14 78l109 45l-39 102M2472 3189l29-48l-8-50M2473 1653l44-94M2474 1890l22 19l-6 99M2479 2934l34-22l104 21l13 108l3 2l127-24l1-2l-39-112l-55-17l-50 45M2480 3406l49 22l66-40l8-33l-55-71l56-55l-3-56l45-44l59 25l80-39l3 2l32 79l-41 60l-63-6l-11-96M2480 3561l13-1l51-66l88 19l36-49l34-9l32-69l68-17l56 68l114-59l3-11l-74-72l-82 24l-17 50M2482 3899l68-8l59 88l-37 53M2486 682l48 33l-15 104l81 20l49-44l57 1l32 63l108 10l-27 128l8 11l85 7l46 81l72-2l19-19l3-93l-74-52l-66 85M2493 3560l68 54l80-35l-9-66M2496 598l78-15l29-50l84 21l58-51l63 37l78-30l33 16l74-20l15-113l-68-47l-80 32l26 132M2496 1909l89-17l55 60l-16 71l-84 25M2501 3141l100 32M2503 828l16-9M2506 2740l29 44l-22 128M2510 1063l24-16M2516 3055l114-14M2519 1262l7 34M2519 2572l103-29l49 110l-6 14l-126 23M2521 2423l61-15l3-119M2528 180l30 58M2528 3730l10-1l52 103l84-1l49-73l-54-57l-116 12l-15 16M2529 3428l15 66M2534 715l66-15l49 95M2535 2784l116 27l16 77M2542 461l50 32l84-74l60 37l100-86l-41-56l-125 18M2542 3284l6 0M2548 969l68-37l72 28l7-3l124 40M2550 3891l40-59M2553 3713l8-99M2559 1554l64 53l68-58l-22-85l55-38l91 64l-49 81l14 38l90 26l44-50l-11-64l-66-38l-22 7M2567 0l4 10M2574 583l45 85l84-20l-16-94M2582 2408l24 15l30 94l-14 26M2585 1892l31-90M2592 493l11 40M2592 1432l11-88M2595 3388l73 76M2598 4138l3 14M2600 700l19-32M2600 839l16 93M2601 2275l103 23l52-52l-1-37l-92-57l13-76l102-26l6 4l27 96l-56 59M2603 1448l66 16M2603 3355l77-31l12-56l-88-39M2606 2423l110-42l-12-83M2606 4125l100-17l19-56l87-30l66 45l-70 85M2609 3979l57-7l59 80M2610 2183l53-31M2623 1607l2 32M2624 2023l52 53M2627 90l53 24l13 81l109 37l68-61l-118-97l-72 40M2633 3043l13 86M2636 2517l101-9l29-44l112 35l1 54l-77 63l-29-10l-36-98M2640 1793l85 36l75-58l0-2l82-77l-12-57M2640 1952l95-32l34 22l9 108M2641 3579l40 28l81-21l54 68l48 6l42 94l45 11l31 119l-46 33l-102-26l-5-73l77-64M2643 1092l22-9l69 32l64-23l66 66l-45 87l-86-23l1-107M2644 255l49-60M2651 2811l46-61l-32-83M2658 359l18 60M2665 1083l23-123M2666 3972l40-62l102 6l4 106M2669 3701l12-94M2671 2653l102-47M2674 3831l32 79M2675 1306l60 62l80-27l49 58l86-16l-9-100l-106-6l-20 64M2676 1688l59-5l65 86M2680 3324l54 62M2682 1255l51-33M2691 1549l75 22M2692 3268l24-18M2695 957l43-98M2697 2750l90 13l25 39l-5 54l-85 49M2702 3455l79 69l69-35l8-52M2703 648l9 5l88-28l8-85M2706 796l30-42l92-7l52 89l-2 9l-32 24M2706 4108l31 44M2712 653l24 101M2716 2381l42 28l72-45l83 50l55-63l-66-88l-65 32l-7 69M2723 3758l8-1l85-103M2724 1426l11-58M2725 1829l10 91M2731 3757l98 61M2735 1683l45-74M2736 456l9 47M2752 74l23-74M2756 2246l81 49M2758 2409l8 55M2760 3019l25 96M2761 3017l74-29l91 58l3 6l69 4l63 103l-2 9l-43 34l-84-7l-22-105l19-38M2762 3586l19-62M2769 1942l82-29l85 90l56-46l3-91l-55-37l-64 18l-25 66M2779 3256l40 63M2784 2054l146-28l6-23M2787 2763l40-88l-25-59M2788 3117l122-27M2795 314l7-82M2798 1092l29-84M2800 625l59 48l-31 74M2800 1771l76 76M2807 2856l50 52l-22 80M2808 3916l26-25M2811 2150l69 14l37 60l-15 39M2812 2802l129-21l13 15l106 5l49-70l-16-32l-133-26l-17 20l-2 88M2819 1245l16 32M2820 3196l94 14l-13 85M2827 2675l116 18M2836 370l24 8M2837 1483l27-84M2850 3489l82 66l2 36l101 64l52-31l-8-129l-61-16l-86 76M2857 2908l85-8l13 13l-29 133M2859 673l61-15l31 16l26 85l57 24l18 52l69 26l13 88l22 13l20 111l80-8l27-87l74-4l43 54l0 21l-97 59l-47-43M2863 0l54 94l97-34l-15-60M2864 1158l54-7l55 98l53-3l46 66l109-23l-6-92l132-21l8 9l1 109l110 9l35-58l90-1l38 100l-1 1l-132 46l-30-88M2864 3660l70-69M2870 171l7-2l40-75M2877 169l83 71l79-19l45-90l70 9l71-88l-9-52M2878 845l100 83l0 2M2878 2499l37-44l-2-41M2878 4067l4 0l58-42l87 21l61-64l0-16l98-77l40 14l44-17l67 39l-4 101l97 8l33 77l-13 23l-113 18M2879 2553l83 53l61-52l89 52l70-40l81 69l104-73l77 75l-1 50l87 57l99-68l-2-42l-76-64l-107 67M2880 836l97-77M2880 2164l64-101l-14-37M2882 1692l77 39l40-20l79 37l56-55l-6-61l-23-23l-84-5l-7 5l-15 102M2882 4067l46 85M2903 1521l76-53l47 31l74-22l11-55l-51-57l-89 33l8 70M2914 1585l100 24M2914 3210l18-15M2915 2455l107 40l50-50l23 0l89 92l79-82l-78-91l-90 81M2917 2224l91-19l10 7l109-15l16-17l-50-105l-83 28l-2 102M2918 1151l40-55M2919 526l1 132M2936 3917l4 108M2940 346l20-106M2940 1829l19-98M2941 1283l32-34M2942 2900l12-104M2944 2063l66 40M2950 1383l21 15M2951 674l87-44l80 72l-84 81M2951 3765l71-42l88 73l24 0l52 93M2955 2913l71 13l28 76l-56 54M2960 2673l2-67M2968 2351l52-4l52 98M2972 3378l46 101M2975 3367l56-41l-15-124M2978 928l74-93M2982 3884l42 6l64 76M2992 1957l116 32l23-52l-50-103l10-21l119-1l32-37l89 60l-27 102l111 7l36-87l-77-39l-43 17M2993 506l61 40l-16 84M2995 1866l86-32M3008 393l87-23l42 67l-47 99l-36 10M3014 60l39 17l65-77M3018 2212l21 108l-19 27M3021 1604l5-105M3022 2495l1 59M3022 3723l13-68M3024 3890l86-94M3026 1246l37-53l106-3l6 7M3026 2926l54-53l86 27l-20 88l-31 25l-61-11M3027 4046l23 80l117-1l15 27M3030 1094l33 99M3031 3326l96 10l32-99l38-17l93 41l54-106l-98-58l-31 20l-18 103M3034 4152l16-26M3039 221l80 93l75-26l2-3l122-17l20-55l-38-52l-102 29l-2 95M3039 2320l93-17l53 38l0 23M3049 1075l118 7l9-9M3052 982l82-33M3053 77l31 54M3059 3168l100 69M3060 1365l12-53M3060 2801l20 72M3061 3159l70-65l-16-81M3078 1748l13 65M3079 3495l49-26l16-110l-17-23M3087 3624l69 17l57-42l68 15l25 44l-40 92l-83-6l-27-103M3088 3982l100 68l37-21l84 18l24-21M3090 536l72 37l2 95l79 4l40-79l-69-43l-52 23M3093 2075l26-50l-11-36M3093 2699l19-93M3095 370l24-56M3100 1477l32 35l67 4l27 81l-98 35M3105 1609l27-97M3109 2731l41 10l114-62l-1-44M3111 1422l77-30l40 25l76-42l60 54l-21 71l-21 7l-87-31l-7-59M3118 702l9 0l67 105l-1 4l62 74l95-40l33 52l-26 77M3119 2025l99 22l25 98l53 5l54-39l9-44l-76-80l-65 60M3121 861l72-50M3127 702l37-34M3127 2197l5 106M3128 3469l68 32l93-47l46 84l70 6l48-94l-62-45l3-94l-96-32l-44 84l40 76l97-34M3131 1937l84-31l-5-94M3131 3094l84 23M3134 1693l91 35l17 30l122-60l-20-54l-70-32l-15 3l-34 113M3134 3796l49-52M3137 437l94 14l12-7l95 73l29-9l76 79l-79 51l-66-49l40-72M3143 2180l64-5l38 120l-60 46M3144 3359l110 4M3146 2988l110 47l-10 62M3150 2741l59 101l61-14l58 43l78-19l13 7l116-47l44 41l-70 116l-65-30l-25-80M3154 140l44 50M3156 962l90-26l9-51M3166 2900l13-7l120 87l29-109M3167 1082l2 108M3167 4125l21-75M3179 2893l30-51M3182 2566l2-29M3188 1392l-7-103l129 11l-6 75M3194 288l69 116l59-23l28-53l-32-60M3194 807l89-61l70 83l-3 16M3196 3501l17 98M3199 1516l36-40M3207 2175l36-30M3214 550l17-99M3215 1906l72 43l17-12M3225 52l84 52l54-34l13-66l-13-4M3225 4029l1-126M3226 1597l33 18M3242 1758l0 17M3243 444l20-40M3243 672l42 58l-2 16M3245 2295l69 2l37 68l99 6l19-114l-32-33l-97 28l-26 45M3246 936l37 42M3256 3035l44-48l66 20l78-68M3263 2455l37 0l68 75l-1 32M3264 2679l39 44l84 10l19 119M3266 3750l31 40l-27 96M3270 2828l33-105M3274 1612l48-105M3281 3614l54-76M3283 593l15-4M3283 1987l4-38M3285 730l77-43l60 43l-4 49l-65 50M3289 3454l5-15M3290 3261l8 18M3296 2150l44 102M3297 3790l79-2l42 56l-17 57l68 67l47-9l15-114l-26-20l-87 19M3299 2980l1 7M3300 161l9-57M3300 2455l51-90M3303 1108l4 68M3306 3658l91 13l40-75l72 3l48 90l-53 41l1 95M3309 4047l14 105M3310 1300l6-6M3315 1185l110-5l36 65M3322 381l75 73l-30 54M3337 3925l64-24M3338 213l64-9l51 71l79-55l2-9l-88-74l-44 67M3343 1500l73 58l21 0l49-88l-33-73l-89 32M3344 1644l72-86M3344 3155l30-9l29-65l77-12l33-92l-4-8M3350 328l75-3l29 106l86-38l10-23l-10-30l-90-41l-25 26M3350 2111l88 62l53-54l61 4l32-78l-53-60l26-61l98 10l12 95l-83 16M3359 2067l85-43l6-17l81-22M3362 687l2-49M3363 70l83 66l0 1M3364 1698l22 14l-12 106M3366 3007l37 74M3368 2530l103-68l78 60l2 48M3374 3146l67 59l99-41l-4-39l-56-56M3376 4l5-4M3376 3788l40-77l88 19M3383 897l100 5l18 64l24 16l107-30l26 112l-113 26l-7 11l38 104l100-14l9-110l-27-17M3386 1712l53-7l54 61l-19 83l63 29l87-80l72 88l-41 48M3387 2733l56-46M3394 3311l42-26l5-80M3397 454l54-18l42 68l-33 80l98 19l20 37l44 14l10 102l29 20l58-14l12-107l-61-26l-48 25M3397 3671l19 40M3400 1028l101-62M3400 1049l53 66l85-14M3405 3544l32 52M3415 1944l35 63M3418 779l95 60l0 4l-30 59M3422 730l54-34l40 9l62-65M3425 1180l28-65M3430 4034l39-66M3436 3285l73 30l57-49l-8-85l-18-17M3437 1558l37 38l107-34l-4-72l-91-20M3437 2224l1-51M3439 1705l40-59l-5-50M3443 587l8 1l9-4M3444 0l76 58l43-36l105 67l52-85l-3-4M3444 2024l47 95M3446 136l72-70l73 97l15 0l63-50l51 33l4 99l-25 20l-34 4l-59-106M3450 299l3-24M3450 2371l19 21l130-31l15-42l62-24l24-112l-28-21l-88 2l-30 85l60 70M3450 4134l5 18M3451 436l3-5M3451 588l25 108M3451 1857l23-8M3453 1397l3-6M3453 3450l10-2l62-73l-16-60M3463 3448l98 77l-52 74M3463 4111l78-13l34 54M3469 2257l85-8M3469 2392l2 70M3479 1646l107 39l39-75l52-7l80 62l5 27l-13 28l-125 44l-31-31l-7-48M3493 504l98-3l4 9l-37 93M3493 1766l100-33M3513 839l36-73l83-10M3513 843l126 43l15 29l-22 37M3513 2977l85 30l54-74l-55-77l-18-3M3516 705l33 61M3516 3959l35 19l17 82l-27 38M3518 66l2-8M3525 982l20 108M3525 3375l84 26l45-100l-88-35M3530 2744l5 68M3531 3845l86-9l22 29l-12 83l-76 30M3532 220l39 59l83-2l11-8M3534 211l57-48M3536 3125l80-75l-18-43M3537 1878l20 46M3540 340l31-61M3540 393l54 89l79-71l-37-47l18-87M3549 2522l87-73l73 21l60-48l125 63l3 51l-82 76l-93-48l-13-94M3550 370l86-6M3551 1244l25-39M3552 2123l32 41M3557 3689l2 0l75 89l-17 58M3558 3181l84-8l38-81l45 11l29 46l-27 71l-37 9l-48-56M3559 3689l104-64l24 15l18 104l-71 34M3561 3525l19-4l69 43l97-79l-30-45l-97-20l-39 101M3563 22l7-22M3568 4060l104 8l11-79l-56-41M3577 1490l38-38l-27-107M3581 1562l44 48M3589 1344l118-32l0-93l121-36l28 47l-39 103l-79 5l-31-26M3591 501l3-19M3595 510l73 36l67-36l-26-94l41-34l-51-117M3597 2856l103-73l55 57l86-3l38-106l-59-56l-121 68l1 40M3599 2361l37 88M3609 3401l10 19M3615 1452l104 20l19-134M3616 3050l51 23l13 19M3624 1764l0 34M3627 2634l95-70M3629 2676l70 67M3639 886l22-110M3639 3865l100 7l29-65l121 30l-29 81l-100 1l-21-47M3649 3564l14 61M3652 2933l68 9l14 19l-67 112M3654 915l66 3l66-68l75 37l72-53l-11-63l-82-28l-64 49l10 58M3654 3301l1 0l35-72M3655 3301l85 48l50-20l-11-77l70-46l-32-55l33-70l13-4l55 33l12 60l-71 39l-10-3M3666 4152l9-79l115 12l-8 67M3667 2029l9 6l95-4l20-77l-59-71l48-67l104 15l12 94l-105 29M3668 89l1 24M3668 546l2 83M3672 2162l4-127M3672 4068l3 5M3673 411l36 5M3676 1191l31 28M3676 2295l98 51l33-27l133 20l36 43l121-78l38 14l117-73l3-31l-33-48l50-130l-118-31l-41 42l26 98l83 21M3677 1603l46-125l64 15l80-64l87 72l-62 82l-63-8l-42-82M3683 3989l61-27l76 94l-30 29M3685 1081l68-21l82 84l56-38l1-115l-22-15l-92 26l-25 58M3687 3640l114-22l12 92l-57 56l12 41M3696 1886l36-3M3700 2183l45-7l48-117l80 21l-5 111l75 29l62-38l-17-89l-90-27l-25 14M3705 3744l51 22M3716 3440l24-91M3719 762l57 30M3719 1472l4 6M3720 4l21 3l76 83l56-38l-8-52M3720 146l89-27l41 69l-60 62l-66-5M3720 918l58 84M3720 2942l35-102M3725 3103l62-52l63 30M3727 3220l52 32M3731 655l47-21l-13-111l87-31l21 22l125 8l8-87l83-45l2-58l-88-53l14-93l-58-37l-8-78l40-40l101 35l20 81l-4 8l40 125l102 10l3-4l17-118l-34-39l-124 18M3734 2961l36 17l17 73M3735 510l30 13M3741 7l11-7M3744 3962l16-43M3745 2176l72 40l-10 103M3746 3485l12 4l50 65l124-61l19 12l101-64l76 62l22-2l49-53l72 8l49 105l89-51l-22-87l-62-18l-54 51M3749 1720l31 96M3750 382l46-5l60 77l86-60l-14-82l-1-1l-99 15l-32 51M3754 3149l63 2M3757 1665l72-90M3758 3489l88-76l-30-73l79-46l29 8l27 62l-46 69l-59-20M3762 1692l145 23l14 69l116 25l6 84l-45 49l-81 1l-21-18M3769 2422l5-76M3770 2978l77-26l44 46l70-7l23-106l24-17l106 87l68-38l-14-148l47-26l123 65l5 66l-87 72l-74-29M3771 2031l22 28M3778 634l51 17l47-27l-3-110M3790 250l38 76M3790 3329l26 11M3801 3618l8-11l-1-53M3809 119l8-29M3809 3607l124 23l40-64l-22-61M3813 3710l89 31l-2 88l90 26l62-57l-13-74l-92-26l-45 43M3815 2612l5 63M3817 1333l52 52l93-45l-14-90l-92-20M3817 2216l51-25M3820 4056l5 0l98 73l-10 23M3825 4056l63-82l72 10l29 120l-66 25M3828 1183l7-39M3829 651l11 92M3841 2837l26 37l117 11M3847 2952l20-78M3850 188l31 7l78-46M3852 492l4-38M3859 3209l36 85M3860 3918l28 56M3861 887l9 89M3863 3077l28-79M3867 1429l2-44M3873 52l78 19M3876 624l61 15l75-94l-14-23M3879 2731l62-5l77 105l118-67l-107-144l-88 106M3881 195l46 116M3884 1831l37-47M3889 3837l11-8M3891 1106l88 21l33 63l129-74l-52-78l24-68l36-22l81 45l19 79l-6 13l-89 36l-13-5M3892 991l67-9l47-69l107 57M3892 1583l44 81l-29 51M3894 2485l81-97l1-6M3897 2536l132 81l79-74l137 92l63-34l15-100l-65-65l-71 0l-52-118M3898 2066l19-123M3905 3433l27 60M3918 3110l78-53l48 69l100-51l-39-87l-108 45l-1 24M3922 771l54-62l-39-70M3924 3302l54-50l-20-68l83-44l3-14M3928 312l75-33M3930 3170l28 14M3933 834l67 37l83-63l75 83l-9 57M3933 3630l14 68M3936 1664l91-15l46 63l109-35l12-59l-67-51l-83 37l-17 45M3940 2339l3-119M3942 394l64 41M3948 1250l64-58l79 77l82-35l49 25l0 86l-68 47l-75-56l12-67M3951 3364l97 10l4 67M3954 1501l26-3l31-32l0-100l-49-26M3959 982l57 70l73-14M3960 3984l47-44l105 27l-25 105l76 62l-6 18M3961 2991l36 42M3973 3566l89 22l66-85M3975 2388l136 128l76-80M3976 709l50 3l58 88l105-68l-10-57l-100-26l-53 63M3978 3252l50 11l55-56l-42-67M3979 1127l37-75M3980 1498l64 106M3988 2093l52-53l-42-98M3989 4104l6 2l20 46M3990 0l1 31M3990 3855l17 85M3995 4106l92-34M4000 871l6 42M4005 2182l62 22l30 100M4008 2868l10-37M4011 1366l68-30M4011 1466l119 14l22-23l112 37l48-46l114 43l-31 93l-75 28l-54-30l-2-88M4012 545l47 20l80-41l82 88l64-16l18-50l-74-110l-68 18l-22 70M4012 1190l0 2M4017 186l91-31M4028 3263l37 89l44-10l75 40l15 66M4029 2617l0 3M4037 1809l26-26l128 34l12 56l84 32l63-33l-33-130l-85 7l-41 68M4039 3724l53-57l70 8l58-74l86-4l14 23l-17 113l-86 34l-55-92M4040 2040l73 7M4043 1893l103 37l57-57M4048 3374l17-22M4052 3798l89 39l-23 126l-6 4M4059 565l20 84M4062 3588l30 79M4063 1783l10-71M4067 2204l72-59M4083 808l1-8M4083 3207l46 7l44-122l28 0l60 81l-83 70l-23-3l-26-26M4089 390l72 64M4091 332l57-52M4092 66l47-66M4105 2988l9-33M4108 2543l3-27M4109 3342l46-102M4118 3963l102 25l6 119l-63 27M4127 1567l3-87M4136 2764l32 5M4141 3837l61-29l15-41M4144 3075l29 17M4146 1930l8 75M4150 3501l70 100M4152 1457l2-65M4154 1121l19 113M4158 891l82-49l81 67l1 2l-92 82M4178 3243l67 72l-61 67M4179 675l42-63M4182 1677l50 72M4189 732l53 39l-2 71M4191 0l65 23l-20 106M4194 1618l72-36M4201 3092l72-75l-17-71M4202 3808l75 84l101-38l46 90l-61 73l-100-57l14-68M4215 2743l30-108M4220 3988l43-28M4222 1259l65-31l93 84l19-2l37-146l-15-21l-119 41l-15 44M4222 1345l83 44l75-77M4226 4107l43 18l10 27M4229 436l31-44l-10-102M4242 771l94-38l58 91l64 4l63-58l1-8l-92-104l-73 20l-21 55M4243 1085l59 99M4245 3315l39-3l6-131l44-14l42 28l9 91l-80 38l-21-12M4249 1072l121-27l13-66l-61-68M4252 2245l62 79l-56 112M4253 286l147-1l24-126l-8-10l-146 19M4255 2214l135-56l3-19l-46-89l-66-18l6-127M4256 23l27-17l0-6M4260 392l124 21l44-83l-28-45M4261 3173l29 8M4269 4125l101-62l39 29l3 60M4272 2036l9-4M4273 3017l83 40l41-15l36-108l-90-60M4283 6l68 11l16-17M4285 596l72 82M4303 546l106-54l-25-79M4303 3733l78 48l74-93l1-28l-136-40M4305 1389l7 59M4305 3324l20 81M4306 3597l14-36M4308 2601l104 58l86-69l0-60l-77-64l-98 35M4314 2324l83 0l39-92l-46-74M4317 1742l9-10l106-7l33-70l83-20l28 37l-12 103l-78 36l-54-86M4320 1612l6 120M4321 909l73-85M4334 3167l22-110M4338 2808l83-71l-9-78M4347 2050l76-71l-48-100l109-60l48 95l-49 74l-60-9M4350 1872l25 7M4351 17l65 101l116-118M4363 4017l7 46M4370 1045l52 73l-1 25M4376 3195l102-27l40 68l-89 71l20 66l-62 50M4378 3854l13-32l-10-41M4383 979l108-29l23 13l22 73l-114 82M4385 3286l44 21M4391 3822l144 3l11-49l61-45l73 18l17 82l-7 16l-83 35l-57-23l-15-34M4393 2139l123-57l37 49l-36 98l-81 3M4395 1584l70 71M4397 2324l42 53l-18 89M4397 3042l95 63l-14 63M4399 1310l36 19l7 154l25 2l86-47l-9-95l-39-25l-70 11M4409 492l34 17l99-57l-14-114l-100-8M4409 3510l39 13l38 69l110-59l34 25l12 38l-51 64l-108-32l3-36M4409 4092l91-21l48 79l-2 2M4416 118l0 31M4421 2737l89 44l-15 137l-62 16M4424 159l105 23l34 125l-35 31M4424 3944l63 8l39 64l94-6l15 134l86-11l17 19M4426 1491l16-8M4430 658l37-67l137 19l11-15l120-21l32 26l-4 116l-45 28l-110-81l-4-53M4436 1164l97 37l49-19l66 121l-5 9l33 104l35 12l15 117l-23 21l-84-18l-16-89l73-43M4439 2377l108-17l22-35l-6-50l-46-46M4443 509l24 82M4448 3523l69-68l64 26l15 52M4449 3373l50 18l18 64M4455 3688l91 88M4456 3660l27-32M4458 828l33 122M4467 1485l90 114l-9 36M4483 1988l36 62l129-48l-30-85l-86-3M4484 1819l2-8M4487 3952l63-93M4492 3105l51-28l0-132l64-14l91 73l-57 104l-98-31M4495 2918l48 27M4498 2530l92-62l-43-108M4498 2590l107 65l14-5l118 66l17-6l48-75l-66-79l-62 1l-55 93M4499 3391l59-44l-15-101l-25-10M4500 4071l26-55M4505 1318l28-117M4510 2781l54-19l41-107M4514 963l96-63l61 36l16 90l-133 22l33 127l-5 7M4516 2082l3-32M4521 770l83 60l6 70M4522 762l86-99M4529 182l49-37l7-106l-37-39M4536 1036l18 12M4542 452l56 27l17 116M4543 3246l71-24l71 77l62-5l8-9l-2-117l-100-32l-39 86M4544 1343l99-31M4548 4150l81 1l0 1M4553 1438l50 21M4553 2131l66 7l62-79l61 42l-4 85l-55 30l-21-7l-43-71M4557 1599l62-51M4558 3347l74 25l11 39l77 39l3 35l-93 73M4563 307l26 0l87 65l7 60l54 31l-2 111M4563 2275l99-66M4564 1775l76 39l70-76l77 49l88-63l-37-71l-125 14l-10 17l7 54M4564 2762l92 68l30-7l51-107M4569 2325l126 18l8 62l-77 71l-36-8M4576 1672l127 12M4578 145l103 37l41-53l92 5l22 70l-68 84l-82-70l-5-36M4581 3481l62-70M4585 39l108 1l30-40M4587 1175l89-27l49 32l-3 93l-74 30M4589 307l97-89M4591 3660l16 71M4598 479l85-47M4604 830l105-58l48 105l-86 59M4607 2931l49-101M4607 3882l24 118l-11 10M4618 1917l33-53l-11-50M4626 2476l48 81M4629 4151l6-7M4631 4000l64-5l60 61l43-9l74 57l-4 43l-9 5M4632 3372l53-73M4641 3108l12 28M4642 3596l66 30l74-81l-59-60M4648 2002l23 15l99-58l73 72l52-20l30-78l-31-50l-102-10l-16 16l-6 70M4651 1864l125 25M4671 2017l10 42M4676 372l93-81l42 43l-15 109l-59 20M4676 1148l14-119l-3-3M4680 3749l12-11l128 3l23-30l-3-34l-122-27l-26 88M4683 2216l27 106l108-21l1-2l104-36l-24-98l83-44l42 36l70 0l28 118l-44 25l-78-34l24-109M4686 2823l75 52l47-8l36-80l-90-77M4690 1029l56 3l73-82l90 76l-1 4l-104 60l-58-58M4690 3847l46 79l-41 69M4693 40l29 89M4695 2343l15-21M4697 3831l116-13l7-77M4698 3004l22-6l41-123M4703 1566l10 101M4703 2405l96 49l44-74l-25-79M4708 3626l10 24M4709 772l9-28M4711 1428l75-31l-20-101l-44-23M4720 2998l81 34l76-101l-69-64M4720 3450l56-51l66 14l26 49l99-4l20-49l-57-79l-28-4l-39-48l20-77l101-25l17 96l-71 58M4721 4133l34-77M4725 1180l79-32l40 30l4 80l-82 38M4726 1545l75-4l49 71l-12 41M4736 2556l65-94l-2-8M4736 3926l80 0l23-74l92-10l23 22l-11 88l-27 21l-78-14l-22-33M4738 2186l59 23l69-55l33 11M4742 2101l85-28l39 81M4747 3294l29 105M4753 3168l63-38l67 71M4755 3285l108-7M4757 877l56 18l61-45l-44-116l77-49l67 55l-3 49l-89 62l-8-1M4763 716l67 18M4767 600l100-26l9-33l-26-74l-54-24M4768 288l1 3M4782 3545l11 2l51 121l89-61l0-19l-84-71l-56 30M4786 1397l14 6l105-53l58 56l-56 76l-67-4l-40-75M4787 1787l5 86M4790 0l19 4l4-4M4797 2209l22 90M4798 4047l40-88M4801 1541l39-63M4801 2462l70 45l12 59l-63 66l99 79l-27 60l-48 16M4801 3032l27 52l-12 46M4802 2635l18-3M4804 1090l0 58M4809 4l40 83l47-4l60-77l43 4l39 83l-54 72l-4 1l-84-83M4811 334l85 1l30 71l45 14l26 81l-121 40M4813 895l6 55M4813 3818l26 34M4814 134l35-47M4827 2073l16-42M4828 3084l112-19l58 91l-14 20M4836 204l93 28l51-66M4840 3677l4-9M4842 3413l60-87M4843 2380l106 9l8-108l43-15M4843 3711l95 43l63-40l72 105l57-10l28-95l42-25l-18-105l-97-11l-23-40l57-95l51-1l43 112l-31 35M4844 1178l100-33l10 5l23 96l-75 48l-54-36M4849 3517l19-55M4850 467l76-61M4850 1612l99-43l-42-87M4867 574l45 60l-5 51M4868 4147l4 5M4871 2507l94-61l3-33l-19-24M4872 4104l52-38l70 18l29 68M4875 1724l26 9l91-76l-39-86l-4-2M4877 2931l31 0l54-87l-70-73M4882 851l79 78l-15 72l115 39l11-116l-34-30l-77 35M4883 2566l60 20l70-67l33 9l23 59l-24 50l-73 18l-29-69M4894 1883l44-87l-37-63M4895 2011l87 64l0 46M4896 335l41-61l107 49l0 34l-73 63M4902 1294l3 56M4908 1030l36 115M4908 2931l59 64l-27 70M4909 1026l37-25M4912 634l101-31l0-91l77-18l56 65l-27 63l-62 20l-44-39M4916 3973l8 93M4919 2711l36-18l17-38M4923 2263l34 18M4925 1933l93-2l30 84l65 15l15 99l81 16l16 61l-70 73l-33-4M4929 232l8 42M4931 3842l7-88M4933 3588l63-70l-29-60M4933 3607l79 75l36-18l110 50M4938 1796l75 9l61-75l47 12l44 101l-40 40l-74 1l-38-79M4943 3952l119 41l11-4l69 123l-80 40M4952 0l4 6M4953 1571l94-55l64 70l-66 87l29 57M4954 1150l93-35l59 67l-75 85l-54-21M4954 3864l90-9l29-36M4955 2693l85 71l59-57l32-1l41 34l1 76l-11 13l-124-6l2-59M4962 2844l65-9l11-12M4963 1406l4 0l88-82l-24-57M4965 2446l48 73M4967 1406l84 76l65-45l-12-94l-49-19M4967 2995l76-13l51 89l52 3l49-47l-6-77l-25-20l-100 18l-21 34M4968 2413l99-29l11-84M4971 789l69 54l-2 51M4974 740l72-39l11-59M4982 2075l66-60M4984 165l107 68l54-70l-32-69l-75-1M4987 3409l80-22l12-81l-78-34M4992 1657l53 16M4994 4084l68-91M4996 3518l66 15M4997 501l16 11M4998 3156l33-8l104 75l0 48l-56 35M4999 10l11-10M5001 3714l11-32M5018 1931l33-47M5027 2835l37 113M5031 3148l63-77M5040 843l67-48l64 57l70-40l-48-102l-82 54l-4 31M5044 323l50-58l112 50l-41 96l68 57l-18 76l-69 15M5044 357l76 67l-30 70M5044 3855l36 125l78-28l15-106l-43-37M5045 2637l54 70M5046 701l65 63M5046 2528l72-57l6-36l59-28l22-64l-50-64M5047 1115l16-73l-2-2M5047 1516l4-34M5048 3664l37-91M5063 1042l91-4l12-120l79 21l23 61l-88 55l-26-17M5067 2384l57 51M5067 3387l52 51M5069 2587l101 14l9-5l10-45l-71-80M5072 924l93-8l1 2M5073 3989l7-9M5091 233l3 32M5094 2157l34-28M5104 1343l59-28l13-100l-20-29l41-73l101 9l27 76l-23 36l-126-19M5106 1182l50 4M5111 1586l31 0l59-99l102 66l-100 90l-61-57M5113 94l33-57l-15-37M5113 2030l48-36l53 4l37 102l-42 45M5116 1437l80 31l51-68l-9-46l70-72l-6-48M5119 622l78 76l-4 12M5120 424l45-13M5121 1742l89-60l37 25l125-74l2 1l109-59l-11-81l39-41l138 33l-2 34l-114 90l-50-35M5125 1883l36 111M5131 2706l39-105M5135 3223l53-60l85 4l6 7l69 2l50 76l-47 70l-20 3l-66-46l14-105M5135 3271l57 34l8 104l-30 28M5142 4112l28 6l9 34M5145 163l81 8l33-121l56 4l45-54M5146 37l108 8l-3-45M5146 3074l42 89M5158 3952l68 35l-23 106l111 20l21-29l-35-89l-45-17l-29 9M5162 2829l2 101M5163 1315l75 39M5165 916l6-64M5165 1843l55 1l35 120l50 0l51-93l-108-46l-28 19M5170 4118l33-25M5172 2740l84-35l50 61l81-32l-2-68l42-37l55 8l33 78l-85 52l-43-33M5173 2816l117 16l16-66M5173 3846l102-10l11 19l95 41l74-76l64 51l-4 81l103 36l46-52l-53-95l-92 30M5179 2596l87 57l35-20l84 33M5180 1055l17 58M5183 2407l85 64l1 30l-80 50M5189 2950l80-27l58 51l62-39l-6-71l-91-28l-23 87M5192 3305l73-26M5195 3027l84 31l-6 109M5196 1468l5 19M5197 698l32-18l23-101l-37-35M5200 3409l86 6l33 49l75-1l47 66l102-64l-1-23l-75-65l-37 9l-36 77M5200 3689l38 10l100-69l48 48l-8 78l-88 34l-52-91M5203 1643l7 39M5205 2343l60-11l37-89l-77-37M5206 315l3-1l44-110l63 2l53 69l-14 49l-53 30l-93-40M5213 3549l70-3l36-82M5214 1998l41-34M5226 171l27 33M5229 680l78 21l7 83l33 11l30 74l-30 34l16 59l-80 44l38 75l63-14l11-87l-32-18M5233 468l64-25l60 38l2 7l-42 89l35 42l74-15l20-67l-87-49M5241 812l21 4l25 75l60 12M5245 939l42-48M5247 1400l110 35l37-95l60-22l10-60l-53-68l-86 8M5247 1707l21 49l113 3l28-28l-35-97M5248 1825l20-69M5251 2100l66 2l27 31l107-28l6-24l-69-71l-33 2l-38 90M5252 579l65-2M5254 45l5 5M5255 3978l31-123M5256 2705l10-52M5262 816l52-32M5265 2332l70 65l-67 74M5268 1000l15 6M5269 2501l50 43l-18 89M5275 3836l15-46M5279 3058l43-28l64 35l15 54l57 16l54-52l-12-51l-43-26l-71 59M5283 3546l54 62l104-75l0-4M5286 3415l45-90M5290 2832l2 4M5297 443l5-89M5298 1122l23-41M5300 3995l89-47l-8-52M5302 2243l16-4l30-45l-4-61M5303 1553l7 0l62 80M5305 1964l50 48M5307 701l35-23l73 39l-3 44l-65 34M5308 1282l86 58M5310 1553l58-91l104 32M5314 4113l4 39M5315 54l59 70l40 0l56-93l80 29l41-60M5316 206l58-82M5318 2239l75 70l-56 88l-2 0M5319 2544l80-12l28 97M5322 3030l5-56M5335 4084l57-10l67 51l42-9l26 36M5337 2397l68 44l59-31l52 29l4 84l-113-1l-2-81M5337 3608l1 22M5342 678l10-59M5348 2194l111 17l12-8l9-34l-29-64M5348 3176l53-57M5351 3322l79 64M5355 324l77 71l27 0l53-81l18-3l87 71l1 20l-41 46l-78-2l-40-51M5356 1871l15-6l10-106M5357 481l75-86M5357 1435l11 27M5369 275l75-25l22-72l-52-54M5371 1865l63 27l53-42l-6-104l29-16l92 48l62-35l6-24l-19-47l-108-33l-33 91M5377 869l55-2l16 15l-4 86l-49 12M5378 3756l77 61l0 3M5383 2864l54-42l-7-55M5384 1067l64 40l0 2l-37 81M5386 3678l91-17l19-50l-55-78M5388 2010l57-68l66 36l-4 70l87 40l38-81l-61-59l-60 30M5389 2935l58 28l10 43M5389 3948l37 31l57 1l32-28M5392 4074l34-95M5393 2309l31-4l35-94M5398 3252l55-5l46 62l-32 68M5399 2532l8-10M5409 1731l72 15M5412 761l35 33l-15 73M5415 717l47-35l71 70l-11 30l13 31l-27 64l-60 5M5424 2305l46 35l50-18l18-69l-67-50M5425 0l37 13l6-13M5426 604l42 52l-6 26M5434 1892l11 50M5437 2822l49 27l81-40l50 74l-53 52l-66-23l-12-63M5442 4152l17-27M5444 250l68 64M5444 968l19 10l84-38l36 43l-22 57l-72 3l-26-65M5446 537l25-11l28-80M5447 794l75-12M5447 2963l51-51M5448 1107l41-64M5448 1109l109 49l6 47l-99 53M5453 3247l31-53l77-1l26 38l-34 71l65 67l-76 73M5454 1318l58 47l96-33l11-84l73-27l69 43l10 58l-101 68l-62-58M5455 3817l62-89l67 4l48 57l65-15l24-120l-43-26l-57 10l-37 94M5457 2081l50-33M5458 3135l26 59M5462 13l8 18M5464 2410l6-70M5466 178l65-12l35-70l-16-36M5468 656l65-29l63 54l53-37l-14-91l72-35l64 68l-47 79l-75-21M5471 526l72 42l55-29l37 14M5477 3661l40 67M5480 2169l111-34l9-25l-6-22M5482 2637l59-58l77 58l-49 98l11 19l-13 55M5483 3980l32 111l106-39l46 46l-30 54M5487 1850l96 27l4-3l15-96M5496 3611l74-17l17-83l-44-46M5499 3309l54-7M5500 3032l72-45l52 34l13-1l63 63l62-26l40 21l8 83l-62 28l-56-23l-51 68l39 60l72 1l-4-106M5501 4116l14-25M5508 877l39 48l88-74l-100-38M5511 1453l1-88M5512 3083l65 27l7 14l98 16l18-57M5515 2715l54 20M5516 2439l73-37l3-8l-4-27l-68-45M5520 2523l20 20l1 36M5530 311l56-78l-55-67M5533 627l10-59M5533 752l57-35l66 61l-7 70l101 21l40-35l87 22l42-71l72-9l20-83l74-18l52 41l30-7l51-100l-19-32l-103 7l-11 91M5533 1610l10 29M5538 2253l48-13l24-40l-19-65M5540 2543l88-43l-39-98M5547 925l0 15M5557 1158l39-57l79-7l30 23l63-15l79 51l73-91l33-3l71 106l55-19l90 71l-59 98l17 21l-17 130l-18 9l-98-45l-47 29l-102-55l-6-35l82-69l82 44l62-36l-49-128l-101 48l6 72M5561 1040l35 61M5561 3193l23-69M5563 1205l56 43M5564 2935l8 52M5566 96l83 16l48-58l-31-54M5570 3594l51 44M5571 1948l12-71M5577 448l21 91M5577 3110l47-89M5580 2754l110 9l33-77l-52-61l-53 12M5583 983l70-10l24 15l83-25l-10-94M5586 233l47-1l45 81l-61 69M5586 2240l44 70l-42 57M5587 1874l104 11l26-73l-53-69M5587 3231l54 3M5587 3511l99-13l1-73l-62-56l-7 0M5590 717l6-36M5592 2394l141 10l-6-51l81-88l28-3l5-115l59-35l0-78l-34-36l59-109l65 13l42 100l1 0l108-59l2-59l-90-51l-63 69M5600 2110l135 9l11-10l2-42l86-74l-50-66l-70-4l-33 73l67 71M5610 2200l94 17l9-4l22-94M5611 3841l21-52M5617 2883l28 3l41 73l-49 61M5618 402l100 59l-11 57M5618 3988l3 64M5625 3369l55-75M5628 2500l14 3l92-96l34 131l-76 28l-50-63M5630 2310l45-5l29-88M5632 2007l49-11M5633 232l41-51l-25-69M5635 851l11-2l3-1M5645 2886l73-66l-28-57M5646 849l7 124M5647 1520l46 69l83 10l42-41l-25-81l-122-20l-22 29M5651 1672l42-83M5656 778l88-57l30 16l16 97M5664 3936l76-2l35 64l122-13l19-42l-35-67l-117 17l-24 41M5667 4098l50 1l22 53M5670 1390l1 67M5670 1719l117-28l-11-92M5671 2625l21-59M5674 181l89 8l12-129l-2-1l7-59M5675 1094l2-106M5675 2305l52 48M5678 313l74 5l13 111l63 16l80-83l-8-43l-6-5l-135-3l-7 7M5678 3628l13-125l-5-5M5682 3140l10 26M5686 2959l65 5l11 93M5687 3425l89-49l36 24l8 70l102 29l-3 54l-47 40l-70-17l-21-58l39-48M5691 1885l23 38M5691 3503l90 15M5692 1221l13-104M5697 54l76 5M5697 3774l48 27l19 92M5713 2213l95 52M5717 1812l85-11l10-87l106-24l29 63l-54 91l-60-7l-31-36M5717 4099l45-37l116 61l0 25l-4 4M5718 461l47-32M5718 2820l28 9l31 112l54 1l55-74l-65-67l-75 28M5721 3654l30-6l51-72M5723 2686l89-9l30 55l117 7l13 39l-54 89l47 48l-5 65l-75 38l-6 20l61 86l78-48l5-52l-63-44M5724 665l20 56M5733 2404l1 3l111-1l14-16l-14-122l84-7l57 70l-17 57l-110 2M5745 3801l85-46l67 66l62-26l20-75l-18-28l-76-16l-50 37l-5 42M5746 2109l95 38M5751 2964l26-23M5751 3648l84 65M5752 3295l10 7l14 74M5759 311l10-116l95-2l19-22l97-4l-6-117l-78-8l-35 29l22 100M5760 963l41 27l38-6l81 78M5761 1264l93-77l61 41M5762 3302l99-40l-12-79l-39-22M5762 4062l13-64M5763 189l6 6M5768 1102l33-112M5768 2538l41 14l54-52l90 15l26 52l-16 50l-129 11l-25-76M5771 586l65-8l49 74l76-10l42-100l-38-36l-101 14l-28 58M5771 1322l68 47M5774 737l89-31l56 79M5775 60l86 11M5784 1927l49-90M5787 1691l25 23M5793 1477l52-73M5802 3078l77-40M5812 2677l22-49M5812 3400l76-31l59 62l80-53l5-21l-113-64l-9 2l-22 74M5818 1558l61 12l59-43l9-68M5821 2801l21-69M5828 445l36 75M5831 2942l54 76M5834 1993l32 5M5836 2262l9 6M5839 984l56-84l79 23l20 86l90 5l40-70l-12-29l-92-32l-46 40M5845 2406l18 94M5847 1153l7 34M5849 3183l88-44l3-15M5861 3262l49 33M5863 706l22-54M5864 193l30 121M5872 3593l13 83M5877 856l18 44M5878 4123l46-58l-27-80M5878 4148l4 4M5879 1570l41 116l130-72l29 125l100 0l30 94l39 10l92-80l57 61l64-16l34-85l0-1l-43-38l-113 52l1 27M5881 3876l16-55M5886 2868l32-1M5887 0l9 42M5893 1844l32 45M5900 319l96-56l-14-95l109-20l33 53l70 15l44-95l-43-54l-94 43l-10 38M5900 2034l132-32M5900 2112l84 53l73-94l74 30l21 98l13 6l53 108l109-35l4 2l115-47l5-16l-30-73l-73-27l-55 29l-6 14l40 118M5908 362l65 49l101-33l33 79l-51 85l40 42M5916 3943l100-13l21-75l65-30l-15-108l20-26l-54-107l-60 21l-32 87M5918 1690l2-4M5919 3293l68-79l-50-75M5919 3553l74 52M5922 3499l19-20l115 30l13 45l-16 30M5924 4065l83 9l52-89l61 4l41 91l-51 61l6 11M5929 2261l55-94l97 68l71-36M5938 1527l117 76l2-2l35-126M5941 3479l6-48M5947 1753l98 28l34-42M5953 1059l41-50M5953 2515l37-86l100 14l41-73l66-12l21-45M5959 2739l29-61l114 7l19 57l-52 79l10 42l85 19l67-76l-6-32l-104-32M5959 3795l78 60M5961 642l50 51M5963 2617l25 61M5965 506l8-95M5965 2915l99-28l16 103l-57 34M5969 2388l21 41M5972 2778l97 43M5974 50l16-13l60-3l51 76M5979 2567l124-18l30 84l95 2l41-69l-46-67l27-69l-53-72M5979 3720l108-3M5980 167l2 1M5984 0l6 37M5984 2165l0 2M5986 2331l79-32l16-64M5987 3214l10 1l101-69l2-4l11-6l101 26l17 67l-54 37l9 104l70-4l60 75l-14 45l-97 13l-40-67l17-58l4-4M5991 776l29 29l0 78M5994 1430l9-86M5996 263l62 28l66-90M5997 3215l67 75l60-40l51 16M6003 542l53 0M6007 4074l36 60l67 7M6016 1180l8-15M6016 3930l43 55M6018 3076l82 66M6020 805l92-16l35 50l92-3l11 53l-51 70l-75-15M6027 3378l51 77l-22 54M6031 4152l12-18M6032 3357l24-23l124 40M6033 2002l24 69M6045 1781l8 52M6050 34l25-34M6050 1614l5-11M6056 3334l8-44M6057 1601l117 14l30 87l98-8l37 42M6058 291l26 62l93-18l34-91l78 14l29 91l66 20l48-119l-89-42l-54 50M6064 2887l15-24M6065 1308l45 7M6065 2299l66 71M6069 3554l109 0l30 66l-34 59l69 93l69-32l22-77l-32-45l-94 2M6074 378l10-25M6078 3455l85-23M6079 1146l37-70l-32-62M6080 2990l59 18l15 32l89 23l38-99l-8-11l-84-15l-50 70M6090 2443l29 72l104-16M6098 3146l26 104M6102 2685l31-52M6102 3825l45 18l20 99l90 14l41-60l-65-98l-86 45M6103 2549l16-34M6107 457l116 22l-24 98M6107 3691l67-12M6110 1466l92 19l40-124l101 42l7 58l-118 61l-30-37M6111 3136l43-96M6112 789l25-73M6112 915l35-76M6116 1076l75 0l41 75l61-6l41-57l-61-68l-42-1l-40 57M6120 3989l47-47M6127 1336l115 25l25-80l71-28l58 94l51-2l52 73l80-16l27-69l-35-58l16-45l120-26l18 19l-21 106l-98 4M6131 2101l78-59l84 104M6141 1943l75 67l57-32l84 46l48-26l9-68l-32-40l-91 17l-18 71M6143 1884l66-51M6160 0l38 36l49-36M6161 4080l56 4l44 68M6164 2882l25 56M6165 2205l122-45M6167 709l71 42l12 67l-11 18M6169 1217l26-6l72 70M6174 1615l59-70l86 66l-17 83M6177 335l64 61l-11 78l114 32l58-109l72 16l36 89l65 14l58-48l-15-98l-74-19l-70 62M6178 3554l25-55M6179 1739l25-37M6194 216l17 28M6195 67l3-31M6195 1211l37-60M6199 959l32 60M6209 2042l7-32M6212 3162l50-65l46 11l31 39l-1 44l67 45l3 52l76 25l48-76l92 35l41-51l36-8l35-108l-83-38l-59 58l71 96M6217 4084l60-73l69 27l-16 114M6218 609l84 27l13 46l60 40l-24 86l32 44l-26 83l-15 3l-92-49M6223 479l7-5M6225 2774l42-62l63-3l57 61l75-36l81 81l65-89l-60-61l-73 23l-13 46M6228 2635l39 77M6229 3229l45 16l64-54M6231 2806l67 50l80-19l9-67M6232 1522l1 23M6233 3798l10-26M6238 121l79 1l18 16l8 70M6238 751l77-69M6241 396l77-47M6243 3063l19 34M6248 1843l43 64M6250 818l101-10M6250 2430l84-10l28-48l96 2l34-58l78 0l33 46l-47 90l-72-17l-26-61M6254 3366l43-64l77 16l34-30M6257 3956l20 55M6269 2566l56-1l48-72l62 5l34 63l-41 65l-53 1l-50-62M6273 1020l69-82M6273 2953l25-97M6274 3245l23 57M6281 2964l93 26l5 26l69 62l-14 41l30 66l53 13l15 39M6293 1145l54 86l-9 22M6298 3896l59-9l37-85l55-16l30 18l19 114l-10 12l-75 15l-56-58M6300 3486l30 51l-28 81M6302 636l65-82l72 20l71-72M6308 3108l71-92M6312 3740l82 62M6314 3441l68-34l-8-89M6317 122l15-114l100 16l19-24M6319 1611l70-30l57 46l6 57M6327 0l5 8M6330 2709l45-82M6330 3537l122 2l-17 117l-101 7M6331 2280l31 92M6334 1088l35-5l62 109l-84 39M6334 2420l39 73M6335 138l114-34l20 14l87-14l37 104l-75 54l-58-22l9-122M6339 3147l95-28M6343 1403l53-56M6344 506l23 48M6346 4038l40-15l69 55l-26 68l5 6M6348 2117l9-93M6350 1461l48 40l79-26l22-57M6357 935l13 11l16 119l88-14l-20-94l-84-11M6369 1083l17-18M6374 2990l31-38l101 2l22-100l-139-5l16 103M6375 722l40-9l75 70l-20 56l-87 13M6378 2837l11 12M6382 1890l15-66M6382 3407l48 19l30 106l35-2l76-86l-42-69l-20-7l-79 58M6384 369l18 28M6386 4023l27-78M6389 1581l9-80M6405 1998l74 42l60-79l-32-51l-93 20M6405 3236l59-51M6411 4152l18-6M6415 713l48-78l-24-61M6421 2144l67-74l-9-30M6428 2626l47 62M6431 1192l5 1l47 94l-36 58M6432 24l17 80M6432 250l28-10M6435 2498l49-63M6435 3656l24 25l-10 105M6436 1193l50-35l-3-101l49-12l74 52l0 1l-46 74l-74-14M6446 1627l103-65l-72-87M6446 2233l46 83M6448 3078l58-20l66 69l22-2M6451 2217l116-37l-15-80l62-47l63 17l11 57l-82 80l-39-27M6452 3539l8-7M6454 957l57-49l-41-69M6455 4078l43-10l57 84M6459 3681l116-13l22 23l45 3l67 83l72-31l3-83l78-39l57 96l58 4l28 85M6461 1808l56 60l-10 42M6463 635l94 25l-15 103l-52 20M6469 2561l64 3l34-93l82 26l31-18l-12-108l35-22l96 76l-56 67l-63-13M6474 1051l9 6M6479 3804l87-17l31-96M6483 1287l88-12M6484 3313l25 55M6488 2070l64 30M6488 3930l40 99l60-4l41 53l-32 73l1 1M6495 1722l101-82l5-41l114 2l42-45l-2-38l-61-55l-60 6l-55 99l22 31M6495 1723l76 46l74-42l11 4l16 103l-39 29l-57-25l-5-69M6495 3530l80 60l87-59l41 13l41-27l13-111l110 7l19 32l-50 91l-92-19M6498 3918l92-15l40 52l-42 70M6498 4068l30-39M6506 2954l24 35l111-2l12 80M6506 3058l24-69M6511 908l22 6l80-58l79 70l-30 62l-97-18l-32-56M6517 1868l59-30M6517 3198l55-71M6518 262l26 89M6528 2854l16-15l84 33l82-59l52 39l-14 104l-97 17l-23-101M6529 3375l97-67l60 64l45 1l53-101l108 53l-25 88M6530 0l57 61l5-2l28-59M6532 1045l33-75M6533 2564l32 37l74-13l10-91M6539 1961l50 10l25 82M6542 763l74 41l-3 52M6543 2815l1 24M6548 2665l17-64M6549 1562l30 6M6556 104l31-43M6556 2452l11 19M6557 660l53-29l-35-115M6560 1172l27 58M6566 3787l45 52l83-16l15-46M6570 2316l41-93l105 46l9 22l99 8l36-53l-58-86l-39 10l-47 99M6571 3444l48 10l67-82M6575 3590l0 78M6579 1402l55 67M6589 1971l50-41l63 26l15 76l-40 38M6590 3903l21-64M6592 59l83 27l64-80l67 21l19-27M6592 4152l5-1M6593 208l68 15l-5 118l114 25l25-94l-112-61l-22 12M6596 1640l49 87M6603 2362l65 9M6606 1097l58-103l-2-6M6606 1098l94 44l56-70l-92-78M6606 2207l5 16M6608 2726l35-3l62 50l94-80l-3-12l-81-63l-32 4l-40 101M6610 631l3 1l63 131l-60 41M6613 632l87-24l61 53l83-43l-18-82l-93-23l-33 95M6618 370l38-29M6619 3454l43 77M6624 3272l2 36M6629 4078l70-6l31 75l-7 5M6630 3955l45 1l48 76l63-12l25-53l-56-76l-19-4l-61 69M6633 468l89 25l55-116l-7-11M6633 1863l6 67M6639 2588l44 34M6641 2987l10-14M6642 3694l77-66l65 35M6656 1731l77-25l-18-105M6672 1834l60 5l46-95l-5-17l84-71l70 45l70-44l-11-89l-59-29l-76 69l6 48M6675 86l34 61l66-14l33-100l97 61l-62 85l-68-46M6676 763l32 1l49 91l-26 56l-39 15M6683 211l26-64M6688 2127l75 43M6694 1463l36-102l88 5l35-38l-32-105l34-40l143 43l1 3l-79 102l-67-3M6694 3823l42 64M6699 4072l24-40M6700 1142l7 62M6701 3213l80 48l60-80l-59-91l-46 15M6702 1956l73-58l-43-59M6703 2349l22-58M6703 3544l16 84M6704 1329l26 32M6705 2773l5 40M6708 764l49-44l107 43l-15 71l44 58l-11 53l80 75l-5 39l-105 52l-58-47l22-86l66-33M6715 2618l46-81l-18-45M6717 2032l72 7l34 87l-21 34M6722 493l11 20M6725 1223l96 0M6730 4147l19 5M6731 911l85 67M6731 3373l26 33M6733 1706l40 21M6736 0l3 6M6748 2956l48 37l12 52l105 12l35-40l57 9M6755 1518l84-62l-21-90M6755 3891l99-72l34 34l91 4l26-45M6756 1072l38-8M6757 720l4-59M6757 855l92-21M6757 1556l94 52M6761 2537l103 32l15-5l13-62l-88-79l-5 2M6762 2852l76-15l66 54l3 9l-111 93M6775 1898l6 2l79-46l59 49l-18 88l-72 0l-48-91M6777 377l93 32l74-66l-54-95l-35-14l-12-55M6778 1744l87 62l63-45l-1-60M6781 3261l3 11M6781 3746l69 47l69-73M6782 3090l26-45M6786 4020l47 64l65-4l46 55l61-33M6789 2039l40-48M6794 4152l39-68M6795 272l60-38M6796 2681l68-112M6799 2693l56 39l-17 105M6804 2423l42-56l-22-68M6806 27l2 6M6811 3967l61-14l57 40l19-5l57 31M6823 2126l82-18l12-100l88 2M6826 536l57-53l-13-74M6836 3536l34 66l-8 22M6839 1456l72 27l61-73l-52-79M6841 3181l71-1l25-26l68 0l0-1M6844 618l43 24l67-23l51 47M6846 2367l83 6l20 86l-57 43M6850 3793l4 26M6852 1111l3 72M6855 2732l63-14l20-110l-59-44M6860 1854l5-48M6860 2246l61-3l41 91l-33 39M6864 763l17-13l107 17l17-50M6870 3602l94-27l37 26l4-1M6872 3953l16-100M6881 750l6-108M6883 483l97 41l20-9l5 2M6886 3445l86 22l-8 108M6890 248l112-75l-71-85l-26 6M6892 3325l45-24l-25-121M6893 892l104-35l8 17M6898 4080l31-87M6901 1991l16 17M6904 2891l85-120l16 11M6905 2108l38 30l62-32M6907 2900l17 15l24 102M6911 1483l16 56M6913 3057l24 97M6918 2718l68 43l3 10M6919 1903l76-24l10 9M6921 2243l31-40l-9-65M6924 0l31 42l50-22M6924 2915l81-4M6928 1761l72 46l5-2M6931 88l24-46M6937 3301l20 4l48-27M6938 2608l67-11M6943 4152l1-17M6944 343l18 2l43-33M6948 3988l49-87l8 3M6949 2459l56 15M6952 2203l53 10M6954 619l26-95M6957 1059l48 55M6957 3305l48 75M6962 345l43 54M6962 1020l43-31M6962 2334l43-1M6972 1410l33 1M6972 3467l13-7l20 8M6977 3724l28-28M6979 3857l18 44M6985 3460l20-53M6986 1568l19-10M6986 2761l19-25M6988 767l17 30M6995 1879l5-72M6997 857l8-20M6997 1657l8 3M6998 1226l7-31M6999 1229l6 4M7000 515l5-11M7001 3601l4 91M7002 173l3 1M5303 1553L5178 1526M5303 1553L5155 1564M3296 2150L3384 2239M338 2422L489 2429M338 2422L508 2401M747 1515L599 1497M747 1515L592 1486M3545 1090L3577 967M1493 309L1379 385M2029 2262L1929 2167M3576 1205L3491 1109M3576 1205L3465 1113M4148 280L4066 169M4994 4084L5019 3978M4994 4084L4976 3963M373 3386L328 3519M373 3386L344 3537M3676 2035L3624 2163M3676 2035L3598 2164M300 2530L383 2441M4312 1448L4411 1535M4923 2263L4806 2249M3226 3903L3269 4039M4980 166L4928 42M4543 2945L4597 3094M4543 2945L4626 3103M3209 2842L3197 2716M3209 2842L3243 2690M1976 1630L2026 1508M4536 1036L4397 1082M4536 1036L4378 1056M5407 2522L5517 2476M4424 159L4343 286M4424 159L4286 286M1334 2256L1238 2176M2630 3041L2499 3000M3188 4050L3051 4021M3188 4050L3036 4036M6033 2002L6182 1980M1825 1087L1707 1008M1588 576L1495 467M1464 2934L1472 2803M1464 2934L1437 2793M5520 2523L5406 2471M5520 2523L5405 2453M926 107L799 49M926 107L790 13M6744 3517L6809 3409M6452 3539L6385 3659M6452 3539L6349 3662M4412 2659L4538 2614M282 2289L148 2294M2860 378L2832 531M2066 2848L1998 2956M606 3289L643 3152M1420 1184L1540 1137M4686 2823L4689 2689M4686 2823L4640 2662M3059 3168L3142 3290M3156 962L3232 1067M3156 962L3244 1066M3778 634L3814 506M6242 1361L6150 1474" fill="none" stroke="#000" stroke-width="17" stroke-linecap="round" stroke-linejoin="round"/></g>
<rect x="769.5" y="1305.8" width="713" height="427.7" fill="none" stroke="#0000FF" stroke-width="12.5" stroke-linejoin="round"/>
<g font-family='"Liberation Serif","DejaVu Serif",serif' font-size="32.5" fill="#000" text-anchor="middle" letter-spacing="1.5">
<text x="396.5" y="558"><tspan font-size="36" dy="1.2">(</tspan><tspan dy="-1.2">a</tspan><tspan font-size="36" dy="1.2">)</tspan></text>
<text x="1131" y="558"><tspan font-size="36" dy="1.2">(</tspan><tspan dy="-1.2">b</tspan><tspan font-size="36" dy="1.2">)</tspan></text>
<text x="396.5" y="1198"><tspan font-size="36" dy="1.2">(</tspan><tspan dy="-1.2">c</tspan><tspan font-size="36" dy="1.2">)</tspan></text>
<text x="1131" y="1198"><tspan font-size="36" dy="1.2">(</tspan><tspan dy="-1.2">d</tspan><tspan font-size="36" dy="1.2">)</tspan></text>
<text x="396.5" y="1815"><tspan font-size="36" dy="1.2">(</tspan><tspan dy="-1.2">e</tspan><tspan font-size="36" dy="1.2">)</tspan></text>
<text x="1131" y="1815"><tspan font-size="36" dy="1.2">(</tspan><tspan dy="-1.2">f</tspan><tspan font-size="36" dy="1.2">)</tspan></text>
</g>
</svg>
</body></html>
